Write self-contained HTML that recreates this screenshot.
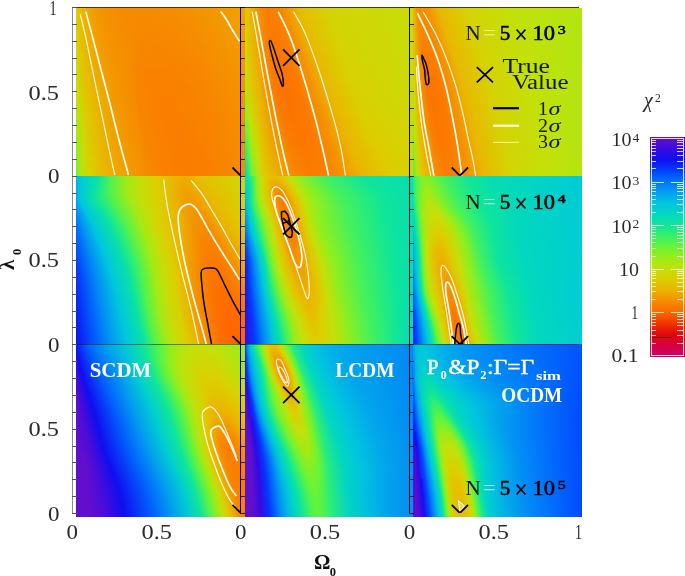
<!DOCTYPE html>
<html><head><meta charset="utf-8"><title>chi2 contours</title>
<style>
html,body{margin:0;padding:0;background:#fff}
#fig{position:relative;width:685px;height:576px;overflow:hidden;background:#fff;font-family:"Liberation Serif",serif}
.p{position:absolute;overflow:hidden}
.p i{display:block;height:2px;width:100%}
#ov{position:absolute;left:0;top:0}
</style></head><body><div id="fig">
<div class="p" style="left:76px;top:7.5px;width:169px;height:168px"><i style="background:linear-gradient(90deg,#decc00 0%,#ecb200 5%,#f29d00 10%,#f59100 16.1%,#f68c00 25.1%,#f68b00 30.1%,#f68b00 35.1%,#f68a00 40.2%,#f68c00 53.5%,#f59100 66.8%,#f39800 80.1%,#f0a300 100%)"></i><i style="background:linear-gradient(90deg,#ddcd00 0%,#ecb300 5%,#f19d00 10.1%,#f59100 16.2%,#f68c00 25.3%,#f68b00 30.4%,#f68a00 35.5%,#f68a00 40.5%,#f68c00 53.8%,#f59100 67%,#f39800 80.3%,#f0a200 100%)"></i><i style="background:linear-gradient(90deg,#dccd01 0%,#ebb300 5%,#f19e00 10.1%,#f59100 16.3%,#f68c00 25.5%,#f68b00 30.6%,#f68a00 35.8%,#f78a00 40.9%,#f68c00 54.1%,#f59000 67.3%,#f39700 80.5%,#f0a200 100%)"></i><i style="background:linear-gradient(90deg,#dcce01 0%,#ebb400 5%,#f19e00 10.2%,#f59100 16.4%,#f68c00 25.7%,#f68b00 30.9%,#f78a00 36.1%,#f78a00 41.3%,#f68b00 54.4%,#f59000 67.5%,#f39700 80.7%,#f0a200 100%)"></i><i style="background:linear-gradient(90deg,#dbce01 0%,#ebb400 5%,#f19f00 10.2%,#f59200 16.6%,#f68c00 25.9%,#f68b00 31.2%,#f78a00 36.4%,#f78900 41.6%,#f68b00 54.7%,#f59000 67.8%,#f39700 80.9%,#f0a100 100%)"></i><i style="background:linear-gradient(90deg,#dbce01 0%,#ebb500 5%,#f19f00 10.3%,#f49200 16.7%,#f68c00 26.2%,#f68a00 31.4%,#f78900 36.7%,#f78900 42%,#f68b00 55%,#f58f00 68%,#f39700 81.1%,#f1a100 100%)"></i><i style="background:linear-gradient(90deg,#dacf01 0%,#eab500 5%,#f1a000 10.3%,#f49200 16.9%,#f68c00 26.4%,#f68a00 31.7%,#f78900 37%,#f78900 42.4%,#f68a00 55.3%,#f58f00 68.3%,#f39600 81.2%,#f1a000 100%)"></i><i style="background:linear-gradient(90deg,#dacf02 0%,#eab500 5%,#f1a000 10.4%,#f49200 17%,#f68c00 26.6%,#f68a00 32%,#f78900 37.4%,#f78900 42.7%,#f68a00 55.6%,#f58f00 68.5%,#f39600 81.4%,#f1a000 100%)"></i><i style="background:linear-gradient(90deg,#d9d002 0%,#eab600 5%,#f1a100 10.5%,#f49300 17.2%,#f68c00 26.9%,#f78a00 32.3%,#f78900 37.7%,#f78800 43.1%,#f78a00 56%,#f58e00 68.8%,#f39600 81.6%,#f1a000 100%)"></i><i style="background:linear-gradient(90deg,#d9d002 0%,#eab600 5%,#f0a100 10.5%,#f49300 17.3%,#f68c00 27.1%,#f78a00 32.6%,#f78900 38%,#f78800 43.5%,#f78a00 56.3%,#f58e00 69%,#f49500 81.8%,#f19f00 100%)"></i><i style="background:linear-gradient(90deg,#d8d102 0%,#e9b700 5%,#f0a100 10.6%,#f49300 17.5%,#f68c00 27.4%,#f78a00 32.9%,#f78800 38.4%,#f78800 43.9%,#f78900 56.6%,#f68e00 69.3%,#f49500 82%,#f19f00 100%)"></i><i style="background:linear-gradient(90deg,#d8d102 0%,#e9b700 5%,#f0a200 10.7%,#f49300 17.6%,#f68c00 27.6%,#f78a00 33.2%,#f78800 38.7%,#f78700 44.2%,#f78900 56.9%,#f68e00 69.6%,#f49500 82.2%,#f19e00 100%)"></i><i style="background:linear-gradient(90deg,#d7d103 0%,#e9b800 5%,#f0a200 10.7%,#f49300 17.8%,#f68c00 27.9%,#f78900 33.5%,#f78800 39%,#f78700 44.6%,#f78900 57.2%,#f68d00 69.8%,#f49400 82.4%,#f19e00 100%)"></i><i style="background:linear-gradient(90deg,#d7d203 0%,#e9b800 5%,#f0a300 10.8%,#f49400 18%,#f68c00 28.1%,#f78900 33.8%,#f78800 39.4%,#f78700 45%,#f78800 57.5%,#f68d00 70.1%,#f49400 82.6%,#f19e00 100%)"></i><i style="background:linear-gradient(90deg,#d6d203 0%,#e9b800 5%,#f0a300 10.8%,#f49400 18.1%,#f68c00 28.4%,#f78900 34.1%,#f78700 39.7%,#f78700 45.4%,#f78800 57.9%,#f68d00 70.3%,#f49400 82.8%,#f19d00 100%)"></i><i style="background:linear-gradient(90deg,#d6d303 0%,#e8b900 5%,#f0a400 10.9%,#f49400 18.3%,#f68c00 28.6%,#f78900 34.3%,#f78700 40.1%,#f78600 45.8%,#f78800 58.2%,#f68c00 70.6%,#f49300 83%,#f29d00 100%)"></i><i style="background:linear-gradient(90deg,#d5d303 0%,#e8b900 5%,#f0a400 11%,#f49400 18.4%,#f68c00 28.9%,#f78900 34.6%,#f78700 40.4%,#f78600 46.1%,#f78800 58.5%,#f68c00 70.8%,#f49300 83.2%,#f29c00 100%)"></i><i style="background:linear-gradient(90deg,#d4d304 0%,#e8ba00 5%,#f0a400 11%,#f49400 18.6%,#f68c00 29.1%,#f78900 34.9%,#f78600 40.7%,#f88600 46.5%,#f78700 58.8%,#f68c00 71.1%,#f49300 83.4%,#f29c00 100%)"></i><i style="background:linear-gradient(90deg,#d4d404 0%,#e8ba00 5%,#efa500 11.1%,#f49500 18.8%,#f68c00 29.4%,#f78800 35.2%,#f78600 41%,#f88500 46.9%,#f78700 59.1%,#f68b00 71.3%,#f49200 83.6%,#f29c00 100%)"></i><i style="background:linear-gradient(90deg,#d3d404 0%,#e7ba00 5%,#efa500 11.2%,#f49500 18.9%,#f68c00 29.6%,#f78800 35.5%,#f78600 41.4%,#f88500 47.2%,#f78700 59.4%,#f68b00 71.6%,#f49200 83.8%,#f29b00 100%)"></i><i style="background:linear-gradient(90deg,#d3d504 0%,#e7bb00 5%,#efa600 11.2%,#f49500 19.1%,#f68c00 29.9%,#f78800 35.8%,#f88600 41.7%,#f88500 47.6%,#f78600 59.7%,#f68b00 71.9%,#f49200 84%,#f29b00 100%)"></i><i style="background:linear-gradient(90deg,#d2d504 0%,#e7bb00 5%,#efa600 11.3%,#f49500 19.2%,#f68c00 30.1%,#f78800 36.1%,#f88600 42%,#f88500 48%,#f78600 60.1%,#f68b00 72.1%,#f59100 84.2%,#f29b00 100%)"></i><i style="background:linear-gradient(90deg,#d2d505 0%,#e7bc00 5%,#efa600 11.3%,#f49500 19.3%,#f68c00 30.3%,#f78800 36.4%,#f88500 42.4%,#f88400 48.4%,#f88600 60.4%,#f68a00 72.4%,#f59100 84.4%,#f29a00 100%)"></i><i style="background:linear-gradient(90deg,#d1d605 0%,#e7bc00 5%,#efa700 11.4%,#f39600 19.5%,#f68c00 30.6%,#f78800 36.6%,#f88500 42.7%,#f88400 48.7%,#f88600 60.7%,#f78a00 72.6%,#f59100 84.5%,#f29a00 100%)"></i><i style="background:linear-gradient(90deg,#d1d605 0%,#e6bd00 5%,#efa700 11.5%,#f39600 19.6%,#f68c00 30.8%,#f78800 36.9%,#f88500 43%,#f88400 49.1%,#f88500 61%,#f78a00 72.9%,#f59100 84.7%,#f29900 100%)"></i><i style="background:linear-gradient(90deg,#d0d705 0%,#e6bd00 5%,#efa800 11.5%,#f39600 19.8%,#f68c00 31%,#f78700 37.2%,#f88500 43.3%,#f88400 49.5%,#f88500 61.3%,#f78900 73.1%,#f59000 84.9%,#f39900 100%)"></i><i style="background:linear-gradient(90deg,#d0d706 0%,#e6be00 5%,#efa800 11.6%,#f39600 19.9%,#f68c00 31.2%,#f78700 37.4%,#f88400 43.6%,#f88300 49.8%,#f88500 61.6%,#f78900 73.4%,#f59000 85.1%,#f39900 100%)"></i><i style="background:linear-gradient(90deg,#cfd806 0%,#e5be00 5%,#eea900 11.6%,#f39700 20%,#f68c00 31.4%,#f78700 37.7%,#f88400 43.9%,#f88300 50.2%,#f88500 61.9%,#f78900 73.6%,#f59000 85.3%,#f39800 100%)"></i><i style="background:linear-gradient(90deg,#ced806 0%,#e5bf00 5%,#eea900 11.7%,#f39700 20.1%,#f68c00 31.6%,#f78700 37.9%,#f88400 44.2%,#f88300 50.5%,#f88400 62.2%,#f78900 73.9%,#f58f00 85.5%,#f39800 100%)"></i><i style="background:linear-gradient(90deg,#ced906 0%,#e5bf00 5%,#eeaa00 11.7%,#f39700 20.2%,#f68c00 31.8%,#f78700 38.2%,#f88400 44.5%,#f88300 50.9%,#f88400 62.5%,#f78800 74.1%,#f58f00 85.7%,#f39800 100%)"></i><i style="background:linear-gradient(90deg,#cdd907 0%,#e5c000 5%,#eeaa00 11.7%,#f39700 20.3%,#f68c00 32%,#f78700 38.4%,#f88400 44.8%,#f88200 51.2%,#f88400 62.8%,#f78800 74.3%,#f58f00 85.9%,#f39700 100%)"></i><i style="background:linear-gradient(90deg,#ccda07 0%,#e4c000 5%,#eeab00 11.8%,#f39800 20.4%,#f68c00 32.1%,#f78700 38.6%,#f88300 45.1%,#f88200 51.6%,#f88400 63.1%,#f78800 74.6%,#f58f00 86.1%,#f39700 100%)"></i><i style="background:linear-gradient(90deg,#ccda07 0%,#e4c100 5%,#eeac00 11.8%,#f39800 20.5%,#f68c00 32.3%,#f78700 38.8%,#f88300 45.4%,#f98200 51.9%,#f88300 63.4%,#f78800 74.8%,#f58e00 86.3%,#f39700 100%)"></i><i style="background:linear-gradient(90deg,#cbdb07 0%,#e4c100 5%,#eeac00 11.8%,#f39800 20.6%,#f68c00 32.4%,#f78700 39%,#f88300 45.7%,#f98200 52.3%,#f88300 63.7%,#f78700 75.1%,#f58e00 86.5%,#f39600 100%)"></i><i style="background:linear-gradient(90deg,#cadb08 0%,#e3c200 5%,#edad00 11.9%,#f39900 20.7%,#f68c00 32.5%,#f78600 39.2%,#f88300 45.9%,#f98200 52.6%,#f88300 64%,#f78700 75.3%,#f68e00 86.6%,#f39600 100%)"></i><i style="background:linear-gradient(90deg,#c9dc08 0%,#e3c200 5%,#edad00 11.9%,#f39900 20.8%,#f68c00 32.6%,#f78600 39.4%,#f88300 46.2%,#f98100 52.9%,#f88300 64.2%,#f78700 75.5%,#f68d00 86.8%,#f39600 100%)"></i><i style="background:linear-gradient(90deg,#c9dc08 0%,#e3c300 5%,#edae00 11.9%,#f39900 20.8%,#f68c00 32.7%,#f78600 39.6%,#f88300 46.4%,#f98100 53.3%,#f88300 64.5%,#f78700 75.8%,#f68d00 87%,#f49500 100%)"></i><i style="background:linear-gradient(90deg,#c8dd09 0%,#e2c400 5%,#edaf00 12%,#f29a00 20.9%,#f68c00 32.8%,#f78600 39.8%,#f88200 46.7%,#f98100 53.6%,#f88300 64.8%,#f78700 76%,#f68d00 87.2%,#f49500 100%)"></i><i style="background:linear-gradient(90deg,#c7de09 0%,#e2c400 5%,#edaf00 12%,#f29a00 20.9%,#f68c00 32.9%,#f78600 39.9%,#f88200 46.9%,#f98100 53.9%,#f88200 65.1%,#f78600 76.2%,#f68d00 87.4%,#f49500 100%)"></i><i style="background:linear-gradient(90deg,#c6de09 0%,#e2c500 5%,#edb000 12%,#f29a00 21%,#f68c00 32.9%,#f78600 40%,#f88200 47.1%,#f98100 54.2%,#f88200 65.3%,#f78600 76.4%,#f68d00 87.5%,#f49400 100%)"></i><i style="background:linear-gradient(90deg,#c5df09 0%,#e1c600 5%,#ecb100 12%,#f29b00 21%,#f68c00 33%,#f88600 40.2%,#f88200 47.4%,#f98100 54.5%,#f88200 65.6%,#f78600 76.7%,#f68c00 87.7%,#f49400 100%)"></i><i style="background:linear-gradient(90deg,#c4e00a 0%,#e1c600 5%,#ecb200 12%,#f29b00 21%,#f68c00 33%,#f88600 40.3%,#f98200 47.6%,#f98100 54.9%,#f98200 65.9%,#f88600 76.9%,#f68c00 87.9%,#f49400 100%)"></i><i style="background:linear-gradient(90deg,#c3e00a 0%,#e1c700 5%,#ecb200 12%,#f29b00 21%,#f68c00 33%,#f88600 40.4%,#f98200 47.8%,#f98000 55.1%,#f98200 66.1%,#f88600 77.1%,#f68c00 88.1%,#f49300 100%)"></i><i style="background:linear-gradient(90deg,#c2e10b 0%,#e0c800 5%,#ecb300 12%,#f29c00 21%,#f68c00 33%,#f88600 40.5%,#f98200 48%,#f98000 55.4%,#f98200 66.4%,#f88600 77.3%,#f68c00 88.3%,#f49300 100%)"></i><i style="background:linear-gradient(90deg,#c0e10b 0%,#e0c900 5%,#ebb300 12%,#f29c00 21%,#f68c00 33%,#f88600 40.6%,#f98200 48.1%,#f98000 55.7%,#f98200 66.6%,#f88600 77.5%,#f68c00 88.4%,#f49300 100%)"></i><i style="background:linear-gradient(90deg,#bfe20c 0%,#dfca00 5%,#ebb400 11.9%,#f29d00 21%,#f68c00 33%,#f88600 40.6%,#f98200 48.3%,#f98000 56%,#f98200 66.9%,#f88500 77.8%,#f68b00 88.6%,#f49300 100%)"></i><i style="background:linear-gradient(90deg,#bde20c 0%,#dfca00 5%,#ebb500 11.9%,#f19d00 21%,#f68c00 32.9%,#f88600 40.7%,#f98200 48.5%,#f98000 56.3%,#f98100 67.1%,#f88500 78%,#f68b00 88.8%,#f49200 100%)"></i><i style="background:linear-gradient(90deg,#bce30d 0%,#decb00 4.9%,#eab500 11.9%,#f19e00 20.9%,#f68d00 32.9%,#f88600 40.8%,#f98200 48.7%,#f98000 56.6%,#f98100 67.4%,#f88500 78.2%,#f68b00 89%,#f49200 100%)"></i><i style="background:linear-gradient(90deg,#bae30e 0%,#decc00 4.9%,#eab600 11.8%,#f19e00 20.9%,#f68d00 32.9%,#f88600 40.8%,#f98200 48.8%,#f98000 56.8%,#f98100 67.6%,#f88500 78.4%,#f68b00 89.1%,#f49200 100%)"></i><i style="background:linear-gradient(90deg,#b8e40e 0%,#ddcd00 4.9%,#eab700 11.8%,#f19f00 20.9%,#f68d00 32.8%,#f78600 40.9%,#f98100 49%,#f98000 57.1%,#f98100 67.8%,#f88500 78.6%,#f68b00 89.3%,#f49200 100%)"></i><i style="background:linear-gradient(90deg,#b6e40f 0%,#dccd01 4.9%,#e9b700 11.7%,#f19f00 20.8%,#f68d00 32.8%,#f78600 41%,#f98100 49.2%,#f98000 57.4%,#f98100 68.1%,#f88500 78.8%,#f68b00 89.5%,#f59200 100%)"></i><i style="background:linear-gradient(90deg,#b5e50f 0%,#dbce01 4.8%,#e9b800 11.7%,#f1a000 20.8%,#f68e00 32.7%,#f78600 41%,#f98100 49.3%,#f98000 57.6%,#f98100 68.3%,#f88500 79%,#f68b00 89.6%,#f59100 100%)"></i><i style="background:linear-gradient(90deg,#b3e510 0%,#dacf01 4.8%,#e8b900 11.6%,#f1a000 20.8%,#f58e00 32.7%,#f78600 41.1%,#f98100 49.5%,#f98000 57.9%,#f98100 68.5%,#f88500 79.2%,#f68a00 89.8%,#f59100 100%)"></i><i style="background:linear-gradient(90deg,#b1e611 0%,#d9d002 4.7%,#e8b900 11.6%,#f1a100 20.7%,#f58e00 32.6%,#f78700 41.1%,#f98100 49.6%,#f98000 58.1%,#f98100 68.7%,#f88500 79.4%,#f68a00 90%,#f59100 100%)"></i><i style="background:linear-gradient(90deg,#afe611 0%,#d8d002 4.7%,#e8ba00 11.5%,#f0a100 20.7%,#f58f00 32.6%,#f78700 41.1%,#f98100 49.7%,#f98000 58.3%,#f98100 69%,#f88500 79.5%,#f68a00 90.2%,#f59100 100%)"></i><i style="background:linear-gradient(90deg,#ade712 0%,#d7d103 4.7%,#e7bb00 11.4%,#f0a200 20.6%,#f58f00 32.5%,#f78700 41.2%,#f98200 49.9%,#f98000 58.6%,#f98100 69.2%,#f88400 79.7%,#f68a00 90.3%,#f59100 100%)"></i><i style="background:linear-gradient(90deg,#abe713 0%,#d6d203 4.6%,#e7bc00 11.3%,#f0a200 20.6%,#f59000 32.4%,#f78700 41.2%,#f98200 50%,#f98000 58.8%,#f98100 69.4%,#f88400 79.9%,#f78a00 90.5%,#f59000 100%)"></i><i style="background:linear-gradient(90deg,#a9e813 0%,#d5d303 4.6%,#e6bc00 11.2%,#f0a300 20.6%,#f59000 32.3%,#f78700 41.2%,#f98200 50.1%,#f98000 59.1%,#f98100 69.6%,#f88400 80.1%,#f78a00 90.7%,#f59000 100%)"></i><i style="background:linear-gradient(90deg,#a7e914 0%,#d4d304 4.5%,#e6bd00 11.1%,#f0a300 20.5%,#f59100 32.3%,#f78800 41.3%,#f98200 50.3%,#f97f00 59.3%,#f98100 69.8%,#f88400 80.3%,#f78a00 90.8%,#f59000 100%)"></i><i style="background:linear-gradient(90deg,#a6e915 0%,#d3d404 4.5%,#e6be00 11%,#f0a400 20.4%,#f59100 32.2%,#f78800 41.3%,#f98200 50.4%,#f97f00 59.5%,#f98100 70%,#f88400 80.5%,#f78a00 91%,#f59000 100%)"></i><i style="background:linear-gradient(90deg,#a4ea15 0%,#d2d505 4.4%,#e5bf00 10.9%,#f0a400 20.4%,#f59200 32.1%,#f78800 41.3%,#f98200 50.5%,#f97f00 59.8%,#f98100 70.2%,#f88400 80.7%,#f78a00 91.1%,#f59000 100%)"></i><i style="background:linear-gradient(90deg,#a2ea16 0%,#d1d605 4.3%,#e5bf00 10.8%,#efa500 20.3%,#f49200 32%,#f78800 41.3%,#f98200 50.6%,#f97f00 60%,#f98100 70.4%,#f88400 80.9%,#f78a00 91.3%,#f59000 100%)"></i><i style="background:linear-gradient(90deg,#a0eb17 0%,#d0d705 4.3%,#e4c000 10.7%,#efa600 20.3%,#f49300 31.9%,#f78800 41.3%,#f98200 50.8%,#f97f00 60.2%,#f98100 70.6%,#f88400 81%,#f78900 91.5%,#f58f00 100%)"></i><i style="background:linear-gradient(90deg,#9dec17 0%,#cfd706 4.2%,#e4c100 10.6%,#efa600 20.2%,#f49300 31.8%,#f78900 41.4%,#f98200 50.9%,#f97f00 60.4%,#f98100 70.8%,#f88400 81.2%,#f78900 91.6%,#f58f00 100%)"></i><i style="background:linear-gradient(90deg,#9bec18 0%,#ced806 4.2%,#e4c200 10.5%,#efa700 20.2%,#f49400 31.7%,#f78900 41.4%,#f98200 51%,#f97f00 60.7%,#f98100 71%,#f88400 81.4%,#f78900 91.8%,#f58f00 100%)"></i><i style="background:linear-gradient(90deg,#99ed1a 0%,#cdd907 4.1%,#e3c300 10.4%,#efa700 20.1%,#f49400 31.6%,#f78900 41.4%,#f98200 51.1%,#f97f00 60.9%,#f98100 71.2%,#f88400 81.6%,#f78900 92%,#f58f00 100%)"></i><i style="background:linear-gradient(90deg,#96ed1c 0%,#ccda07 4%,#e3c300 10.3%,#efa800 20%,#f49500 31.6%,#f78a00 41.4%,#f88200 51.2%,#f97f00 61.1%,#f98100 71.4%,#f88400 81.8%,#f78900 92.1%,#f58f00 100%)"></i><i style="background:linear-gradient(90deg,#93ed1d 0%,#cbdb07 4%,#e2c400 10.2%,#efa800 20%,#f49500 31.5%,#f78a00 41.4%,#f88200 51.4%,#f97f00 61.3%,#f98000 71.6%,#f88400 82%,#f78900 92.3%,#f58f00 100%)"></i><i style="background:linear-gradient(90deg,#91ee1f 0%,#cadc08 3.9%,#e2c500 10.1%,#eea900 19.9%,#f39600 31.4%,#f68a00 41.4%,#f88200 51.5%,#f97f00 61.5%,#f98000 71.8%,#f88400 82.2%,#f78900 92.5%,#f58e00 100%)"></i><i style="background:linear-gradient(90deg,#8eee21 0%,#c9dc08 3.9%,#e1c600 10%,#eeaa00 19.9%,#f39700 31.3%,#f68a00 41.4%,#f88200 51.6%,#f97f00 61.7%,#f98000 72%,#f88400 82.3%,#f78900 92.6%,#f58e00 100%)"></i><i style="background:linear-gradient(90deg,#8bef22 0%,#c8dd09 3.8%,#e1c700 9.9%,#eeaa00 19.8%,#f39700 31.2%,#f68b00 41.4%,#f88200 51.7%,#f97f00 62%,#f98000 72.2%,#f88400 82.5%,#f78900 92.8%,#f58e00 100%)"></i><i style="background:linear-gradient(90deg,#89ef24 0%,#c7de09 3.7%,#e0c700 9.8%,#eeab00 19.7%,#f39800 31.1%,#f68b00 41.4%,#f88200 51.8%,#f97f00 62.2%,#f98000 72.4%,#f88400 82.7%,#f78900 93%,#f58e00 100%)"></i><i style="background:linear-gradient(90deg,#86ef26 0%,#c6df09 3.7%,#e0c800 9.7%,#eeab00 19.7%,#f39800 31%,#f68b00 41.5%,#f88200 51.9%,#f97f00 62.4%,#f98000 72.6%,#f88400 82.9%,#f78900 93.1%,#f68e00 100%)"></i><i style="background:linear-gradient(90deg,#83f027 0%,#c4e00a 3.6%,#e0c900 9.5%,#eeac00 19.6%,#f39900 30.9%,#f68c00 41.5%,#f88300 52%,#f97f00 62.6%,#f98000 72.8%,#f88400 83%,#f78900 93.3%,#f68e00 100%)"></i><i style="background:linear-gradient(90deg,#81f029 0%,#c3e00a 3.5%,#dfca00 9.4%,#edad00 19.5%,#f29900 30.8%,#f68c00 41.5%,#f88300 52.2%,#f97f00 62.8%,#f98000 73%,#f88400 83.2%,#f78900 93.4%,#f68e00 100%)"></i><i style="background:linear-gradient(90deg,#7ef12b 0%,#c1e10b 3.5%,#dfcb00 9.3%,#edad00 19.5%,#f29a00 30.7%,#f68c00 41.5%,#f88300 52.3%,#f97f00 63.1%,#f98000 73.2%,#f88300 83.4%,#f78800 93.6%,#f68d00 100%)"></i><i style="background:linear-gradient(90deg,#7bf12c 0%,#c0e10b 3.4%,#decb00 9.2%,#edae00 19.4%,#f29b00 30.6%,#f68c00 41.5%,#f88300 52.4%,#f97f00 63.3%,#f98000 73.4%,#f88300 83.6%,#f78800 93.8%,#f68d00 100%)"></i><i style="background:linear-gradient(90deg,#79f12e 0%,#bee20c 3.4%,#decc00 9.1%,#edae00 19.4%,#f29b00 30.5%,#f68d00 41.5%,#f88300 52.5%,#f97f00 63.5%,#f98000 73.6%,#f88300 83.8%,#f78800 93.9%,#f68d00 100%)"></i><i style="background:linear-gradient(90deg,#76f22f 0%,#bde20d 3.3%,#ddcd00 9%,#edaf00 19.3%,#f29c00 30.4%,#f68d00 41.5%,#f88300 52.6%,#f97f00 63.7%,#f98000 73.9%,#f88300 84%,#f78800 94.1%,#f68d00 100%)"></i><i style="background:linear-gradient(90deg,#73f231 0%,#bbe30d 3.2%,#dccd01 8.9%,#edb000 19.2%,#f29c00 30.3%,#f68d00 41.5%,#f88300 52.8%,#f97f00 63.9%,#f98000 74.1%,#f88300 84.2%,#f78800 94.3%,#f68d00 100%)"></i><i style="background:linear-gradient(90deg,#71f333 0%,#b9e30e 3.2%,#dbce01 8.8%,#edb000 19.2%,#f29d00 30.3%,#f68e00 41.6%,#f88300 52.9%,#f97f00 64.2%,#f98000 74.3%,#f88300 84.3%,#f78800 94.4%,#f68d00 100%)"></i><i style="background:linear-gradient(90deg,#6ef334 0%,#b8e40e 3.1%,#dbcf01 8.7%,#ecb100 19.1%,#f29d00 30.2%,#f68e00 41.6%,#f88300 53%,#f97f00 64.4%,#f98000 74.5%,#f88300 84.5%,#f78800 94.6%,#f68c00 100%)"></i><i style="background:linear-gradient(90deg,#6cf336 0%,#b6e40f 3.1%,#dacf02 8.6%,#ecb100 19.1%,#f19e00 30.1%,#f58e00 41.6%,#f88300 53.1%,#f97f00 64.6%,#f98000 74.7%,#f88300 84.7%,#f78800 94.8%,#f68c00 100%)"></i><i style="background:linear-gradient(90deg,#69f437 0%,#b5e50f 3%,#d9d002 8.5%,#ecb200 19%,#f19e00 30%,#f58e00 41.6%,#f88300 53.3%,#f97f00 64.9%,#f98000 74.9%,#f88300 84.9%,#f78800 94.9%,#f68c00 100%)"></i></div>
<div class="p" style="left:245px;top:7.5px;width:168px;height:168px"><i style="background:linear-gradient(90deg,#dfc900 0%,#e6bd00 2%,#f0a300 6%,#f68d00 8.7%,#f98000 11.4%,#fa7d00 14.1%,#f88400 20.2%,#f29d00 26.2%,#e6bc00 32.2%,#d4d404 50.2%,#c7de09 100%)"></i><i style="background:linear-gradient(90deg,#dfcb00 0%,#e6bd00 2%,#f0a300 6.1%,#f68d00 8.9%,#f98000 11.6%,#fa7d00 14.3%,#f88300 20.4%,#f29d00 26.6%,#e7bc00 32.6%,#d4d404 50.5%,#c7dd09 100%)"></i><i style="background:linear-gradient(90deg,#decc00 0%,#e6be00 2.1%,#f0a400 6.2%,#f68d00 9%,#f98000 11.8%,#fa7d00 14.6%,#f88300 20.8%,#f29d00 26.9%,#e7bc00 33.1%,#d4d404 50.9%,#c7dd09 100%)"></i><i style="background:linear-gradient(90deg,#ddcd00 0%,#e6be00 2.1%,#f0a400 6.2%,#f68d00 9.1%,#f98000 12%,#fa7d00 14.8%,#f88300 21%,#f29c00 27.3%,#e7bc00 33.5%,#d4d404 51.2%,#c8dd09 100%)"></i><i style="background:linear-gradient(90deg,#dccd01 0%,#e5be00 2.1%,#f0a400 6.3%,#f68d00 9.2%,#f97f00 12.1%,#fa7c00 15%,#f88300 21.3%,#f29c00 27.6%,#e7bc00 33.9%,#d4d404 51.6%,#c8dd09 100%)"></i><i style="background:linear-gradient(90deg,#dbce01 0%,#e5bf00 2.1%,#f0a500 6.4%,#f68d00 9.3%,#f97f00 12.3%,#fa7c00 15.3%,#f88200 21.6%,#f29c00 28%,#e7bc00 34.4%,#d4d304 51.9%,#c8dd09 100%)"></i><i style="background:linear-gradient(90deg,#dacf02 0%,#e5bf00 2.1%,#efa500 6.5%,#f68d00 9.5%,#f97f00 12.5%,#fa7c00 15.5%,#f98200 21.9%,#f29c00 28.3%,#e7bc00 34.8%,#d4d304 52.3%,#c8dd09 100%)"></i><i style="background:linear-gradient(90deg,#d9d002 0%,#e5bf00 2.2%,#efa500 6.5%,#f68d00 9.6%,#f97e00 12.7%,#fa7b00 15.7%,#f98200 22.2%,#f29b00 28.7%,#e7bb00 35.2%,#d4d304 52.6%,#c8dd08 100%)"></i><i style="background:linear-gradient(90deg,#d8d102 0%,#e5c000 2.2%,#efa600 6.6%,#f68d00 9.7%,#f97e00 12.8%,#fa7b00 15.9%,#f98100 22.5%,#f29b00 29.1%,#e7bb00 35.6%,#d5d304 52.9%,#c8dd08 100%)"></i><i style="background:linear-gradient(90deg,#d7d103 0%,#e4c000 2.2%,#efa600 6.7%,#f68d00 9.8%,#fa7e00 13%,#fa7b00 16.1%,#f98100 22.8%,#f29b00 29.4%,#e7bb00 36.1%,#d5d304 53.3%,#c8dd08 100%)"></i><i style="background:linear-gradient(90deg,#d6d203 0%,#e4c000 2.2%,#efa600 6.8%,#f68d00 10%,#fa7e00 13.2%,#fa7a00 16.4%,#f98100 23.1%,#f29b00 29.8%,#e7bb00 36.5%,#d5d304 53.6%,#c8dd08 100%)"></i><i style="background:linear-gradient(90deg,#d5d303 0%,#e4c100 2.3%,#efa700 6.8%,#f68d00 10.1%,#fa7d00 13.3%,#fb7a00 16.6%,#f98000 23.4%,#f29a00 30.1%,#e7bb00 36.9%,#d5d303 54%,#c8dd08 100%)"></i><i style="background:linear-gradient(90deg,#d4d304 0%,#e4c100 2.3%,#efa700 6.9%,#f68d00 10.2%,#fa7d00 13.5%,#fb7900 16.8%,#f98000 23.6%,#f29a00 30.5%,#e7bb00 37.4%,#d5d303 54.3%,#c9dd08 100%)"></i><i style="background:linear-gradient(90deg,#d3d404 0%,#e4c100 2.3%,#efa700 7%,#f68c00 10.3%,#fa7d00 13.7%,#fb7900 17%,#f98000 23.9%,#f29a00 30.9%,#e7bb00 37.8%,#d5d303 54.6%,#c9dc08 100%)"></i><i style="background:linear-gradient(90deg,#d2d504 0%,#e4c200 2.4%,#efa700 7%,#f68c00 10.4%,#fa7c00 13.8%,#fb7900 17.2%,#f97f00 24.2%,#f29a00 31.2%,#e7bb00 38.2%,#d5d303 55%,#c9dc08 100%)"></i><i style="background:linear-gradient(90deg,#d1d605 0%,#e3c200 2.4%,#efa800 7.1%,#f68c00 10.5%,#fa7c00 14%,#fb7800 17.4%,#f97f00 24.5%,#f29900 31.6%,#e7ba00 38.6%,#d5d303 55.3%,#c9dc08 100%)"></i><i style="background:linear-gradient(90deg,#d1d605 0%,#e3c200 2.4%,#efa800 7.2%,#f68c00 10.7%,#fa7c00 14.2%,#fb7800 17.6%,#f97f00 24.8%,#f39900 31.9%,#e8ba00 39.1%,#d5d303 55.7%,#c9dc08 100%)"></i><i style="background:linear-gradient(90deg,#d0d706 0%,#e3c200 2.4%,#efa800 7.2%,#f68c00 10.8%,#fa7c00 14.3%,#fb7800 17.9%,#f97e00 25.1%,#f39900 32.3%,#e8ba00 39.5%,#d6d203 56%,#c9dc08 100%)"></i><i style="background:linear-gradient(90deg,#cfd806 0%,#e3c300 2.4%,#eea900 7.3%,#f68c00 10.9%,#fa7b00 14.5%,#fb7700 18.1%,#fa7e00 25.4%,#f39900 32.6%,#e8ba00 39.9%,#d6d203 56.3%,#c9dc08 100%)"></i><i style="background:linear-gradient(90deg,#ced906 0%,#e3c300 2.5%,#eea900 7.4%,#f68c00 11%,#fa7b00 14.7%,#fb7700 18.3%,#fa7e00 25.7%,#f39800 33%,#e8ba00 40.4%,#d6d203 56.7%,#c9dc08 100%)"></i><i style="background:linear-gradient(90deg,#cdd907 0%,#e3c300 2.5%,#eea900 7.5%,#f68c00 11.2%,#fa7b00 14.8%,#fb7700 18.5%,#fa7d00 25.9%,#f39800 33.4%,#e8ba00 40.8%,#d6d203 57%,#c9dc08 100%)"></i><i style="background:linear-gradient(90deg,#ccda07 0%,#e2c400 2.5%,#eeaa00 7.5%,#f68c00 11.3%,#fa7a00 15%,#fb7600 18.7%,#fa7d00 26.2%,#f39800 33.7%,#e8ba00 41.2%,#d6d203 57.4%,#c9dc08 100%)"></i><i style="background:linear-gradient(90deg,#cbdb07 0%,#e2c400 2.5%,#eeaa00 7.6%,#f68c00 11.4%,#fa7a00 15.2%,#fc7600 19%,#fa7d00 26.5%,#f39800 34.1%,#e8ba00 41.6%,#d6d203 57.7%,#cadc08 100%)"></i><i style="background:linear-gradient(90deg,#cadc08 0%,#e2c400 2.6%,#eeaa00 7.7%,#f68c00 11.5%,#fb7a00 15.3%,#fc7600 19.2%,#fa7c00 26.8%,#f39700 34.4%,#e8b900 42.1%,#d6d203 58.1%,#cadc08 100%)"></i><i style="background:linear-gradient(90deg,#c9dc08 0%,#e2c500 2.6%,#eeab00 7.8%,#f68c00 11.6%,#fb7a00 15.5%,#fc7500 19.4%,#fa7c00 27.1%,#f39700 34.8%,#e8b900 42.5%,#d6d203 58.4%,#cadc08 100%)"></i><i style="background:linear-gradient(90deg,#c7dd09 0%,#e2c500 2.6%,#eeab00 7.8%,#f68c00 11.8%,#fb7900 15.7%,#fc7500 19.6%,#fa7c00 27.4%,#f39700 35.2%,#e8b900 42.9%,#d7d203 58.8%,#cadb08 100%)"></i><i style="background:linear-gradient(90deg,#c6de09 0%,#e1c600 2.6%,#eeab00 7.9%,#f68d00 11.9%,#fb7900 15.9%,#fc7500 19.9%,#fa7c00 27.7%,#f39700 35.5%,#e8b900 43.4%,#d7d203 59.1%,#cadb08 100%)"></i><i style="background:linear-gradient(90deg,#c5df0a 0%,#e1c600 2.6%,#eeac00 8%,#f68d00 12%,#fb7900 16.1%,#fc7400 20.1%,#fa7b00 28%,#f39600 35.9%,#e8b900 43.8%,#d7d203 59.5%,#cadb08 100%)"></i><i style="background:linear-gradient(90deg,#c4e00a 0%,#e1c700 2.7%,#eeac00 8%,#f68d00 12.1%,#fb7900 16.2%,#fc7400 20.3%,#fa7b00 28.3%,#f39600 36.3%,#e8b900 44.2%,#d7d103 59.8%,#cadb08 100%)"></i><i style="background:linear-gradient(90deg,#c2e10b 0%,#e1c700 2.7%,#edac00 8.1%,#f68d00 12.3%,#fb7900 16.4%,#fc7400 20.6%,#fa7b00 28.6%,#f39600 36.6%,#e8b900 44.6%,#d7d103 60.2%,#cadb08 100%)"></i><i style="background:linear-gradient(90deg,#c0e10b 0%,#e0c800 2.7%,#edad00 8.2%,#f68d00 12.4%,#fb7900 16.6%,#fc7400 20.8%,#fa7b00 28.9%,#f39600 37%,#e8b900 45.1%,#d7d103 60.5%,#cbdb07 100%)"></i><i style="background:linear-gradient(90deg,#bee20c 0%,#e0c800 2.8%,#edad00 8.2%,#f68d00 12.5%,#fb7800 16.8%,#fc7300 21.1%,#fa7a00 29.2%,#f39600 37.4%,#e8b800 45.5%,#d7d103 60.9%,#cbdb07 100%)"></i><i style="background:linear-gradient(90deg,#bce20d 0%,#e0c900 2.8%,#edae00 8.3%,#f68d00 12.7%,#fb7800 17%,#fc7300 21.3%,#fa7a00 29.5%,#f49500 37.7%,#e9b800 45.9%,#d7d103 61.3%,#cbdb07 100%)"></i><i style="background:linear-gradient(90deg,#bae30e 0%,#dfca00 2.8%,#edae00 8.4%,#f68d00 12.8%,#fb7800 17.2%,#fc7300 21.6%,#fb7a00 29.8%,#f49500 38.1%,#e9b800 46.4%,#d8d102 61.6%,#cbdb07 100%)"></i><i style="background:linear-gradient(90deg,#b8e40e 0%,#dfca00 2.8%,#edae00 8.5%,#f68d00 12.9%,#fb7800 17.4%,#fc7300 21.9%,#fb7a00 30.2%,#f49500 38.5%,#e9b800 46.8%,#d8d102 62%,#cbdb07 100%)"></i><i style="background:linear-gradient(90deg,#b5e40f 0%,#decb00 2.9%,#edaf00 8.5%,#f68e00 13.1%,#fb7800 17.6%,#fc7300 22.1%,#fb7a00 30.5%,#f49500 38.9%,#e9b800 47.2%,#d8d102 62.4%,#cbda07 100%)"></i><i style="background:linear-gradient(90deg,#b3e510 0%,#decc00 2.9%,#edaf00 8.6%,#f68e00 13.2%,#fb7800 17.8%,#fc7200 22.4%,#fb7900 30.8%,#f49500 39.2%,#e9b800 47.6%,#d8d102 62.8%,#cbda07 100%)"></i><i style="background:linear-gradient(90deg,#b0e611 0%,#ddcd00 2.9%,#edb000 8.7%,#f58e00 13.3%,#fb7800 18%,#fc7200 22.7%,#fb7900 31.1%,#f49400 39.6%,#e9b800 48.1%,#d8d102 63.2%,#ccda07 100%)"></i><i style="background:linear-gradient(90deg,#aee712 0%,#dccd01 2.9%,#ecb000 8.8%,#f58e00 13.5%,#fb7800 18.2%,#fc7200 23%,#fb7900 31.5%,#f49400 40%,#e9b800 48.5%,#d8d002 63.6%,#ccda07 100%)"></i><i style="background:linear-gradient(90deg,#abe713 0%,#dbce01 2.9%,#ecb100 8.8%,#f58e00 13.6%,#fb7800 18.4%,#fc7200 23.2%,#fb7900 31.8%,#f49400 40.4%,#e9b800 48.9%,#d8d002 64%,#ccda07 100%)"></i><i style="background:linear-gradient(90deg,#a8e814 0%,#dacf01 3%,#ecb100 8.9%,#f58f00 13.8%,#fb7800 18.7%,#fc7200 23.5%,#fb7900 32.1%,#f49400 40.8%,#e9b700 49.4%,#d9d002 64.4%,#ccda07 100%)"></i><i style="background:linear-gradient(90deg,#a5e915 0%,#d9d002 3%,#ecb200 9%,#f58f00 13.9%,#fb7800 18.9%,#fc7200 23.8%,#fb7900 32.5%,#f49400 41.1%,#e9b700 49.8%,#d9d002 64.8%,#ccda07 100%)"></i><i style="background:linear-gradient(90deg,#a2ea16 0%,#d8d002 3%,#ecb200 9%,#f58f00 14.1%,#fb7800 19.1%,#fc7200 24.2%,#fb7900 32.8%,#f49400 41.5%,#e9b700 50.2%,#d9d002 65.2%,#ccda07 100%)"></i><i style="background:linear-gradient(90deg,#9feb17 0%,#d7d103 3%,#ecb300 9.1%,#f59000 14.2%,#fb7800 19.4%,#fc7200 24.5%,#fb7900 33.2%,#f49400 41.9%,#e9b700 50.6%,#d9d002 65.6%,#cdd907 100%)"></i><i style="background:linear-gradient(90deg,#9cec18 0%,#d6d203 3.1%,#ebb300 9.2%,#f59000 14.4%,#fb7800 19.6%,#fc7200 24.8%,#fb7900 33.6%,#f49400 42.3%,#e9b700 51.1%,#d9d002 66.1%,#cdd907 100%)"></i><i style="background:linear-gradient(90deg,#98ed1b 0%,#d5d304 3.1%,#ebb300 9.2%,#f59000 14.5%,#fb7800 19.8%,#fc7200 25.1%,#fb7900 33.9%,#f49300 42.7%,#e9b700 51.5%,#d9d002 66.5%,#cdd907 100%)"></i><i style="background:linear-gradient(90deg,#93ed1d 0%,#d3d404 3.1%,#ebb400 9.3%,#f59100 14.7%,#fb7800 20.1%,#fc7200 25.5%,#fb7900 34.3%,#f49300 43.1%,#e9b700 51.9%,#dacf02 66.9%,#cdd906 100%)"></i><i style="background:linear-gradient(90deg,#8fee20 0%,#d2d505 3.1%,#ebb400 9.4%,#f59100 14.9%,#fb7900 20.3%,#fc7200 25.8%,#fb7900 34.6%,#f49300 43.5%,#eab700 52.4%,#dacf02 67.4%,#cdd906 100%)"></i><i style="background:linear-gradient(90deg,#8aef23 0%,#b3e510 1.6%,#d0d705 3.1%,#ebb500 9.5%,#f49200 15%,#fb7900 20.6%,#fc7300 26.1%,#fb7900 35%,#f49300 43.9%,#eab600 52.8%,#dacf02 67.8%,#ced906 100%)"></i><i style="background:linear-gradient(90deg,#85ef26 0%,#b0e611 1.6%,#cfd806 3.2%,#eab500 9.5%,#f49200 15.2%,#fb7900 20.8%,#fc7300 26.5%,#fb7900 35.4%,#f49300 44.3%,#eab600 53.2%,#dacf02 68.3%,#ced806 100%)"></i><i style="background:linear-gradient(90deg,#80f029 0%,#ade712 1.6%,#cdd906 3.2%,#eab600 9.6%,#f49300 15.4%,#fb7900 21.1%,#fc7300 26.9%,#fb7900 35.8%,#f49300 44.7%,#eab600 53.6%,#dacf01 68.7%,#ced806 100%)"></i><i style="background:linear-gradient(90deg,#7bf12c 0%,#a9e813 1.6%,#ccda07 3.2%,#eab600 9.7%,#f49300 15.5%,#fb7900 21.4%,#fc7300 27.2%,#fb7900 36.2%,#f49300 45.1%,#eab600 54.1%,#dacf01 69.2%,#ced806 100%)"></i><i style="background:linear-gradient(90deg,#76f22f 0%,#a6e914 1.6%,#cadb08 3.2%,#eab600 9.8%,#f49400 15.7%,#fb7a00 21.6%,#fc7300 27.6%,#fb7a00 36.5%,#f49300 45.5%,#eab600 54.5%,#dbcf01 69.7%,#cfd806 100%)"></i><i style="background:linear-gradient(90deg,#71f332 0%,#a3ea16 1.6%,#c9dc08 3.3%,#e9b700 9.8%,#f49400 15.9%,#fb7a00 21.9%,#fc7300 28%,#fb7a00 36.9%,#f49300 45.9%,#eab600 54.9%,#dbce01 70.1%,#cfd806 100%)"></i><i style="background:linear-gradient(90deg,#6cf336 0%,#a0eb17 1.7%,#c7de09 3.3%,#e9b700 9.9%,#f49500 16%,#fa7a00 22.2%,#fc7400 28.3%,#fb7a00 37.3%,#f49300 46.4%,#eab600 55.4%,#dbce01 70.6%,#cfd806 100%)"></i><i style="background:linear-gradient(90deg,#67f439 0%,#9cec18 1.7%,#c5df0a 3.3%,#e9b800 10%,#f49500 16.2%,#fa7b00 22.4%,#fc7400 28.7%,#fa7a00 37.7%,#f49300 46.8%,#eab600 55.8%,#dbce01 71.1%,#cfd706 100%)"></i><i style="background:linear-gradient(90deg,#62f33f 0%,#98ed1b 1.7%,#c3e00a 3.4%,#e9b800 10%,#f39600 16.4%,#fa7b00 22.7%,#fc7400 29.1%,#fa7a00 38.1%,#f49300 47.2%,#eab500 56.2%,#dbce01 71.5%,#d0d706 100%)"></i><i style="background:linear-gradient(90deg,#5df344 0%,#93ed1d 1.7%,#c1e10b 3.4%,#d9d002 6.7%,#e8b900 10.1%,#f39600 16.6%,#fa7b00 23%,#fc7400 29.5%,#fa7a00 38.5%,#f49300 47.6%,#eab500 56.6%,#dcce01 72%,#d0d705 100%)"></i><i style="background:linear-gradient(90deg,#58f349 0%,#8fee20 1.7%,#bee20c 3.4%,#d8d002 6.8%,#e8b900 10.2%,#f39700 16.7%,#fa7c00 23.3%,#fc7500 29.8%,#fa7b00 38.9%,#f49300 48%,#eab500 57.1%,#dcce01 72.5%,#d0d705 100%)"></i><i style="background:linear-gradient(90deg,#53f24e 0%,#8aef23 1.7%,#bbe30d 3.4%,#d7d103 6.8%,#e8ba00 10.2%,#f39700 16.9%,#fa7c00 23.6%,#fc7500 30.2%,#fa7b00 39.3%,#f49300 48.4%,#eab500 57.5%,#dcce01 73%,#d0d705 100%)"></i><i style="background:linear-gradient(90deg,#4ef253 0%,#86ef26 1.7%,#b8e40e 3.4%,#d6d203 6.9%,#e7ba00 10.3%,#f39800 17.1%,#fa7c00 23.9%,#fc7500 30.6%,#fa7b00 39.7%,#f49300 48.8%,#eab500 57.9%,#dccd01 73.5%,#d1d605 100%)"></i><i style="background:linear-gradient(90deg,#49f159 0%,#81f029 1.7%,#b5e40f 3.5%,#d5d304 6.9%,#e7bb00 10.4%,#f39900 17.3%,#fa7d00 24.1%,#fc7500 31%,#fa7b00 40.1%,#f49300 49.2%,#eab500 58.4%,#dccd01 74%,#d1d605 100%)"></i><i style="background:linear-gradient(90deg,#44f15e 0%,#7cf12c 1.7%,#b2e510 3.5%,#d4d404 7%,#e7bc00 10.5%,#f39900 17.4%,#fa7d00 24.4%,#fc7600 31.4%,#fa7c00 40.6%,#f49300 49.7%,#ebb500 58.8%,#ddcd01 74.4%,#d1d605 100%)"></i><i style="background:linear-gradient(90deg,#3ff063 0%,#77f22f 1.8%,#afe611 3.5%,#d2d504 7%,#e7bc00 10.5%,#f29a00 17.6%,#fa7d00 24.7%,#fb7600 31.8%,#fa7c00 40.9%,#f49300 50.1%,#ebb500 59.2%,#ddcd00 74.9%,#d1d605 100%)"></i><i style="background:linear-gradient(90deg,#39f069 0%,#73f232 1.8%,#ade712 3.5%,#d1d605 7.1%,#e6bd00 10.6%,#f29a00 17.8%,#fa7e00 25%,#fb7600 32.2%,#fa7c00 41.4%,#f49300 50.5%,#ebb400 59.6%,#ddcd00 75.4%,#d2d605 100%)"></i><i style="background:linear-gradient(90deg,#35ef6e 0%,#6ef335 1.8%,#aae813 3.6%,#d0d705 7.1%,#e6bd00 10.7%,#f29b00 18%,#f97e00 25.3%,#fb7700 32.6%,#fa7c00 41.8%,#f49300 50.9%,#ebb400 60.1%,#ddcd00 75.9%,#d2d505 100%)"></i><i style="background:linear-gradient(90deg,#30ee74 0%,#69f438 1.8%,#a7e914 3.6%,#cfd806 7.2%,#e6be00 10.8%,#f29c00 18.2%,#f97e00 25.6%,#fb7700 33%,#fa7c00 42.2%,#f49300 51.3%,#ebb400 60.5%,#decc00 76.4%,#d2d505 100%)"></i><i style="background:linear-gradient(90deg,#2bec79 0%,#64f43c 1.8%,#a4ea15 3.6%,#cdd906 7.2%,#e5be00 10.8%,#f29c00 18.4%,#f97f00 25.9%,#fb7700 33.4%,#fa7d00 42.6%,#f49300 51.8%,#ebb400 60.9%,#decc00 76.9%,#d2d504 100%)"></i><i style="background:linear-gradient(90deg,#26eb7f 0%,#60f340 1.8%,#a1eb16 3.6%,#ccda07 7.3%,#e5bf00 10.9%,#f29d00 18.5%,#f97f00 26.2%,#fb7800 33.8%,#fa7d00 43%,#f49300 52.2%,#ebb400 61.4%,#decc00 77.4%,#d3d504 100%)"></i><i style="background:linear-gradient(90deg,#21ea84 0%,#5cf345 1.8%,#9eec17 3.6%,#cbdb07 7.3%,#e5bf00 11%,#f19d00 18.7%,#f98000 26.5%,#fb7800 34.2%,#fa7d00 43.4%,#f49300 52.6%,#ebb400 61.8%,#decc00 77.9%,#d3d504 100%)"></i><i style="background:linear-gradient(90deg,#1de98a 0%,#57f349 1.8%,#9aec19 3.7%,#cadc08 7.4%,#e5c000 11%,#f19e00 18.9%,#f98000 26.8%,#fb7800 34.6%,#fa7d00 43.8%,#f49300 53%,#ebb400 62.2%,#decc00 78.4%,#d3d404 100%)"></i><i style="background:linear-gradient(90deg,#18e88f 0%,#53f24e 1.8%,#96ed1b 3.7%,#c8dd08 7.4%,#e4c000 11.1%,#f19f00 19.1%,#f98000 27.1%,#fb7900 35%,#fa7e00 44.2%,#f49300 53.4%,#ebb400 62.6%,#decb00 78.9%,#d3d404 100%)"></i><i style="background:linear-gradient(90deg,#13e795 0%,#4ef253 1.9%,#93ed1e 3.7%,#c7de09 7.4%,#e4c100 11.2%,#f19f00 19.3%,#f98100 27.4%,#fb7900 35.5%,#fa7e00 44.7%,#f49300 53.9%,#ebb300 63.1%,#decb00 79.4%,#d4d404 100%)"></i><i style="background:linear-gradient(90deg,#0fe59a 0%,#4af157 1.9%,#8fee20 3.8%,#c6de09 7.5%,#e4c100 11.2%,#f1a000 19.4%,#f98100 27.7%,#fb7900 35.9%,#f97e00 45.1%,#f49300 54.3%,#ebb300 63.5%,#dfcb00 79.9%,#d4d404 100%)"></i><i style="background:linear-gradient(90deg,#0ee49e 0%,#46f15b 1.9%,#8bef23 3.8%,#c5df0a 7.5%,#e3c200 11.3%,#f1a100 19.6%,#f98200 28%,#fb7900 36.3%,#f97e00 45.5%,#f49400 54.7%,#ebb300 63.9%,#dfcb00 80.4%,#d4d304 100%)"></i><i style="background:linear-gradient(90deg,#0ce2a2 0%,#42f160 1.9%,#87ef25 3.8%,#c3e00a 7.6%,#e3c200 11.4%,#f0a100 19.8%,#f98200 28.2%,#fb7a00 36.7%,#f97f00 45.9%,#f49400 55.1%,#ebb300 64.4%,#dfcb00 80.9%,#d5d304 100%)"></i><i style="background:linear-gradient(90deg,#0be1a7 0%,#3df065 1.9%,#83f027 3.8%,#c1e10b 7.6%,#e3c300 11.5%,#f0a200 20%,#f88200 28.5%,#fa7a00 37.1%,#f97f00 46.3%,#f49400 55.5%,#ebb300 64.8%,#dfca00 81.4%,#d5d304 100%)"></i><i style="background:linear-gradient(90deg,#09dfab 0%,#39f069 1.9%,#80f029 3.9%,#c0e10c 7.7%,#e3c300 11.5%,#f0a200 20.2%,#f88300 28.8%,#fa7a00 37.5%,#f97f00 46.7%,#f49400 56%,#ecb300 65.2%,#dfca00 81.8%,#d5d303 100%)"></i><i style="background:linear-gradient(90deg,#08deaf 0%,#35ef6e 1.9%,#7cf12c 3.9%,#bee20c 7.7%,#e2c400 11.6%,#f0a300 20.4%,#f88300 29.1%,#fa7b00 37.9%,#f97f00 47.1%,#f49400 56.4%,#ecb300 65.6%,#dfca00 82.3%,#d5d303 100%)"></i><i style="background:linear-gradient(90deg,#06dcb3 0%,#32ee72 1.9%,#78f22e 3.9%,#bce20d 7.8%,#e2c500 11.7%,#f0a400 20.5%,#f88300 29.4%,#fa7b00 38.2%,#f98000 47.5%,#f49400 56.8%,#ecb300 66.1%,#dfca00 82.8%,#d6d203 100%)"></i><i style="background:linear-gradient(90deg,#04dab7 0%,#2eed76 2%,#75f230 3.9%,#bae30d 7.8%,#e2c500 11.8%,#f0a400 20.7%,#f88400 29.7%,#fa7b00 38.6%,#f98000 47.9%,#f49400 57.2%,#ecb200 66.5%,#dfca00 83.3%,#d6d203 100%)"></i><i style="background:linear-gradient(90deg,#03d9bb 0%,#2aec7a 2%,#71f333 3.9%,#b8e30e 7.9%,#e1c600 11.8%,#efa500 20.9%,#f88400 30%,#fa7c00 39%,#f98000 48.3%,#f49400 57.6%,#ecb200 66.9%,#dfc900 83.8%,#d6d203 100%)"></i><i style="background:linear-gradient(90deg,#02d7bf 0%,#26eb7f 2%,#6df335 4%,#b7e40f 7.9%,#e1c600 11.9%,#efa500 21.1%,#f88400 30.2%,#fa7c00 39.4%,#f98000 48.7%,#f49400 58.1%,#ecb200 67.4%,#e0c900 84.3%,#d6d203 100%)"></i><i style="background:linear-gradient(90deg,#02d5c3 0%,#22ea83 2%,#6af437 4%,#b5e50f 8%,#e1c700 12%,#efa600 21.2%,#f88500 30.5%,#fa7c00 39.8%,#f98100 49.1%,#f49400 58.5%,#ecb200 67.8%,#e0c900 84.8%,#d7d203 100%)"></i></div>
<div class="p" style="left:413px;top:7.5px;width:169px;height:168px"><i style="background:linear-gradient(90deg,#e9b800 0%,#f0a300 1.5%,#f49500 2.4%,#f68d00 3.2%,#f68c00 4.1%,#f58f00 7.8%,#f1a000 11.5%,#e9b700 15.2%,#d4d404 33.2%,#c1e10b 60.1%,#b4e510 100%)"></i><i style="background:linear-gradient(90deg,#e8b900 0%,#f0a400 1.5%,#f49500 2.4%,#f68d00 3.3%,#f68b00 4.2%,#f58f00 8%,#f19f00 11.8%,#e9b700 15.5%,#d4d404 33.5%,#c1e10b 60.4%,#b4e510 100%)"></i><i style="background:linear-gradient(90deg,#e7bb00 0%,#f0a500 1.5%,#f49500 2.5%,#f68c00 3.4%,#f68a00 4.4%,#f58e00 8.2%,#f19f00 12.1%,#e9b700 15.9%,#d4d404 33.8%,#c1e10b 60.6%,#b4e510 100%)"></i><i style="background:linear-gradient(90deg,#e7bc00 0%,#efa500 1.5%,#f49500 2.5%,#f68c00 3.5%,#f78a00 4.5%,#f68e00 8.4%,#f19f00 12.3%,#e9b700 16.3%,#d4d404 34.2%,#c1e10b 60.8%,#b4e510 100%)"></i><i style="background:linear-gradient(90deg,#e6bd00 0%,#efa600 1.6%,#f49500 2.6%,#f68b00 3.6%,#f78900 4.7%,#f68d00 8.7%,#f19e00 12.6%,#e9b700 16.6%,#d4d404 34.5%,#c1e10b 61.1%,#b4e510 100%)"></i><i style="background:linear-gradient(90deg,#e5bf00 0%,#efa700 1.6%,#f49400 2.6%,#f68a00 3.7%,#f78800 4.8%,#f68c00 8.9%,#f19e00 12.9%,#e9b700 17%,#d4d404 34.9%,#c1e10b 61.3%,#b4e510 100%)"></i><i style="background:linear-gradient(90deg,#e4c000 0%,#efa800 1.6%,#f49400 2.7%,#f78a00 3.8%,#f78800 5%,#f68c00 9.1%,#f19e00 13.2%,#e9b700 17.3%,#d4d404 35.2%,#c1e10b 61.6%,#b4e510 100%)"></i><i style="background:linear-gradient(90deg,#e4c100 0%,#efa800 1.6%,#f49400 2.8%,#f78900 3.9%,#f78700 5.1%,#f68b00 9.3%,#f19d00 13.5%,#e9b700 17.7%,#d4d404 35.5%,#c1e10b 61.8%,#b4e510 100%)"></i><i style="background:linear-gradient(90deg,#e3c300 0%,#eea900 1.6%,#f49400 2.8%,#f78900 4%,#f78600 5.3%,#f68a00 9.5%,#f29d00 13.8%,#e9b700 18.1%,#d4d404 35.9%,#c2e10b 62%,#b4e510 100%)"></i><i style="background:linear-gradient(90deg,#e2c400 0%,#eeaa00 1.6%,#f49400 2.9%,#f78800 4.1%,#f88500 5.4%,#f78a00 9.8%,#f29c00 14.1%,#e9b700 18.4%,#d4d404 36.2%,#c2e10b 62.3%,#b4e510 100%)"></i><i style="background:linear-gradient(90deg,#e2c500 0%,#eeaa00 1.6%,#f49400 2.9%,#f78700 4.2%,#f88500 5.5%,#f78900 10%,#f29c00 14.4%,#e9b700 18.8%,#d4d404 36.6%,#c2e10b 62.5%,#b4e510 100%)"></i><i style="background:linear-gradient(90deg,#e1c700 0%,#eeab00 1.6%,#f49400 3%,#f78700 4.3%,#f88400 5.7%,#f78800 10.2%,#f29c00 14.7%,#e9b700 19.2%,#d4d304 36.9%,#c2e10b 62.7%,#b4e510 100%)"></i><i style="background:linear-gradient(90deg,#e0c800 0%,#eeac00 1.6%,#f49400 3%,#f78600 4.4%,#f88300 5.8%,#f78800 10.4%,#f29b00 15%,#e9b700 19.6%,#d4d304 37.3%,#c2e10b 63%,#b4e510 100%)"></i><i style="background:linear-gradient(90deg,#dfc900 0%,#edad00 1.6%,#f49400 3.1%,#f88600 4.5%,#f88200 6%,#f78700 10.6%,#f29b00 15.3%,#e9b700 19.9%,#d4d304 37.6%,#c2e10b 63.2%,#b4e510 100%)"></i><i style="background:linear-gradient(90deg,#dfcb00 0%,#edad00 1.6%,#f49400 3.1%,#f88500 4.6%,#f98200 6.1%,#f78600 10.8%,#f29b00 15.6%,#e9b700 20.3%,#d4d304 38%,#c2e10b 63.4%,#b4e510 100%)"></i><i style="background:linear-gradient(90deg,#decc00 0%,#edae00 1.6%,#f49400 3.2%,#f88400 4.7%,#f98100 6.3%,#f88600 11.1%,#f29a00 15.9%,#e9b700 20.7%,#d5d304 38.3%,#c2e10b 63.7%,#b4e510 100%)"></i><i style="background:linear-gradient(90deg,#ddcd01 0%,#edaf00 1.6%,#f49400 3.2%,#f88400 4.8%,#f98000 6.4%,#f88500 11.3%,#f29a00 16.2%,#e9b700 21%,#d5d304 38.6%,#c2e00b 63.9%,#b4e510 100%)"></i><i style="background:linear-gradient(90deg,#dbce01 0%,#edb000 1.6%,#f49400 3.3%,#f88300 4.9%,#f97f00 6.6%,#f88400 11.5%,#f29900 16.4%,#e9b700 21.4%,#d5d304 39%,#c2e00b 64.2%,#b4e510 100%)"></i><i style="background:linear-gradient(90deg,#dacf02 0%,#ecb000 1.6%,#f49400 3.3%,#f88300 5%,#f97f00 6.7%,#f88400 11.7%,#f39900 16.8%,#e9b700 21.8%,#d5d304 39.3%,#c3e00b 64.4%,#b4e510 100%)"></i><i style="background:linear-gradient(90deg,#d9d002 0%,#ecb100 1.7%,#f49400 3.4%,#f98200 5.1%,#fa7e00 6.8%,#f88300 11.9%,#f39900 17%,#e9b700 22.1%,#d5d304 39.7%,#c3e00a 64.6%,#b4e510 100%)"></i><i style="background:linear-gradient(90deg,#d7d103 0%,#ecb200 1.7%,#f49400 3.4%,#f98100 5.2%,#fa7d00 7%,#f88200 12.2%,#f39800 17.3%,#e9b700 22.5%,#d5d304 40%,#c3e00a 64.9%,#b4e510 100%)"></i><i style="background:linear-gradient(90deg,#d6d203 0%,#ecb200 1.7%,#f49400 3.5%,#f98100 5.3%,#fa7c00 7.1%,#f98200 12.4%,#f39800 17.6%,#e9b700 22.9%,#d5d303 40.4%,#c3e00a 65.1%,#b4e510 100%)"></i><i style="background:linear-gradient(90deg,#d5d304 0%,#ecb300 1.7%,#f49400 3.5%,#f98000 5.4%,#fa7c00 7.3%,#f98100 12.6%,#f39800 17.9%,#e9b700 23.2%,#d5d303 40.7%,#c3e00a 65.4%,#b4e510 100%)"></i><i style="background:linear-gradient(90deg,#d3d404 0%,#ebb300 1.7%,#f49400 3.6%,#f98000 5.5%,#fa7b00 7.4%,#f98100 12.8%,#f39800 18.2%,#e9b700 23.6%,#d5d303 41%,#c3e00a 65.6%,#b4e510 100%)"></i><i style="background:linear-gradient(90deg,#d2d505 0%,#ebb400 1.7%,#f49400 3.6%,#f97f00 5.6%,#fa7a00 7.6%,#f98000 13%,#f39700 18.5%,#e9b700 24%,#d5d303 41.4%,#c3e00a 65.8%,#b4e510 100%)"></i><i style="background:linear-gradient(90deg,#d0d605 0%,#ebb400 1.7%,#f49400 3.7%,#f97f00 5.7%,#fb7a00 7.7%,#f97f00 13.3%,#f39700 18.8%,#e9b700 24.3%,#d5d303 41.7%,#c3e00a 66.1%,#b4e510 100%)"></i><i style="background:linear-gradient(90deg,#cfd706 0%,#ebb500 1.7%,#f49500 3.8%,#f97e00 5.8%,#fb7900 7.9%,#f97f00 13.5%,#f39700 19.1%,#e9b700 24.7%,#d5d303 42%,#c3e00a 66.3%,#b4e510 100%)"></i><i style="background:linear-gradient(90deg,#ced906 0%,#eab500 1.7%,#f49500 3.8%,#fa7e00 5.9%,#fb7800 8%,#f97e00 13.7%,#f39600 19.4%,#e9b700 25%,#d5d303 42.4%,#c3e00a 66.5%,#b4e510 100%)"></i><i style="background:linear-gradient(90deg,#ccda07 0%,#eab600 1.7%,#f49500 3.9%,#fa7d00 6%,#fb7800 8.2%,#fa7e00 13.9%,#f39600 19.7%,#e9b700 25.4%,#d5d303 42.7%,#c3e00a 66.8%,#b4e510 100%)"></i><i style="background:linear-gradient(90deg,#cbdb07 0%,#eab600 1.7%,#f49500 3.9%,#fa7d00 6.1%,#fb7700 8.3%,#fa7d00 14.1%,#f39600 20%,#e9b700 25.8%,#d5d303 43%,#c4e00a 67%,#b4e510 100%)"></i><i style="background:linear-gradient(90deg,#cadc08 0%,#e9b700 1.8%,#f49500 4%,#fa7d00 6.2%,#fb7700 8.5%,#fa7d00 14.4%,#f39600 20.2%,#e9b700 26.1%,#d5d303 43.4%,#c4e00a 67.3%,#b4e510 100%)"></i><i style="background:linear-gradient(90deg,#c8dd08 0%,#e9b700 1.8%,#f49500 4.1%,#fa7c00 6.4%,#fb7600 8.7%,#fa7c00 14.6%,#f39600 20.5%,#e9b700 26.5%,#d5d303 43.7%,#c4e00a 67.5%,#b4e510 100%)"></i><i style="background:linear-gradient(90deg,#c7de09 0%,#e9b800 1.8%,#f39600 4.1%,#fa7c00 6.5%,#fc7600 8.8%,#fa7c00 14.8%,#f49500 20.8%,#e9b700 26.8%,#d5d303 44%,#c4e00a 67.7%,#b4e510 100%)"></i><i style="background:linear-gradient(90deg,#c6df09 0%,#e9b800 1.8%,#f39600 4.2%,#fa7c00 6.6%,#fc7500 9%,#fa7c00 15%,#f49500 21.1%,#e9b700 27.2%,#d6d303 44.4%,#c4e00a 68%,#b4e510 100%)"></i><i style="background:linear-gradient(90deg,#c4e00a 0%,#e8b900 1.8%,#f39600 4.3%,#fa7c00 6.7%,#fc7500 9.2%,#fa7b00 15.3%,#f49500 21.4%,#e9b700 27.5%,#d6d203 44.7%,#c4e00a 68.2%,#b4e510 100%)"></i><i style="background:linear-gradient(90deg,#c2e10b 0%,#e8b900 1.8%,#f39700 4.3%,#fa7c00 6.8%,#fc7500 9.3%,#fa7b00 15.5%,#f49500 21.7%,#e9b700 27.8%,#d6d203 45%,#c4e00a 68.5%,#b4e510 100%)"></i><i style="background:linear-gradient(90deg,#c0e10b 0%,#d9d002 0.9%,#e8ba00 1.9%,#f39700 4.4%,#fa7b00 7%,#fc7400 9.5%,#fa7b00 15.7%,#f49500 22%,#e9b700 28.2%,#d6d203 45.3%,#c4e00a 68.7%,#b4e510 100%)"></i><i style="background:linear-gradient(90deg,#bee20c 0%,#d8d102 0.9%,#e8ba00 1.9%,#f39700 4.5%,#fa7b00 7.1%,#fc7400 9.7%,#fa7b00 16%,#f49500 22.2%,#e9b700 28.5%,#d6d203 45.6%,#c4e00a 68.9%,#b4e510 100%)"></i><i style="background:linear-gradient(90deg,#bce30d 0%,#d7d103 0.9%,#e7bb00 1.9%,#f39800 4.5%,#fa7b00 7.2%,#fc7400 9.8%,#fa7a00 16.2%,#f49500 22.5%,#e9b700 28.9%,#d6d203 45.9%,#c4e00a 69.2%,#b4e510 100%)"></i><i style="background:linear-gradient(90deg,#b9e30e 0%,#d6d203 1%,#e7bb00 1.9%,#f39800 4.6%,#fa7b00 7.3%,#fc7400 10%,#fa7a00 16.4%,#f49400 22.8%,#e9b700 29.2%,#d6d203 46.2%,#c4e00a 69.4%,#b4e510 100%)"></i><i style="background:linear-gradient(90deg,#b7e40e 0%,#d5d303 1%,#e7bc00 2%,#f39900 4.7%,#fa7b00 7.5%,#fc7400 10.2%,#fa7a00 16.7%,#f49400 23.1%,#e9b700 29.5%,#d6d203 46.6%,#c4e00a 69.6%,#b4e510 100%)"></i><i style="background:linear-gradient(90deg,#b5e40f 0%,#d4d404 1%,#e7bc00 2%,#f39900 4.8%,#fa7b00 7.6%,#fc7400 10.4%,#fa7a00 16.9%,#f49400 23.4%,#e9b700 29.8%,#d6d203 46.9%,#c4e00a 69.9%,#b4e510 100%)"></i><i style="background:linear-gradient(90deg,#b3e510 0%,#d3d404 1%,#e6bd00 2%,#f29900 4.9%,#fa7b00 7.7%,#fc7400 10.6%,#fa7a00 17.1%,#f49400 23.6%,#e9b700 30.2%,#d6d203 47.1%,#c4e00a 70.1%,#b4e510 100%)"></i><i style="background:linear-gradient(90deg,#b1e611 0%,#d2d505 1%,#e6bd00 2.1%,#f29a00 5%,#fa7b00 7.9%,#fc7400 10.8%,#fa7a00 17.3%,#f49400 23.9%,#e9b700 30.5%,#d6d203 47.4%,#c4e00a 70.4%,#b4e510 100%)"></i><i style="background:linear-gradient(90deg,#aee612 0%,#d1d605 1%,#e6be00 2.1%,#f29a00 5.1%,#fa7c00 8%,#fc7400 11%,#fa7a00 17.6%,#f49400 24.2%,#e9b700 30.8%,#d6d203 47.7%,#c4e00a 70.6%,#b4e510 100%)"></i><i style="background:linear-gradient(90deg,#ace712 0%,#d0d705 1.1%,#e5be00 2.1%,#f29b00 5.1%,#fa7c00 8.2%,#fc7400 11.2%,#fa7a00 17.8%,#f49400 24.5%,#e9b700 31.1%,#d6d203 48%,#c4e00a 70.8%,#b4e510 100%)"></i><i style="background:linear-gradient(90deg,#aae813 0%,#cfd706 1.1%,#e5bf00 2.1%,#f29b00 5.2%,#fa7c00 8.3%,#fc7400 11.4%,#fa7a00 18.1%,#f49400 24.7%,#e9b700 31.4%,#d6d203 48.3%,#c4e00a 71.1%,#b4e510 100%)"></i><i style="background:linear-gradient(90deg,#a8e814 0%,#ced806 1.1%,#e5bf00 2.2%,#f29c00 5.3%,#fa7c00 8.5%,#fc7400 11.6%,#fa7a00 18.3%,#f49500 25%,#e9b700 31.7%,#d6d203 48.6%,#c4e00a 71.3%,#b4e510 100%)"></i><i style="background:linear-gradient(90deg,#a6e915 0%,#cdd906 1.1%,#e5c000 2.2%,#f29c00 5.4%,#fa7c00 8.6%,#fc7400 11.8%,#fa7b00 18.5%,#f49500 25.3%,#e9b700 32%,#d6d203 48.9%,#c4e00a 71.5%,#b4e510 100%)"></i><i style="background:linear-gradient(90deg,#a3ea15 0%,#ccda07 1.1%,#e4c000 2.3%,#f29d00 5.5%,#fa7d00 8.8%,#fc7400 12%,#fa7b00 18.8%,#f49500 25.6%,#e9b700 32.3%,#d6d203 49.1%,#c4e00a 71.8%,#b4e510 100%)"></i><i style="background:linear-gradient(90deg,#a1ea16 0%,#cbda07 1.1%,#e4c100 2.3%,#f19d00 5.6%,#fa7d00 8.9%,#fc7400 12.2%,#fa7b00 19%,#f49500 25.8%,#e9b700 32.6%,#d6d303 49.4%,#c4e00a 72%,#b4e510 100%)"></i><i style="background:linear-gradient(90deg,#9feb17 0%,#cadb08 1.2%,#e4c100 2.4%,#f19e00 5.7%,#fa7d00 9.1%,#fc7400 12.4%,#fa7b00 19.3%,#f49500 26.1%,#e9b700 32.9%,#d5d303 49.7%,#c4e00a 72.3%,#b4e510 100%)"></i><i style="background:linear-gradient(90deg,#9dec18 0%,#c9dc08 1.2%,#e4c200 2.4%,#f19e00 5.8%,#fa7d00 9.2%,#fc7500 12.7%,#fa7b00 19.5%,#f49500 26.4%,#e9b700 33.2%,#d5d303 50%,#c4e00a 72.5%,#b4e510 100%)"></i><i style="background:linear-gradient(90deg,#9aec19 0%,#c8dd08 1.2%,#e3c200 2.4%,#f19f00 5.9%,#fa7e00 9.4%,#fc7500 12.9%,#fa7b00 19.8%,#f49500 26.6%,#e9b700 33.5%,#d5d303 50.2%,#c4e00a 72.7%,#b4e510 100%)"></i><i style="background:linear-gradient(90deg,#97ed1b 0%,#c7dd09 1.2%,#e3c300 2.5%,#f1a000 6%,#f97e00 9.6%,#fc7500 13.1%,#fa7b00 20%,#f49500 26.9%,#e9b700 33.8%,#d5d303 50.5%,#c4e00a 73%,#b4e510 100%)"></i><i style="background:linear-gradient(90deg,#94ed1d 0%,#c7de09 1.3%,#e3c300 2.5%,#f1a000 6.1%,#f97e00 9.7%,#fc7500 13.3%,#fa7c00 20.2%,#f49500 27.2%,#e9b700 34.1%,#d5d303 50.8%,#c4e00a 73.2%,#b4e510 100%)"></i><i style="background:linear-gradient(90deg,#91ee1f 0%,#c5df09 1.3%,#e3c400 2.6%,#f1a100 6.2%,#f97f00 9.9%,#fc7600 13.6%,#fa7c00 20.5%,#f49500 27.4%,#e9b700 34.4%,#d5d303 51%,#c4e00a 73.5%,#b4e510 100%)"></i><i style="background:linear-gradient(90deg,#8eee21 0%,#c4e00a 1.3%,#e2c400 2.6%,#f0a100 6.3%,#f97f00 10.1%,#fc7600 13.8%,#fa7c00 20.7%,#f49500 27.7%,#e9b700 34.6%,#d5d303 51.3%,#c4e00a 73.7%,#b4e510 100%)"></i><i style="background:linear-gradient(90deg,#8bef23 0%,#c3e00a 1.3%,#e2c500 2.7%,#f0a200 6.5%,#f97f00 10.2%,#fb7600 14%,#fa7c00 21%,#f49500 28%,#e9b700 34.9%,#d5d303 51.5%,#c4e00a 73.9%,#b4e510 100%)"></i><i style="background:linear-gradient(90deg,#88ef24 0%,#c1e10b 1.4%,#e2c500 2.7%,#f0a200 6.6%,#f98000 10.4%,#fb7600 14.2%,#fa7d00 21.2%,#f39600 28.2%,#e9b700 35.2%,#d5d303 51.8%,#c4e00a 74.2%,#b4e510 100%)"></i><i style="background:linear-gradient(90deg,#85f026 0%,#c0e10b 1.4%,#e1c600 2.8%,#f0a300 6.7%,#f98000 10.6%,#fb7700 14.5%,#fa7d00 21.5%,#f39600 28.5%,#e9b700 35.5%,#d5d303 52%,#c4e00a 74.4%,#b4e510 100%)"></i><i style="background:linear-gradient(90deg,#82f028 0%,#bee20c 1.4%,#e1c600 2.8%,#f0a400 6.8%,#f98000 10.8%,#fb7700 14.7%,#fa7d00 21.7%,#f39600 28.7%,#e9b700 35.8%,#d5d303 52.3%,#c4e00a 74.6%,#b4e510 100%)"></i><i style="background:linear-gradient(90deg,#7ff02a 0%,#bde20c 1.4%,#e1c700 2.9%,#f0a400 6.9%,#f98100 10.9%,#fb7700 14.9%,#fa7d00 22%,#f39600 29%,#e9b700 36%,#d5d303 52.6%,#c4e00a 74.9%,#b4e510 100%)"></i><i style="background:linear-gradient(90deg,#7cf12c 0%,#bce30d 1.5%,#e1c700 2.9%,#efa500 7%,#f98100 11.1%,#fb7700 15.2%,#fa7e00 22.2%,#f39600 29.3%,#e9b700 36.3%,#d5d304 52.8%,#c4e00a 75.1%,#b4e510 100%)"></i><i style="background:linear-gradient(90deg,#79f12e 0%,#bae30e 1.5%,#e0c800 3%,#efa500 7.1%,#f98200 11.3%,#fb7800 15.4%,#fa7e00 22.5%,#f39600 29.5%,#e9b700 36.6%,#d5d304 53.1%,#c4e00a 75.4%,#b4e510 100%)"></i><i style="background:linear-gradient(90deg,#76f22f 0%,#b8e30e 1.5%,#e0c800 3%,#efa600 7.2%,#f98200 11.5%,#fb7800 15.7%,#f97e00 22.7%,#f39600 29.8%,#e9b700 36.9%,#d5d304 53.3%,#c4e00a 75.6%,#b4e510 100%)"></i><i style="background:linear-gradient(90deg,#73f231 0%,#b7e40f 1.6%,#e0c900 3.1%,#efa700 7.4%,#f88200 11.6%,#fb7800 15.9%,#f97e00 23%,#f39600 30.1%,#e9b700 37.1%,#d5d304 53.6%,#c4e00a 75.8%,#b4e510 100%)"></i><i style="background:linear-gradient(90deg,#70f333 0%,#b5e40f 1.6%,#e0c900 3.1%,#efa700 7.5%,#f88300 11.8%,#fb7900 16.1%,#f97f00 23.2%,#f39700 30.3%,#e9b700 37.4%,#d5d304 53.8%,#c4e00a 76.1%,#b4e510 100%)"></i><i style="background:linear-gradient(90deg,#6df335 0%,#b4e510 1.6%,#dfca00 3.2%,#efa800 7.6%,#f88300 12%,#fb7900 16.4%,#f97f00 23.5%,#f39700 30.6%,#e9b700 37.7%,#d5d304 54.1%,#c4e00a 76.3%,#b4e510 100%)"></i><i style="background:linear-gradient(90deg,#6af437 0%,#b2e510 1.6%,#dfca00 3.2%,#efa800 7.7%,#f88400 12.2%,#fb7900 16.6%,#f97f00 23.7%,#f39700 30.9%,#e9b700 38%,#d4d304 54.3%,#c4e00a 76.5%,#b4e510 100%)"></i><i style="background:linear-gradient(90deg,#67f439 0%,#b1e611 1.7%,#dfcb00 3.3%,#eea900 7.8%,#f88400 12.3%,#fb7a00 16.8%,#f97f00 24%,#f39700 31.1%,#e9b700 38.2%,#d4d304 54.6%,#c4e00a 76.8%,#b4e510 100%)"></i><i style="background:linear-gradient(90deg,#64f43c 0%,#afe611 1.7%,#dfcb00 3.4%,#eeaa00 7.9%,#f88400 12.5%,#fb7a00 17.1%,#f98000 24.2%,#f39700 31.4%,#e9b700 38.5%,#d4d304 54.8%,#c4e00a 77%,#b4e510 100%)"></i><i style="background:linear-gradient(90deg,#62f33f 0%,#aee712 1.7%,#decc00 3.4%,#eeaa00 8.1%,#f88500 12.7%,#fa7a00 17.3%,#f98000 24.5%,#f39700 31.6%,#e9b700 38.8%,#d4d304 55.1%,#c4e00a 77.3%,#b4e510 100%)"></i><i style="background:linear-gradient(90deg,#5ff341 0%,#ace712 1.7%,#decc00 3.5%,#eeab00 8.2%,#f88500 12.9%,#fa7b00 17.5%,#f98000 24.7%,#f39700 31.9%,#e9b700 39.1%,#d4d404 55.3%,#c4e00a 77.5%,#b4e510 100%)"></i><i style="background:linear-gradient(90deg,#5cf344 0%,#abe813 1.8%,#decc00 3.5%,#eeab00 8.3%,#f88600 13%,#fa7b00 17.8%,#f98100 25%,#f39800 32.2%,#e9b700 39.4%,#d4d404 55.6%,#c4e00a 77.7%,#b4e510 100%)"></i><i style="background:linear-gradient(90deg,#5af347 0%,#a9e813 1.8%,#ddcd00 3.6%,#eeac00 8.4%,#f88600 13.2%,#fa7b00 18%,#f98100 25.2%,#f39800 32.4%,#e9b700 39.6%,#d4d404 55.8%,#c4e00a 78%,#b4e510 100%)"></i><i style="background:linear-gradient(90deg,#57f34a 0%,#a7e914 1.8%,#dccd01 3.6%,#edad00 8.5%,#f78600 13.4%,#fa7c00 18.3%,#f98100 25.5%,#f39800 32.7%,#e9b700 39.9%,#d4d404 56.1%,#c4e00a 78.2%,#b4e510 100%)"></i><i style="background:linear-gradient(90deg,#54f24c 0%,#a6e914 1.8%,#dcce01 3.7%,#edad00 8.6%,#f78700 13.6%,#fa7c00 18.5%,#f98100 25.7%,#f39800 33%,#e9b700 40.2%,#d4d404 56.3%,#c4e00a 78.5%,#b4e510 100%)"></i><i style="background:linear-gradient(90deg,#52f24f 0%,#a4ea15 1.9%,#dcce01 3.7%,#edae00 8.7%,#f78700 13.7%,#fa7c00 18.7%,#f98200 26%,#f39800 33.2%,#e9b700 40.5%,#d4d404 56.6%,#c4e00a 78.7%,#b4e510 100%)"></i><i style="background:linear-gradient(90deg,#4ff252 0%,#a3ea16 1.9%,#dbce01 3.8%,#edae00 8.8%,#f78700 13.9%,#fa7c00 19%,#f98200 26.2%,#f39800 33.5%,#e9b700 40.7%,#d4d404 56.8%,#c4e00a 78.9%,#b4e510 100%)"></i><i style="background:linear-gradient(90deg,#4cf255 0%,#a1ea16 1.9%,#dbcf01 3.8%,#edaf00 8.9%,#f78800 14.1%,#fa7d00 19.2%,#f88200 26.5%,#f39800 33.7%,#e9b700 41%,#d4d404 57.1%,#c4e00a 79.2%,#b4e510 100%)"></i><i style="background:linear-gradient(90deg,#4af158 0%,#a0eb17 1.9%,#dacf02 3.9%,#edb000 9.1%,#f78800 14.2%,#fa7d00 19.4%,#f88200 26.7%,#f39800 34%,#e9b700 41.3%,#d4d404 57.4%,#c4e00a 79.4%,#b4e510 100%)"></i><i style="background:linear-gradient(90deg,#47f15a 0%,#9eeb17 2%,#dacf02 3.9%,#ecb000 9.2%,#f78800 14.4%,#fa7d00 19.7%,#f88200 27%,#f39900 34.3%,#e9b700 41.6%,#d4d404 57.6%,#c4e00a 79.6%,#b4e510 100%)"></i><i style="background:linear-gradient(90deg,#45f15d 0%,#9dec18 2%,#d9d002 4%,#ecb100 9.3%,#f78900 14.6%,#fa7d00 19.9%,#f88300 27.2%,#f39900 34.5%,#e9b700 41.9%,#d4d404 57.9%,#c4e00a 79.9%,#b4e510 100%)"></i></div>
<div class="p" style="left:76px;top:175.5px;width:169px;height:168.5px"><i style="background:linear-gradient(90deg,#01b6e5 0%,#01cecf 4.3%,#09dfaa 12.6%,#24eb82 16.3%,#4df254 20.1%,#9cec18 29.1%,#c7de09 38.6%,#decc00 48.1%,#e7bc00 55.1%,#ebb400 60.1%,#ecb100 61.3%,#edaf00 62.5%,#edae00 63.7%,#ecb100 66.5%,#eab700 69.4%,#e5be00 72.3%,#cfd806 100%)"></i><i style="background:linear-gradient(90deg,#01b5e5 0%,#01cdd1 4%,#09dfaa 12.3%,#24eb81 16.2%,#4ef253 20.2%,#9dec18 29.3%,#c7dd09 38.7%,#decc00 48.3%,#e7bc00 55.3%,#ecb300 60.3%,#edaf00 61.5%,#edad00 62.7%,#edac00 64%,#edaf00 66.9%,#eab600 69.9%,#e6bd00 72.9%,#cfd706 100%)"></i><i style="background:linear-gradient(90deg,#01b4e6 0%,#01ccd3 3.7%,#0ae0a9 11.9%,#25eb80 16.1%,#4ff252 20.2%,#9eeb17 29.5%,#c8dd09 38.8%,#decc00 48.5%,#e7bb00 55.5%,#ecb100 60.5%,#edae00 61.7%,#eeab00 63%,#eeaa00 64.3%,#edae00 67.3%,#ebb500 70.4%,#e6bd00 73.4%,#d0d706 100%)"></i><i style="background:linear-gradient(90deg,#01b3e6 0%,#01cbd5 3.4%,#0ae0a9 11.6%,#26eb7f 16%,#50f251 20.3%,#9feb17 29.7%,#c8dd08 38.9%,#decc00 48.7%,#e8ba00 55.7%,#edaf00 60.7%,#eeac00 62%,#eea900 63.3%,#eea900 64.6%,#eeac00 67.7%,#ebb400 70.8%,#e7bc00 74%,#d0d705 100%)"></i><i style="background:linear-gradient(90deg,#01b1e7 0%,#00cad7 3.1%,#0ae0a9 11.3%,#26eb7e 15.8%,#51f250 20.4%,#a0eb17 29.9%,#c8dd08 39%,#decc00 48.9%,#e8ba00 55.9%,#edae00 60.9%,#eeaa00 62.2%,#efa800 63.5%,#efa700 64.9%,#eeaa00 68.1%,#ecb300 71.3%,#e7bb00 74.5%,#d1d605 100%)"></i><i style="background:linear-gradient(90deg,#01b0e7 0%,#00c9d9 2.8%,#0ae0a8 10.9%,#27ec7e 15.7%,#52f24f 20.5%,#a1ea16 30.1%,#c8dd08 39.1%,#decc00 49.1%,#e8b900 56%,#eeac00 61%,#efa800 62.4%,#efa600 63.8%,#efa500 65.2%,#efa800 68.5%,#ecb100 71.8%,#e7ba00 75.1%,#d1d605 100%)"></i><i style="background:linear-gradient(90deg,#01afe8 0%,#00c8da 2.6%,#0ae0a8 10.6%,#28ec7d 15.6%,#53f24d 20.6%,#a2ea16 30.3%,#c9dc08 39.2%,#decc00 49.3%,#e9b800 56.2%,#eeab00 61.2%,#efa700 62.6%,#f0a400 64.1%,#f0a300 65.5%,#efa700 68.9%,#edb000 72.2%,#e8ba00 75.6%,#d2d605 100%)"></i><i style="background:linear-gradient(90deg,#01aee8 0%,#00c7dc 2.3%,#0ae0a8 10.4%,#28ec7c 15.5%,#54f24d 20.7%,#a3ea16 30.6%,#c9dc08 39.4%,#decc00 49.5%,#e9b800 56.4%,#eea900 61.4%,#efa500 62.9%,#f0a200 64.3%,#f0a200 65.8%,#efa500 69.3%,#edaf00 72.7%,#e8b900 76.2%,#d2d505 100%)"></i><i style="background:linear-gradient(90deg,#01ace9 0%,#00c7dd 2.2%,#0ae0a7 10.2%,#29ec7c 15.5%,#55f24c 20.9%,#a3ea15 30.8%,#c9dc08 39.6%,#decc00 49.7%,#e9b800 56.6%,#efa800 61.6%,#f0a400 63.1%,#f1a100 64.6%,#f1a000 66.2%,#f0a400 69.7%,#edad00 73.2%,#e9b800 76.8%,#d3d504 100%)"></i><i style="background:linear-gradient(90deg,#01aaea 0%,#00c6de 2%,#0ae0a7 10.1%,#29ec7b 15.6%,#55f24b 21.1%,#a4ea15 31.1%,#c9dc08 39.8%,#decc00 49.8%,#e9b700 56.8%,#efa800 61.8%,#f0a300 63.4%,#f19f00 65%,#f19e00 66.6%,#f0a200 70.2%,#eeac00 73.8%,#e9b800 77.4%,#d3d404 100%)"></i><i style="background:linear-gradient(90deg,#02a8eb 0%,#00c6de 2%,#0ae0a7 10%,#29ec7b 15.7%,#56f24b 21.5%,#a4ea15 31.5%,#c9dc08 40%,#decc00 50%,#e9b700 57%,#efa700 62%,#f0a200 63.7%,#f19e00 65.3%,#f29d00 67%,#f1a100 70.7%,#eeab00 74.3%,#e9b700 78%,#d4d404 100%)"></i><i style="background:linear-gradient(90deg,#02a5ec 0%,#00c6de 2.1%,#0ae0a7 10.1%,#29ec7b 16%,#56f24b 21.9%,#a4ea15 31.9%,#c9dc08 40.3%,#decc00 50.1%,#e9b700 57.2%,#efa700 62.2%,#f0a100 63.9%,#f29d00 65.7%,#f29b00 67.5%,#f19f00 71.2%,#eeaa00 74.9%,#e9b700 78.6%,#d4d404 100%)"></i><i style="background:linear-gradient(90deg,#02a2ed 0%,#00c6de 2.4%,#0ae0a7 10.5%,#29ec7b 16.5%,#56f24b 22.4%,#a4ea15 32.4%,#c9dc08 40.6%,#decc00 50.2%,#e9b700 57.4%,#efa700 62.4%,#f1a000 64.2%,#f29c00 66.1%,#f29a00 68%,#f19e00 71.8%,#eea900 75.5%,#eab600 79.3%,#d4d304 100%)"></i><i style="background:linear-gradient(90deg,#029eef 0%,#00c6de 2.8%,#0ae0a7 11.1%,#29ec7b 17%,#56f24b 23%,#a4ea15 32.9%,#c9dc08 41%,#decc00 50.3%,#e9b700 57.6%,#efa700 62.6%,#f1a000 64.6%,#f29b00 66.6%,#f39900 68.5%,#f19d00 72.4%,#eea900 76.1%,#eab600 80%,#d5d304 100%)"></i><i style="background:linear-gradient(90deg,#029af0 0%,#00c6de 3.4%,#0ae0a7 11.8%,#29ec7b 17.7%,#56f24b 23.6%,#a4ea15 33.4%,#c9dc08 41.3%,#decc00 50.4%,#e9b700 57.8%,#efa700 62.8%,#f19f00 64.9%,#f29a00 67%,#f39800 69.1%,#f29c00 73%,#efa800 76.8%,#eab600 80.7%,#d5d303 100%)"></i><i style="background:linear-gradient(90deg,#0295f1 0%,#00c6de 4.1%,#0ae0a7 12.6%,#29ec7b 18.5%,#56f24b 24.3%,#a4ea15 34%,#c9dc08 41.7%,#decc00 50.5%,#e9b700 58%,#efa700 63%,#f19f00 65.2%,#f39900 67.5%,#f39700 69.7%,#f29b00 73.6%,#efa700 77.5%,#eab600 81.3%,#d6d203 100%)"></i><i style="background:linear-gradient(90deg,#0290f3 0%,#00c6de 4.8%,#0ae0a7 13.6%,#29ec7b 19.3%,#56f24b 25%,#a4ea15 34.5%,#c9dc08 42.2%,#decc00 50.5%,#e9b700 58.2%,#efa700 63.2%,#f19e00 65.6%,#f39800 68%,#f39600 70.4%,#f29a00 74.3%,#efa700 78.2%,#eab600 82%,#d6d203 100%)"></i><i style="background:linear-gradient(90deg,#028cf4 0%,#00c6de 5.6%,#0ae0a7 14.5%,#29ec7b 20.1%,#56f24b 25.7%,#a4ea15 35.1%,#c9dc08 42.6%,#decc00 50.6%,#e9b700 58.4%,#efa700 63.3%,#f19e00 65.9%,#f39700 68.4%,#f49400 71%,#f29900 74.9%,#efa600 78.8%,#eab500 82.7%,#d7d203 100%)"></i><i style="background:linear-gradient(90deg,#0287f6 0%,#00c6de 6.3%,#0ae0a7 15.4%,#29ec7b 20.9%,#56f24b 26.4%,#a4ea15 35.7%,#c9dc08 43%,#decc00 50.7%,#e9b700 58.5%,#efa700 63.5%,#f29d00 66.2%,#f39600 68.9%,#f49300 71.6%,#f39800 75.5%,#efa500 79.5%,#eab500 83.4%,#d7d103 100%)"></i><i style="background:linear-gradient(90deg,#0283f7 0%,#00c6de 7%,#0ae0a7 16.3%,#29ec7b 21.7%,#56f24b 27.1%,#a4ea15 36.2%,#c9dc08 43.4%,#decc00 50.8%,#e9b700 58.7%,#efa700 63.7%,#f29d00 66.5%,#f49500 69.3%,#f49200 72.2%,#f39700 76.1%,#f0a500 80.1%,#eab500 84.1%,#d8d102 100%)"></i><i style="background:linear-gradient(90deg,#027ff9 0%,#00c6de 7.7%,#0ae0a7 17.1%,#29ec7b 22.4%,#56f24b 27.7%,#a4ea15 36.7%,#c9dc08 43.8%,#decc00 50.9%,#e9b700 58.9%,#efa700 63.9%,#f29c00 66.8%,#f49400 69.8%,#f59100 72.7%,#f39600 76.7%,#f0a400 80.7%,#ebb400 84.7%,#d8d002 100%)"></i><i style="background:linear-gradient(90deg,#027bfa 0%,#02a3ed 4.1%,#00c6de 8.2%,#0ae0a7 17.8%,#29ec7b 23%,#56f24b 28.2%,#a4ea15 37.2%,#c9dc08 44.2%,#decc00 51.1%,#e9b700 59.1%,#efa700 64.1%,#f29b00 67.1%,#f49300 70.2%,#f59000 73.2%,#f49500 77.2%,#f0a300 81.2%,#ebb400 85.2%,#d9d002 100%)"></i><i style="background:linear-gradient(90deg,#0278fb 0%,#02a2ed 4.4%,#00c6de 8.8%,#0ae0a7 18.4%,#29ec7b 23.6%,#56f24b 28.8%,#a4ea15 37.7%,#c9dc08 44.5%,#decc00 51.2%,#e9b700 59.2%,#efa700 64.2%,#f29b00 67.4%,#f49200 70.5%,#f58f00 73.7%,#f49400 77.7%,#f0a200 81.8%,#ebb300 85.8%,#dacf02 100%)"></i><i style="background:linear-gradient(90deg,#0274fc 0%,#02a0ee 4.7%,#00c6de 9.3%,#0ae0a7 19%,#29ec7b 24.2%,#56f24b 29.3%,#a4ea15 38.1%,#c9dc08 44.9%,#decc00 51.5%,#e9b700 59.4%,#efa700 64.4%,#f29a00 67.7%,#f59100 70.9%,#f68e00 74.2%,#f49300 78.2%,#f1a100 82.3%,#ecb200 86.3%,#dbce01 100%)"></i><i style="background:linear-gradient(90deg,#0271fc 0%,#029fee 4.9%,#00c6de 9.8%,#0ae0a7 19.6%,#29ec7b 24.7%,#56f24b 29.9%,#a4ea15 38.6%,#c9dc08 45.2%,#decc00 51.7%,#e9b700 59.6%,#efa700 64.6%,#f29a00 67.9%,#f59000 71.3%,#f68c00 74.6%,#f49200 78.7%,#f19f00 82.8%,#ecb100 86.8%,#dccd01 100%)"></i><i style="background:linear-gradient(90deg,#026dfc 0%,#029def 5.2%,#00c6de 10.3%,#0ae0a7 20.2%,#29ec7b 25.3%,#56f24b 30.4%,#a4ea15 39%,#c9dc08 45.6%,#decc00 51.9%,#e9b700 59.7%,#efa700 64.7%,#f39900 68.2%,#f58f00 71.6%,#f68b00 75.1%,#f59100 79.1%,#f19e00 83.2%,#edb000 87.3%,#ddcd00 100%)"></i><i style="background:linear-gradient(90deg,#026afc 0%,#029cef 5.4%,#00c6de 10.8%,#0ae0a7 20.7%,#29ec7b 25.8%,#56f24b 30.9%,#a4ea15 39.4%,#c9dc08 46%,#decc00 52.2%,#e9b700 59.9%,#efa600 64.8%,#f39800 68.4%,#f68e00 71.9%,#f68a00 75.5%,#f58f00 79.6%,#f29d00 83.7%,#edaf00 87.7%,#decc00 100%)"></i><i style="background:linear-gradient(90deg,#0266fc 0%,#029af0 5.7%,#00c6de 11.3%,#0ae0a7 21.3%,#29ec7b 26.3%,#56f24b 31.4%,#a4ea15 39.8%,#c9dc08 46.3%,#decc00 52.5%,#e9b700 60%,#efa600 65%,#f39700 68.6%,#f68d00 72.3%,#f78900 75.9%,#f58e00 80%,#f29b00 84.1%,#edad00 88.2%,#dfca00 100%)"></i><i style="background:linear-gradient(90deg,#0263fc 0%,#0299f0 5.9%,#00c6de 11.8%,#0ae0a7 21.8%,#29ec7b 26.8%,#56f24b 31.9%,#a4ea15 40.2%,#c9dc08 46.7%,#decc00 52.8%,#e9b700 60.1%,#efa600 65.1%,#f39700 68.8%,#f68c00 72.6%,#f78800 76.3%,#f68d00 80.4%,#f29a00 84.5%,#eeac00 88.6%,#e0c900 100%)"></i><i style="background:linear-gradient(90deg,#0260fc 0%,#0298f1 6.2%,#00c6de 12.3%,#0ae0a7 22.3%,#29ec7b 27.3%,#56f24b 32.3%,#a4ea15 40.6%,#c9dc08 47%,#decc00 53.1%,#e9b700 60.3%,#efa500 65.3%,#f39600 69.1%,#f68b00 72.9%,#f78700 76.7%,#f68b00 80.8%,#f39800 84.9%,#eeaa00 89%,#e0c800 100%)"></i><i style="background:linear-gradient(90deg,#025dfc 0%,#0296f1 6.4%,#00c6de 12.8%,#0ae0a7 22.8%,#29ec7b 27.8%,#56f24b 32.8%,#a4ea15 41%,#c9dc08 47.4%,#decc00 53.4%,#e9b700 60.4%,#efa500 65.4%,#f49500 69.3%,#f78a00 73.2%,#f88500 77%,#f68a00 81.2%,#f39700 85.3%,#efa800 89.4%,#e1c600 100%)"></i><i style="background:linear-gradient(90deg,#025afc 0%,#0295f1 6.7%,#00c6de 13.3%,#0ae0a7 23.3%,#29ec7b 28.3%,#56f24b 33.3%,#a4ea15 41.4%,#c9dc08 47.7%,#decc00 53.7%,#e9b700 60.5%,#f0a500 65.5%,#f49400 69.5%,#f78900 73.4%,#f88400 77.4%,#f78900 81.5%,#f49500 85.6%,#efa600 89.7%,#e2c500 100%)"></i><i style="background:linear-gradient(90deg,#0258fc 0%,#0294f2 6.9%,#00c6de 13.8%,#0ae0a7 23.8%,#29ec7b 28.7%,#56f24b 33.7%,#a4ea15 41.8%,#c9dc08 48%,#decc00 54.1%,#e9b700 60.7%,#f0a400 65.6%,#f49400 69.7%,#f78800 73.7%,#f88300 77.8%,#f78800 81.9%,#f49400 86%,#f0a500 90.1%,#e3c300 100%)"></i><i style="background:linear-gradient(90deg,#0255fc 0%,#0293f2 7.1%,#00c6de 14.2%,#0ae0a7 24.2%,#29ec7b 29.2%,#56f24b 34.1%,#a4ea15 42.1%,#c9dc08 48.4%,#decc00 54.4%,#e9b700 60.8%,#f0a400 65.8%,#f49300 69.9%,#f78700 74%,#f88200 78.1%,#f78600 82.2%,#f49200 86.3%,#f0a300 90.4%,#e4c200 100%)"></i><i style="background:linear-gradient(90deg,#0252fc 0%,#0292f3 7.3%,#00c6de 14.7%,#0ae0a7 24.7%,#29ec7b 29.6%,#56f24b 34.6%,#a4ea15 42.5%,#c9dc08 48.7%,#decc00 54.7%,#e9b700 60.9%,#f0a300 65.9%,#f49200 70.1%,#f88600 74.3%,#f98100 78.4%,#f88500 82.5%,#f59100 86.7%,#f1a100 90.8%,#e4c000 100%)"></i><i style="background:linear-gradient(90deg,#0250fc 0%,#0291f3 7.6%,#00c6de 15.2%,#0ae0a7 25.2%,#29ec7b 30.1%,#56f24b 35%,#a4ea15 42.9%,#c9dc08 49%,#decc00 55%,#e9b700 61%,#f0a300 66%,#f59100 70.3%,#f88500 74.5%,#f98000 78.8%,#f88400 82.9%,#f58f00 87%,#f19f00 91.1%,#e5be00 100%)"></i><i style="background:linear-gradient(90deg,#024dfc 0%,#0290f3 7.8%,#00c6de 15.6%,#0ae0a7 25.6%,#29ec7b 30.5%,#56f24b 35.4%,#a4ea15 43.2%,#c9dc08 49.3%,#decc00 55.4%,#e9b700 61.2%,#f0a200 66.2%,#f59100 70.5%,#f88400 74.8%,#f97f00 79.1%,#f88300 83.2%,#f68e00 87.3%,#f19d00 91.4%,#e6bd00 100%)"></i><i style="background:linear-gradient(90deg,#024bfc 0%,#028ff4 8%,#00c6de 16.1%,#0ae0a7 26.1%,#29ec7b 30.9%,#56f24b 35.8%,#a4ea15 43.5%,#c9dc08 49.6%,#decc00 55.7%,#e9b700 61.3%,#f0a200 66.3%,#f59000 70.7%,#f88300 75.1%,#fa7e00 79.5%,#f98200 83.5%,#f68c00 87.6%,#f29b00 91.7%,#e7bb00 100%)"></i><i style="background:linear-gradient(90deg,#0248fc 0%,#028ef4 8.2%,#00c6de 16.5%,#0ae0a7 26.5%,#29ec7b 31.3%,#56f24b 36.2%,#a4ea15 43.9%,#c9dc08 50%,#decc00 56%,#e9b700 61.5%,#f0a100 66.5%,#f58f00 70.9%,#f98200 75.3%,#fa7d00 79.8%,#f98100 83.9%,#f68b00 87.9%,#f29a00 92%,#e8ba00 100%)"></i><i style="background:linear-gradient(90deg,#0246fc 0%,#028df4 8.5%,#00c6de 16.9%,#0ae0a7 26.9%,#29ec7b 31.7%,#56f24b 36.5%,#a4ea15 44.2%,#c9dc08 50.2%,#decc00 56.3%,#e9b700 61.6%,#f1a100 66.6%,#f58e00 71.1%,#f98100 75.6%,#fa7c00 80.1%,#f97f00 84.2%,#f78900 88.2%,#f39800 92.3%,#e9b800 100%)"></i><i style="background:linear-gradient(90deg,#0244fc 0%,#028cf4 8.7%,#00c6de 17.3%,#0ae0a7 27.3%,#29ec7b 32.1%,#56f24b 36.9%,#a4ea15 44.5%,#c9dc08 50.5%,#decc00 56.6%,#e9b700 61.8%,#f1a000 66.8%,#f68e00 71.3%,#f98000 75.9%,#fa7b00 80.5%,#f97e00 84.5%,#f78800 88.5%,#f39600 92.5%,#eab700 100%)"></i><i style="background:linear-gradient(90deg,#0241fc 0%,#028bf5 8.9%,#00c6de 17.8%,#0ae0a7 27.7%,#29ec7b 32.5%,#56f24b 37.3%,#a4ea15 44.8%,#c9dc08 50.8%,#decc00 56.8%,#e9b700 61.9%,#f1a000 66.9%,#f68d00 71.5%,#f97f00 76.2%,#fb7a00 80.8%,#fa7d00 84.8%,#f78700 88.8%,#f49500 92.8%,#eab500 100%)"></i><i style="background:linear-gradient(90deg,#023ffc 0%,#028af5 9.1%,#00c6de 18.1%,#0ae0a7 28.1%,#29ec7b 32.9%,#56f24b 37.6%,#a4ea15 45.1%,#c9dc08 51.1%,#decc00 57.1%,#e9b700 62.1%,#f1a000 67.1%,#f68d00 71.8%,#f97e00 76.4%,#fb7900 81.1%,#fa7c00 85.1%,#f88600 89.1%,#f49300 93.1%,#ebb400 100%)"></i><i style="background:linear-gradient(90deg,#033dfb 0%,#0289f5 9.3%,#00c6de 18.6%,#0ae0a7 28.5%,#29ec7b 33.3%,#56f24b 38%,#a4ea15 45.4%,#c9dc08 51.4%,#decc00 57.3%,#e9b700 62.2%,#f19f00 67.2%,#f68c00 72%,#fa7e00 76.7%,#fb7800 81.5%,#fa7b00 85.4%,#f88500 89.4%,#f59200 93.4%,#ecb200 100%)"></i><i style="background:linear-gradient(90deg,#033bfb 0%,#0288f6 9.5%,#00c6de 18.9%,#0ae0a7 28.9%,#29ec7b 33.6%,#56f24b 38.3%,#a4ea15 45.7%,#c9dc08 51.6%,#decc00 57.6%,#e9b700 62.4%,#f19f00 67.4%,#f68b00 72.2%,#fa7d00 77%,#fb7700 81.8%,#fa7b00 85.7%,#f88300 89.7%,#f59000 93.6%,#edb000 100%)"></i><i style="background:linear-gradient(90deg,#0439fa 0%,#0287f6 9.7%,#00c6de 19.3%,#0ae0a7 29.3%,#29ec7b 33.9%,#56f24b 38.6%,#a4ea15 45.9%,#c9dc08 51.8%,#decc00 57.8%,#e9b700 62.5%,#f19e00 67.5%,#f68b00 72.4%,#fa7c00 77.3%,#fb7600 82.1%,#fb7a00 86%,#f88200 89.9%,#f58e00 93.8%,#edad00 100%)"></i><i style="background:linear-gradient(90deg,#0437fa 0%,#0286f6 9.8%,#00c6de 19.7%,#0ae0a7 29.7%,#29ec7b 34.2%,#56f24b 38.9%,#a4ea15 46.2%,#c9dc08 52.1%,#decc00 58%,#e9b700 62.7%,#f19e00 67.7%,#f68a00 72.6%,#fa7c00 77.5%,#fc7600 82.4%,#fb7900 86.3%,#f98100 90.2%,#f68d00 94.1%,#eeaa00 100%)"></i><i style="background:linear-gradient(90deg,#0535f9 0%,#0285f6 10%,#00c6de 20%,#0ae0a7 30%,#29ec7b 34.6%,#56f24b 39.1%,#a4ea15 46.4%,#c9dc08 52.3%,#decc00 58.2%,#e9b700 62.9%,#f19d00 67.9%,#f78a00 72.8%,#fa7b00 77.8%,#fc7500 82.7%,#fb7800 86.6%,#f98000 90.4%,#f68b00 94.3%,#efa800 100%)"></i><i style="background:linear-gradient(90deg,#0534f9 0%,#0285f7 10.2%,#00c6de 20.4%,#0ae0a7 30.3%,#29ec7b 34.8%,#56f24b 39.4%,#a4ea15 46.6%,#c9dc08 52.5%,#decc00 58.4%,#e9b700 63%,#f29d00 68%,#f78900 73%,#fa7a00 78%,#fc7400 83%,#fb7700 86.9%,#f97f00 90.6%,#f78a00 94.5%,#efa500 100%)"></i><i style="background:linear-gradient(90deg,#0632f9 0%,#0284f7 10.4%,#00c6de 20.7%,#0ae0a7 30.7%,#29ec7b 35.1%,#56f24b 39.6%,#a4ea15 46.8%,#c9dc08 52.7%,#decc00 58.6%,#e9b700 63.2%,#f29c00 68.2%,#f78900 73.2%,#fb7a00 78.3%,#fc7400 83.4%,#fb7600 87.1%,#fa7d00 90.9%,#f78800 94.6%,#f0a200 100%)"></i><i style="background:linear-gradient(90deg,#0631f8 0%,#0283f7 10.5%,#00c6de 21.1%,#0ae0a7 31%,#29ec7b 35.4%,#56f24b 39.8%,#a4ea15 47%,#c9dc08 52.9%,#decc00 58.7%,#e9b700 63.3%,#f29c00 68.3%,#f78800 73.4%,#fb7900 78.5%,#fc7300 83.6%,#fc7500 87.4%,#fa7c00 91.1%,#f78600 94.8%,#f19f00 100%)"></i><i style="background:linear-gradient(90deg,#072ff8 0%,#0283f7 10.7%,#00c6de 21.4%,#0ae0a7 31.3%,#29ec7b 35.6%,#56f24b 40%,#a4ea15 47.2%,#c9dc08 53%,#decc00 58.9%,#e9b700 63.5%,#f29b00 68.5%,#f78700 73.7%,#fb7800 78.8%,#fc7200 83.9%,#fc7500 87.6%,#fa7b00 91.3%,#f88500 94.9%,#f29c00 100%)"></i><i style="background:linear-gradient(90deg,#072ef8 0%,#0282f8 10.9%,#00c6de 21.7%,#0ae0a7 31.6%,#29ec7b 35.9%,#56f24b 40.2%,#a4ea15 47.3%,#c9dc08 53.2%,#decc00 59.1%,#e9b700 63.7%,#f29b00 68.7%,#f78700 73.9%,#fb7800 79%,#fd7200 84.2%,#fc7400 87.8%,#fa7a00 91.5%,#f88300 95.1%,#f29a00 100%)"></i><i style="background:linear-gradient(90deg,#072df7 0%,#0281f8 11%,#00c6de 22%,#0ae0a7 31.8%,#29ec7b 36.1%,#56f24b 40.4%,#a4ea15 47.5%,#c9dc08 53.4%,#decc00 59.2%,#e9b700 63.8%,#f29a00 68.8%,#f78600 74.1%,#fb7700 79.3%,#fd7100 84.5%,#fc7300 88.1%,#fb7900 91.6%,#f98200 95.2%,#f39700 100%)"></i><i style="background:linear-gradient(90deg,#082bf7 0%,#0281f8 11.2%,#00c6de 22.3%,#0ae0a7 32.1%,#29ec7b 36.3%,#56f24b 40.5%,#a4ea15 47.7%,#c9dc08 53.5%,#decc00 59.4%,#e9b700 64%,#f29a00 69%,#f88600 74.3%,#fb7600 79.5%,#fd7000 84.8%,#fc7200 88.3%,#fb7800 91.8%,#f98000 95.3%,#f49400 100%)"></i><i style="background:linear-gradient(90deg,#082af7 0%,#0280f8 11.3%,#00c6de 22.6%,#0ae0a7 32.4%,#29ec7b 36.5%,#56f24b 40.7%,#a4ea15 47.8%,#c9dc08 53.7%,#decc00 59.6%,#e9b700 64.2%,#f29900 69.2%,#f88500 74.5%,#fc7600 79.8%,#fd7000 85.1%,#fd7200 88.5%,#fb7700 92%,#f97e00 95.5%,#f59100 100%)"></i><i style="background:linear-gradient(90deg,#0829f6 0%,#0280f8 11.5%,#00c6de 22.9%,#0ae0a7 32.6%,#29ec7b 36.8%,#56f24b 40.9%,#a4ea15 48%,#c9dc08 53.8%,#decc00 59.7%,#e9b700 64.3%,#f39900 69.3%,#f88500 74.7%,#fc7500 80%,#fd6f00 85.3%,#fd7100 88.7%,#fc7600 92.2%,#fa7d00 95.5%,#f68e00 100%)"></i><i style="background:linear-gradient(90deg,#0928f6 0%,#027ff8 11.6%,#00c6de 23.2%,#0ae0a7 32.9%,#29ec7b 37%,#56f24b 41%,#a4ea15 48.1%,#c9dc08 54%,#decc00 59.9%,#e9b700 64.5%,#f39800 69.5%,#f88400 74.9%,#fc7500 80.2%,#fd6f00 85.6%,#fd7000 89%,#fc7500 92.3%,#fa7b00 95.7%,#f68b00 100%)"></i><i style="background:linear-gradient(90deg,#0927f6 0%,#027ff9 11.8%,#00c6de 23.5%,#0ae0a7 33.1%,#29ec7b 37.2%,#56f24b 41.2%,#a4ea15 48.2%,#c9dc08 54.1%,#decc00 60%,#e9b700 64.7%,#f39800 69.7%,#f88400 75.1%,#fc7400 80.5%,#fd6e00 85.9%,#fd7000 89.2%,#fc7400 92.5%,#fb7a00 95.8%,#f78800 100%)"></i><i style="background:linear-gradient(90deg,#0926f6 0%,#027ef9 11.9%,#00c6de 23.8%,#0ae0a7 33.4%,#29ec7b 37.4%,#56f24b 41.3%,#a4ea15 48.4%,#c9dc08 54.3%,#decc00 60.2%,#e9b700 64.9%,#f39700 69.9%,#f88300 75.3%,#fc7400 80.7%,#fe6e00 86.2%,#fd6f00 89.4%,#fc7300 92.6%,#fb7800 95.8%,#f88600 100%)"></i><i style="background:linear-gradient(90deg,#0a25f5 0%,#027ef9 12%,#00c6de 24.1%,#0ae0a7 33.7%,#29ec7b 37.6%,#56f24b 41.5%,#a4ea15 48.5%,#c9dc08 54.4%,#decc00 60.4%,#e9b700 65.1%,#f39700 70.1%,#f88300 75.5%,#fc7300 81%,#fe6d00 86.4%,#fd6e00 89.6%,#fd7200 92.8%,#fb7700 95.9%,#f88300 100%)"></i><i style="background:linear-gradient(90deg,#0a24f5 0%,#027df9 12.2%,#00c6de 24.3%,#0ae0a7 33.9%,#29ec7b 37.8%,#56f24b 41.6%,#a4ea15 48.7%,#c9dc08 54.6%,#decc00 60.5%,#e9b700 65.3%,#f39700 70.3%,#f88200 75.7%,#fc7300 81.2%,#fe6d00 86.7%,#fe6e00 89.8%,#fd7100 92.9%,#fc7600 96%,#f98000 100%)"></i><i style="background:linear-gradient(90deg,#0a23f5 0%,#027df9 12.3%,#00c6de 24.6%,#0ae0a7 34.1%,#29ec7b 38%,#56f24b 41.8%,#a4ea15 48.8%,#c9dc08 54.8%,#decc00 60.7%,#e9b700 65.5%,#f39600 70.5%,#f88200 76%,#fc7300 81.5%,#fe6c00 87%,#fe6d00 90%,#fd7000 93%,#fc7400 96.1%,#fa7e00 100%)"></i><i style="background:linear-gradient(90deg,#0a22f5 0%,#025ffc 8.3%,#0297f1 16.6%,#00c6de 24.9%,#0ae0a7 34.4%,#29ec7b 38.2%,#56f24b 41.9%,#a4ea15 49%,#c9dc08 54.9%,#decc00 60.9%,#e9b700 65.7%,#f39600 70.7%,#f98200 76.2%,#fc7200 81.7%,#fe6c00 87.2%,#fe6d00 90.2%,#fd6f00 93.2%,#fc7300 96.2%,#fa7c00 100%)"></i><i style="background:linear-gradient(90deg,#0b21f5 0%,#025efc 8.4%,#0297f1 16.8%,#00c6de 25.1%,#0ae0a7 34.6%,#29ec7b 38.4%,#56f24b 42.1%,#a4ea15 49.1%,#c9dc08 55.1%,#decc00 61%,#e9b700 65.9%,#f49500 70.9%,#f98100 76.4%,#fd7200 81.9%,#fe6b00 87.5%,#fe6c00 90.4%,#fd6e00 93.3%,#fd7200 96.2%,#fb7900 100%)"></i><i style="background:linear-gradient(90deg,#0b20f4 0%,#025efc 8.5%,#0297f1 16.9%,#00c6de 25.4%,#0ae0a7 34.9%,#29ec7b 38.6%,#56f24b 42.3%,#a4ea15 49.3%,#c9dc08 55.2%,#decc00 61.2%,#e9b700 66.1%,#f49500 71.1%,#f98100 76.6%,#fd7100 82.2%,#fe6b00 87.8%,#fe6c00 90.6%,#fe6e00 93.5%,#fd7100 96.3%,#fb7700 100%)"></i><i style="background:linear-gradient(90deg,#0b1ff4 0%,#025dfc 8.6%,#0296f1 17.1%,#00c6de 25.7%,#0ae0a7 35.1%,#29ec7b 38.8%,#56f24b 42.4%,#a4ea15 49.5%,#c9dc08 55.4%,#decc00 61.4%,#e9b700 66.3%,#f49500 71.3%,#f98100 76.9%,#fd7100 82.4%,#fe6b00 88%,#fe6b00 90.8%,#fe6d00 93.6%,#fd6f00 96.4%,#fc7500 100%)"></i><i style="background:linear-gradient(90deg,#0c1ef4 0%,#025cfc 8.6%,#0296f1 17.3%,#00c6de 25.9%,#0ae0a7 35.4%,#29ec7b 39%,#56f24b 42.6%,#a4ea15 49.6%,#c9dc08 55.6%,#decc00 61.6%,#e9b700 66.5%,#f49400 71.5%,#f98000 77.1%,#fd7100 82.7%,#fe6a00 88.3%,#fe6b00 91%,#fe6c00 93.7%,#fd6e00 96.5%,#fc7300 100%)"></i><i style="background:linear-gradient(90deg,#0c1df4 0%,#025cfc 8.7%,#0296f1 17.4%,#00c6de 26.2%,#0ae0a7 35.6%,#29ec7b 39.2%,#56f24b 42.8%,#a4ea15 49.8%,#c9dc08 55.8%,#decc00 61.8%,#e9b700 66.7%,#f49400 71.7%,#f98000 77.3%,#fd7000 83%,#ff6a00 88.5%,#fe6a00 91.2%,#fe6b00 93.9%,#fe6d00 96.5%,#fd7100 100%)"></i><i style="background:linear-gradient(90deg,#0c1cf3 0%,#025bfc 8.8%,#0295f1 17.6%,#00c6de 26.4%,#0ae0a7 35.9%,#29ec7b 39.4%,#56f24b 43%,#a4ea15 50%,#c9dc08 56%,#decc00 62%,#e9b700 67%,#f49400 72%,#f98000 77.6%,#fd7000 83.2%,#ff6900 88.8%,#ff6a00 91.4%,#fe6b00 94%,#fe6c00 96.6%,#fd7000 100%)"></i><i style="background:linear-gradient(90deg,#0c1bf3 0%,#025bfc 8.9%,#0295f1 17.8%,#00c6de 26.7%,#0ae0a7 36.1%,#29ec7b 39.7%,#56f24b 43.2%,#a4ea15 50.2%,#c9dc08 56.2%,#decc00 62.2%,#e9b700 67.2%,#f49400 72.2%,#f97f00 77.8%,#fd7000 83.5%,#ff6900 89.1%,#ff6900 91.6%,#fe6a00 94.2%,#fe6c00 96.7%,#fd6e00 100%)"></i><i style="background:linear-gradient(90deg,#0d1af3 0%,#025afc 9%,#0295f2 18%,#00c6de 26.9%,#0ae0a7 36.4%,#29ec7b 39.9%,#56f24b 43.5%,#a4ea15 50.5%,#c9dc08 56.5%,#decc00 62.5%,#e9b700 67.4%,#f49400 72.4%,#f97f00 78.1%,#fd6f00 83.7%,#ff6900 89.4%,#ff6900 91.8%,#ff6a00 94.3%,#fe6b00 96.8%,#fe6d00 100%)"></i><i style="background:linear-gradient(90deg,#0d19f3 0%,#0259fc 9.1%,#0295f2 18.1%,#00c6de 27.2%,#0ae0a7 36.7%,#29ec7b 40.2%,#56f24b 43.7%,#a4ea15 50.7%,#c9dc08 56.7%,#decc00 62.7%,#e9b700 67.7%,#f49400 72.7%,#f97f00 78.3%,#fd6f00 84%,#ff6800 89.7%,#ff6900 92.1%,#ff6900 94.5%,#fe6a00 96.9%,#fe6c00 100%)"></i><i style="background:linear-gradient(90deg,#0d18f2 0%,#0258fc 9.2%,#0294f2 18.3%,#00c6de 27.4%,#0ae0a7 36.9%,#29ec7b 40.4%,#56f24b 43.9%,#a4ea15 50.9%,#c9dc08 56.9%,#decc00 62.9%,#e9b700 67.9%,#f49400 72.9%,#f97f00 78.6%,#fd6f00 84.3%,#ff6800 89.9%,#ff6800 92.3%,#ff6900 94.6%,#ff6a00 97%,#fe6b00 100%)"></i><i style="background:linear-gradient(90deg,#0d17f2 0%,#0258fc 9.2%,#0294f2 18.5%,#00c6de 27.7%,#0ae0a7 37.2%,#29ec7b 40.7%,#56f24b 44.2%,#a4ea15 51.2%,#c9dc08 57.2%,#decc00 63.2%,#e9b700 68.2%,#f49400 73.2%,#f97f00 78.9%,#fd6e00 84.5%,#ff6800 90.2%,#ff6800 92.5%,#ff6800 94.8%,#ff6900 97.1%,#fe6a00 100%)"></i><i style="background:linear-gradient(90deg,#0e16f2 0%,#0257fc 9.3%,#0294f2 18.6%,#00c6de 27.9%,#0ae0a7 37.5%,#29ec7b 41%,#56f24b 44.5%,#a4ea15 51.5%,#c9dc08 57.5%,#decc00 63.5%,#e9b700 68.5%,#f49400 73.5%,#f97f00 79.1%,#fd6e00 84.8%,#ff6700 90.5%,#ff6700 92.7%,#ff6800 95%,#ff6900 97.2%,#ff6a00 100%)"></i><i style="background:linear-gradient(90deg,#0e15f2 0%,#0256fc 9.4%,#0293f2 18.8%,#00c6de 28.2%,#0ae0a7 37.8%,#29ec7b 41.3%,#56f24b 44.8%,#a4ea15 51.8%,#c9dc08 57.8%,#decc00 63.8%,#e9b700 68.8%,#f49400 73.8%,#f97f00 79.4%,#fe6e00 85.1%,#ff6700 90.8%,#ff6700 93%,#ff6700 95.1%,#ff6800 97.3%,#ff6900 100%)"></i><i style="background:linear-gradient(90deg,#0e14f2 0%,#0256fc 9.5%,#0293f2 18.9%,#00c6de 28.4%,#0ae0a7 38.1%,#29ec7b 41.6%,#56f24b 45.1%,#a4ea15 52%,#c9dc08 58%,#decc00 64%,#e9b700 69%,#f49400 74%,#f97e00 79.7%,#fe6e00 85.4%,#ff6600 91.1%,#ff6700 93.2%,#ff6700 95.3%,#ff6800 97.4%,#ff6900 100%)"></i><i style="background:linear-gradient(90deg,#0f13f1 0%,#0255fc 9.6%,#0293f2 19.1%,#00c6de 28.7%,#0ae0a7 38.4%,#29ec7b 41.9%,#56f24b 45.3%,#a4ea15 52.3%,#c9dc08 58.3%,#decc00 64.3%,#e9b700 69.3%,#f49400 74.3%,#f97e00 80%,#fe6d00 85.7%,#fe6600 91.4%,#ff6600 93.4%,#ff6700 95.4%,#ff6800 97.5%,#ff6900 100%)"></i><i style="background:linear-gradient(90deg,#0f12f1 0%,#0254fc 9.6%,#0293f2 19.3%,#00c6de 28.9%,#0ae0a7 38.6%,#29ec7b 42.1%,#56f24b 45.6%,#a4ea15 52.6%,#c9dc08 58.6%,#decc00 64.6%,#e9b700 69.6%,#f49400 74.6%,#f97e00 80.3%,#fe6d00 86%,#fe6600 91.6%,#fe6600 93.6%,#ff6600 95.6%,#ff6700 97.6%,#ff6900 100%)"></i><i style="background:linear-gradient(90deg,#0f11f1 0%,#0254fc 9.7%,#0292f2 19.4%,#00c6de 29.1%,#0ae0a7 38.9%,#29ec7b 42.4%,#56f24b 45.9%,#a4ea15 52.9%,#c9dc08 58.9%,#decc00 64.9%,#e9b700 69.9%,#f49400 74.9%,#f97e00 80.6%,#fe6d00 86.3%,#fe6500 91.9%,#fe6500 93.8%,#ff6600 95.7%,#ff6700 97.7%,#ff6900 100%)"></i><i style="background:linear-gradient(90deg,#0f11f1 0%,#0253fc 9.8%,#0292f2 19.6%,#00c6de 29.4%,#0ae0a7 39.2%,#29ec7b 42.7%,#56f24b 46.2%,#a4ea15 53.2%,#c9dc08 59.2%,#decc00 65.2%,#e9b700 70.2%,#f49400 75.2%,#f97e00 80.9%,#fe6d00 86.6%,#fe6500 92.2%,#fe6500 94.1%,#fe6600 95.9%,#ff6700 97.7%,#ff6800 100%)"></i><i style="background:linear-gradient(90deg,#1010f0 0%,#0252fc 9.9%,#0292f3 19.7%,#00c6de 29.6%,#0ae0a7 39.5%,#29ec7b 43%,#56f24b 46.5%,#a4ea15 53.5%,#c9dc08 59.5%,#decc00 65.5%,#e9b700 70.5%,#f49400 75.5%,#f97e00 81.2%,#fe6d00 86.8%,#fe6500 92.5%,#fe6500 94.3%,#fe6500 96.1%,#ff6700 97.8%,#ff6800 100%)"></i><i style="background:linear-gradient(90deg,#100ff0 0%,#0252fc 9.9%,#0292f3 19.9%,#00c6de 29.8%,#0ae0a7 39.8%,#29ec7b 43.3%,#56f24b 46.8%,#a4ea15 53.8%,#c9dc08 59.8%,#decc00 65.8%,#e9b700 70.8%,#f49400 75.8%,#fa7e00 81.5%,#fe6c00 87.1%,#fe6400 92.8%,#fe6400 94.5%,#fe6500 96.2%,#ff6600 97.9%,#ff6800 100%)"></i><i style="background:linear-gradient(90deg,#100ef0 0%,#0251fc 10%,#0291f3 20%,#00c6de 30%,#0ae0a7 40%,#29ec7b 43.5%,#56f24b 47%,#a4ea15 54%,#c9dc08 60%,#decc00 66%,#e9b700 71%,#f49400 76%,#fa7e00 81.6%,#fe6c00 87.3%,#fe6400 93%,#fe6400 94.6%,#fe6500 96.3%,#fe6600 98%,#ff6800 100%)"></i></div>
<div class="p" style="left:245px;top:175.5px;width:168px;height:168.5px"><i style="background:linear-gradient(90deg,#01d3c6 0%,#1ce98b 2%,#2fed74 4%,#55f24c 5.5%,#92ee1e 7%,#c4e00a 9.3%,#decc00 11.9%,#e2c400 13.7%,#e5be00 15.4%,#e7bc00 17.2%,#e5be00 19%,#e2c400 20.8%,#decc00 22.6%,#c4e00a 26.6%,#92ee1e 32.2%,#43f15e 46.5%,#10e698 68.6%,#08deaf 100%)"></i><i style="background:linear-gradient(90deg,#01d1ca 0%,#11e697 1.9%,#2aec7b 3.8%,#53f24e 5.5%,#92ee1e 7.1%,#c4e00a 9.4%,#decb00 12%,#e4c100 13.9%,#e8ba00 15.8%,#e9b700 17.6%,#e8ba00 19.5%,#e4c100 21.4%,#decb00 23.3%,#c4e00a 27.3%,#92ee1e 33.1%,#43f15e 47.6%,#10e698 69.8%,#08deaf 100%)"></i><i style="background:linear-gradient(90deg,#01cfce 0%,#0ce2a2 1.8%,#23eb82 3.7%,#51f250 5.4%,#92ee1e 7.1%,#c4e00a 9.5%,#dfcb00 12.2%,#e5be00 14.1%,#eab500 16.1%,#ecb100 18%,#eab500 20.1%,#e5be00 22.1%,#dfcb00 24.1%,#c4e00a 28.1%,#92ee1e 34%,#43f15e 48.7%,#10e698 71%,#08deaf 100%)"></i><i style="background:linear-gradient(90deg,#01cdd1 0%,#08deae 1.7%,#1de989 3.6%,#4ef253 5.4%,#92ee1e 7.1%,#c4e00a 9.6%,#dfca00 12.3%,#e7bc00 14.3%,#edb000 16.4%,#eea900 18.4%,#edaf00 20.6%,#e7bc00 22.8%,#dfca00 24.9%,#c4e00a 28.9%,#92ee1e 34.9%,#43f15e 49.9%,#10e698 72.3%,#08deaf 100%)"></i><i style="background:linear-gradient(90deg,#01cbd5 0%,#04dab9 1.6%,#17e890 3.5%,#4cf255 5.3%,#92ee1e 7.2%,#c4e00a 9.7%,#dfc900 12.4%,#e8b900 14.6%,#eea900 16.7%,#f1a100 18.8%,#eea900 21.1%,#e8b900 23.4%,#dfc900 25.7%,#c4e00a 29.7%,#92ee1e 35.8%,#43f15e 51%,#10e698 73.5%,#08deaf 100%)"></i><i style="background:linear-gradient(90deg,#00c9d9 0%,#02d5c3 1.5%,#11e697 3.4%,#49f158 5.3%,#92ee1e 7.2%,#c4e00a 9.7%,#e0c900 12.6%,#e9b700 14.8%,#f0a200 17%,#f39900 19.2%,#f0a200 21.6%,#e9b700 24.1%,#e0c900 26.5%,#c4e00a 30.5%,#92ee1e 36.7%,#43f15e 52.1%,#10e698 74.8%,#08deaf 100%)"></i><i style="background:linear-gradient(90deg,#00c7dc 0%,#01d0cc 1.4%,#0ee49c 3.2%,#48f15a 5.3%,#92ee1e 7.3%,#c4e00a 9.8%,#e0c800 12.7%,#ebb500 15%,#f29c00 17.3%,#f59100 19.6%,#f29c00 22.2%,#ebb500 24.7%,#e0c800 27.3%,#c4e00a 31.3%,#92ee1e 37.5%,#43f15e 53.2%,#10e698 76%,#08deaf 100%)"></i><i style="background:linear-gradient(90deg,#00c4df 0%,#01ccd3 1.3%,#0de3a1 3.1%,#46f15c 5.2%,#92ee1e 7.3%,#c4e00a 10%,#e0c800 12.9%,#ecb300 15.3%,#f39700 17.6%,#f68a00 20%,#f39700 22.7%,#ecb300 25.4%,#e0c800 28%,#c4e00a 32%,#92ee1e 38.4%,#43f15e 54.2%,#10e698 77.1%,#08deaf 100%)"></i><i style="background:linear-gradient(90deg,#00bfe1 0%,#00c9d9 1.2%,#0ce2a4 3.1%,#44f15d 5.2%,#92ee1e 7.4%,#c4e00a 10.1%,#e1c700 13.1%,#ecb100 15.5%,#f49300 18%,#f88500 20.4%,#f49300 23.2%,#ecb100 25.9%,#e1c700 28.7%,#c4e00a 32.7%,#92ee1e 39.1%,#43f15e 55.2%,#10e698 78.2%,#08deaf 100%)"></i><i style="background:linear-gradient(90deg,#01bbe3 0%,#00c7dd 1.2%,#0be1a6 3%,#44f15e 5.2%,#92ee1e 7.5%,#c4e00a 10.3%,#e1c700 13.3%,#edb000 15.8%,#f58f00 18.3%,#f98100 20.8%,#f59000 23.7%,#edb000 26.5%,#e1c700 29.4%,#c4e00a 33.4%,#92ee1e 39.8%,#43f15e 56.1%,#10e698 79.1%,#08deaf 100%)"></i><i style="background:linear-gradient(90deg,#01b7e4 0%,#00c6de 1.2%,#0ae0a7 3%,#43f15e 5.2%,#91ee1e 7.7%,#c4e00a 10.5%,#e1c700 13.5%,#edaf00 16.1%,#f68d00 18.6%,#fa7e00 21.2%,#f68d00 24.1%,#edaf00 27.1%,#e1c700 30%,#c4e00a 34%,#92ee1e 40.5%,#43f15e 57%,#10e698 80%,#08deaf 100%)"></i><i style="background:linear-gradient(90deg,#01b3e6 0%,#00c6de 1.2%,#0ae0a7 3%,#43f15f 5.2%,#92ee1e 7.9%,#c4e00a 10.7%,#e1c700 13.7%,#edae00 16.3%,#f68c00 18.9%,#fa7c00 21.6%,#f68c00 24.6%,#edae00 27.5%,#e1c700 30.5%,#c4e00a 34.5%,#92ee1e 41%,#43f15e 57.7%,#10e698 80.7%,#08deaf 100%)"></i><i style="background:linear-gradient(90deg,#01aee8 0%,#00c6de 1.3%,#0ae0a7 3.1%,#43f15f 5.3%,#92ee1e 8.1%,#c4e00a 11%,#e1c700 14%,#edae00 16.7%,#f68b00 19.3%,#fa7a00 21.9%,#f68b00 25%,#edae00 28%,#e1c700 31%,#c4e00a 35%,#92ee1e 41.5%,#43f15e 58.4%,#10e698 81.3%,#08deaf 100%)"></i><i style="background:linear-gradient(90deg,#01aaea 0%,#00c6de 1.3%,#0ae0a7 3.2%,#43f15e 5.5%,#92ee1e 8.4%,#c4e00a 11.3%,#e1c700 14.3%,#edad00 17%,#f78a00 19.6%,#fb7900 22.3%,#f78a00 25.4%,#edad00 28.4%,#e1c700 31.5%,#c4e00a 35.4%,#92ee1e 41.9%,#43f15e 58.9%,#10e698 81.8%,#08deaf 100%)"></i><i style="background:linear-gradient(90deg,#02a6eb 0%,#00c6de 1.4%,#0ae0a7 3.3%,#43f15e 5.7%,#92ee1e 8.7%,#c4e00a 11.7%,#e1c700 14.6%,#edad00 17.3%,#f78900 20%,#fb7700 22.7%,#f78900 25.7%,#edad00 28.8%,#e1c700 31.9%,#c4e00a 35.7%,#92ee1e 42.2%,#43f15e 59.4%,#10e698 82.2%,#08deaf 100%)"></i><i style="background:linear-gradient(90deg,#02a2ed 0%,#00c6de 1.6%,#0ae0a7 3.5%,#43f15f 5.9%,#91ee1e 9%,#c4e00a 12%,#e1c700 14.9%,#edad00 17.6%,#f78800 20.3%,#fb7600 23%,#f78800 26.1%,#edad00 29.1%,#e1c700 32.2%,#c4e00a 36%,#92ee1e 42.5%,#43f15e 59.9%,#10e698 82.5%,#08deaf 100%)"></i><i style="background:linear-gradient(90deg,#029eef 0%,#00c6de 1.7%,#0ae0a7 3.7%,#43f15f 6.2%,#92ee1e 9.4%,#c4e00a 12.4%,#e1c700 15.3%,#edad00 18%,#f78800 20.7%,#fc7600 23.4%,#f78800 26.4%,#edad00 29.5%,#e1c700 32.6%,#c4e00a 36.3%,#92ee1e 42.7%,#43f15e 60.3%,#10e698 82.8%,#08deaf 100%)"></i><i style="background:linear-gradient(90deg,#0299f0 0%,#00c6de 1.9%,#0ae0a7 3.9%,#43f15f 6.6%,#92ee1e 9.7%,#c4e00a 12.8%,#e1c700 15.6%,#edad00 18.3%,#f78700 21%,#fc7500 23.7%,#f78700 26.8%,#edad00 29.8%,#e1c700 32.9%,#c4e00a 36.5%,#92ee1e 42.9%,#43f15e 60.7%,#10e698 83%,#08deaf 100%)"></i><i style="background:linear-gradient(90deg,#0294f2 0%,#00c6de 2.1%,#0ae0a7 4.2%,#43f15f 6.9%,#92ee1e 10.1%,#c4e00a 13.2%,#e1c700 16%,#edac00 18.7%,#f78700 21.3%,#fc7400 24%,#f78700 27.1%,#edac00 30.1%,#e1c700 33.1%,#c4e00a 36.8%,#92ee1e 43%,#43f15e 61%,#10e698 83.1%,#08deaf 100%)"></i><i style="background:linear-gradient(90deg,#028ff3 0%,#00c6de 2.2%,#0ae0a7 4.4%,#43f15e 7.3%,#92ee1e 10.5%,#c4e00a 13.6%,#e1c700 16.3%,#edac00 19%,#f78700 21.7%,#fc7400 24.4%,#f78700 27.4%,#edac00 30.4%,#e1c700 33.4%,#c4e00a 37%,#92ee1e 43.2%,#43f15e 61.3%,#10e698 83.2%,#08deaf 100%)"></i><i style="background:linear-gradient(90deg,#028bf5 0%,#00c6de 2.5%,#0ae0a7 4.7%,#43f15e 7.6%,#92ee1e 10.9%,#c4e00a 14.1%,#e1c700 16.7%,#edac00 19.4%,#f78700 22%,#fc7400 24.7%,#f78700 27.7%,#eeac00 30.7%,#e1c700 33.7%,#c4e00a 37.2%,#92ee1e 43.4%,#43f15e 61.6%,#10e698 83.3%,#08deaf 100%)"></i><i style="background:linear-gradient(90deg,#0286f6 0%,#00c6de 2.7%,#0ae0a7 5%,#43f15e 8%,#92ee1e 11.2%,#c4e00a 14.4%,#e1c700 17.1%,#eeac00 19.7%,#f78600 22.4%,#fc7400 25%,#f78600 28%,#eeac00 31%,#e1c700 33.9%,#c4e00a 37.5%,#92ee1e 43.5%,#43f15e 61.8%,#10e698 83.4%,#08deaf 100%)"></i><i style="background:linear-gradient(90deg,#0281f8 0%,#00c6de 2.9%,#0ae0a7 5.2%,#43f15e 8.3%,#92ee1e 11.6%,#c4e00a 14.8%,#e1c700 17.4%,#eeac00 20.1%,#f78600 22.7%,#fc7400 25.4%,#f78600 28.3%,#eeac00 31.2%,#e1c700 34.2%,#c4e00a 37.7%,#92ee1e 43.7%,#43f15e 62.1%,#10e698 83.5%,#08deaf 100%)"></i><i style="background:linear-gradient(90deg,#027cf9 0%,#02a4ec 1.6%,#00c6de 3.1%,#0ae0a7 5.5%,#43f15e 8.7%,#92ee1e 11.9%,#c4e00a 15.2%,#e1c700 17.7%,#eeac00 20.4%,#f78600 23%,#fc7400 25.7%,#f78600 28.6%,#eeac00 31.5%,#e1c700 34.5%,#c4e00a 38%,#92ee1e 44%,#43f15e 62.4%,#10e698 83.7%,#08deaf 100%)"></i><i style="background:linear-gradient(90deg,#0278fb 0%,#02a2ed 1.7%,#00c6de 3.3%,#0ae0a7 5.8%,#43f15e 9%,#91ee1e 12.3%,#c4e00a 15.6%,#e1c700 18.1%,#eeac00 20.7%,#f78600 23.3%,#fc7400 26%,#f78600 28.9%,#eeac00 31.8%,#e1c700 34.8%,#c4e00a 38.2%,#92ee1e 44.2%,#43f15e 62.7%,#10e698 83.8%,#08deaf 100%)"></i><i style="background:linear-gradient(90deg,#0273fc 0%,#02a0ee 1.8%,#00c6de 3.5%,#0ae0a7 6.1%,#43f15e 9.3%,#92ee1e 12.6%,#c4e00a 15.9%,#e1c700 18.4%,#eeac00 21%,#f78600 23.6%,#fc7400 26.3%,#f78600 29.2%,#eeac00 32.1%,#e1c700 35.1%,#c4e00a 38.6%,#92ee1e 44.6%,#43f15e 63.1%,#10e698 84%,#08deaf 100%)"></i><i style="background:linear-gradient(90deg,#026dfc 0%,#029def 1.9%,#00c6de 3.8%,#0ae0a7 6.3%,#43f15f 9.5%,#92ee1e 12.8%,#c4e00a 16.2%,#e1c700 18.7%,#edac00 21.3%,#f78700 23.9%,#fc7400 26.6%,#f78700 29.5%,#eeac00 32.4%,#e1c700 35.4%,#c4e00a 38.9%,#92ee1e 45%,#43f15e 63.4%,#10e698 84.3%,#08deaf 100%)"></i><i style="background:linear-gradient(90deg,#0267fc 0%,#029af0 2%,#00c6de 4%,#0ae0a7 6.6%,#43f15e 9.8%,#92ee1e 13.1%,#c4e00a 16.4%,#e1c700 18.9%,#edad00 21.6%,#f78700 24.2%,#fc7500 26.8%,#f78700 29.8%,#edac00 32.8%,#e1c700 35.7%,#c4e00a 39.3%,#92ee1e 45.4%,#43f15e 63.8%,#10e698 84.5%,#08deaf 100%)"></i><i style="background:linear-gradient(90deg,#0261fc 0%,#0298f1 2.2%,#00c6de 4.3%,#0ae0a7 7%,#43f15f 10.1%,#92ee1e 13.4%,#c4e00a 16.7%,#e1c700 19.2%,#edad00 21.8%,#f78800 24.5%,#fc7600 27.1%,#f78800 30.1%,#edad00 33%,#e1c700 36%,#c4e00a 39.7%,#92ee1e 45.8%,#43f15e 64.1%,#10e698 84.7%,#08deaf 100%)"></i><i style="background:linear-gradient(90deg,#025bfc 0%,#0295f1 2.3%,#00c6de 4.6%,#0ae0a7 7.3%,#43f15e 10.4%,#92ee1e 13.7%,#c4e00a 17%,#e1c700 19.5%,#edad00 22.1%,#f78900 24.7%,#fb7700 27.4%,#f78900 30.3%,#edad00 33.3%,#e1c700 36.3%,#c4e00a 40.1%,#92ee1e 46.2%,#43f15e 64.4%,#10e698 84.9%,#08deaf 100%)"></i><i style="background:linear-gradient(90deg,#0254fc 0%,#0293f2 2.5%,#00c6de 4.9%,#0ae0a7 7.6%,#43f15e 10.6%,#91ee1e 13.9%,#c4e00a 17.2%,#e1c700 19.8%,#edae00 22.4%,#f78a00 25%,#fb7900 27.6%,#f78a00 30.6%,#edae00 33.6%,#e1c700 36.6%,#c4e00a 40.5%,#92ee1e 46.7%,#43f15e 64.8%,#10e698 85.1%,#08deaf 100%)"></i><i style="background:linear-gradient(90deg,#024efc 0%,#0290f3 2.6%,#00c6de 5.2%,#0ae0a7 8%,#43f15f 10.9%,#92ee1e 14.1%,#c4e00a 17.4%,#e1c700 20%,#edae00 22.6%,#f68b00 25.2%,#fa7b00 27.8%,#f68b00 30.9%,#edae00 33.9%,#e1c700 36.9%,#c4e00a 40.9%,#92ee1e 47.2%,#43f15e 65.1%,#10e698 85.3%,#08deaf 100%)"></i><i style="background:linear-gradient(90deg,#0248fc 0%,#028df4 2.8%,#00c6de 5.6%,#0ae0a7 8.3%,#43f15e 11.2%,#92ee1e 14.4%,#c4e00a 17.7%,#e1c700 20.3%,#edaf00 22.9%,#f68d00 25.5%,#fa7d00 28.1%,#f68d00 31.1%,#edaf00 34.2%,#e1c700 37.2%,#c4e00a 41.3%,#92ee1e 47.6%,#43f15e 65.4%,#10e698 85.5%,#08deaf 100%)"></i><i style="background:linear-gradient(90deg,#0242fc 0%,#028bf5 2.9%,#00c6de 5.9%,#0ae0a7 8.7%,#43f15e 11.5%,#92ee1e 14.6%,#c4e00a 17.9%,#e1c700 20.5%,#edaf00 23.1%,#f58e00 25.7%,#f97f00 28.3%,#f58e00 31.4%,#edaf00 34.5%,#e1c700 37.5%,#c4e00a 41.7%,#92ee1e 48.1%,#43f15e 65.7%,#10e698 85.6%,#08deaf 100%)"></i><i style="background:linear-gradient(90deg,#033cfb 0%,#0288f6 3.1%,#00c6de 6.2%,#0ae0a7 9%,#43f15f 11.7%,#92ee1e 14.9%,#c4e00a 18.1%,#e1c700 20.8%,#edb000 23.4%,#f59000 25.9%,#f98200 28.5%,#f59000 31.6%,#edb000 34.7%,#e1c700 37.8%,#c4e00a 42.1%,#92ee1e 48.6%,#43f15e 66%,#10e698 85.8%,#08deaf 100%)"></i><i style="background:linear-gradient(90deg,#0536fa 0%,#0286f6 3.3%,#00c6de 6.6%,#0ae0a7 9.4%,#43f15e 12%,#92ee1e 15.1%,#c4e00a 18.4%,#e1c700 21%,#ecb100 23.6%,#f49200 26.2%,#f88400 28.8%,#f49200 31.9%,#ecb100 35%,#e1c700 38.1%,#c4e00a 42.5%,#92ee1e 49.1%,#43f15e 66.3%,#10e698 86%,#08deaf 100%)"></i><i style="background:linear-gradient(90deg,#0631f8 0%,#0283f7 3.4%,#00c6de 6.9%,#0ae0a7 9.8%,#43f15e 12.3%,#92ee1e 15.4%,#c4e00a 18.6%,#e1c700 21.3%,#ecb100 23.9%,#f49400 26.4%,#f78700 29%,#f49400 32.1%,#ecb100 35.3%,#e1c700 38.4%,#c4e00a 43%,#92ee1e 49.6%,#43f15e 66.5%,#10e698 86.1%,#08deaf 100%)"></i><i style="background:linear-gradient(90deg,#082cf7 0%,#0281f8 3.6%,#00c6de 7.2%,#0ae0a7 10.1%,#43f15e 12.6%,#92ee1e 15.6%,#c4e00a 18.8%,#e1c700 21.6%,#ecb200 24.1%,#f39600 26.7%,#f78900 29.2%,#f39600 32.4%,#ecb200 35.5%,#e1c700 38.7%,#c4e00a 43.4%,#92ee1e 50.1%,#43f15e 66.8%,#10e698 86.3%,#08deaf 100%)"></i><i style="background:linear-gradient(90deg,#0927f6 0%,#027ff9 3.8%,#00c6de 7.5%,#0ae0a7 10.4%,#43f15e 12.8%,#91ee1e 15.8%,#c4e00a 19.1%,#e1c700 21.9%,#ecb300 24.4%,#f39800 27%,#f68c00 29.5%,#f39800 32.7%,#ecb300 35.8%,#e1c700 39%,#c4e00a 43.7%,#92ee1e 50.5%,#43f15e 67.1%,#10e698 86.5%,#08deaf 100%)"></i><i style="background:linear-gradient(90deg,#0a22f5 0%,#027df9 3.9%,#00c6de 7.8%,#0ae0a7 10.8%,#43f15e 13.1%,#92ee1e 16.1%,#c4e00a 19.3%,#e1c700 22.1%,#ebb300 24.7%,#f29a00 27.2%,#f58e00 29.8%,#f29a00 32.9%,#ebb300 36.1%,#e1c700 39.3%,#c4e00a 44.1%,#92ee1e 51%,#43f15e 67.3%,#10e698 86.6%,#08deaf 100%)"></i><i style="background:linear-gradient(90deg,#0c1ef4 0%,#025cfc 2.7%,#0296f1 5.4%,#00c6de 8.1%,#0ae0a7 11.1%,#43f15e 13.4%,#91ee1e 16.4%,#c4e00a 19.6%,#e1c700 22.5%,#ebb400 25%,#f29b00 27.5%,#f59000 30%,#f29b00 33.2%,#ebb400 36.4%,#e1c700 39.6%,#c4e00a 44.5%,#92ee1e 51.4%,#43f15e 67.6%,#10e698 86.8%,#08deaf 100%)"></i><i style="background:linear-gradient(90deg,#0d1af3 0%,#025afc 2.8%,#0295f2 5.6%,#00c6de 8.3%,#0ae0a7 11.3%,#43f15e 13.6%,#92ee1e 16.6%,#c4e00a 19.8%,#e1c700 22.8%,#ebb400 25.3%,#f29d00 27.8%,#f49200 30.3%,#f29d00 33.5%,#ebb400 36.7%,#e1c700 39.8%,#c4e00a 44.8%,#92ee1e 51.8%,#43f15e 67.8%,#10e698 86.9%,#08deaf 100%)"></i><i style="background:linear-gradient(90deg,#0e17f2 0%,#0257fc 2.9%,#0294f2 5.7%,#00c6de 8.6%,#0ae0a7 11.6%,#43f15e 13.9%,#92ee1e 16.9%,#c4e00a 20.1%,#e1c700 23.1%,#ebb500 25.6%,#f19e00 28.1%,#f49400 30.6%,#f19e00 33.8%,#ebb500 36.9%,#e1c700 40.1%,#c4e00a 45.1%,#92ee1e 52.1%,#43f15e 68.1%,#10e698 87.1%,#08deaf 100%)"></i><i style="background:linear-gradient(90deg,#0e14f1 0%,#0256fc 2.9%,#0293f2 5.9%,#00c6de 8.8%,#0ae0a7 11.8%,#43f15e 14.1%,#92ee1e 17.2%,#c4e00a 20.4%,#e1c700 23.5%,#eab500 26%,#f1a000 28.4%,#f39600 30.9%,#f1a000 34.1%,#eab500 37.2%,#e1c700 40.4%,#c4e00a 45.4%,#92ee1e 52.5%,#43f15e 68.3%,#10e698 87.2%,#08deaf 100%)"></i><i style="background:linear-gradient(90deg,#0f12f1 0%,#0254fc 3%,#0292f2 6%,#00c6de 9%,#0ae0a7 12%,#43f15e 14.4%,#92ee1e 17.4%,#c4e00a 20.7%,#e1c700 23.8%,#eab500 26.3%,#f0a100 28.8%,#f39800 31.2%,#f0a100 34.4%,#eab500 37.5%,#e1c700 40.7%,#c4e00a 45.7%,#91ee1f 52.8%,#43f15e 68.5%,#10e698 87.4%,#08deaf 100%)"></i><i style="background:linear-gradient(90deg,#1010f0 0%,#0252fc 3.1%,#0292f2 6.2%,#00c6de 9.2%,#0ae0a7 12.2%,#43f15f 14.6%,#92ee1e 17.7%,#c4e00a 20.9%,#e1c700 24.2%,#eab600 26.7%,#f0a200 29.1%,#f29a00 31.6%,#f0a200 34.7%,#eab600 37.8%,#e1c700 40.9%,#c4e00a 46%,#91ee1f 53.1%,#43f15e 68.7%,#10e698 87.5%,#07ddaf 100%)"></i><i style="background:linear-gradient(90deg,#100ef0 0%,#0251fc 3.1%,#0291f3 6.3%,#00c6de 9.4%,#0ae0a7 12.4%,#43f15e 14.9%,#92ee1e 18%,#c4e00a 21.2%,#e1c700 24.6%,#eab600 27%,#f0a400 29.5%,#f29b00 31.9%,#f0a400 35%,#eab600 38.1%,#e1c700 41.2%,#c4e00a 46.3%,#91ee1f 53.4%,#43f15e 68.9%,#10e698 87.6%,#07ddaf 100%)"></i><i style="background:linear-gradient(90deg,#110ef0 0%,#0250fc 3.2%,#0291f3 6.4%,#00c6de 9.6%,#0ae0a7 12.6%,#43f15e 15.1%,#92ee1e 18.3%,#c4e00a 21.5%,#e1c700 25%,#e9b700 27.4%,#efa500 29.8%,#f29d00 32.3%,#efa500 35.4%,#e9b700 38.4%,#e1c700 41.5%,#c4e00a 46.5%,#90ee1f 53.7%,#43f15e 69.1%,#10e698 87.8%,#07ddb0 100%)"></i><i style="background:linear-gradient(90deg,#120eef 0%,#0250fc 3.3%,#0291f3 6.5%,#00c6de 9.8%,#0ae0a7 12.8%,#43f15f 15.3%,#92ee1e 18.6%,#c4e00a 21.8%,#e1c700 25.4%,#e9b700 27.8%,#efa700 30.2%,#f19f00 32.6%,#efa700 35.7%,#e9b700 38.7%,#e1c700 41.8%,#c4e00a 46.8%,#90ee1f 54%,#43f15e 69.3%,#10e698 87.9%,#07ddb0 100%)"></i><i style="background:linear-gradient(90deg,#130eef 0%,#024ffc 3.3%,#0290f3 6.6%,#00c6de 10%,#0ae0a7 12.9%,#43f15e 15.6%,#92ee1e 18.8%,#c4e00a 22.1%,#e1c700 25.8%,#e9b800 28.2%,#efa800 30.6%,#f1a000 33%,#efa800 36%,#e9b800 39%,#e1c700 42.1%,#c4e00a 47%,#90ee20 54.2%,#43f15e 69.5%,#10e698 88%,#07ddb0 100%)"></i><i style="background:linear-gradient(90deg,#140eef 0%,#024efc 3.4%,#0290f3 6.8%,#00c6de 10.1%,#0ae0a7 13.1%,#43f15e 15.8%,#92ee1e 19.1%,#c4e00a 22.4%,#e1c700 26.2%,#e9b800 28.6%,#eea900 31%,#f0a200 33.4%,#eea900 36.4%,#e9b800 39.3%,#e1c700 42.3%,#c4e00a 47.3%,#8fee20 54.5%,#43f15e 69.7%,#10e698 88.2%,#07ddb1 100%)"></i><i style="background:linear-gradient(90deg,#140eee 0%,#024efc 3.4%,#0290f3 6.9%,#00c6de 10.3%,#0ae0a7 13.2%,#43f15f 16.1%,#92ee1e 19.4%,#c4e00a 22.7%,#e1c700 26.6%,#e9b800 29%,#eeab00 31.4%,#f0a400 33.7%,#eeaa00 36.7%,#e9b800 39.6%,#e1c700 42.6%,#c4e00a 47.5%,#8fee20 54.8%,#43f15e 69.8%,#10e698 88.3%,#07ddb1 100%)"></i><i style="background:linear-gradient(90deg,#150eee 0%,#024efc 3.5%,#0290f3 7%,#00c6de 10.5%,#0ae0a7 13.4%,#43f15e 16.3%,#92ee1e 19.7%,#c4e00a 23%,#e1c700 27%,#e8b900 29.4%,#eeac00 31.7%,#efa500 34.1%,#eeac00 37%,#e8b900 39.9%,#e1c700 42.8%,#c4e00a 47.8%,#8fee20 55%,#43f15e 70%,#10e698 88.4%,#07ddb1 100%)"></i><i style="background:linear-gradient(90deg,#150eee 0%,#024dfc 3.5%,#0290f3 7.1%,#00c6de 10.6%,#0ae0a7 13.6%,#43f15f 16.6%,#92ee1e 20%,#c4e00a 23.4%,#e1c700 27.5%,#e8b900 29.8%,#edad00 32.1%,#efa700 34.4%,#edad00 37.3%,#e8b900 40.2%,#e1c700 43.1%,#c4e00a 48%,#8eee20 55.3%,#43f15e 70.2%,#10e698 88.5%,#07ddb2 100%)"></i><i style="background:linear-gradient(90deg,#160dee 0%,#024dfc 3.6%,#028ff3 7.2%,#00c6de 10.8%,#0ae0a7 13.8%,#43f15e 16.8%,#92ee1e 20.3%,#c4e00a 23.7%,#e1c700 27.9%,#e8ba00 30.2%,#edaf00 32.5%,#eea900 34.8%,#edaf00 37.6%,#e8ba00 40.5%,#e1c700 43.3%,#c4e00a 48.2%,#8eee21 55.5%,#43f15e 70.3%,#10e698 88.6%,#06dcb2 100%)"></i><i style="background:linear-gradient(90deg,#160dee 0%,#024cfc 3.7%,#028ff3 7.3%,#00c6de 11%,#0ae0a7 13.9%,#43f15e 17.1%,#92ee1e 20.6%,#c4e00a 24%,#e1c700 28.3%,#e8ba00 30.6%,#edb000 32.9%,#eeaa00 35.1%,#edb000 37.9%,#e8ba00 40.7%,#e1c700 43.5%,#c4e00a 48.4%,#8eee21 55.8%,#43f15e 70.5%,#10e698 88.7%,#06dcb2 100%)"></i><i style="background:linear-gradient(90deg,#170ded 0%,#024cfc 3.7%,#028ff3 7.4%,#00c6de 11.2%,#0ae0a7 14.1%,#43f15e 17.3%,#92ee1e 21%,#c4e00a 24.4%,#e1c700 28.8%,#e7bb00 31%,#ecb100 33.2%,#eeac00 35.5%,#ecb100 38.2%,#e7bb00 41%,#e1c700 43.7%,#c4e00a 48.6%,#8eee21 56%,#43f15e 70.7%,#10e698 88.8%,#06dcb3 100%)"></i><i style="background:linear-gradient(90deg,#180ded 0%,#024bfc 3.8%,#028ff4 7.6%,#00c6de 11.4%,#0ae0a7 14.3%,#43f15e 17.6%,#92ee1e 21.3%,#c4e00a 24.8%,#e1c700 29.2%,#e7bb00 31.4%,#ecb200 33.6%,#edae00 35.8%,#ecb300 38.5%,#e7bb00 41.2%,#e1c700 43.9%,#c4e00a 48.9%,#8dee21 56.3%,#43f15e 70.9%,#10e698 88.9%,#06dcb3 100%)"></i><i style="background:linear-gradient(90deg,#190ded 0%,#024afc 3.9%,#028ef4 7.7%,#00c6de 11.6%,#0ae0a7 14.6%,#43f15e 17.9%,#92ee1e 21.6%,#c4e00a 25.1%,#e1c700 29.7%,#e7bc00 31.8%,#ebb300 34%,#edb000 36.1%,#ebb300 38.8%,#e7bc00 41.4%,#e1c700 44.1%,#c4e00a 49.1%,#8dee21 56.6%,#43f15e 71.1%,#10e698 89%,#06dcb3 100%)"></i><i style="background:linear-gradient(90deg,#1a0dec 0%,#0249fc 3.9%,#028ef4 7.9%,#00c6de 11.8%,#0ae0a7 14.8%,#43f15e 18.2%,#91ee1e 22%,#c4e00a 25.6%,#e1c700 30.1%,#e6bc00 32.2%,#ebb500 34.3%,#ecb100 36.4%,#ebb500 39%,#e6bc00 41.6%,#e1c700 44.2%,#c4e00a 49.3%,#8dee21 56.9%,#43f15e 71.3%,#10e698 89.1%,#06dcb4 100%)"></i><i style="background:linear-gradient(90deg,#1b0dec 0%,#0248fc 4%,#028df4 8%,#00c6de 12%,#0ae0a7 15.1%,#43f15e 18.5%,#92ee1e 22.4%,#c4e00a 26%,#e1c700 30.6%,#e6bd00 32.7%,#eab600 34.7%,#ecb300 36.8%,#eab600 39.3%,#e6bd00 41.8%,#e1c700 44.3%,#c4e00a 49.5%,#8dee21 57.2%,#43f15e 71.5%,#10e698 89.2%,#06dcb4 100%)"></i><i style="background:linear-gradient(90deg,#1c0deb 0%,#0247fc 4.1%,#028df4 8.2%,#00c6de 12.2%,#0ae0a7 15.4%,#43f15e 18.9%,#92ee1e 22.8%,#c4e00a 26.4%,#e0c800 31.1%,#e6be00 33.1%,#e9b700 35.1%,#ebb400 37.1%,#e9b700 39.5%,#e6be00 41.9%,#e0c700 44.4%,#c4e00a 49.7%,#8dee21 57.5%,#43f15e 71.6%,#10e698 89.3%,#05dbb5 100%)"></i><i style="background:linear-gradient(90deg,#1d0deb 0%,#0246fc 4.2%,#028df4 8.3%,#00c6de 12.5%,#0ae0a7 15.7%,#43f15e 19.2%,#92ee1e 23.2%,#c4e00a 26.9%,#e0c800 31.6%,#e5bf00 33.6%,#e9b800 35.5%,#eab500 37.4%,#e9b800 39.7%,#e5bf00 42.1%,#e0c800 44.4%,#c4e00a 49.9%,#8dee21 57.8%,#43f15e 71.8%,#10e698 89.3%,#05dbb5 100%)"></i><i style="background:linear-gradient(90deg,#1e0deb 0%,#0245fc 4.2%,#028cf4 8.5%,#00c6de 12.7%,#0ae0a7 16%,#43f15e 19.6%,#92ee1e 23.6%,#c4e00a 27.4%,#e0c900 32.2%,#e5bf00 34%,#e8b900 35.9%,#eab700 37.7%,#e8b900 39.9%,#e5bf00 42.2%,#e0c800 44.5%,#c4e00a 50.1%,#8dee21 58.1%,#43f15e 72%,#10e698 89.4%,#05dbb5 100%)"></i><i style="background:linear-gradient(90deg,#1f0dea 0%,#0245fc 4.3%,#028cf4 8.6%,#00c6de 12.9%,#0ae0a7 16.3%,#43f15e 19.9%,#92ee1e 24%,#c4e00a 27.9%,#e0c900 32.7%,#e4c000 34.5%,#e8ba00 36.2%,#e9b800 38%,#e8ba00 40.2%,#e4c000 42.3%,#e0c900 44.5%,#c4e00a 50.3%,#8dee21 58.4%,#43f15e 72.2%,#10e698 89.5%,#05dbb6 100%)"></i><i style="background:linear-gradient(90deg,#210cea 0%,#0244fc 4.4%,#028cf5 8.8%,#00c6de 13.2%,#0ae0a7 16.6%,#43f15e 20.3%,#92ee1e 24.4%,#c4e00a 28.4%,#dfca00 33.2%,#e4c100 34.9%,#e7bb00 36.6%,#e8b900 38.3%,#e7bb00 40.4%,#e4c100 42.4%,#dfca00 44.5%,#c4e00a 50.5%,#8dee21 58.7%,#43f15e 72.4%,#10e698 89.5%,#05dbb6 100%)"></i><i style="background:linear-gradient(90deg,#220ce9 0%,#0243fc 4.5%,#028bf5 8.9%,#00c6de 13.4%,#0ae0a7 16.9%,#43f15e 20.6%,#92ee1e 24.8%,#c4e00a 28.9%,#dfca00 33.8%,#e3c200 35.4%,#e6bc00 37%,#e8ba00 38.6%,#e6bc00 40.6%,#e3c200 42.6%,#dfca00 44.5%,#c4e00a 50.7%,#8dee21 59%,#43f15e 72.6%,#10e698 89.5%,#05dbb6 100%)"></i><i style="background:linear-gradient(90deg,#230ce9 0%,#0242fc 4.5%,#028bf5 9.1%,#00c6de 13.6%,#0ae0a7 17.2%,#43f15e 21%,#92ee1e 25.2%,#c4e00a 29.4%,#decb00 34.3%,#e3c300 35.8%,#e6be00 37.3%,#e7bc00 38.9%,#e6be00 40.8%,#e3c300 42.7%,#dfcb00 44.6%,#c4e00a 50.8%,#8dee21 59.3%,#43f15e 72.8%,#10e698 89.6%,#05dbb7 100%)"></i><i style="background:linear-gradient(90deg,#240ce8 0%,#0241fc 4.6%,#028af5 9.2%,#00c6de 13.9%,#0ae0a7 17.5%,#43f15e 21.3%,#92ee1e 25.6%,#c4e00a 29.9%,#decc00 34.8%,#e2c400 36.2%,#e5bf00 37.7%,#e6bd00 39.2%,#e5bf00 41%,#e2c400 42.8%,#decc00 44.6%,#c4e00a 51%,#8dee21 59.6%,#43f15e 73%,#10e698 89.7%,#04dab7 100%)"></i><i style="background:linear-gradient(90deg,#250ce8 0%,#0240fc 4.7%,#028af5 9.4%,#00c6de 14.1%,#0ae0a7 17.8%,#43f15e 21.7%,#92ee1e 26%,#c4e00a 30.3%,#ddcc00 35.3%,#e2c500 36.7%,#e5c000 38%,#e6be00 39.4%,#e5c000 41.2%,#e2c500 42.9%,#decc00 44.6%,#c4e00a 51.2%,#8dee21 59.9%,#43f15e 73.2%,#10e698 89.7%,#04dab8 100%)"></i><i style="background:linear-gradient(90deg,#260ce8 0%,#023ffc 4.8%,#028af5 9.5%,#00c6de 14.3%,#0ae0a7 18.1%,#43f15e 22%,#92ee1e 26.4%,#c4e00a 30.8%,#ddcd00 35.7%,#e1c600 37%,#e4c100 38.4%,#e5bf00 39.7%,#e4c100 41.4%,#e1c600 43%,#ddcd00 44.7%,#c4e00a 51.4%,#8dee21 60.2%,#43f15e 73.4%,#10e698 89.8%,#04dab8 100%)"></i><i style="background:linear-gradient(90deg,#270ce7 0%,#023efc 4.8%,#0289f5 9.7%,#00c6de 14.5%,#0ae0a7 18.4%,#43f15e 22.3%,#92ee1e 26.8%,#c4e00a 31.2%,#dccd01 36.2%,#e1c700 37.4%,#e3c200 38.7%,#e4c000 40%,#e3c200 41.6%,#e1c700 43.2%,#dccd01 44.8%,#c4e00a 51.6%,#8dee21 60.5%,#43f15e 73.6%,#10e698 89.8%,#04dab9 100%)"></i><i style="background:linear-gradient(90deg,#280ce7 0%,#033efb 4.9%,#0289f5 9.8%,#00c6de 14.8%,#0ae0a7 18.7%,#43f15e 22.7%,#92ee1e 27.1%,#c4e00a 31.6%,#dbce01 36.6%,#e0c800 37.8%,#e3c300 39%,#e4c100 40.2%,#e3c300 41.8%,#e0c800 43.3%,#dcce01 44.9%,#c4e00a 51.8%,#8dee21 60.7%,#43f15e 73.8%,#10e698 89.9%,#04dab9 100%)"></i><i style="background:linear-gradient(90deg,#290ce6 0%,#033dfb 5%,#0289f5 10%,#00c6de 15%,#0ae0a7 18.9%,#43f15e 22.9%,#92ee1e 27.4%,#c4e00a 31.9%,#dbce01 36.9%,#e0c800 38.1%,#e2c400 39.3%,#e3c200 40.5%,#e2c400 42%,#e0c800 43.5%,#dbce01 45%,#c4e00a 52%,#8dee21 61%,#43f15e 74%,#10e698 90%,#04dab9 100%)"></i><i style="background:linear-gradient(90deg,#2a0ce6 0%,#033cfb 5.1%,#0288f6 10.1%,#00c6de 15.2%,#0ae0a7 19.2%,#43f15e 23.2%,#92ee1e 27.7%,#c4e00a 32.2%,#dbcf01 37.2%,#e0c900 38.4%,#e2c500 39.5%,#e3c300 40.7%,#e2c500 42.1%,#e0c900 43.6%,#dacf01 45.1%,#c4e00a 52.1%,#8dee21 61.2%,#43f15e 74.2%,#10e698 90.1%,#04daba 100%)"></i><i style="background:linear-gradient(90deg,#2b0be6 0%,#033bfb 5.1%,#0288f6 10.2%,#00c6de 15.4%,#0ae0a7 19.4%,#43f15e 23.5%,#92ee1e 28%,#c4e00a 32.5%,#dacf02 37.5%,#dfca00 38.7%,#e1c600 39.8%,#e2c400 40.9%,#e1c600 42.4%,#dfca00 43.8%,#dacf02 45.3%,#c4e00a 52.3%,#8dee21 61.4%,#43f15e 74.3%,#10e698 90.1%,#03d9ba 100%)"></i><i style="background:linear-gradient(90deg,#2c0be5 0%,#033bfb 5.2%,#0288f6 10.4%,#00c6de 15.6%,#0ae0a7 19.7%,#43f15e 23.7%,#92ee1e 28.2%,#c4e00a 32.8%,#dacf02 37.8%,#dfcb00 38.9%,#e1c700 40%,#e2c500 41.1%,#e1c700 42.5%,#dfcb00 44%,#d9d002 45.5%,#c4e00a 52.5%,#8dee21 61.6%,#43f15e 74.5%,#10e698 90.2%,#03d9bb 100%)"></i><i style="background:linear-gradient(90deg,#2c0be5 0%,#043afb 5.2%,#0287f6 10.5%,#00c6de 15.7%,#0ae0a7 19.9%,#43f15e 24%,#92ee1e 28.5%,#c4e00a 33%,#d9d002 38%,#decb00 39.1%,#e0c700 40.2%,#e1c600 41.3%,#e0c800 42.7%,#decb00 44.2%,#d9d002 45.6%,#c4e00a 52.7%,#8dee21 61.8%,#43f15e 74.7%,#10e698 90.3%,#03d9bb 100%)"></i><i style="background:linear-gradient(90deg,#2d0be5 0%,#043afa 5.3%,#0287f6 10.6%,#00c6de 15.9%,#0ae0a7 20.2%,#43f15e 24.2%,#92ee1e 28.7%,#c4e00a 33.3%,#d9d002 38.3%,#decc00 39.3%,#e0c800 40.4%,#e1c700 41.5%,#e0c800 42.9%,#decc00 44.4%,#d8d102 45.8%,#c4e00a 52.9%,#8dee21 62%,#43f15e 74.9%,#10e698 90.4%,#03d9bb 100%)"></i><i style="background:linear-gradient(90deg,#2e0be5 0%,#0439fa 5.4%,#0287f6 10.7%,#00c6de 16.1%,#0ae0a7 20.4%,#43f15e 24.4%,#92ee1e 28.9%,#c4e00a 33.5%,#d9d002 38.5%,#decc00 39.5%,#e0c900 40.6%,#e0c800 41.6%,#dfc900 43.1%,#ddcd00 44.6%,#d7d103 46%,#c4e00a 53.1%,#8dee21 62.1%,#43f15e 75.1%,#10e698 90.5%,#03d9bc 100%)"></i><i style="background:linear-gradient(90deg,#2f0be4 0%,#0438fa 5.4%,#0287f6 10.9%,#00c6de 16.3%,#0ae0a7 20.6%,#43f15e 24.6%,#92ee1e 29.2%,#c4e00a 33.7%,#d8d102 38.7%,#ddcd00 39.7%,#dfca00 40.8%,#e0c900 41.8%,#dfca00 43.3%,#dccd01 44.8%,#d7d103 46.2%,#c4e00a 53.3%,#8dee21 62.3%,#43f15e 75.3%,#10e698 90.6%,#03d9bc 100%)"></i><i style="background:linear-gradient(90deg,#2f0be4 0%,#0438fa 5.5%,#0286f6 11%,#00c6de 16.5%,#0ae0a7 20.9%,#43f15e 24.9%,#92ee1e 29.4%,#c4e00a 33.9%,#d8d102 38.9%,#dccd01 39.9%,#dfcb00 41%,#dfca00 42%,#dfcb00 43.5%,#dcce01 45%,#d6d203 46.5%,#c4e00a 53.5%,#8dee21 62.5%,#43f15e 75.5%,#10e698 90.7%,#02d8bd 100%)"></i><i style="background:linear-gradient(90deg,#300be4 0%,#0437fa 5.6%,#0286f6 11.1%,#00c6de 16.7%,#0ae0a7 21.1%,#43f15e 25.1%,#92ee1e 29.6%,#c4e00a 34.1%,#d7d103 39.1%,#dcce01 40.1%,#decb00 41.1%,#dfca00 42.2%,#decc00 43.7%,#dbce01 45.2%,#d6d203 46.7%,#c4e00a 53.7%,#8dee21 62.7%,#43f15e 75.7%,#10e698 90.8%,#02d8bd 100%)"></i><i style="background:linear-gradient(90deg,#310be3 0%,#0536fa 5.6%,#0286f6 11.2%,#00c6de 16.9%,#0ae0a7 21.3%,#43f15e 25.3%,#92ee1e 29.8%,#c4e00a 34.3%,#d7d103 39.3%,#dbce01 40.3%,#decc00 41.3%,#decb00 42.4%,#ddcc00 43.9%,#dacf01 45.4%,#d5d303 46.9%,#c4e00a 53.9%,#8dee21 62.9%,#43f15e 75.9%,#10e698 90.9%,#02d8be 100%)"></i><i style="background:linear-gradient(90deg,#320be3 0%,#0536fa 5.7%,#0286f6 11.3%,#00c6de 17%,#0ae0a7 21.5%,#43f15e 25.5%,#92ee1e 30%,#c4e00a 34.5%,#d7d203 39.5%,#dbcf01 40.5%,#ddcd00 41.5%,#decc00 42.5%,#ddcd00 44%,#dacf02 45.5%,#d5d304 47%,#c4e00a 54%,#8dee21 63%,#43f15e 76%,#10e698 91%,#02d8be 100%)"></i></div>
<div class="p" style="left:413px;top:175.5px;width:169px;height:168.5px"><i style="background:linear-gradient(90deg,#20ea86 0%,#39f069 1%,#51f250 2%,#64f43c 3.5%,#73f231 5%,#7ff12a 6%,#81f029 6.5%,#83f028 6.9%,#83f027 7.3%,#82f028 7.9%,#7ff02a 8.5%,#7bf12c 9.1%,#6ef334 11.1%,#5bf345 14.1%,#43f15e 18.3%,#10e698 32.3%,#04dab9 52.3%,#00cad8 100%)"></i><i style="background:linear-gradient(90deg,#1fe987 0%,#37ef6c 0.9%,#4ef253 1.9%,#63f43d 3.4%,#75f230 5%,#82f028 6.1%,#85f026 6.6%,#87ef25 7%,#88ef24 7.4%,#87ef25 8.1%,#84f027 8.7%,#7ff02a 9.3%,#72f232 11.3%,#5ff341 14.2%,#43f15e 18.8%,#10e698 32.8%,#04dab9 52.9%,#00cad7 100%)"></i><i style="background:linear-gradient(90deg,#1ee989 0%,#34ef6f 0.9%,#4cf255 1.9%,#63f43d 3.4%,#77f22f 5%,#86ef26 6.2%,#89ef24 6.7%,#8cef22 7.1%,#8cee22 7.6%,#8bef22 8.2%,#88ef24 8.9%,#84f027 9.6%,#76f22f 11.5%,#64f43d 14.2%,#43f15e 19.4%,#10e698 33.3%,#04dab9 53.6%,#00cad7 100%)"></i><i style="background:linear-gradient(90deg,#1ce98a 0%,#32ee71 0.8%,#49f158 1.8%,#62f33e 3.3%,#79f12e 5%,#89ef24 6.3%,#8dee21 6.8%,#90ee1f 7.3%,#91ee1f 7.8%,#90ee1f 8.4%,#8dee21 9.1%,#88ef24 9.8%,#7bf12d 11.7%,#68f438 14.3%,#43f15e 20%,#10e698 33.8%,#04dab9 54.3%,#00cad7 100%)"></i><i style="background:linear-gradient(90deg,#1be98b 0%,#30ee74 0.8%,#47f15b 1.7%,#61f33f 3.2%,#7bf12d 5%,#8dee21 6.4%,#91ee1f 6.9%,#94ed1d 7.4%,#95ed1c 7.9%,#94ed1d 8.6%,#91ee1f 9.3%,#8cee22 10%,#7ff12a 11.9%,#6df335 14.3%,#43f15e 20.5%,#10e698 34.3%,#04dab9 54.9%,#00cad7 100%)"></i><i style="background:linear-gradient(90deg,#1ae88c 0%,#2ded76 0.7%,#44f15d 1.7%,#61f340 3.2%,#7df12b 5%,#90ee1f 6.5%,#95ed1c 7%,#99ec1a 7.5%,#9aec19 8.1%,#99ec1a 8.8%,#96ed1c 9.5%,#91ee1f 10.2%,#83f027 12.1%,#73f232 14.4%,#43f15e 21.1%,#10e698 34.8%,#04dab9 55.6%,#00cad7 100%)"></i><i style="background:linear-gradient(90deg,#19e88e 0%,#2bec79 0.7%,#42f160 1.6%,#60f340 3.1%,#7ef12a 5%,#94ed1d 6.5%,#9aec1a 7.1%,#9dec18 7.6%,#9eeb17 8.2%,#9dec18 8.9%,#9aec19 9.7%,#95ed1c 10.4%,#87ef25 12.3%,#77f22f 14.5%,#43f15e 21.6%,#10e698 35.4%,#04dab9 56.3%,#00cad7 100%)"></i><i style="background:linear-gradient(90deg,#17e890 0%,#29ec7c 0.7%,#40f162 1.6%,#60f341 3.1%,#80f029 5%,#97ed1b 6.6%,#9dec18 7.2%,#a0eb16 7.8%,#a1ea16 8.4%,#a1eb16 9.1%,#9eeb17 9.9%,#9aec19 10.6%,#8bef23 12.5%,#7bf12c 14.6%,#43f15e 22.2%,#10e698 35.9%,#04dab9 56.9%,#00cad7 100%)"></i><i style="background:linear-gradient(90deg,#15e792 0%,#26eb7f 0.6%,#3ef064 1.5%,#5ff341 3%,#82f028 5%,#9bec19 6.7%,#a0eb16 7.3%,#a4ea15 8%,#a5e915 8.6%,#a4ea15 9.3%,#a2ea16 10.1%,#9dec17 10.9%,#8fee20 12.8%,#7ef12a 14.8%,#43f15e 22.8%,#10e698 36.4%,#04dab9 57.5%,#00cad7 100%)"></i><i style="background:linear-gradient(90deg,#13e795 0%,#24eb82 0.6%,#3cf066 1.5%,#5ff341 3%,#85f026 5%,#9eeb17 6.9%,#a4ea15 7.5%,#a7e914 8.1%,#a8e814 8.8%,#a8e914 9.6%,#a5e915 10.4%,#a1eb16 11.2%,#92ed1e 13.1%,#80f029 15.1%,#43f15e 23.4%,#10e698 36.9%,#04dab9 58%,#00cad6 100%)"></i><i style="background:linear-gradient(90deg,#10e698 0%,#21ea85 0.6%,#3af068 1.5%,#5ff342 3%,#87ef25 5%,#a1eb16 7%,#a7e914 7.7%,#abe813 8.3%,#ace712 9%,#abe813 9.8%,#a8e814 10.7%,#a4ea15 11.5%,#96ed1c 13.5%,#81f029 15.5%,#43f15e 24%,#10e698 37.5%,#04dab9 58.5%,#00cad6 100%)"></i><i style="background:linear-gradient(90deg,#0fe59b 0%,#1ee988 0.6%,#39f06a 1.5%,#5ff341 3%,#8aef23 5%,#a4ea15 7.2%,#aae813 7.8%,#aee712 8.6%,#afe611 9.2%,#aee612 10.1%,#ace713 11%,#a7e914 11.8%,#99ed1a 13.9%,#81f029 16%,#43f15e 24.6%,#10e698 38%,#04dab9 58.9%,#00cad6 100%)"></i><i style="background:linear-gradient(90deg,#0ee49f 0%,#1be98b 0.6%,#38ef6b 1.6%,#60f340 3.1%,#8dee21 5.1%,#a7e914 7.3%,#ade712 8.1%,#b1e611 8.8%,#b3e510 9.5%,#b2e510 10.4%,#afe611 11.3%,#aae813 12.3%,#9cec18 14.4%,#81f029 16.6%,#43f15f 25.3%,#10e698 38.6%,#04daba 59.3%,#00cad6 100%)"></i><i style="background:linear-gradient(90deg,#0ce2a3 0%,#18e88f 0.6%,#37ef6b 1.6%,#61f33f 3.1%,#90ee1f 5.2%,#aae813 7.6%,#b0e611 8.3%,#b5e50f 9.1%,#b6e40f 9.8%,#b5e40f 10.8%,#b2e510 11.8%,#ade712 12.7%,#9eeb17 15%,#81f029 17.3%,#43f15f 26%,#10e698 39.2%,#04daba 59.6%,#00cad6 100%)"></i><i style="background:linear-gradient(90deg,#0ae0a8 0%,#15e792 0.7%,#36ef6c 1.7%,#63f43d 3.2%,#93ed1d 5.3%,#ade712 7.8%,#b4e510 8.6%,#b8e40e 9.4%,#bae30e 10.2%,#b8e30e 11.2%,#b5e40f 12.2%,#b0e611 13.2%,#a0eb17 15.7%,#80f029 18.1%,#43f15f 26.8%,#10e698 39.8%,#04daba 59.9%,#00cad6 100%)"></i><i style="background:linear-gradient(90deg,#08dead 0%,#12e696 0.7%,#36ef6d 1.8%,#65f43b 3.4%,#97ed1b 5.5%,#b0e611 8%,#b7e40f 8.9%,#bbe30d 9.7%,#bde20c 10.5%,#bce20d 11.6%,#b8e30e 12.7%,#b3e510 13.7%,#a2ea16 16.4%,#80f029 19%,#42f15f 27.5%,#10e698 40.5%,#03d9ba 60.1%,#01cbd6 100%)"></i><i style="background:linear-gradient(90deg,#06dcb2 0%,#10e699 0.8%,#35ef6d 1.9%,#68f438 3.5%,#9bec19 5.7%,#b3e510 8.3%,#bae30d 9.2%,#bfe20c 10%,#c0e10b 10.9%,#bfe10c 12%,#bce20d 13.1%,#b6e40f 14.2%,#a3ea15 17.1%,#80f029 20%,#42f160 28.3%,#10e699 41.1%,#03d9ba 60.4%,#01cbd6 100%)"></i><i style="background:linear-gradient(90deg,#04dab7 0%,#0ee49c 0.8%,#35ef6e 2%,#6bf436 3.7%,#9eeb17 5.9%,#b7e40f 8.6%,#bee20c 9.5%,#c2e10b 10.4%,#c4e00a 11.3%,#c2e00b 12.5%,#bfe20c 13.6%,#b9e30e 14.8%,#a5e915 17.8%,#7ff02a 21%,#42f160 29%,#10e699 41.7%,#03d9ba 60.5%,#01cbd6 100%)"></i><i style="background:linear-gradient(90deg,#02d8bd 0%,#0de39f 0.9%,#35ef6e 2.1%,#6ef334 3.8%,#a1eb16 6.1%,#bae30e 8.8%,#c1e10b 9.8%,#c5df0a 10.7%,#c6de09 11.7%,#c5df0a 12.9%,#c2e10b 14.1%,#bce20d 15.3%,#a6e914 18.6%,#7ff02a 22%,#41f160 29.8%,#10e699 42.4%,#03d9bb 60.7%,#01cbd6 100%)"></i><i style="background:linear-gradient(90deg,#02d6c2 0%,#0ce2a3 0.9%,#35ef6e 2.2%,#71f333 4%,#a4ea15 6.3%,#bde20c 9.1%,#c4e00a 10.1%,#c7de09 11.1%,#c8dd08 12.1%,#c7dd09 13.3%,#c5df0a 14.6%,#bfe20c 15.9%,#a8e814 19.3%,#7ef12a 23%,#41f161 30.6%,#10e699 43%,#03d9bb 60.9%,#01cbd6 100%)"></i><i style="background:linear-gradient(90deg,#01d3c7 0%,#0be1a5 1%,#35ef6e 2.4%,#73f231 4.2%,#a6e914 6.5%,#c0e10b 9.3%,#c6de09 10.4%,#c9dc08 11.4%,#cadb08 12.4%,#c9dc08 13.8%,#c7de09 15.1%,#c2e10b 16.4%,#a9e813 20.1%,#7ef12a 24.1%,#41f161 31.3%,#0fe59a 43.6%,#03d9bb 61%,#01cbd6 100%)"></i><i style="background:linear-gradient(90deg,#01d1cb 0%,#0ae0a8 1%,#34ef6e 2.5%,#76f22f 4.3%,#a9e813 6.7%,#c3e00a 9.6%,#c8dd08 10.7%,#cbda07 11.7%,#cdd907 12.8%,#ccda07 14.2%,#c9dc08 15.6%,#c4e00a 17%,#abe813 20.8%,#7ef12b 25%,#40f161 32.1%,#0fe59a 44.2%,#03d9bc 61.2%,#01cbd6 100%)"></i><i style="background:linear-gradient(90deg,#01ced0 0%,#09dfab 1.1%,#34ef6f 2.6%,#79f12e 4.5%,#ace712 6.9%,#c6df09 9.8%,#cadb08 10.9%,#ced906 12.1%,#cfd806 13.2%,#ced906 14.6%,#cbdb07 16%,#c6de09 17.5%,#ace712 21.5%,#7df12b 26%,#40f162 32.8%,#0fe59a 44.7%,#03d9bc 61.3%,#01cbd5 100%)"></i><i style="background:linear-gradient(90deg,#01ccd4 0%,#08deaf 1.1%,#33ee6f 2.7%,#7af12d 4.7%,#aee612 7.1%,#c8dd09 10%,#cdd907 11.2%,#d0d705 12.4%,#d1d605 13.5%,#d0d705 15%,#cdd907 16.5%,#c8dd09 17.9%,#ade712 22.1%,#7df12b 26.8%,#40f162 33.5%,#0fe59a 45.3%,#03d9bc 61.5%,#01cbd5 100%)"></i><i style="background:linear-gradient(90deg,#00c9d8 0%,#06dcb2 1.1%,#33ee70 2.9%,#7cf12c 4.8%,#b1e611 7.3%,#c9dc08 10.2%,#cfd806 11.4%,#d2d505 12.6%,#d3d404 13.8%,#d2d505 15.3%,#cfd806 16.9%,#cadc08 18.4%,#afe612 22.7%,#7df12b 27.6%,#40f062 34.1%,#0fe59b 45.8%,#03d9bc 61.7%,#01cbd5 100%)"></i><i style="background:linear-gradient(90deg,#00c7dc 0%,#05dbb5 1.2%,#32ee71 2.9%,#7df12b 4.9%,#b3e510 7.4%,#cbda07 10.4%,#d1d605 11.7%,#d4d404 12.9%,#d5d303 14.1%,#d4d404 15.7%,#d1d605 17.2%,#cbda07 18.8%,#b0e611 23.2%,#7df12b 28.3%,#40f062 34.7%,#0fe59b 46.2%,#03d9bc 61.9%,#01cbd5 100%)"></i><i style="background:linear-gradient(90deg,#00c5df 0%,#04dab8 1.2%,#31ee72 3%,#7df12b 5%,#b5e50f 7.5%,#cdd907 10.5%,#d3d504 11.8%,#d6d203 13.1%,#d8d102 14.4%,#d6d203 16%,#d3d504 17.5%,#cdd907 19.1%,#b1e611 23.7%,#7df12b 28.9%,#40f062 35.2%,#0fe59b 46.7%,#03d9bd 62.1%,#01cbd5 100%)"></i><i style="background:linear-gradient(90deg,#00c1e0 0%,#03d9bb 1.2%,#30ee74 3.1%,#7df12b 5.1%,#b6e40f 7.6%,#cfd806 10.7%,#d5d304 12%,#d8d002 13.3%,#dacf02 14.6%,#d8d002 16.2%,#d5d304 17.8%,#cfd806 19.4%,#b3e510 24.1%,#7df12b 29.4%,#40f062 35.7%,#0fe59b 47%,#02d8bd 62.3%,#01cbd5 100%)"></i><i style="background:linear-gradient(90deg,#00bde2 0%,#02d8be 1.2%,#2eed76 3.2%,#7df12b 5.2%,#b8e40e 7.7%,#d1d605 10.8%,#d7d203 12.1%,#dbcf01 13.5%,#dccd01 14.8%,#dbcf01 16.5%,#d7d203 18.1%,#d1d605 19.7%,#b4e50f 24.4%,#7ef12b 29.9%,#40f062 36.1%,#0fe59c 47.4%,#02d8bd 62.6%,#01cbd5 100%)"></i><i style="background:linear-gradient(90deg,#01bae3 0%,#02d6c1 1.3%,#2ded77 3.2%,#7df12b 5.3%,#bae30e 7.7%,#d3d504 10.8%,#d9d002 12.2%,#ddcd00 13.6%,#decc00 15%,#ddcd00 16.7%,#d9d002 18.3%,#d2d504 19.9%,#b6e40f 24.7%,#7ff12a 30.2%,#40f062 36.6%,#0ee49c 47.7%,#02d8bd 62.8%,#01cbd4 100%)"></i><i style="background:linear-gradient(90deg,#01b7e4 0%,#02d4c4 1.3%,#0ce2a3 2.3%,#2bec7a 3.3%,#7df12b 5.4%,#bbe30d 7.8%,#d5d304 10.9%,#dbce01 12.3%,#dfcb00 13.8%,#dfc900 15.2%,#dfcb00 16.8%,#dbce01 18.5%,#d4d304 20.1%,#b8e40e 25%,#80f029 30.6%,#40f062 36.9%,#0ee49c 47.9%,#02d8bd 63.1%,#01ccd4 100%)"></i><i style="background:linear-gradient(90deg,#01b4e5 0%,#01d3c7 1.3%,#0be1a6 2.3%,#29ec7c 3.4%,#51f250 4.4%,#7df12b 5.5%,#bce20d 7.8%,#d6d203 10.9%,#ddcd00 12.4%,#e0c900 13.9%,#e1c700 15.4%,#e0c900 17%,#ddcd00 18.6%,#d6d203 20.2%,#b9e30e 25.2%,#81f028 30.9%,#40f062 37.3%,#0ee49d 48.2%,#02d8bd 63.3%,#01ccd4 100%)"></i><i style="background:linear-gradient(90deg,#01b1e7 0%,#01d1cb 1.3%,#0ae0a8 2.4%,#26eb7f 3.4%,#4ff252 4.5%,#7df12b 5.5%,#bee20c 7.8%,#d8d002 10.9%,#dfcb00 12.5%,#e1c600 14%,#e2c500 15.6%,#e1c600 17.2%,#dfcb00 18.8%,#d8d102 20.4%,#bbe30d 25.4%,#83f028 31.1%,#40f062 37.6%,#0ee49d 48.4%,#02d8bd 63.6%,#01ccd3 100%)"></i><i style="background:linear-gradient(90deg,#01afe8 0%,#01cfce 1.3%,#09dfab 2.4%,#24eb81 3.5%,#4ef253 4.5%,#7df12b 5.6%,#bfe20c 7.8%,#dacf01 10.9%,#e0c900 12.5%,#e2c400 14.1%,#e3c200 15.7%,#e2c400 17.3%,#e0c900 18.9%,#dacf02 20.5%,#bce20d 25.6%,#84f027 31.4%,#40f062 38%,#0ee49e 48.6%,#02d8bd 63.8%,#01ccd3 100%)"></i><i style="background:linear-gradient(90deg,#01ace9 0%,#01cdd1 1.3%,#08deae 2.4%,#22ea83 3.5%,#4df254 4.6%,#7df12b 5.7%,#c0e10b 7.9%,#dcce01 10.9%,#e1c700 12.6%,#e3c200 14.2%,#e4c000 15.8%,#e3c200 17.4%,#e1c700 19.1%,#dcce01 20.6%,#bee20c 25.8%,#86ef26 31.6%,#40f062 38.3%,#0ee49e 48.8%,#02d8be 64.1%,#01ccd3 100%)"></i><i style="background:linear-gradient(90deg,#01aaea 0%,#01ccd4 1.3%,#07ddb1 2.4%,#20ea86 3.6%,#4cf255 4.7%,#7df12b 5.7%,#c1e10b 7.9%,#ddcc00 10.9%,#e2c500 12.6%,#e5c000 14.3%,#e6be00 16%,#e5c000 17.6%,#e2c500 19.2%,#ddcd00 20.8%,#bfe10c 26%,#87ef25 31.8%,#40f062 38.6%,#0ee49e 49%,#02d8be 64.3%,#01cdd2 100%)"></i><i style="background:linear-gradient(90deg,#02a7eb 0%,#00cad6 1.3%,#06dcb3 2.5%,#1ee988 3.6%,#4bf156 4.7%,#7df12b 5.8%,#c2e10b 7.9%,#decb00 10.9%,#e3c300 12.7%,#e6be00 14.4%,#e7bc00 16.1%,#e6be00 17.7%,#e3c300 19.3%,#decb00 20.9%,#c0e10b 26.1%,#89ef24 31.9%,#40f062 38.8%,#0ee49f 49.2%,#02d8be 64.6%,#01cdd2 100%)"></i><i style="background:linear-gradient(90deg,#02a5ec 0%,#00c9d8 1.3%,#05dbb5 2.5%,#1ce98a 3.7%,#4af157 4.8%,#7df12b 5.9%,#c2e00b 7.9%,#dfca00 11%,#e4c100 12.8%,#e7bb00 14.5%,#e8b900 16.3%,#e7bb00 17.9%,#e4c100 19.5%,#dfca00 21%,#c1e10b 26.3%,#8aef23 32.1%,#40f062 39.1%,#0de39f 49.4%,#02d8be 64.8%,#01cdd2 100%)"></i><i style="background:linear-gradient(90deg,#02a2ed 0%,#00c8da 1.4%,#05dbb7 2.5%,#1be98b 3.8%,#49f158 4.8%,#7df12b 5.9%,#c3e00a 8%,#e0c900 11%,#e5c000 12.8%,#e8b900 14.6%,#e9b700 16.5%,#e8b900 18%,#e5c000 19.6%,#e0c900 21.2%,#c2e00b 26.5%,#8bef22 32.3%,#40f062 39.4%,#0de39f 49.6%,#02d8be 65.1%,#01cdd2 100%)"></i><i style="background:linear-gradient(90deg,#029fee 0%,#00c7dc 1.4%,#04dab8 2.6%,#1ae88d 3.8%,#48f159 4.9%,#7df12b 6%,#c3e00a 8%,#e0c800 11.1%,#e5be00 12.9%,#e9b800 14.8%,#eab500 16.6%,#e9b800 18.2%,#e5be00 19.8%,#e0c800 21.4%,#c3e00a 26.7%,#8cee22 32.5%,#40f062 39.7%,#0de39f 49.8%,#02d8be 65.3%,#01cdd1 100%)"></i><i style="background:linear-gradient(90deg,#029cef 0%,#00c6dd 1.4%,#04daba 2.6%,#19e88e 3.9%,#48f159 5%,#7df12b 6.1%,#c4e00a 8.1%,#e1c700 11.1%,#e6bd00 13%,#eab600 14.9%,#ebb300 16.8%,#eab600 18.4%,#e6bd00 20%,#e1c700 21.6%,#c4e00a 26.8%,#8dee21 32.7%,#40f062 40%,#0de3a0 50.1%,#02d8be 65.6%,#01cdd1 100%)"></i><i style="background:linear-gradient(90deg,#0299f0 0%,#00c6de 1.5%,#03d9ba 2.7%,#18e88e 4%,#48f15a 5.1%,#7df12b 6.2%,#c4e00a 8.1%,#e1c700 11.2%,#e7bc00 13.2%,#ebb400 15.1%,#ecb100 17.1%,#ebb400 18.6%,#e7bc00 20.2%,#e1c700 21.8%,#c4e00a 27.1%,#8dee21 32.9%,#40f062 40.3%,#0de3a0 50.3%,#02d8be 65.8%,#01cdd1 100%)"></i><i style="background:linear-gradient(90deg,#0296f1 0%,#00c6de 1.5%,#03d9ba 2.8%,#18e88e 4%,#48f15a 5.1%,#7df12b 6.2%,#c4e00a 8.2%,#e1c700 11.3%,#e7bb00 13.3%,#ecb300 15.3%,#edae00 17.3%,#ecb300 18.9%,#e7bb00 20.5%,#e1c700 22.1%,#c4e00a 27.3%,#8dee21 33.2%,#40f062 40.6%,#0de3a0 50.6%,#02d8be 66.1%,#01cdd1 100%)"></i><i style="background:linear-gradient(90deg,#0293f2 0%,#00c6de 1.6%,#03d9ba 2.8%,#18e88e 4.1%,#48f15a 5.2%,#7df12b 6.3%,#c4e00a 8.3%,#e1c700 11.5%,#e7ba00 13.5%,#ecb100 15.5%,#eeab00 17.5%,#ecb100 19.2%,#e7ba00 20.8%,#e1c700 22.4%,#c4e00a 27.5%,#8dee21 33.5%,#40f062 40.9%,#0de39f 50.9%,#02d8be 66.3%,#01cdd1 100%)"></i><i style="background:linear-gradient(90deg,#028ff3 0%,#00c6de 1.7%,#03d9ba 2.9%,#19e88e 4.2%,#48f159 5.3%,#7df12b 6.4%,#c4e00a 8.5%,#e1c700 11.6%,#e8ba00 13.7%,#edaf00 15.8%,#eea900 17.8%,#edaf00 19.5%,#e8ba00 21.1%,#e1c700 22.8%,#c4e00a 27.8%,#8dee21 33.7%,#40f162 41.3%,#0de39f 51.2%,#02d8be 66.6%,#01cdd1 100%)"></i><i style="background:linear-gradient(90deg,#028cf4 0%,#00c6de 1.8%,#03d9ba 3%,#18e88e 4.2%,#48f159 5.3%,#7df12b 6.4%,#c4e00a 8.6%,#e1c700 11.8%,#e8b900 13.9%,#edad00 16%,#efa600 18.1%,#edad00 19.8%,#e8b900 21.5%,#e1c700 23.1%,#c4e00a 28%,#8dee21 34%,#40f162 41.6%,#0ee49f 51.6%,#02d8be 66.9%,#01cdd2 100%)"></i><i style="background:linear-gradient(90deg,#0289f5 0%,#00c6de 1.8%,#03d9ba 3.1%,#18e88e 4.3%,#48f15a 5.4%,#7df12b 6.5%,#c4e00a 8.7%,#e1c700 12%,#e9b800 14.1%,#eeab00 16.3%,#f0a400 18.4%,#eeab00 20.1%,#e9b800 21.8%,#e1c700 23.5%,#c4e00a 28.3%,#8dee21 34.2%,#40f162 41.9%,#0ee49e 51.9%,#02d8be 67.1%,#01cdd2 100%)"></i><i style="background:linear-gradient(90deg,#0286f6 0%,#00c6de 1.9%,#03d9ba 3.1%,#18e88e 4.3%,#48f15a 5.4%,#7df12b 6.5%,#c4e00a 8.8%,#e1c700 12.2%,#e9b800 14.3%,#eea900 16.5%,#f0a200 18.7%,#eea900 20.4%,#e9b800 22.2%,#e1c700 23.9%,#c4e00a 28.5%,#8dee21 34.4%,#40f161 42.3%,#0ee49e 52.3%,#02d8be 67.4%,#01cdd2 100%)"></i><i style="background:linear-gradient(90deg,#0282f7 0%,#00c6de 2.1%,#03d9ba 3.2%,#18e88e 4.4%,#48f159 5.5%,#7df12b 6.6%,#c4e00a 8.9%,#e1c700 12.3%,#e9b700 14.6%,#efa700 16.8%,#f1a000 19%,#efa700 20.8%,#e9b700 22.6%,#e1c700 24.3%,#c4e00a 28.7%,#8dee21 34.7%,#41f161 42.6%,#0ee49d 52.7%,#02d8be 67.6%,#01ccd3 100%)"></i><i style="background:linear-gradient(90deg,#027ff9 0%,#00c6de 2.2%,#03d9ba 3.3%,#19e88e 4.5%,#48f15a 5.6%,#7df12b 6.6%,#c4e00a 9.1%,#e1c700 12.6%,#e9b700 14.8%,#efa500 17.1%,#f19d00 19.4%,#efa500 21.1%,#e9b700 22.9%,#e1c700 24.8%,#c4e00a 29%,#8dee21 34.9%,#41f161 42.9%,#0ee49c 53%,#02d8be 67.9%,#01ccd3 100%)"></i><i style="background:linear-gradient(90deg,#027cfa 0%,#02a3ed 1.2%,#00c6de 2.3%,#03d9ba 3.4%,#18e88e 4.5%,#48f159 5.6%,#7df12b 6.7%,#c4e00a 9.2%,#e1c700 12.8%,#eab600 15.1%,#f0a400 17.4%,#f29b00 19.7%,#f0a400 21.5%,#eab600 23.3%,#e1c700 25.2%,#c4e00a 29.2%,#8dee21 35.2%,#41f160 43.2%,#0fe59c 53.4%,#02d8be 68.2%,#01ccd3 100%)"></i><i style="background:linear-gradient(90deg,#0278fb 0%,#02a2ed 1.2%,#00c6de 2.5%,#03d9ba 3.5%,#18e88e 4.6%,#48f15a 5.7%,#7df12b 6.8%,#c4e00a 9.4%,#e1c700 13%,#eab600 15.3%,#f0a200 17.7%,#f39900 20%,#f0a200 21.9%,#eab600 23.7%,#e1c700 25.6%,#c4e00a 29.5%,#8dee21 35.4%,#42f160 43.5%,#0fe59b 53.8%,#02d8be 68.4%,#01ccd4 100%)"></i><i style="background:linear-gradient(90deg,#0275fc 0%,#02a0ee 1.3%,#00c6de 2.6%,#03d9ba 3.6%,#18e88e 4.7%,#48f15a 5.8%,#7df12b 6.9%,#c4e00a 9.5%,#e1c700 13.2%,#eab500 15.6%,#f1a100 17.9%,#f39700 20.3%,#f1a100 22.2%,#eab500 24.1%,#e1c700 26%,#c4e00a 29.8%,#8dee21 35.7%,#42f160 43.9%,#0fe59a 54.1%,#02d8be 68.7%,#01ccd4 100%)"></i><i style="background:linear-gradient(90deg,#0271fc 0%,#029fee 1.4%,#00c6de 2.7%,#03d9ba 3.8%,#18e88e 4.8%,#48f15a 5.9%,#7df12b 7%,#c4e00a 9.7%,#e1c700 13.4%,#ebb500 15.8%,#f19f00 18.2%,#f49500 20.6%,#f19f00 22.6%,#eab500 24.5%,#e1c700 26.4%,#c4e00a 30%,#8dee21 35.9%,#42f15f 44.2%,#0fe59a 54.5%,#02d8be 68.9%,#01cbd4 100%)"></i><i style="background:linear-gradient(90deg,#026dfc 0%,#029def 1.5%,#00c6de 2.9%,#03d9ba 3.9%,#19e88e 4.9%,#48f15a 6%,#7df12b 7.1%,#c4e00a 9.9%,#e1c700 13.7%,#ebb400 16.1%,#f19e00 18.5%,#f49300 21%,#f19e00 22.9%,#ebb400 24.9%,#e1c700 26.9%,#c4e00a 30.3%,#8dee21 36.2%,#43f15f 44.5%,#10e699 54.9%,#02d8be 69.2%,#01cbd5 100%)"></i><i style="background:linear-gradient(90deg,#026afc 0%,#029cef 1.5%,#00c6de 3%,#03d9ba 4.1%,#19e88e 5.1%,#48f15a 6.1%,#7df12b 7.2%,#c4e00a 10.1%,#e1c700 13.9%,#ebb400 16.3%,#f29c00 18.8%,#f59100 21.3%,#f29c00 23.3%,#ebb400 25.2%,#e1c700 27.3%,#c4e00a 30.5%,#8dee21 36.4%,#43f15f 44.8%,#10e699 55.2%,#02d8be 69.4%,#01cbd5 100%)"></i><i style="background:linear-gradient(90deg,#0266fc 0%,#029af0 1.6%,#00c6de 3.2%,#03d9ba 4.2%,#18e88f 5.2%,#48f15a 6.3%,#7df12b 7.4%,#c4e00a 10.3%,#e1c700 14.1%,#ebb300 16.6%,#f29b00 19.1%,#f58f00 21.6%,#f29b00 23.6%,#ebb300 25.6%,#e1c700 27.6%,#c4e00a 30.8%,#8dee21 36.7%,#43f15f 45.1%,#10e698 55.5%,#02d8be 69.6%,#01cbd5 100%)"></i><i style="background:linear-gradient(90deg,#0262fc 0%,#0298f1 1.7%,#00c6de 3.4%,#03d9ba 4.4%,#18e88f 5.4%,#48f159 6.5%,#7df12b 7.6%,#c4e00a 10.5%,#e1c700 14.3%,#ebb300 16.8%,#f39900 19.3%,#f68d00 21.8%,#f39900 23.9%,#ebb300 25.9%,#e1c700 28%,#c4e00a 31%,#8dee21 36.9%,#43f15e 45.3%,#10e698 55.8%,#02d8be 69.9%,#01cbd5 100%)"></i><i style="background:linear-gradient(90deg,#025efc 0%,#0296f1 1.8%,#00c6de 3.6%,#03d9ba 4.6%,#18e88f 5.6%,#48f159 6.7%,#7df12b 7.8%,#c4e00a 10.8%,#e1c700 14.6%,#ecb300 17.1%,#f39800 19.6%,#f68b00 22.1%,#f39800 24.2%,#ecb300 26.2%,#e1c700 28.3%,#c4e00a 31.3%,#8dee21 37.2%,#43f15e 45.6%,#10e698 56.1%,#02d8be 70.1%,#01cbd5 100%)"></i><i style="background:linear-gradient(90deg,#025afc 0%,#0295f2 1.9%,#00c6de 3.8%,#03d9ba 4.8%,#18e88e 5.8%,#48f15a 6.9%,#7df12b 8%,#c4e00a 11.1%,#e1c700 14.8%,#ecb200 17.3%,#f39600 19.8%,#f78900 22.4%,#f39600 24.4%,#ecb200 26.5%,#e1c700 28.6%,#c4e00a 31.6%,#8dee21 37.5%,#43f15e 45.9%,#10e698 56.4%,#02d8be 70.3%,#01cbd5 100%)"></i><i style="background:linear-gradient(90deg,#0255fc 0%,#0293f2 2%,#00c6de 4%,#03d9ba 5%,#18e88e 6%,#48f15a 7.2%,#7df12b 8.3%,#c4e00a 11.4%,#e1c700 15.1%,#ecb200 17.6%,#f49400 20.1%,#f78700 22.6%,#f49400 24.7%,#ecb200 26.8%,#e1c700 28.9%,#c4e00a 31.8%,#8dee21 37.7%,#43f15e 46.1%,#10e698 56.6%,#02d8be 70.5%,#01cbd5 100%)"></i><i style="background:linear-gradient(90deg,#0251fc 0%,#0291f3 2.1%,#00c6de 4.2%,#03d9ba 5.2%,#18e88e 6.3%,#48f159 7.5%,#7df12b 8.6%,#c4e00a 11.7%,#e1c700 15.3%,#ecb100 17.8%,#f49300 20.3%,#f88500 22.8%,#f49300 24.9%,#ecb100 27.1%,#e1c700 29.2%,#c4e00a 32.1%,#8dee21 38%,#43f15e 46.3%,#10e698 56.9%,#02d8be 70.7%,#01cbd5 100%)"></i><i style="background:linear-gradient(90deg,#024dfc 0%,#028ff3 2.2%,#00c6de 4.4%,#03d9ba 5.5%,#18e88e 6.6%,#48f15a 7.8%,#7df12b 8.9%,#c4e00a 12%,#e1c700 15.6%,#ecb000 18.1%,#f59100 20.6%,#f88300 23%,#f59100 25.2%,#ecb000 27.4%,#e1c700 29.5%,#c4e00a 32.4%,#8dee21 38.3%,#43f15e 46.6%,#10e698 57.1%,#02d8be 70.9%,#01cbd5 100%)"></i><i style="background:linear-gradient(90deg,#0248fc 0%,#028ef4 2.3%,#00c6de 4.6%,#03d9ba 5.7%,#18e88f 6.9%,#48f159 8.1%,#7df12b 9.3%,#c4e00a 12.4%,#e1c700 15.9%,#edb000 18.3%,#f58f00 20.8%,#f98100 23.2%,#f58f00 25.4%,#edb000 27.6%,#e1c700 29.8%,#c4e00a 32.6%,#8dee21 38.6%,#43f15e 46.8%,#10e698 57.3%,#02d8be 71.1%,#01cbd4 100%)"></i><i style="background:linear-gradient(90deg,#0244fc 0%,#028cf4 2.4%,#00c6de 4.9%,#03d9ba 6%,#18e88e 7.2%,#48f15a 8.4%,#7df12b 9.7%,#c4e00a 12.7%,#e1c700 16.1%,#edaf00 18.6%,#f68e00 21%,#f97e00 23.5%,#f68e00 25.7%,#edaf00 27.9%,#e1c700 30.1%,#c4e00a 32.9%,#8dee21 38.9%,#43f15e 47%,#10e698 57.6%,#02d8be 71.3%,#01ccd4 100%)"></i><i style="background:linear-gradient(90deg,#0240fc 0%,#028af5 2.5%,#00c6de 5.1%,#03d9ba 6.3%,#19e88e 7.5%,#48f159 8.8%,#7df12b 10.1%,#c4e00a 13.1%,#e1c700 16.4%,#edae00 18.8%,#f68c00 21.2%,#fa7c00 23.7%,#f68c00 25.9%,#edae00 28.1%,#e1c700 30.3%,#c4e00a 33.2%,#8dee21 39.1%,#43f15e 47.2%,#10e698 57.8%,#02d8be 71.5%,#01ccd4 100%)"></i><i style="background:linear-gradient(90deg,#033bfb 0%,#0288f6 2.7%,#00c6de 5.3%,#03d9ba 6.6%,#19e88e 7.8%,#48f15a 9.1%,#7df12b 10.4%,#c4e00a 13.5%,#e1c700 16.7%,#edae00 19.1%,#f68b00 21.5%,#fa7a00 23.9%,#f68b00 26.1%,#edae00 28.3%,#e1c700 30.6%,#c4e00a 33.5%,#8dee21 39.4%,#43f15e 47.4%,#10e698 58%,#02d8be 71.7%,#01ccd3 100%)"></i><i style="background:linear-gradient(90deg,#0437fa 0%,#0286f6 2.8%,#00c6de 5.6%,#03d9ba 6.9%,#18e88e 8.1%,#48f15a 9.5%,#7df12b 10.8%,#c4e00a 13.9%,#e1c700 17%,#edad00 19.3%,#f78a00 21.7%,#fb7800 24.1%,#f78a00 26.3%,#edad00 28.6%,#e1c700 30.9%,#c4e00a 33.8%,#8dee21 39.7%,#43f15e 47.6%,#10e698 58.2%,#02d8be 71.9%,#01ccd3 100%)"></i><i style="background:linear-gradient(90deg,#0633f9 0%,#0284f7 2.9%,#00c6de 5.8%,#03d9ba 7.1%,#18e88e 8.5%,#48f159 9.8%,#7df12b 11.2%,#c4e00a 14.2%,#e1c700 17.3%,#edad00 19.6%,#f78800 21.9%,#fb7700 24.3%,#f78800 26.6%,#edad00 28.8%,#e1c700 31.1%,#c4e00a 34%,#8dee21 40%,#43f15e 47.9%,#10e698 58.4%,#02d8be 72%,#01ccd3 100%)"></i><i style="background:linear-gradient(90deg,#0730f8 0%,#0283f7 3%,#00c6de 6.1%,#03d9ba 7.4%,#18e88e 8.8%,#48f15a 10.2%,#7df12b 11.6%,#c4e00a 14.6%,#e1c700 17.5%,#edad00 19.9%,#f78700 22.2%,#fc7500 24.5%,#f78700 26.8%,#edad00 29.1%,#e1c700 31.4%,#c4e00a 34.3%,#8dee21 40.3%,#43f15e 48.1%,#10e698 58.6%,#02d8be 72.2%,#01cdd2 100%)"></i><i style="background:linear-gradient(90deg,#082cf7 0%,#0281f8 3.1%,#00c6de 6.3%,#03d9ba 7.7%,#18e88e 9.1%,#48f15a 10.5%,#7df12b 11.9%,#c4e00a 15%,#e1c700 17.8%,#eeac00 20.1%,#f78600 22.4%,#fc7300 24.7%,#f78600 27%,#eeac00 29.3%,#e1c700 31.6%,#c4e00a 34.6%,#8dee21 40.6%,#43f15e 48.3%,#10e698 58.8%,#02d8be 72.4%,#01cdd2 100%)"></i><i style="background:linear-gradient(90deg,#0929f6 0%,#0280f8 3.3%,#00c6de 6.5%,#03d9ba 8%,#18e88f 9.4%,#48f15a 10.8%,#7df12b 12.3%,#c4e00a 15.3%,#e1c700 18.1%,#eeac00 20.4%,#f88600 22.7%,#fc7200 24.9%,#f88600 27.3%,#eeac00 29.6%,#e1c700 31.9%,#c4e00a 34.9%,#8dee21 40.9%,#43f15e 48.5%,#10e698 59%,#02d8be 72.6%,#01cdd2 100%)"></i><i style="background:linear-gradient(90deg,#0925f6 0%,#027ef9 3.4%,#00c6de 6.7%,#03d9ba 8.2%,#18e88e 9.7%,#48f15a 11.2%,#7df12b 12.6%,#c4e00a 15.6%,#e1c700 18.4%,#eeac00 20.6%,#f88500 22.9%,#fd7100 25.2%,#f88500 27.5%,#eeac00 29.8%,#e1c700 32.2%,#c4e00a 35.2%,#8dee21 41.1%,#43f15e 48.7%,#10e698 59.2%,#02d8be 72.8%,#01cdd2 100%)"></i><i style="background:linear-gradient(90deg,#0a23f5 0%,#027df9 3.5%,#00c6de 7%,#03d9ba 8.5%,#18e88f 9.9%,#48f15a 11.4%,#7df12b 12.9%,#c4e00a 15.9%,#e1c700 18.6%,#eeab00 20.9%,#f88500 23.2%,#fd7100 25.4%,#f88500 27.8%,#eeac00 30.1%,#e1c700 32.4%,#c4e00a 35.4%,#8dee21 41.4%,#43f15e 48.9%,#10e698 59.5%,#02d8be 73%,#01cdd1 100%)"></i><i style="background:linear-gradient(90deg,#0b20f4 0%,#025efc 2.4%,#0297f1 4.8%,#00c6de 7.2%,#03d9ba 8.7%,#18e88e 10.2%,#48f15a 11.7%,#7df12b 13.2%,#c4e00a 16.2%,#e1c700 18.9%,#eeac00 21.2%,#f88400 23.4%,#fd7000 25.7%,#f88400 28%,#eeab00 30.4%,#e1c700 32.7%,#c4e00a 35.7%,#8dee21 41.7%,#43f15e 49.2%,#10e698 59.7%,#02d8be 73.2%,#01cdd1 100%)"></i><i style="background:linear-gradient(90deg,#0c1ef4 0%,#025cfc 2.5%,#0296f1 4.9%,#00c6de 7.4%,#03d9ba 8.9%,#18e88e 10.4%,#48f15a 12%,#7df12b 13.5%,#c4e00a 16.5%,#e1c700 19.2%,#eeab00 21.4%,#f88400 23.7%,#fd7000 26%,#f88400 28.3%,#eeab00 30.7%,#e1c700 33%,#c4e00a 36%,#8dee21 42%,#43f15e 49.4%,#10e698 59.9%,#02d8be 73.3%,#01cdd1 100%)"></i><i style="background:linear-gradient(90deg,#0c1cf3 0%,#025bfc 2.5%,#0295f1 5%,#00c6de 7.5%,#03d9ba 9.1%,#18e88e 10.7%,#48f15a 12.2%,#7df12b 13.8%,#c4e00a 16.8%,#e1c700 19.4%,#eeab00 21.7%,#f88400 24%,#fd7000 26.3%,#f88400 28.6%,#eeab00 30.9%,#e1c700 33.3%,#c4e00a 36.3%,#8dee21 42.3%,#43f15e 49.6%,#10e698 60.2%,#02d8be 73.5%,#01ced1 100%)"></i><i style="background:linear-gradient(90deg,#0d1af3 0%,#0259fc 2.6%,#0295f2 5.2%,#00c6de 7.7%,#03d9ba 9.3%,#18e88e 10.9%,#48f159 12.5%,#7df12b 14%,#c4e00a 17%,#e1c700 19.7%,#eeab00 22%,#f88400 24.3%,#fd7000 26.5%,#f88400 28.9%,#eeab00 31.2%,#e1c700 33.6%,#c4e00a 36.6%,#8dee21 42.6%,#43f15e 49.9%,#10e698 60.4%,#02d8be 73.7%,#01ced0 100%)"></i><i style="background:linear-gradient(90deg,#0d18f2 0%,#0258fc 2.6%,#0294f2 5.3%,#00c6de 7.9%,#03d9ba 9.6%,#18e88f 11.2%,#48f15a 12.7%,#7df12b 14.3%,#c4e00a 17.3%,#e1c700 20%,#eeab00 22.3%,#f88400 24.5%,#fd7000 26.8%,#f88400 29.2%,#eeab00 31.5%,#e1c700 33.9%,#c4e00a 36.9%,#8dee21 42.9%,#43f15e 50.1%,#10e698 60.6%,#02d8be 73.9%,#01ced0 100%)"></i><i style="background:linear-gradient(90deg,#0e16f2 0%,#0257fc 2.7%,#0294f2 5.4%,#00c6de 8.1%,#03d9ba 9.8%,#18e88e 11.4%,#48f15a 13%,#7df12b 14.5%,#c4e00a 17.5%,#e1c700 20.2%,#eeab00 22.5%,#f88400 24.8%,#fd7000 27.1%,#f88400 29.5%,#eeab00 31.8%,#e1c700 34.1%,#c4e00a 37.1%,#8dee21 43.1%,#43f15e 50.4%,#10e698 60.9%,#02d8be 74.1%,#01ced0 100%)"></i><i style="background:linear-gradient(90deg,#0e14f2 0%,#0256fc 2.8%,#0293f2 5.5%,#00c6de 8.3%,#03d9ba 10%,#18e88e 11.6%,#48f15a 13.2%,#7df12b 14.8%,#c4e00a 17.8%,#e1c700 20.5%,#eeab00 22.8%,#f88400 25.1%,#fd6f00 27.4%,#f88400 29.8%,#eeab00 32.1%,#e1c700 34.4%,#c4e00a 37.4%,#8dee21 43.4%,#43f15e 50.6%,#10e698 61.1%,#02d8be 74.3%,#01ced0 100%)"></i><i style="background:linear-gradient(90deg,#0f13f1 0%,#0255fc 2.8%,#0293f2 5.7%,#00c6de 8.5%,#03d9ba 10.2%,#18e88e 11.9%,#48f159 13.4%,#7df12b 15%,#c4e00a 18%,#e1c700 20.8%,#eeab00 23.1%,#f88400 25.4%,#fd6f00 27.7%,#f88400 30%,#eeab00 32.4%,#e1c700 34.7%,#c4e00a 37.7%,#8dee21 43.7%,#43f15e 50.8%,#10e698 61.3%,#02d8be 74.5%,#01cecf 100%)"></i><i style="background:linear-gradient(90deg,#0f11f1 0%,#0253fc 2.9%,#0292f2 5.8%,#00c6de 8.7%,#03d9ba 10.4%,#18e88e 12.1%,#48f15a 13.7%,#7df12b 15.3%,#c4e00a 18.3%,#e1c700 21%,#eeab00 23.4%,#f88400 25.7%,#fd6f00 28%,#f88400 30.3%,#eeab00 32.7%,#e1c700 35%,#c4e00a 38%,#8dee21 44%,#43f15e 51.1%,#10e698 61.6%,#02d8be 74.7%,#01cecf 100%)"></i><i style="background:linear-gradient(90deg,#100ff0 0%,#0252fc 2.9%,#0292f3 5.9%,#00c6de 8.9%,#03d9ba 10.6%,#18e88e 12.3%,#48f159 13.9%,#7df12b 15.5%,#c4e00a 18.5%,#e1c700 21.3%,#eeab00 23.6%,#f88400 26%,#fd6f00 28.3%,#f88400 30.6%,#eeab00 33%,#e1c700 35.3%,#c4e00a 38.3%,#8dee21 44.3%,#43f15e 51.3%,#10e698 61.8%,#02d8be 74.9%,#01cfcf 100%)"></i><i style="background:linear-gradient(90deg,#100ef0 0%,#0251fc 3%,#0291f3 6%,#00c6de 9%,#03d9ba 10.7%,#18e88e 12.5%,#48f15a 14.1%,#7df12b 15.7%,#c4e00a 18.7%,#e1c700 21.5%,#eeab00 23.8%,#f88400 26.1%,#fd6f00 28.5%,#f88400 30.8%,#eeab00 33.1%,#e1c700 35.5%,#c4e00a 38.5%,#8dee21 44.5%,#43f15e 51.5%,#10e698 62%,#02d8be 75%,#01cfcf 100%)"></i></div>
<div class="p" style="left:76px;top:344px;width:169px;height:173px"><i style="background:linear-gradient(90deg,#0e16f2 0%,#025ffc 6.3%,#029bf0 16.8%,#01cdd1 30.2%,#10e698 40.1%,#59f347 49.5%,#96ed1c 56%,#b4e510 62.5%,#c0e10b 68%,#c3e00a 70.1%,#c5e00a 72.1%,#c5e00a 74.1%,#c4e00a 78.1%,#c0e10b 82%,#b5e40f 86%,#8fee20 100%)"></i><i style="background:linear-gradient(90deg,#0f11f1 0%,#025ffc 6.8%,#029bf0 17.4%,#01cdd1 30.6%,#10e698 40.4%,#59f347 49.6%,#96ed1c 56%,#b5e50f 62.4%,#c2e10b 68.1%,#c5df0a 70.2%,#c6df09 72.3%,#c6df09 74.4%,#c6df09 78.3%,#c2e10b 82.1%,#b8e40e 86%,#92ee1e 100%)"></i><i style="background:linear-gradient(90deg,#120eef 0%,#0e17f2 0.5%,#025ffc 7.3%,#029bf0 18.1%,#01cdd1 30.9%,#10e698 40.7%,#59f347 49.7%,#96ed1c 56.1%,#b5e40f 62.4%,#c3e00a 68.2%,#c6de09 70.4%,#c7de09 72.5%,#c7de09 74.7%,#c7de09 78.5%,#c4e00a 82.2%,#bae30d 86%,#94ed1d 100%)"></i><i style="background:linear-gradient(90deg,#160dee 0%,#0e15f2 0.7%,#025ffc 7.9%,#029bf0 18.7%,#01cdd1 31.3%,#10e698 41%,#59f347 49.7%,#96ed1c 56.1%,#b6e40f 62.3%,#c5e00a 68.3%,#c7dd09 70.5%,#c8dd08 72.8%,#c8dd08 75%,#c8dd08 78.7%,#c6df09 82.3%,#bde20d 86%,#97ed1b 100%)"></i><i style="background:linear-gradient(90deg,#1a0dec 0%,#0e14f1 0.9%,#025ffc 8.4%,#029bf0 19.4%,#01cdd1 31.7%,#10e698 41.2%,#59f347 49.8%,#96ed1c 56.1%,#b6e40f 62.2%,#c6df09 68.4%,#c9dd08 70.7%,#cadc08 73%,#cadc08 75.3%,#c9dc08 78.8%,#c7de09 82.4%,#bfe10c 86%,#9aec19 100%)"></i><i style="background:linear-gradient(90deg,#1f0dea 0%,#0f12f1 1%,#025ffc 8.9%,#029bf0 20%,#01cdd1 32.1%,#10e698 41.5%,#59f347 49.9%,#96ed1c 56.1%,#b7e40f 62.2%,#c7de09 68.5%,#cadc08 70.8%,#cbdb07 73.2%,#cbdb07 75.5%,#cbdb07 79%,#c8dd08 82.5%,#c2e10b 86%,#9cec18 100%)"></i><i style="background:linear-gradient(90deg,#230ce9 0%,#0f11f1 1.2%,#025ffc 9.4%,#029bf0 20.6%,#01cdd1 32.5%,#10e698 41.8%,#59f347 49.9%,#96ed1c 56.2%,#b7e40f 62.1%,#c8dd09 68.5%,#cbdb07 71%,#ccda07 73.4%,#ccda07 75.8%,#ccda07 79.2%,#cadc08 82.6%,#c4e00a 86%,#9feb17 100%)"></i><i style="background:linear-gradient(90deg,#270ce7 0%,#1010f0 1.4%,#025ffc 10%,#029bf0 21.3%,#01cdd1 32.8%,#10e698 42.1%,#59f347 50%,#96ed1c 56.2%,#b8e40e 62.1%,#c9dc08 68.7%,#ccda07 71.1%,#cdd906 73.6%,#ced906 76.1%,#cdd906 79.4%,#cbda07 82.7%,#c6df09 86%,#a1eb16 100%)"></i><i style="background:linear-gradient(90deg,#2b0be6 0%,#100ff0 1.6%,#025ffc 10.5%,#029bf0 21.9%,#01cdd1 33.2%,#10e698 42.4%,#59f347 50.1%,#96ed1c 56.3%,#b8e40e 62%,#cadc08 68.8%,#cdd906 71.3%,#cfd806 73.9%,#cfd806 76.4%,#cfd806 79.6%,#cdd907 82.8%,#c7dd09 86%,#a3ea16 100%)"></i><i style="background:linear-gradient(90deg,#2e0be4 0%,#270ce7 0.4%,#100ef0 1.8%,#025ffc 11%,#029bf0 22.5%,#01cdd1 33.6%,#10e698 42.7%,#59f347 50.3%,#96ed1c 56.4%,#b8e30e 62%,#cbdb07 68.9%,#cfd806 71.5%,#d0d705 74.1%,#d0d705 76.7%,#d0d705 79.8%,#ced806 82.9%,#c9dc08 86%,#a5e915 100%)"></i><i style="background:linear-gradient(90deg,#320be3 0%,#290ce6 0.5%,#100ef0 2%,#025ffc 11.6%,#029bf0 23.1%,#01cdd1 34.1%,#10e698 43%,#59f347 50.5%,#96ed1c 56.5%,#b9e30e 62%,#cbda07 69%,#d0d705 71.7%,#d1d605 74.4%,#d2d505 77%,#d1d605 80%,#cfd706 83%,#cadb08 86%,#a7e914 100%)"></i><i style="background:linear-gradient(90deg,#350ae2 0%,#2c0be5 0.6%,#100ef0 2.3%,#025ffc 12.1%,#029bf0 23.6%,#01cdd1 34.5%,#10e698 43.4%,#59f347 50.8%,#96ed1c 56.7%,#b9e30e 62.1%,#ccda07 69.2%,#d1d605 71.9%,#d3d504 74.6%,#d3d404 77.4%,#d3d504 80.2%,#d1d605 83.2%,#ccda07 86%,#aae813 100%)"></i><i style="background:linear-gradient(90deg,#390ae1 0%,#2f0be4 0.6%,#100ef0 2.6%,#025ffc 12.6%,#029bf0 24.2%,#01cdd1 34.9%,#10e698 43.8%,#59f347 51.1%,#96ed1c 56.9%,#bae30e 62.2%,#cdd907 69.4%,#d2d505 72.1%,#d4d404 74.9%,#d4d304 77.7%,#d4d404 80.5%,#d2d505 83.3%,#cdd906 86.1%,#ace712 100%)"></i><i style="background:linear-gradient(90deg,#3b0adf 0%,#310be3 0.7%,#100ef0 2.9%,#025ffc 13.1%,#029bf0 24.7%,#01cdd1 35.4%,#10e698 44.3%,#59f347 51.5%,#96ed1c 57.2%,#bae30e 62.3%,#cdd906 69.6%,#d3d404 72.4%,#d6d303 75.2%,#d6d203 78%,#d6d203 80.8%,#d4d404 83.5%,#cfd806 86.3%,#afe612 100%)"></i><i style="background:linear-gradient(90deg,#3e0ade 0%,#340be2 0.8%,#100ef0 3.2%,#025ffc 13.7%,#029bf0 25.3%,#01cdd1 35.8%,#10e698 44.7%,#59f347 51.9%,#96ed1c 57.6%,#bae30d 62.6%,#ced806 69.8%,#d4d304 72.7%,#d7d103 75.5%,#d7d103 78.4%,#d7d103 81.1%,#d5d303 83.8%,#d0d705 86.5%,#b1e611 100%)"></i><i style="background:linear-gradient(90deg,#410bdd 0%,#360ae2 0.9%,#100ef0 3.5%,#025ffc 14.2%,#029bf0 25.8%,#01cdd1 36.3%,#10e698 45.2%,#59f347 52.4%,#96ed1c 57.9%,#bae30d 62.8%,#cfd806 70%,#d5d303 72.9%,#d8d002 75.9%,#d9d002 78.8%,#d8d002 81.4%,#d7d203 84.1%,#d2d605 86.7%,#b3e510 100%)"></i><i style="background:linear-gradient(90deg,#430bdc 0%,#380ae1 0.9%,#100ef0 3.9%,#025ffc 14.7%,#029bf0 26.3%,#01cdd1 36.8%,#10e698 45.7%,#59f347 52.8%,#96ed1c 58.4%,#bbe30d 63.2%,#cfd806 70.3%,#d7d203 73.2%,#dacf02 76.2%,#dacf01 79.1%,#dacf02 81.8%,#d8d102 84.4%,#d3d504 87%,#b6e40f 100%)"></i><i style="background:linear-gradient(90deg,#450bdb 0%,#3a0ae0 1%,#100ef0 4.3%,#025ffc 15.2%,#029bf0 26.8%,#01cdd1 37.3%,#10e698 46.2%,#59f347 53.4%,#96ed1c 58.8%,#bbe30d 63.5%,#cfd706 70.5%,#d8d102 73.5%,#dbce01 76.5%,#dcce01 79.5%,#dbce01 82.1%,#d9d002 84.7%,#d4d304 87.3%,#b8e40e 100%)"></i><i style="background:linear-gradient(90deg,#480bda 0%,#3c0adf 1.1%,#100ef0 4.7%,#025ffc 15.8%,#029bf0 27.3%,#01cdd1 37.8%,#10e698 46.8%,#59f347 53.9%,#96ed1c 59.3%,#bbe30d 64%,#d0d705 70.8%,#d9d002 73.9%,#ddcd01 76.9%,#ddcd00 79.9%,#ddcd00 82.5%,#dbce01 85.1%,#d6d203 87.7%,#bbe30d 100%)"></i><i style="background:linear-gradient(90deg,#4a0cd9 0%,#3e0ade 1.2%,#100ef0 5%,#025ffc 16.3%,#029bf0 27.8%,#01cdd1 38.3%,#10e698 47.3%,#59f347 54.5%,#96ed1c 59.8%,#bbe30d 64.4%,#d0d705 71.1%,#dacf02 74.2%,#decc00 77.2%,#decb00 80.3%,#decc00 82.9%,#dccd01 85.5%,#d7d103 88.1%,#bde20c 100%)"></i><i style="background:linear-gradient(90deg,#4c0cd8 0%,#400bdd 1.3%,#100ef0 5.4%,#025ffc 16.8%,#029bf0 28.2%,#01cdd1 38.8%,#10e698 47.9%,#59f347 55.1%,#96ed1c 60.3%,#bbe30d 64.8%,#d1d605 71.4%,#dbce01 74.5%,#dfcb00 77.6%,#dfca00 80.7%,#dfca00 83.3%,#decc00 85.9%,#d8d002 88.5%,#c0e10b 100%)"></i><i style="background:linear-gradient(90deg,#4e0cd7 0%,#410bdd 1.4%,#100ef0 5.9%,#025ffc 17.3%,#029bf0 28.7%,#01cdd1 39.3%,#10e698 48.4%,#59f347 55.7%,#96ed1c 60.8%,#bbe30d 65.3%,#d1d605 71.7%,#dcce01 74.8%,#e0c900 78%,#e0c800 81.1%,#e0c900 83.7%,#dfcb00 86.3%,#dacf02 88.9%,#c3e00a 100%)"></i><i style="background:linear-gradient(90deg,#4f0cd6 0%,#430bdc 1.5%,#100ef0 6.3%,#025ffc 17.8%,#029bf0 29.2%,#01cdd1 39.8%,#10e698 49%,#59f347 56.3%,#96ed1c 61.3%,#bce30d 65.8%,#d1d605 72%,#ddcd00 75.1%,#e0c800 78.3%,#e1c700 81.5%,#e1c700 84.1%,#dfc900 86.7%,#dbce01 89.3%,#c5df0a 100%)"></i><i style="background:linear-gradient(90deg,#510cd5 0%,#440bdb 1.7%,#100ef0 6.7%,#025ffc 18.4%,#029bf0 29.6%,#01cdd1 40.3%,#10e698 49.6%,#59f347 56.9%,#96ed1c 61.9%,#bce30d 66.3%,#d1d605 72.3%,#decc00 75.5%,#e1c600 78.7%,#e2c500 81.9%,#e1c600 84.5%,#e0c800 87.1%,#dccd01 89.7%,#c7de09 100%)"></i><i style="background:linear-gradient(90deg,#530dd5 0%,#450bdb 1.8%,#100ef0 7.1%,#025ffc 18.9%,#029bf0 30.1%,#01cdd1 40.8%,#10e698 50.1%,#59f347 57.5%,#96ed1c 62.4%,#bce20d 66.8%,#d2d505 72.6%,#dfcb00 75.8%,#e2c500 79%,#e3c400 82.3%,#e2c400 84.9%,#e1c600 87.5%,#ddcc00 90.2%,#c8dd08 100%)"></i><i style="background:linear-gradient(90deg,#550dd4 0%,#470bda 1.9%,#100ef0 7.5%,#025ffc 19.4%,#029bf0 30.6%,#01cdd1 41.4%,#10e698 50.7%,#59f347 58.1%,#96ed1c 63%,#bce20d 67.3%,#d2d505 72.9%,#dfca00 76.1%,#e3c300 79.4%,#e3c200 82.7%,#e3c200 85.3%,#e2c500 87.9%,#decb00 90.6%,#cadb08 100%)"></i><i style="background:linear-gradient(90deg,#570dd3 0%,#480bda 2.1%,#100ef0 7.9%,#025ffc 19.9%,#029bf0 31%,#01cdd1 41.9%,#10e698 51.2%,#59f347 58.7%,#96ed1c 63.5%,#bce20d 67.8%,#d2d505 73.1%,#e0c900 76.4%,#e4c200 79.7%,#e4c000 83%,#e4c100 85.7%,#e3c300 88.4%,#dfca00 91%,#ccda07 100%)"></i><i style="background:linear-gradient(90deg,#590dd2 0%,#480bda 2.2%,#100ef0 8.3%,#025ffc 20.3%,#029bf0 31.4%,#01cdd1 42.4%,#10e698 51.8%,#59f347 59.3%,#96ed1c 64%,#bce20d 68.2%,#d2d504 73.4%,#e0c800 76.7%,#e4c000 80.1%,#e5bf00 83.4%,#e5bf00 86.1%,#e3c200 88.8%,#e0c800 91.4%,#ced806 100%)"></i><i style="background:linear-gradient(90deg,#5b0dd1 0%,#490bd9 2.4%,#100ef0 8.7%,#025ffc 20.8%,#029bf0 31.9%,#01cdd1 42.9%,#10e698 52.3%,#59f347 59.8%,#96ed1c 64.5%,#bce20d 68.7%,#d3d504 73.7%,#e1c700 77%,#e5be00 80.4%,#e6bd00 83.8%,#e6be00 86.5%,#e4c000 89.1%,#e1c700 91.8%,#d0d705 100%)"></i><i style="background:linear-gradient(90deg,#5d0dd0 0%,#490cd9 2.5%,#100ef0 9.1%,#025ffc 21.3%,#029bf0 32.4%,#01cdd1 43.3%,#10e698 52.8%,#59f347 60.3%,#96ed1c 65%,#bce20d 69.1%,#d3d504 73.9%,#e1c600 77.3%,#e6bd00 80.7%,#e7bb00 84.2%,#e7bc00 86.8%,#e5bf00 89.5%,#e2c500 92.2%,#d2d505 100%)"></i><i style="background:linear-gradient(90deg,#5f0ecf 0%,#4a0cd9 2.7%,#100ef0 9.5%,#025ffc 21.8%,#029bf0 32.8%,#01cdd1 43.8%,#10e698 53.3%,#59f347 60.8%,#96ed1c 65.4%,#bce20d 69.5%,#d3d404 74.2%,#e2c400 77.6%,#e7bb00 81%,#e8ba00 84.5%,#e8ba00 87.2%,#e6bd00 89.9%,#e2c400 92.5%,#d4d404 100%)"></i><i style="background:linear-gradient(90deg,#610ece 0%,#4a0cd9 2.9%,#100ef0 9.8%,#025ffc 22.3%,#029bf0 33.3%,#01cdd1 44.3%,#10e698 53.8%,#59f347 61.3%,#96ed1c 65.8%,#bce20d 69.8%,#d3d404 74.4%,#e3c300 77.9%,#e8ba00 81.3%,#e9b800 84.8%,#e8b900 87.5%,#e7bb00 90.2%,#e3c200 92.9%,#d6d203 100%)"></i><i style="background:linear-gradient(90deg,#620ece 0%,#4a0cd9 3.1%,#100ef0 10.2%,#025ffc 22.7%,#029bf0 33.7%,#01cdd1 44.7%,#10e698 54.2%,#59f347 61.7%,#96ed1c 66.2%,#bce20d 70.2%,#d4d404 74.6%,#e3c200 78.1%,#e9b800 81.6%,#eab600 85.2%,#e9b700 87.8%,#e8ba00 90.5%,#e4c100 93.1%,#d8d102 100%)"></i><i style="background:linear-gradient(90deg,#620ece 0%,#4a0cd9 3.3%,#100ef0 10.5%,#025ffc 23.2%,#029bf0 34.2%,#01cdd1 45.2%,#10e698 54.6%,#59f347 62.1%,#96ed1c 66.5%,#bce20d 70.4%,#d4d404 74.8%,#e4c100 78.3%,#eab600 81.9%,#ebb400 85.5%,#eab500 88.1%,#e9b800 90.8%,#e5bf00 93.4%,#dacf02 100%)"></i><i style="background:linear-gradient(90deg,#620ece 0%,#4a0cd9 3.5%,#100ef0 10.8%,#025ffc 23.6%,#029bf0 34.6%,#01cdd1 45.6%,#10e698 55.1%,#59f347 62.5%,#96ed1c 66.9%,#bce20d 70.7%,#d4d304 75%,#e5c000 78.6%,#ebb400 82.2%,#ecb200 85.8%,#ecb300 88.4%,#eab600 91%,#e6bd00 93.7%,#dccd01 100%)"></i><i style="background:linear-gradient(90deg,#620ece 0%,#4a0cd9 3.8%,#100ef0 11.2%,#025ffc 24.1%,#029bf0 35.1%,#01cdd1 46%,#10e698 55.5%,#59f347 62.8%,#96ed1c 67.2%,#bce20d 71%,#d5d304 75.1%,#e5bf00 78.8%,#ecb200 82.4%,#edaf00 86.1%,#edb000 88.7%,#ebb400 91.3%,#e7bb00 93.9%,#decb00 100%)"></i><i style="background:linear-gradient(90deg,#620ece 0%,#4a0cd9 4.1%,#100ef0 11.5%,#025ffc 24.5%,#029bf0 35.5%,#01cdd1 46.4%,#10e698 55.9%,#59f347 63.2%,#96ed1c 67.5%,#bce20d 71.2%,#d5d303 75.3%,#e6bd00 79%,#edaf00 82.7%,#eeac00 86.4%,#edac00 89%,#ecb100 91.6%,#e8ba00 94.2%,#e0c900 100%)"></i><i style="background:linear-gradient(90deg,#620ece 0%,#4a0cd9 4.3%,#100ef0 11.8%,#025ffc 24.9%,#029bf0 36%,#01cdd1 46.9%,#10e698 56.3%,#59f347 63.5%,#96ed1c 67.8%,#bce20d 71.4%,#d5d303 75.4%,#e7bc00 79.2%,#eeac00 82.9%,#efa800 86.6%,#eea900 89.2%,#edae00 91.8%,#e9b800 94.5%,#e1c600 100%)"></i><i style="background:linear-gradient(90deg,#620ece 0%,#4a0cd9 4.6%,#100ef0 12.1%,#025ffc 25.3%,#029bf0 36.4%,#01cdd1 47.3%,#10e698 56.6%,#59f347 63.8%,#96ed1c 68.1%,#bce20d 71.7%,#d6d203 75.5%,#e7ba00 79.3%,#efa800 83.1%,#f0a400 86.9%,#efa500 89.5%,#eeab00 92.1%,#eab600 94.7%,#e2c400 100%)"></i><i style="background:linear-gradient(90deg,#620ece 0%,#4a0cd9 4.9%,#100ef0 12.4%,#025ffc 25.7%,#029bf0 36.8%,#01cdd1 47.7%,#10e698 57%,#59f347 64.2%,#96ed1c 68.4%,#bce20d 71.9%,#d6d203 75.7%,#e8b900 79.5%,#efa500 83.4%,#f1a100 87.2%,#f0a100 89.8%,#efa700 92.4%,#ebb300 95%,#e4c100 100%)"></i><i style="background:linear-gradient(90deg,#620ece 0%,#4a0cd9 5.2%,#100ef0 12.7%,#025ffc 26.1%,#029bf0 37.2%,#01cdd1 48.1%,#10e698 57.4%,#59f347 64.5%,#96ed1c 68.7%,#bce20d 72.1%,#d6d203 75.8%,#e9b800 79.7%,#f0a100 83.6%,#f29d00 87.5%,#f19e00 90%,#f0a400 92.6%,#ecb100 95.2%,#e5be00 100%)"></i><i style="background:linear-gradient(90deg,#620ece 0%,#4a0cd9 5.5%,#100ef0 13%,#025ffc 26.5%,#029bf0 37.7%,#01cdd1 48.5%,#10e698 57.8%,#59f347 64.8%,#96ed1c 69%,#bce20d 72.3%,#d7d203 75.9%,#eab600 79.8%,#f19e00 83.8%,#f39900 87.7%,#f29a00 90.3%,#f1a000 92.9%,#edae00 95.5%,#e7bc00 100%)"></i><i style="background:linear-gradient(90deg,#620ece 0%,#4a0cd9 5.8%,#100ef0 13.3%,#025ffc 26.9%,#029bf0 38.1%,#01cdd1 48.9%,#10e698 58.1%,#59f347 65.1%,#96ed1c 69.2%,#bce20d 72.5%,#d7d103 76%,#eab500 80%,#f29b00 84%,#f39600 88%,#f39600 90.5%,#f29d00 93.1%,#eeab00 95.7%,#e8b900 100%)"></i><i style="background:linear-gradient(90deg,#620ece 0%,#4a0cd9 6.1%,#100ef0 13.6%,#025ffc 27.3%,#029bf0 38.5%,#01cdd1 49.3%,#10e698 58.5%,#59f347 65.4%,#96ed1c 69.5%,#bce20d 72.7%,#d7d103 76.2%,#ebb400 80.2%,#f39700 84.2%,#f49200 88.2%,#f49300 90.8%,#f29900 93.3%,#efa800 95.9%,#eab700 100%)"></i><i style="background:linear-gradient(90deg,#620ece 0%,#4a0cd9 6.4%,#100ef0 14%,#025ffc 27.7%,#029bf0 39%,#01cdd1 49.7%,#10e698 58.8%,#59f347 65.7%,#96ed1c 69.8%,#bce20d 72.9%,#d7d103 76.3%,#ecb300 80.4%,#f49400 84.4%,#f58f00 88.5%,#f59000 91%,#f39600 93.6%,#efa500 96.1%,#ebb400 100%)"></i><i style="background:linear-gradient(90deg,#620ece 0%,#4a0cd9 6.8%,#100ef0 14.3%,#025ffc 28.1%,#029bf0 39.4%,#01cdd1 50.1%,#10e698 59.2%,#59f347 66%,#96ed1c 70%,#bce20d 73.1%,#d8d102 76.4%,#ecb200 80.5%,#f59200 84.6%,#f68b00 88.8%,#f68c00 91.3%,#f49300 93.8%,#f0a200 96.4%,#ecb100 100%)"></i><i style="background:linear-gradient(90deg,#620ece 0%,#4a0cd9 7.1%,#100ef0 14.6%,#025ffc 28.5%,#029bf0 39.8%,#01cdd1 50.5%,#10e698 59.5%,#59f347 66.2%,#96ed1c 70.3%,#bce20d 73.4%,#d8d102 76.6%,#ecb000 80.7%,#f58f00 84.9%,#f78800 89%,#f78900 91.5%,#f59000 94%,#f1a000 96.6%,#edad00 100%)"></i><i style="background:linear-gradient(90deg,#620ece 0%,#4a0cd9 7.4%,#100ef0 14.9%,#025ffc 28.9%,#029bf0 40.3%,#01cdd1 50.9%,#10e698 59.9%,#59f347 66.5%,#96ed1c 70.6%,#bce20d 73.6%,#d8d002 76.7%,#edaf00 80.9%,#f68c00 85.1%,#f88600 89.3%,#f78700 91.8%,#f68d00 94.3%,#f29d00 96.8%,#eeaa00 100%)"></i><i style="background:linear-gradient(90deg,#620ece 0%,#4a0cd9 7.7%,#100ef0 15.2%,#025ffc 29.3%,#029bf0 40.7%,#01cdd1 51.3%,#10e698 60.3%,#59f347 66.8%,#96ed1c 70.9%,#bce20d 73.8%,#d8d002 76.9%,#edae00 81.1%,#f68a00 85.3%,#f88400 89.5%,#f88500 92%,#f68b00 94.5%,#f29a00 97%,#efa600 100%)"></i><i style="background:linear-gradient(90deg,#620ece 0%,#4a0cd9 8%,#100ef0 15.6%,#025ffc 29.7%,#029bf0 41.1%,#01cdd1 51.7%,#10e698 60.6%,#59f347 67.1%,#96ed1c 71.2%,#bce20d 74.1%,#d8d002 77.1%,#edad00 81.3%,#f78900 85.6%,#f98200 89.8%,#f88300 92.3%,#f78900 94.7%,#f39800 97.2%,#f0a300 100%)"></i><i style="background:linear-gradient(90deg,#620ece 0%,#4a0cd9 8.3%,#100ef0 15.9%,#025ffc 30.1%,#029bf0 41.6%,#01cdd1 52.1%,#10e698 61%,#59f347 67.5%,#96ed1c 71.5%,#bce20d 74.3%,#d9d002 77.3%,#edac00 81.5%,#f78700 85.8%,#f98000 90.1%,#f98100 92.5%,#f78700 95%,#f49500 97.4%,#f1a000 100%)"></i><i style="background:linear-gradient(90deg,#620ece 0%,#4a0cd9 8.6%,#100ef0 16.2%,#025ffc 30.6%,#029bf0 42%,#01cdd1 52.6%,#10e698 61.4%,#59f347 67.8%,#96ed1c 71.8%,#bce20d 74.6%,#d9d002 77.5%,#eeac00 81.8%,#f78600 86.1%,#f97f00 90.4%,#f98000 92.8%,#f88500 95.2%,#f49300 97.6%,#f19d00 100%)"></i><i style="background:linear-gradient(90deg,#620ece 0%,#4a0cd9 8.9%,#100ef0 16.6%,#025ffc 31%,#029bf0 42.5%,#01cdd1 53%,#10e698 61.8%,#59f347 68.1%,#96ed1c 72.1%,#bce20d 74.9%,#d9d002 77.7%,#eeac00 82%,#f88500 86.3%,#fa7e00 90.7%,#f97f00 93%,#f88400 95.4%,#f59100 97.8%,#f29b00 100%)"></i><i style="background:linear-gradient(90deg,#620ece 0%,#4a0cd9 9.2%,#100ef0 17%,#025ffc 31.4%,#029bf0 42.9%,#01cdd1 53.4%,#10e698 62.2%,#59f347 68.5%,#96ed1c 72.5%,#bce20d 75.2%,#d9d002 78%,#eeab00 82.3%,#f88500 86.6%,#fa7e00 91%,#f97e00 93.3%,#f88300 95.6%,#f58f00 98%,#f39800 100%)"></i><i style="background:linear-gradient(90deg,#620ece 0%,#620ece 4.7%,#4a0cd9 9.4%,#100ef0 17.3%,#025ffc 31.9%,#029bf0 43.4%,#01cdd1 53.9%,#10e698 62.5%,#59f347 68.8%,#96ed1c 72.8%,#bce20d 75.5%,#d9d002 78.2%,#eeab00 82.6%,#f88500 86.9%,#fa7e00 91.3%,#f97e00 93.6%,#f88300 95.9%,#f68e00 98.2%,#f39600 100%)"></i><i style="background:linear-gradient(90deg,#620ece 0%,#620ece 4.9%,#4a0cd9 9.7%,#100ef0 17.7%,#025ffc 32.4%,#029bf0 43.9%,#01cdd1 54.4%,#10e698 63%,#59f347 69.2%,#96ed1c 73.2%,#bce20d 75.8%,#d9d002 78.5%,#eeab00 82.9%,#f88500 87.2%,#fa7e00 91.6%,#f97e00 93.8%,#f88200 96.1%,#f68c00 98.3%,#f49400 100%)"></i><i style="background:linear-gradient(90deg,#620ece 0%,#620ece 5%,#4a0cd9 10%,#100ef0 18.1%,#025ffc 32.9%,#029bf0 44.4%,#01cdd1 54.9%,#10e698 63.4%,#59f347 69.6%,#96ed1c 73.5%,#bce20d 76.2%,#d9d002 78.9%,#eeab00 83.2%,#f88500 87.5%,#fa7e00 91.9%,#f97e00 94.1%,#f98200 96.3%,#f68b00 98.5%,#f49200 100%)"></i><i style="background:linear-gradient(90deg,#620ece 0%,#620ece 5.1%,#4a0cd9 10.2%,#100ef0 18.6%,#025ffc 33.4%,#029bf0 44.9%,#01cdd1 55.4%,#10e698 63.8%,#59f347 70%,#96ed1c 73.9%,#bce20d 76.5%,#d9d002 79.2%,#eeab00 83.5%,#f88500 87.9%,#fa7e00 92.2%,#f97e00 94.3%,#f98100 96.5%,#f78900 98.6%,#f59000 100%)"></i><i style="background:linear-gradient(90deg,#620ece 0%,#620ece 5.2%,#4a0cd9 10.5%,#100ef0 19%,#025ffc 33.9%,#029bf0 45.4%,#01cdd1 55.9%,#10e698 64.2%,#59f347 70.3%,#96ed1c 74.3%,#bce20d 76.9%,#d9d002 79.6%,#eeab00 83.9%,#f88500 88.2%,#fa7e00 92.5%,#f97e00 94.6%,#f98100 96.7%,#f78800 98.7%,#f68e00 100%)"></i><i style="background:linear-gradient(90deg,#620ece 0%,#620ece 5.4%,#4a0cd9 10.8%,#100ef0 19.5%,#025ffc 34.4%,#029bf0 45.9%,#01cdd1 56.4%,#10e698 64.7%,#59f347 70.7%,#96ed1c 74.7%,#bce20d 77.3%,#d9d002 79.9%,#eeab00 84.2%,#f88500 88.5%,#fa7e00 92.9%,#fa7e00 94.8%,#f98100 96.8%,#f78700 98.8%,#f68c00 100%)"></i><i style="background:linear-gradient(90deg,#620ece 0%,#620ece 5.5%,#4a0cd9 11%,#100ef0 20%,#025ffc 34.9%,#029bf0 46.5%,#01cdd1 56.9%,#10e698 65.1%,#59f347 71.2%,#96ed1c 75.1%,#bce20d 77.7%,#d9d002 80.3%,#eeab00 84.6%,#f88500 88.9%,#fa7e00 93.2%,#fa7e00 95.1%,#f98000 97%,#f88600 98.9%,#f78a00 100%)"></i><i style="background:linear-gradient(90deg,#620ece 0%,#620ece 5.7%,#4a0cd9 11.3%,#100ef0 20.4%,#025ffc 35.5%,#029bf0 47%,#01cdd1 57.5%,#10e698 65.5%,#59f347 71.6%,#96ed1c 75.5%,#bce20d 78.1%,#d9d002 80.7%,#eeab00 85%,#f88500 89.3%,#fa7e00 93.5%,#fa7e00 95.4%,#f98000 97.2%,#f88500 99%,#f78800 100%)"></i><i style="background:linear-gradient(90deg,#620ece 0%,#620ece 5.8%,#4a0cd9 11.6%,#100ef0 20.9%,#025ffc 36%,#029bf0 47.5%,#01cdd1 58%,#10e698 66%,#59f347 72%,#96ed1c 75.9%,#bce20d 78.6%,#d9d002 81.1%,#eeab00 85.4%,#f88500 89.6%,#fa7e00 93.9%,#fa7e00 95.6%,#f98000 97.4%,#f88400 99.1%,#f78700 100%)"></i><i style="background:linear-gradient(90deg,#620ece 0%,#620ece 5.9%,#4a0cd9 11.8%,#100ef0 21.4%,#025ffc 36.5%,#029bf0 48.1%,#01cdd1 58.5%,#10e698 66.4%,#59f347 72.4%,#96ed1c 76.3%,#bce20d 79%,#d9d002 81.5%,#eeab00 85.8%,#f88500 90%,#fa7e00 94.2%,#fa7e00 95.9%,#f97f00 97.5%,#f88300 99.2%,#f88600 100%)"></i><i style="background:linear-gradient(90deg,#620ece 0%,#620ece 6%,#4a0cd9 12.1%,#100ef0 21.9%,#025ffc 37.1%,#029bf0 48.6%,#01cdd1 59.1%,#10e698 66.9%,#59f347 72.8%,#96ed1c 76.8%,#bce20d 79.4%,#d9d002 82%,#eeab00 86.2%,#f88500 90.3%,#fa7e00 94.5%,#fa7e00 96.1%,#f97f00 97.7%,#f88300 99.3%,#f88400 100%)"></i><i style="background:linear-gradient(90deg,#620ece 0%,#620ece 6.2%,#4a0cd9 12.3%,#100ef0 22.4%,#025ffc 37.6%,#029bf0 49.1%,#01cdd1 59.6%,#10e698 67.3%,#59f347 73.2%,#96ed1c 77.2%,#bce20d 79.8%,#d9d002 82.4%,#eeab00 86.5%,#f88500 90.7%,#fa7e00 94.9%,#fa7e00 96.4%,#f97f00 97.9%,#f98200 99.4%,#f88300 100%)"></i><i style="background:linear-gradient(90deg,#620ece 0%,#620ece 6.3%,#4a0cd9 12.6%,#100ef0 22.8%,#025ffc 38.1%,#029bf0 49.7%,#01cdd1 60.1%,#10e698 67.8%,#59f347 73.6%,#96ed1c 77.6%,#bce20d 80.3%,#d9d002 82.8%,#eeab00 86.9%,#f88500 91.1%,#fa7e00 95.2%,#fa7e00 96.6%,#f97f00 98.1%,#f98100 99.5%,#f88200 100%)"></i><i style="background:linear-gradient(90deg,#620ece 0%,#620ece 6.4%,#4a0cd9 12.8%,#100ef0 23.3%,#025ffc 38.7%,#029bf0 50.2%,#01cdd1 60.7%,#10e698 68.2%,#59f347 74%,#96ed1c 78%,#bce20d 80.7%,#d9d002 83.2%,#eeab00 87.3%,#f88500 91.4%,#fa7e00 95.6%,#fa7e00 96.9%,#f97f00 98.2%,#f98100 99.6%,#f98200 100%)"></i><i style="background:linear-gradient(90deg,#620ece 0%,#620ece 6.6%,#4a0cd9 13.1%,#100ef0 23.7%,#025ffc 39.2%,#029bf0 50.7%,#01cdd1 61.2%,#10e698 68.6%,#59f347 74.4%,#96ed1c 78.4%,#bce20d 81.1%,#d9d002 83.6%,#eeab00 87.7%,#f88500 91.8%,#fa7e00 95.9%,#fa7e00 97.2%,#f97e00 98.4%,#f98000 99.7%,#f98100 100%)"></i><i style="background:linear-gradient(90deg,#620ece 0%,#620ece 6.7%,#4a0cd9 13.4%,#100ef0 24.1%,#025ffc 39.7%,#029bf0 51.2%,#01cdd1 61.7%,#10e698 69%,#59f347 74.8%,#96ed1c 78.8%,#bce20d 81.5%,#d9d002 84%,#eeab00 88.1%,#f88500 92.2%,#fa7e00 96.2%,#fa7e00 97.4%,#f97e00 98.6%,#f98000 99.8%,#f98000 100%)"></i><i style="background:linear-gradient(90deg,#620ece 0%,#620ece 6.8%,#4a0cd9 13.6%,#100ef0 24.6%,#025ffc 40.1%,#029bf0 51.7%,#01cdd1 62.1%,#10e698 69.4%,#59f347 75.2%,#96ed1c 79.2%,#bce20d 81.9%,#d9d002 84.5%,#eeab00 88.5%,#f88500 92.5%,#fa7e00 96.6%,#fa7e00 97.7%,#f97e00 98.8%,#f98000 100%,#f98000 100%)"></i><i style="background:linear-gradient(90deg,#620ece 0%,#620ece 6.9%,#4a0cd9 13.9%,#100ef0 25%,#025ffc 40.6%,#029bf0 52.1%,#01cdd1 62.6%,#10e698 69.8%,#59f347 75.6%,#96ed1c 79.6%,#bce20d 82.3%,#d9d002 84.9%,#eeab00 88.9%,#f88500 92.9%,#fa7e00 96.9%,#fa7e00 98%,#f97e00 99.1%,#f97f00 100%)"></i><i style="background:linear-gradient(90deg,#620ece 0%,#620ece 7%,#4a0cd9 14.1%,#100ef0 25.4%,#025ffc 41.1%,#029bf0 52.6%,#01cdd1 63.1%,#10e698 70.2%,#59f347 75.9%,#96ed1c 80%,#bce20d 82.7%,#d9d002 85.2%,#eeab00 89.2%,#f88500 93.3%,#fa7e00 97.3%,#fa7e00 98.3%,#f97e00 99.3%,#f97f00 100%)"></i><i style="background:linear-gradient(90deg,#620ece 0%,#620ece 7.2%,#4a0cd9 14.3%,#100ef0 25.7%,#025ffc 41.5%,#029bf0 53%,#01cdd1 63.5%,#10e698 70.6%,#59f347 76.3%,#96ed1c 80.3%,#bce20d 83.1%,#d9d002 85.6%,#eeab00 89.6%,#f88500 93.6%,#fa7e00 97.6%,#fa7e00 98.6%,#f97e00 99.5%,#f97f00 100%)"></i><i style="background:linear-gradient(90deg,#620ece 0%,#620ece 7.3%,#4a0cd9 14.6%,#100ef0 26%,#025ffc 41.9%,#029bf0 53.4%,#01cdd1 63.9%,#10e698 71%,#59f347 76.7%,#96ed1c 80.7%,#bce20d 83.5%,#d9d002 86%,#eeab00 90%,#f88500 94%,#fa7e00 98%,#fa7e00 98.9%,#f97e00 99.7%,#f97e00 100%)"></i><i style="background:linear-gradient(90deg,#620ece 0%,#620ece 7.4%,#4a0cd9 14.8%,#100ef0 26.3%,#025ffc 42.3%,#029bf0 53.8%,#01cdd1 64.3%,#10e698 71.3%,#59f347 77%,#96ed1c 81%,#bce20d 83.8%,#d9d002 86.3%,#eeab00 90.3%,#f88500 94.3%,#fa7e00 98.3%,#fa7e00 99.2%,#f97e00 100%)"></i><i style="background:linear-gradient(90deg,#620ece 0%,#620ece 7.5%,#4a0cd9 15.1%,#100ef0 26.6%,#025ffc 42.6%,#029bf0 54.1%,#01cdd1 64.6%,#10e698 71.6%,#59f347 77.3%,#96ed1c 81.3%,#bce20d 84.1%,#d9d002 86.6%,#eeab00 90.6%,#f88500 94.6%,#fa7e00 98.6%,#fa7e00 99.5%,#fa7e00 100%)"></i><i style="background:linear-gradient(90deg,#620ece 0%,#620ece 7.7%,#4a0cd9 15.3%,#100ef0 26.8%,#025ffc 43%,#029bf0 54.5%,#01cdd1 65%,#10e698 71.9%,#59f347 77.6%,#96ed1c 81.6%,#bce20d 84.4%,#d9d002 86.9%,#eeab00 90.9%,#f88500 95%,#fa7e00 99%,#fa7e00 99.8%,#fa7e00 100%)"></i><i style="background:linear-gradient(90deg,#620ece 0%,#620ece 7.8%,#4a0cd9 15.6%,#100ef0 27.1%,#025ffc 43.3%,#029bf0 54.8%,#01cdd1 65.3%,#10e698 72.2%,#59f347 77.9%,#96ed1c 81.9%,#bce20d 84.7%,#d9d002 87.2%,#eeab00 91.2%,#f88500 95.3%,#fa7e00 99.3%,#fa7e00 100%)"></i><i style="background:linear-gradient(90deg,#620ece 0%,#620ece 7.9%,#4a0cd9 15.8%,#100ef0 27.3%,#025ffc 43.6%,#029bf0 55.1%,#01cdd1 65.6%,#10e698 72.5%,#59f347 78.2%,#96ed1c 82.2%,#bce20d 85%,#d9d002 87.5%,#eeab00 91.6%,#f88500 95.6%,#fa7e00 99.6%,#fa7e00 100%)"></i><i style="background:linear-gradient(90deg,#620ece 0%,#620ece 8%,#4a0cd9 16.1%,#100ef0 27.5%,#025ffc 43.9%,#029bf0 55.4%,#01cdd1 65.9%,#10e698 72.8%,#59f347 78.5%,#96ed1c 82.5%,#bce20d 85.3%,#d9d002 87.8%,#eeab00 91.9%,#f88500 95.9%,#fa7e00 100%,#fa7e00 100%)"></i><i style="background:linear-gradient(90deg,#620ece 0%,#620ece 8.2%,#4a0cd9 16.3%,#100ef0 27.6%,#025ffc 44.1%,#029bf0 55.6%,#01cdd1 66.1%,#10e698 73.1%,#59f347 78.8%,#96ed1c 82.8%,#bce20d 85.6%,#d9d002 88.1%,#eeac00 92.2%,#f88500 96.2%,#fa7e00 100%)"></i><i style="background:linear-gradient(90deg,#620ece 0%,#620ece 8.3%,#4a0cd9 16.5%,#100ef0 27.8%,#025ffc 44.4%,#029bf0 55.9%,#01cdd1 66.4%,#10e698 73.4%,#59f347 79.1%,#96ed1c 83.1%,#bce20d 85.9%,#d9d002 88.4%,#eeab00 92.5%,#f88500 96.6%,#fa7e00 100%)"></i><i style="background:linear-gradient(90deg,#620ece 0%,#620ece 8.4%,#4a0cd9 16.8%,#100ef0 28%,#025ffc 44.7%,#029bf0 56.2%,#01cdd1 66.7%,#10e698 73.7%,#59f347 79.3%,#96ed1c 83.4%,#bce20d 86.2%,#d9d002 88.6%,#eeab00 92.8%,#f88500 96.9%,#fa7e00 100%)"></i><i style="background:linear-gradient(90deg,#620ece 0%,#620ece 8.5%,#4a0cd9 17%,#100ef0 28.1%,#025ffc 44.9%,#029bf0 56.4%,#01cdd1 66.9%,#10e698 73.9%,#59f347 79.6%,#96ed1c 83.6%,#bce20d 86.4%,#d9d002 88.9%,#eeab00 93.1%,#f88500 97.2%,#fa7e00 100%)"></i><i style="background:linear-gradient(90deg,#620ece 0%,#620ece 8.6%,#4a0cd9 17.3%,#100ef0 28.3%,#025ffc 45.2%,#029bf0 56.7%,#01cdd1 67.2%,#10e698 74.2%,#59f347 79.9%,#96ed1c 83.9%,#bce20d 86.7%,#d9d002 89.2%,#eeab00 93.4%,#f88500 97.5%,#f97e00 100%)"></i><i style="background:linear-gradient(90deg,#620ece 0%,#620ece 8.7%,#4a0cd9 17.4%,#100ef0 28.4%,#025ffc 45.4%,#029bf0 56.9%,#01cdd1 67.4%,#10e698 74.4%,#59f347 80.1%,#96ed1c 84.1%,#bce20d 86.9%,#d9d002 89.4%,#eeab00 93.6%,#f88500 97.8%,#f97e00 100%)"></i></div>
<div class="p" style="left:245px;top:344px;width:168px;height:173px"><i style="background:linear-gradient(90deg,#0534f9 0%,#028ef4 1.3%,#01b7e4 2.5%,#01d1cb 3.6%,#0ae0a7 5%,#29ec7b 6.4%,#51f250 7.8%,#7df12b 9.2%,#bce20d 11.6%,#d4d404 13.3%,#e0c800 14.4%,#e4c100 15.4%,#e5c000 16.4%,#e4c100 17.6%,#e0c800 18.8%,#d4d404 20%,#bce20d 21.8%,#7df12b 24.2%,#51f250 26%,#29ec7b 27.7%,#02d8be 33.2%,#00c6de 41.2%,#02a8eb 55.2%,#0289f5 100%)"></i><i style="background:linear-gradient(90deg,#072ff8 0%,#028ef4 1.4%,#01b7e4 2.7%,#01d1cb 3.9%,#0ae0a7 5.3%,#29ec7b 6.7%,#51f250 8.1%,#7df12b 9.5%,#bce20d 11.9%,#d4d304 13.5%,#e2c500 14.7%,#e6bd00 15.8%,#e7bc00 16.9%,#e6bd00 18.1%,#e2c500 19.4%,#d4d404 20.6%,#bce20d 22.4%,#7df12b 24.8%,#51f250 26.5%,#29ec7b 28.2%,#02d8be 33.7%,#00c6de 41.6%,#02a8eb 55.6%,#0289f5 100%)"></i><i style="background:linear-gradient(90deg,#082bf7 0%,#028ef4 1.5%,#01b7e4 2.9%,#01d1cb 4.2%,#0ae0a7 5.6%,#29ec7b 7.1%,#51f250 8.5%,#7df12b 9.8%,#bce20d 12.1%,#d5d304 13.8%,#e3c200 15%,#e8b900 16.2%,#e9b700 17.4%,#e8b900 18.6%,#e3c200 19.9%,#d5d304 21.2%,#bce20d 23%,#7df12b 25.3%,#51f250 27%,#29ec7b 28.7%,#02d8be 34.2%,#00c6de 41.9%,#02a8eb 55.9%,#0289f5 100%)"></i><i style="background:linear-gradient(90deg,#0926f6 0%,#028ef4 1.7%,#01b7e4 3.1%,#01d1cb 4.5%,#0ae0a7 6%,#29ec7b 7.5%,#51f250 8.8%,#7df12b 10.2%,#bce20d 12.3%,#d5d303 14%,#e5c000 15.2%,#ebb400 16.6%,#ecb200 17.8%,#ebb400 19.2%,#e5c000 20.5%,#d5d303 21.8%,#bce20d 23.6%,#7df12b 25.8%,#51f250 27.5%,#29ec7b 29.1%,#02d8be 34.6%,#00c6de 42.3%,#02a8eb 56.3%,#0289f5 100%)"></i><i style="background:linear-gradient(90deg,#0b21f5 0%,#0241fc 0.4%,#028ef4 1.8%,#01b7e4 3.3%,#01d1cb 4.7%,#0ae0a7 6.3%,#29ec7b 7.8%,#51f250 9.2%,#7df12b 10.5%,#bce20d 12.6%,#d6d203 14.1%,#e6bd00 15.5%,#edaf00 16.9%,#eeac00 18.3%,#edaf00 19.7%,#e6bd00 21.1%,#d6d203 22.4%,#bce20d 24.2%,#7df12b 26.3%,#51f250 28%,#29ec7b 29.6%,#02d8be 35.1%,#00c6de 42.6%,#02a8eb 56.6%,#0289f5 100%)"></i><i style="background:linear-gradient(90deg,#0c1df4 0%,#0240fc 0.5%,#028ef4 1.9%,#01b7e4 3.5%,#01d1cb 5%,#0ae0a7 6.6%,#29ec7b 8.2%,#51f250 9.5%,#7df12b 10.8%,#bce20d 12.8%,#d6d203 14.3%,#e8ba00 15.8%,#efa800 17.3%,#efa500 18.8%,#efa800 20.2%,#e8ba00 21.6%,#d6d203 23.1%,#bce20d 24.8%,#7df12b 26.8%,#51f250 28.4%,#29ec7b 30.1%,#02d8be 35.5%,#00c6de 43%,#02a8eb 57%,#0289f5 100%)"></i><i style="background:linear-gradient(90deg,#0d18f2 0%,#033dfb 0.5%,#028ef4 2.1%,#01b7e4 3.7%,#01d1cb 5.3%,#0ae0a7 6.9%,#29ec7b 8.6%,#51f250 9.9%,#7df12b 11.2%,#bce20d 13%,#d7d103 14.6%,#e9b800 16.1%,#f0a200 17.7%,#f19e00 19.3%,#f0a200 20.7%,#e9b800 22.2%,#d7d203 23.7%,#bce20d 25.4%,#7df12b 27.4%,#51f250 28.9%,#29ec7b 30.5%,#02d8be 36%,#00c6de 43.4%,#02a8eb 57.3%,#0289f5 100%)"></i><i style="background:linear-gradient(90deg,#0e14f1 0%,#033bfb 0.6%,#028ef4 2.2%,#01b7e4 3.9%,#01d1cb 5.6%,#0ae0a7 7.3%,#29ec7b 9%,#51f250 10.2%,#7df12b 11.5%,#bce20d 13.2%,#d7d103 14.8%,#eab600 16.4%,#f29d00 18.1%,#f39800 19.7%,#f29c00 21.2%,#eab600 22.8%,#d7d103 24.3%,#bce20d 25.9%,#7df12b 27.9%,#51f250 29.4%,#29ec7b 31%,#02d8be 36.5%,#00c6de 43.8%,#02a8eb 57.7%,#0289f5 100%)"></i><i style="background:linear-gradient(90deg,#100ff0 0%,#043afb 0.6%,#028ff4 2.3%,#01b7e4 4.1%,#01d1cb 5.8%,#0ae0a7 7.6%,#29ec7b 9.3%,#51f250 10.6%,#7df12b 11.8%,#bce20d 13.5%,#d8d102 15%,#ebb400 16.7%,#f39700 18.5%,#f49200 20.2%,#f39700 21.8%,#ebb400 23.3%,#d8d102 24.9%,#bce20d 26.5%,#7df12b 28.4%,#51f250 29.9%,#29ec7b 31.5%,#02d8be 36.9%,#00c6de 44.1%,#02a8eb 58.1%,#0289f5 100%)"></i><i style="background:linear-gradient(90deg,#130eef 0%,#0439fa 0.7%,#028ef4 2.5%,#01b7e4 4.3%,#01d1cb 6.1%,#0ae0a7 7.9%,#29ec7b 9.7%,#51f250 10.9%,#7df12b 12.2%,#bce20d 13.7%,#d8d002 15.2%,#ecb200 17.1%,#f49300 18.9%,#f68d00 20.7%,#f49300 22.3%,#ecb200 23.8%,#d8d102 25.4%,#bce20d 27.1%,#7df12b 28.9%,#51f250 30.4%,#29ec7b 31.9%,#02d8be 37.4%,#00c6de 44.5%,#02a8eb 58.5%,#0289f5 100%)"></i><i style="background:linear-gradient(90deg,#170ded 0%,#0437fa 0.8%,#028ef4 2.6%,#01b7e4 4.5%,#01d1cb 6.4%,#0ae0a7 8.2%,#29ec7b 10%,#51f250 11.2%,#7df12b 12.5%,#bce20d 14%,#d8d002 15.5%,#ecb000 17.4%,#f58f00 19.2%,#f78900 21.1%,#f58f00 22.7%,#ecb000 24.4%,#d8d002 26%,#bce20d 27.6%,#7df12b 29.4%,#51f250 30.9%,#29ec7b 32.4%,#02d8be 37.9%,#00c6de 44.9%,#02a8eb 58.9%,#0289f5 100%)"></i><i style="background:linear-gradient(90deg,#1b0dec 0%,#0537fa 0.9%,#028ef4 2.8%,#01b7e4 4.7%,#01d1cb 6.6%,#0ae0a7 8.5%,#29ec7b 10.3%,#51f250 11.6%,#7df12b 12.8%,#bce20d 14.3%,#d9d002 15.8%,#edaf00 17.7%,#f68d00 19.6%,#f78600 21.6%,#f68d00 23.2%,#edaf00 24.9%,#d9d002 26.5%,#bce20d 28.1%,#7df12b 29.8%,#51f250 31.3%,#29ec7b 32.8%,#02d8be 38.3%,#00c6de 45.3%,#02a8eb 59.3%,#0289f5 100%)"></i><i style="background:linear-gradient(90deg,#1f0dea 0%,#0536fa 0.9%,#028ef4 2.9%,#01b7e4 4.9%,#01d1cb 6.9%,#0ae0a7 8.8%,#29ec7b 10.7%,#51f250 11.9%,#7df12b 13.2%,#bce20d 14.6%,#d9d002 16.1%,#edae00 18.1%,#f68c00 20%,#f88500 22%,#f68b00 23.7%,#edae00 25.3%,#d9d002 27%,#bce20d 28.6%,#7df12b 30.3%,#51f250 31.8%,#29ec7b 33.3%,#02d8be 38.8%,#00c6de 45.8%,#02a8eb 59.8%,#0289f5 100%)"></i><i style="background:linear-gradient(90deg,#230ce9 0%,#0536fa 1.1%,#028ef4 3.1%,#01b7e4 5.1%,#01d1cb 7.1%,#0ae0a7 9%,#29ec7b 10.9%,#51f250 12.2%,#7df12b 13.5%,#bce20d 15%,#d9d002 16.5%,#edae00 18.5%,#f68b00 20.4%,#f88500 22.4%,#f68b00 24.1%,#edae00 25.8%,#d9d002 27.4%,#bce20d 29%,#7df12b 30.7%,#51f250 32.2%,#29ec7b 33.7%,#02d8be 39.2%,#00c6de 46.2%,#02a8eb 60.3%,#0289f5 100%)"></i><i style="background:linear-gradient(90deg,#270ce7 0%,#0536fa 1.2%,#028ef4 3.3%,#01b7e4 5.3%,#01d1cb 7.4%,#0ae0a7 9.3%,#29ec7b 11.2%,#51f250 12.5%,#7df12b 13.8%,#bce20d 15.4%,#d9d002 16.9%,#edaf00 18.9%,#f68c00 20.9%,#f88600 22.8%,#f68c00 24.5%,#edaf00 26.2%,#d9d002 27.8%,#bce20d 29.4%,#7df12b 31.1%,#51f250 32.7%,#29ec7b 34.2%,#02d8be 39.7%,#00c6de 46.7%,#02a8eb 60.8%,#0289f5 100%)"></i><i style="background:linear-gradient(90deg,#2c0be5 0%,#0536fa 1.3%,#028ef4 3.5%,#01b7e4 5.5%,#01d1cb 7.6%,#0ae0a7 9.5%,#29ec7b 11.5%,#51f250 12.8%,#7df12b 14.1%,#bce20d 15.8%,#d9d002 17.3%,#edaf00 19.3%,#f68e00 21.3%,#f78700 23.2%,#f68e00 24.9%,#edaf00 26.5%,#d9d002 28.2%,#bce20d 29.8%,#7df12b 31.5%,#51f250 33.1%,#29ec7b 34.6%,#02d8be 40.2%,#00c6de 47.3%,#02a8eb 61.4%,#0289f5 100%)"></i><i style="background:linear-gradient(90deg,#300be4 0%,#0536fa 1.5%,#028ef4 3.6%,#01b7e4 5.7%,#01d1cb 7.8%,#0ae0a7 9.8%,#29ec7b 11.7%,#51f250 13%,#7df12b 14.4%,#bce20d 16.2%,#d9d002 17.8%,#edb000 19.8%,#f59000 21.7%,#f78a00 23.6%,#f59000 25.3%,#edb000 26.9%,#d9d002 28.5%,#bce20d 30.1%,#7df12b 31.9%,#51f250 33.5%,#29ec7b 35.1%,#02d8be 40.6%,#00c6de 47.8%,#02a8eb 61.9%,#0289f5 100%)"></i><i style="background:linear-gradient(90deg,#350ae2 0%,#0536fa 1.7%,#0264fc 2.7%,#028ef4 3.8%,#01b7e4 5.9%,#01d1cb 8%,#0ae0a7 10%,#29ec7b 11.9%,#51f250 13.3%,#7df12b 14.7%,#bce20d 16.7%,#d9d002 18.3%,#ecb100 20.2%,#f49200 22.1%,#f68d00 24%,#f49200 25.6%,#ecb100 27.2%,#d9d002 28.8%,#bce20d 30.4%,#7df12b 32.3%,#51f250 33.9%,#29ec7b 35.5%,#02d8be 41.1%,#00c6de 48.4%,#02a8eb 62.6%,#0289f5 100%)"></i><i style="background:linear-gradient(90deg,#3a0ae0 0%,#0536fa 1.8%,#028ef4 4%,#01b7e4 6.1%,#01d1cb 8.2%,#0ae0a7 10.2%,#29ec7b 12.1%,#51f250 13.5%,#7df12b 14.9%,#bce20d 17.2%,#d9d002 18.9%,#ecb300 20.7%,#f39600 22.6%,#f59000 24.4%,#f39600 26%,#ecb300 27.5%,#d9d002 29.1%,#bce20d 30.7%,#7df12b 32.7%,#51f250 34.3%,#29ec7b 36%,#02d8be 41.5%,#00c6de 49%,#02a8eb 63.2%,#0289f5 100%)"></i><i style="background:linear-gradient(90deg,#3e0ade 0%,#160dee 1%,#0536fa 2%,#028ef4 4.2%,#01b7e4 6.3%,#01d1cb 8.4%,#0ae0a7 10.4%,#29ec7b 12.3%,#7df12b 15.2%,#bce20d 17.7%,#d9d002 19.4%,#ebb400 21.2%,#f29900 23%,#f49400 24.8%,#f29900 26.3%,#ebb400 27.8%,#d8d002 29.3%,#bce20d 30.9%,#7df12b 33%,#29ec7b 36.4%,#02d8be 42%,#00c6de 49.6%,#02a8eb 63.9%,#0289f5 100%)"></i><i style="background:linear-gradient(90deg,#430bdc 0%,#190ded 1.1%,#0536fa 2.2%,#028ef4 4.4%,#01b7e4 6.5%,#01d1cb 8.6%,#0ae0a7 10.6%,#29ec7b 12.5%,#51f250 14%,#7df12b 15.5%,#bce20d 18.2%,#d9d002 20%,#eab500 21.7%,#f19d00 23.4%,#f39900 25.2%,#f19d00 26.6%,#eab500 28.1%,#d8d002 29.5%,#bce20d 31.1%,#7df12b 33.4%,#51f250 35.1%,#29ec7b 36.9%,#02d8be 42.5%,#00c6de 50.2%,#02a8eb 64.5%,#0289f5 100%)"></i><i style="background:linear-gradient(90deg,#470bda 0%,#1b0dec 1.2%,#0536fa 2.4%,#028ef4 4.7%,#01b7e4 6.7%,#01d1cb 8.8%,#0ae0a7 10.7%,#29ec7b 12.7%,#51f250 14.2%,#7df12b 15.8%,#bce20d 18.7%,#d9d002 20.6%,#e9b700 22.2%,#f0a200 23.9%,#f19e00 25.5%,#f0a200 26.9%,#e9b700 28.3%,#d8d002 29.7%,#bce30d 31.3%,#7df12b 33.7%,#51f250 35.5%,#29ec7b 37.3%,#02d8be 42.9%,#00c6de 50.8%,#02a8eb 65.2%,#0289f5 100%)"></i><i style="background:linear-gradient(90deg,#4c0cd8 0%,#1e0deb 1.3%,#0536fa 2.6%,#028ef4 4.9%,#01b7e4 6.9%,#01d1cb 9%,#0ae0a7 10.9%,#29ec7b 12.8%,#51f250 14.5%,#7df12b 16.1%,#bce20d 19.2%,#d8d002 21.2%,#e8b900 22.7%,#efa700 24.3%,#f0a300 25.9%,#efa700 27.2%,#e8b900 28.6%,#d8d102 29.9%,#bbe30d 31.5%,#7df12b 34%,#51f250 35.9%,#29ec7b 37.8%,#02d8be 43.4%,#00c6de 51.4%,#02a8eb 65.9%,#0289f5 100%)"></i><i style="background:linear-gradient(90deg,#500cd6 0%,#200cea 1.4%,#0536fa 2.8%,#028ef4 5.1%,#01b7e4 7.1%,#01d1cb 9.2%,#0ae0a7 11.1%,#29ec7b 13%,#51f250 14.7%,#7df12b 16.4%,#bce20d 19.8%,#d8d002 21.8%,#e7ba00 23.3%,#eeac00 24.8%,#efa800 26.2%,#eeac00 27.5%,#e7bb00 28.8%,#d8d102 30.1%,#bbe30d 31.7%,#7df12b 34.3%,#51f250 36.3%,#29ec7b 38.2%,#02d8be 43.9%,#00c6de 52%,#02a8eb 66.6%,#0289f5 100%)"></i><i style="background:linear-gradient(90deg,#550dd4 0%,#220ce9 1.5%,#0536fa 3%,#028ef4 5.3%,#01b7e4 7.4%,#01d1cb 9.4%,#0ae0a7 11.3%,#29ec7b 13.2%,#51f250 14.9%,#7df12b 16.7%,#bce20d 20.3%,#d8d002 22.4%,#e6bd00 23.8%,#ecb100 25.2%,#edae00 26.6%,#ecb100 27.8%,#e6bd00 29%,#d7d103 30.3%,#bbe30d 31.9%,#7df12b 34.6%,#51f250 36.6%,#29ec7b 38.6%,#02d8be 44.3%,#00c6de 52.7%,#02a8eb 67.3%,#0289f5 100%)"></i><i style="background:linear-gradient(90deg,#590dd2 0%,#240ce8 1.6%,#0536fa 3.3%,#028ef4 5.5%,#01b7e4 7.6%,#01d1cb 9.6%,#0ae0a7 11.5%,#29ec7b 13.4%,#51f250 15.2%,#7df12b 17%,#bce20d 20.8%,#d8d102 23%,#e5bf00 24.3%,#ebb500 25.6%,#ebb300 26.9%,#ebb500 28.1%,#e5bf00 29.3%,#d7d203 30.5%,#bbe30d 32.1%,#7df12b 34.9%,#51f250 37%,#29ec7b 39.1%,#02d8be 44.8%,#00c6de 53.3%,#02a8eb 68%,#0289f5 100%)"></i><i style="background:linear-gradient(90deg,#5d0ed0 0%,#270ce7 1.8%,#0536fa 3.5%,#028ef4 5.8%,#01b7e4 7.8%,#01d1cb 9.8%,#0ae0a7 11.7%,#29ec7b 13.6%,#51f250 15.4%,#7df12b 17.3%,#bce20d 21.4%,#d8d102 23.6%,#e4c100 24.8%,#e9b800 26.1%,#e9b700 27.3%,#e9b800 28.4%,#e4c100 29.5%,#d6d203 30.6%,#bae30d 32.3%,#7df12b 35.2%,#51f250 37.4%,#29ec7b 39.5%,#02d8be 45.2%,#00c6de 53.9%,#02a8eb 68.7%,#0289f5 100%)"></i><i style="background:linear-gradient(90deg,#610ece 0%,#290ce7 1.9%,#0536fa 3.7%,#028ef4 6%,#01b7e4 8%,#01d1cb 10.1%,#0ae0a7 11.9%,#29ec7b 13.8%,#51f250 15.7%,#7df12b 17.6%,#bce20d 21.9%,#d7d103 24.1%,#e3c300 25.3%,#e7bc00 26.5%,#e7ba00 27.6%,#e7bc00 28.7%,#e2c400 29.8%,#d6d203 30.8%,#bae30e 32.5%,#7df12b 35.5%,#51f250 37.7%,#29ec7b 39.9%,#02d8be 45.7%,#00c6de 54.5%,#02a8eb 69.3%,#0289f5 100%)"></i><i style="background:linear-gradient(90deg,#620ece 0%,#2b0be6 2%,#0536fa 3.9%,#028ef4 6.3%,#01b7e4 8.3%,#01d1cb 10.3%,#0ae0a7 12.2%,#29ec7b 14%,#51f250 16%,#7df12b 17.9%,#bce20d 22.4%,#d7d103 24.7%,#e2c500 25.8%,#e5bf00 26.9%,#e6be00 28%,#e5bf00 29%,#e1c600 30%,#d5d303 31%,#b9e30e 32.7%,#7df12b 35.8%,#51f250 38.1%,#29ec7b 40.3%,#02d8be 46.1%,#00c6de 55.1%,#02a8eb 70%,#0289f5 100%)"></i><i style="background:linear-gradient(90deg,#620ece 0%,#2d0be5 2.1%,#0536fa 4.2%,#028ef4 6.5%,#01b7e4 8.5%,#01d1cb 10.5%,#0ae0a7 12.4%,#29ec7b 14.3%,#51f250 16.2%,#7df12b 18.2%,#bce20d 22.9%,#d7d203 25.2%,#e0c700 26.3%,#e3c200 27.3%,#e4c100 28.3%,#e3c200 29.3%,#e0c800 30.2%,#d5d304 31.2%,#b9e30e 32.9%,#7df12b 36.1%,#51f250 38.4%,#29ec7b 40.7%,#02d8be 46.5%,#00c6de 55.7%,#02a8eb 70.6%,#0289f5 100%)"></i><i style="background:linear-gradient(90deg,#620ece 0%,#2f0be4 2.2%,#0536fa 4.4%,#028ef4 6.8%,#01b7e4 8.8%,#01d1cb 10.8%,#0ae0a7 12.7%,#29ec7b 14.5%,#51f250 16.6%,#7df12b 18.6%,#bce20d 23.4%,#d6d203 25.8%,#dfca00 26.7%,#e2c500 27.7%,#e2c500 28.7%,#e2c500 29.6%,#dfcb00 30.5%,#d4d404 31.4%,#b8e40e 33.1%,#7df12b 36.4%,#51f250 38.7%,#29ec7b 41%,#02d8be 47%,#00c6de 56.2%,#02a8eb 71.2%,#0289f5 100%)"></i><i style="background:linear-gradient(90deg,#620ece 0%,#310be4 2.3%,#0536fa 4.6%,#028ef4 7.1%,#01b7e4 9.1%,#01d1cb 11.1%,#0ae0a7 13%,#29ec7b 14.8%,#51f250 16.9%,#7df12b 18.9%,#bce20d 23.9%,#d6d203 26.3%,#decc00 27.2%,#e0c800 28.1%,#e0c800 29%,#e0c800 29.9%,#ddcd00 30.8%,#d3d404 31.7%,#b8e40e 33.4%,#7df12b 36.7%,#51f250 39.1%,#29ec7b 41.4%,#02d8be 47.4%,#00c6de 56.7%,#02a8eb 71.7%,#0289f5 100%)"></i><i style="background:linear-gradient(90deg,#620ece 0%,#330be3 2.4%,#0536fa 4.8%,#028ef4 7.3%,#01b7e4 9.3%,#01d1cb 11.3%,#0ae0a7 13.2%,#29ec7b 15.2%,#7df12b 19.3%,#bce20d 24.3%,#d5d303 26.7%,#dccd01 27.6%,#dfcb00 28.5%,#dfca00 29.4%,#dfcb00 30.2%,#dbce01 31.1%,#d2d505 31.9%,#b7e40f 33.6%,#7df12b 37%,#29ec7b 41.8%,#02d8be 47.8%,#00c6de 57.2%,#02a8eb 72.2%,#0289f5 100%)"></i><i style="background:linear-gradient(90deg,#620ece 0%,#340be2 2.5%,#0536fa 5%,#028ef4 7.6%,#01b7e4 9.6%,#01d1cb 11.7%,#0ae0a7 13.6%,#29ec7b 15.5%,#7df12b 19.7%,#bce30d 24.8%,#d5d304 27.2%,#dbcf01 28%,#ddcd00 28.9%,#ddcd00 29.7%,#ddcd00 30.6%,#d9d002 31.4%,#d1d605 32.2%,#b6e40f 33.9%,#7df12b 37.4%,#29ec7b 42.1%,#02d8be 48.2%,#00c6de 57.7%,#02a8eb 72.8%,#0289f5 100%)"></i><i style="background:linear-gradient(90deg,#620ece 0%,#350ae2 2.6%,#0536fa 5.2%,#028ef4 7.9%,#01b7e4 10%,#01d1cb 12%,#0ae0a7 13.9%,#29ec7b 15.9%,#7cf12b 20.1%,#bbe30d 25.2%,#d4d404 27.6%,#d8d002 28.4%,#dacf01 29.2%,#dbcf01 30.1%,#dacf01 30.9%,#d7d103 31.7%,#d0d705 32.5%,#b5e50f 34.2%,#7df12b 37.7%,#29ec7b 42.5%,#02d8be 48.6%,#00c6de 58.2%,#02a8eb 73.2%,#0289f5 100%)"></i><i style="background:linear-gradient(90deg,#620ece 0%,#370ae1 2.7%,#0536fa 5.5%,#028ef4 8.2%,#01b7e4 10.3%,#01d1cb 12.3%,#0ae0a7 14.3%,#29ec7b 16.3%,#7cf12c 20.5%,#bae30d 25.6%,#d3d504 28%,#d6d203 28.8%,#d8d102 29.6%,#d8d102 30.4%,#d8d102 31.2%,#d5d303 32%,#ced806 32.8%,#b4e510 34.5%,#7cf12b 38%,#29ec7b 42.8%,#02d8be 49.1%,#00c6de 58.7%,#02a8eb 73.7%,#0289f5 100%)"></i><i style="background:linear-gradient(90deg,#620ece 0%,#380ae1 2.9%,#0536fa 5.7%,#028ef4 8.6%,#01b7e4 10.6%,#01d1cb 12.7%,#0ae0a7 14.7%,#29ec7b 16.7%,#7bf12c 20.9%,#b9e30e 26%,#d1d605 28.5%,#d4d404 29.2%,#d5d303 30%,#d6d303 30.8%,#d5d303 31.5%,#d3d504 32.3%,#cdd907 33.1%,#b2e510 34.8%,#7cf12c 38.2%,#29ec7b 43.1%,#02d8be 49.5%,#00c6de 59.2%,#02a8eb 74.2%,#0289f5 100%)"></i><i style="background:linear-gradient(90deg,#620ece 0%,#390ae0 3%,#0536fa 6%,#028ef4 8.9%,#01b7e4 11%,#01d1cb 13%,#0ae0a7 15.1%,#29ec7b 17.1%,#7bf12c 21.4%,#b8e40e 26.4%,#d0d705 28.9%,#d2d505 29.6%,#d3d504 30.4%,#d3d404 31.1%,#d3d504 31.9%,#d1d605 32.6%,#cbda07 33.4%,#b1e611 35.1%,#7cf12c 38.5%,#29ec7b 43.5%,#02d8be 49.9%,#00c6de 59.6%,#02a8eb 74.6%,#028af5 100%)"></i><i style="background:linear-gradient(90deg,#620ece 0%,#530cd5 2.1%,#210ce9 4.2%,#0536fa 6.2%,#028ef4 9.3%,#01b7e4 11.3%,#01d1cb 13.4%,#0ae0a7 15.5%,#29ec7b 17.5%,#7af12d 21.9%,#b6e40f 26.8%,#ced806 29.3%,#d0d705 30%,#d0d605 30.7%,#d0d605 31.4%,#d0d705 32.2%,#ced806 32.9%,#cadc08 33.7%,#afe611 35.4%,#7cf12c 38.8%,#29ec7b 43.8%,#02d8be 50.3%,#00c6de 60.1%,#02a8eb 75%,#028af5 100%)"></i><i style="background:linear-gradient(90deg,#620ece 0%,#540dd4 2.2%,#220ce9 4.3%,#0536fa 6.5%,#028ef4 9.6%,#01b7e4 11.7%,#01d1cb 13.8%,#0ae0a7 15.9%,#29ec7b 18%,#79f12d 22.4%,#b4e50f 27.2%,#ccda07 29.6%,#cdd906 30.4%,#ced806 31.1%,#ced806 31.8%,#ced906 32.5%,#ccda07 33.3%,#c8dd09 34%,#ade712 35.8%,#7bf12c 39.1%,#29ec7b 44.1%,#02d8be 50.7%,#00c6de 60.5%,#02a8eb 75.4%,#028af5 100%)"></i><i style="background:linear-gradient(90deg,#620ece 0%,#560dd4 2.2%,#230ce9 4.5%,#0536fa 6.7%,#028ef4 10%,#01b7e4 12.1%,#01d1cb 14.2%,#0ae0a7 16.4%,#29ec7b 18.5%,#78f12e 22.8%,#b2e510 27.6%,#cadb08 30%,#cbdb07 30.7%,#cbda07 31.4%,#cbda07 32.1%,#cbda07 32.9%,#cadc08 33.6%,#c6df09 34.3%,#ace713 36.1%,#7bf12c 39.4%,#29ec7b 44.4%,#02d8be 51.1%,#00c6de 60.9%,#02a8eb 75.8%,#028af5 100%)"></i><i style="background:linear-gradient(90deg,#620ece 0%,#570dd3 2.3%,#230ce9 4.7%,#0536fa 7%,#028ef4 10.3%,#01b7e4 12.5%,#01d1cb 14.6%,#0ae0a7 16.8%,#29ec7b 19%,#77f22f 23.3%,#b0e611 28%,#c8dd08 30.4%,#c9dc08 31.1%,#c9dc08 31.8%,#c9dc08 32.5%,#c9dc08 33.2%,#c7dd09 33.9%,#c4e00a 34.6%,#aae813 36.4%,#7af12d 39.7%,#29ec7b 44.7%,#02d8be 51.5%,#00c6de 61.3%,#02a8eb 76.2%,#028af5 100%)"></i><i style="background:linear-gradient(90deg,#620ece 0%,#580dd2 2.4%,#240ce8 4.8%,#0536fa 7.3%,#028ef4 10.7%,#01b7e4 12.9%,#01d1cb 15%,#0ae0a7 17.2%,#29ec7b 19.5%,#76f22f 23.8%,#aee712 28.4%,#c6de09 30.8%,#c6de09 31.4%,#c7de09 32.1%,#c7de09 32.8%,#c6de09 33.5%,#c5df0a 34.2%,#c1e10b 35%,#a8e914 36.8%,#7af12d 40%,#29ec7b 45%,#02d8be 51.9%,#00c6de 61.7%,#02a8eb 76.5%,#028bf5 100%)"></i><i style="background:linear-gradient(90deg,#620ece 0%,#590dd2 2.5%,#250ce8 5%,#0536fa 7.5%,#028ef4 11.1%,#01b7e4 13.3%,#01d1cb 15.4%,#0ae0a7 17.7%,#29ec7b 20%,#75f230 24.4%,#ace713 28.8%,#c4e00a 31.1%,#c4e00a 31.8%,#c4e00a 32.5%,#c4e00a 33.1%,#c4e00a 33.9%,#c2e10b 34.6%,#bee20c 35.3%,#a6e915 37.1%,#79f12d 40.2%,#29ec7b 45.2%,#02d8be 52.3%,#00c6de 62.1%,#02a8eb 76.9%,#028bf5 100%)"></i><i style="background:linear-gradient(90deg,#620ece 0%,#5a0dd2 2.6%,#250ce8 5.2%,#0536fa 7.8%,#028ef4 11.5%,#01b7e4 13.7%,#01d1cb 15.9%,#0ae0a7 18.2%,#29ec7b 20.5%,#74f231 24.9%,#a9e813 29.1%,#c0e10b 31.5%,#c0e10b 32.1%,#c0e10b 32.8%,#c0e10b 33.5%,#c0e10b 34.2%,#bfe20c 34.9%,#bbe30d 35.6%,#a3ea15 37.5%,#78f12e 40.5%,#29ec7b 45.5%,#02d8be 52.7%,#00c6de 62.5%,#02a8eb 77.2%,#028bf5 100%)"></i><i style="background:linear-gradient(90deg,#620ece 0%,#5b0dd1 2.7%,#260ce8 5.4%,#0536fa 8.1%,#028ef4 11.9%,#01b7e4 14.1%,#01d1cb 16.3%,#0ae0a7 18.7%,#29ec7b 21%,#73f231 25.4%,#a6e914 29.5%,#bde20d 31.8%,#bde20d 32.5%,#bde20c 33.1%,#bde20c 33.8%,#bde20d 34.5%,#bbe30d 35.2%,#b7e40e 35.9%,#a1ea16 37.8%,#78f22e 40.8%,#29ec7b 45.8%,#02d8be 53.1%,#00c6de 62.9%,#02a8eb 77.6%,#028cf5 100%)"></i><i style="background:linear-gradient(90deg,#620ece 0%,#5c0dd1 2.8%,#260ce8 5.5%,#0536fa 8.3%,#028ef4 12.3%,#01b7e4 14.5%,#01d1cb 16.7%,#0ae0a7 19.1%,#29ec7b 21.5%,#71f332 25.9%,#a4ea15 29.9%,#b9e30e 32.1%,#b9e30e 32.8%,#b9e30e 33.5%,#b9e30e 34.1%,#b9e30e 34.8%,#b8e40e 35.5%,#b4e510 36.3%,#9feb17 38.1%,#77f22f 41%,#29ec7b 46%,#02d8be 53.5%,#00c6de 63.3%,#02a8eb 77.9%,#028cf4 100%)"></i><i style="background:linear-gradient(90deg,#620ece 0%,#5d0ed0 2.9%,#270ce7 5.7%,#0536fa 8.6%,#028ef4 12.7%,#01b7e4 14.9%,#01d1cb 17.2%,#0ae0a7 19.6%,#29ec7b 22.1%,#70f333 26.4%,#a1ea16 30.2%,#b5e40f 32.5%,#b6e40f 33.1%,#b6e40f 33.8%,#b6e40f 34.5%,#b6e40f 35.2%,#b4e510 35.9%,#b1e611 36.6%,#9dec18 38.5%,#76f22f 41.3%,#29ec7b 46.3%,#02d8be 53.8%,#00c6de 63.7%,#02a8eb 78.2%,#028cf4 100%)"></i><i style="background:linear-gradient(90deg,#620ece 0%,#5e0ed0 2.9%,#270ce7 5.9%,#0536fa 8.8%,#028ef4 13%,#01b7e4 15.3%,#01d1cb 17.6%,#0ae0a7 20.1%,#29ec7b 22.6%,#6ff334 26.9%,#9eeb17 30.6%,#b1e611 32.8%,#b2e510 33.5%,#b2e510 34.1%,#b2e510 34.8%,#b2e510 35.5%,#b1e611 36.2%,#ade712 36.9%,#9aec19 38.8%,#75f230 41.6%,#29ec7b 46.5%,#02d8be 54.2%,#00c6de 64%,#02a8eb 78.5%,#028cf4 100%)"></i><i style="background:linear-gradient(90deg,#620ece 0%,#5f0ecf 3%,#280ce7 6.1%,#0536fa 9.1%,#028ef4 13.4%,#01b7e4 15.7%,#01d1cb 18.1%,#0ae0a7 20.6%,#29ec7b 23.1%,#6df335 27.5%,#9bec18 30.9%,#ade712 33.1%,#afe612 33.8%,#afe611 34.4%,#afe611 35.1%,#afe611 35.8%,#ade712 36.5%,#aae813 37.2%,#97ed1b 39.1%,#74f231 41.8%,#29ec7b 46.8%,#02d8be 54.6%,#00c6de 64.4%,#02a8eb 78.8%,#028df4 100%)"></i><i style="background:linear-gradient(90deg,#620ece 0%,#5f0ecf 3.1%,#280ce7 6.2%,#0536fa 9.3%,#028ef4 13.8%,#01b7e4 16.1%,#01d1cb 18.5%,#0ae0a7 21.1%,#29ec7b 23.6%,#6cf336 28%,#98ed1b 31.3%,#aae813 33.4%,#abe713 34.1%,#ace713 34.8%,#ace713 35.4%,#abe713 36.1%,#aae813 36.8%,#a7e914 37.5%,#94ed1d 39.5%,#73f231 42.1%,#29ec7b 47%,#02d8be 54.9%,#00c6de 64.7%,#02a8eb 79.1%,#028df4 100%)"></i><i style="background:linear-gradient(90deg,#620ece 0%,#600ecf 3.2%,#280ce7 6.4%,#0536fa 9.6%,#028ef4 14.2%,#01b7e4 16.5%,#01d1cb 18.9%,#0ae0a7 21.5%,#29ec7b 24.2%,#6af437 28.5%,#94ed1d 31.6%,#a6e915 33.8%,#a8e814 34.4%,#a8e814 35.1%,#a8e814 35.7%,#a8e814 36.4%,#a7e914 37.1%,#a3ea15 37.8%,#91ee1f 39.8%,#72f332 42.3%,#29ec7b 47.2%,#02d8be 55.3%,#00c6de 65.1%,#02a8eb 79.4%,#028df4 100%)"></i><i style="background:linear-gradient(90deg,#620ece 0%,#610ece 3.3%,#290ce7 6.6%,#0536fa 9.8%,#028ef4 14.5%,#01b7e4 16.9%,#01d1cb 19.3%,#0ae0a7 22%,#29ec7b 24.7%,#69f437 29%,#90ee1f 32%,#a2ea16 34.1%,#a4e915 34.7%,#a5e915 35.4%,#a5e915 36%,#a5e915 36.7%,#a4ea15 37.4%,#a0eb17 38.1%,#8eee21 40.1%,#70f333 42.6%,#29ec7b 47.4%,#02d8be 55.6%,#00c6de 65.4%,#02a8eb 79.7%,#028df4 100%)"></i><i style="background:linear-gradient(90deg,#620ece 0%,#620ece 3.4%,#290ce6 6.7%,#0536fa 10.1%,#028ef4 14.9%,#01b7e4 17.3%,#01d1cb 19.8%,#0ae0a7 22.5%,#29ec7b 25.2%,#67f439 29.4%,#8dee21 32.3%,#9feb17 34.4%,#a1ea16 35%,#a2ea16 35.7%,#a2ea16 36.3%,#a2ea16 37%,#a1eb16 37.7%,#9dec18 38.5%,#8bef22 40.4%,#6ff334 42.8%,#29ec7b 47.6%,#02d8be 55.9%,#00c6de 65.8%,#02a8eb 80%,#028ef4 100%)"></i><i style="background:linear-gradient(90deg,#620ece 0%,#620ece 3.4%,#290ce6 6.9%,#0536fa 10.3%,#028ef4 15.2%,#01b7e4 17.7%,#01d1cb 20.2%,#0ae0a7 22.9%,#29ec7b 25.7%,#66f43a 29.9%,#8aef23 32.7%,#9bec19 34.7%,#9eeb17 35.3%,#9feb17 36%,#9feb17 36.6%,#9feb17 37.3%,#9eec17 38%,#99ec1a 38.7%,#88ef24 40.7%,#6ef334 43.1%,#29ec7b 47.9%,#02d8be 56.3%,#00c6de 66.1%,#02a8eb 80.3%,#028ef4 100%)"></i><i style="background:linear-gradient(90deg,#620ece 0%,#620ece 3.5%,#2a0ce6 7%,#0536fa 10.5%,#028ef4 15.6%,#01b7e4 18.1%,#01d1cb 20.6%,#0ae0a7 23.4%,#29ec7b 26.2%,#65f43b 30.4%,#86ef25 33%,#97ed1b 35%,#9bec19 35.6%,#9cec18 36.3%,#9cec18 36.9%,#9cec18 37.6%,#9aec19 38.3%,#95ed1c 39%,#85ef26 41%,#6cf335 43.3%,#29ec7b 48%,#02d8be 56.6%,#00c6de 66.4%,#02a8eb 80.6%,#028ef4 100%)"></i><i style="background:linear-gradient(90deg,#620ece 0%,#620ece 3.6%,#2a0be6 7.2%,#0536fa 10.7%,#028ef4 15.9%,#01b7e4 18.4%,#01d1cb 21%,#0ae0a7 23.8%,#29ec7b 26.7%,#64f43d 30.8%,#83f027 33.4%,#93ed1e 35.3%,#97ed1b 35.9%,#99ed1a 36.6%,#99ec1a 37.2%,#99ed1a 37.9%,#97ed1b 38.6%,#92ee1e 39.3%,#83f028 41.3%,#6bf436 43.5%,#29ec7b 48.2%,#02d8be 56.9%,#00c6de 66.7%,#02a8eb 80.8%,#028ef4 100%)"></i><i style="background:linear-gradient(90deg,#620ece 0%,#620ece 3.6%,#2b0be6 7.3%,#0536fa 10.9%,#028ef4 16.2%,#01b7e4 18.8%,#01d1cb 21.4%,#0ae0a7 24.3%,#29ec7b 27.2%,#62f43e 31.3%,#80f029 33.7%,#8fee20 35.6%,#93ed1d 36.2%,#95ed1c 36.9%,#95ed1c 37.5%,#95ed1c 38.2%,#93ed1d 38.9%,#8eee20 39.6%,#80f029 41.5%,#69f437 43.8%,#29ec7b 48.4%,#02d8be 57.2%,#00c6de 67.1%,#02a8eb 81.1%,#028ef4 100%)"></i><i style="background:linear-gradient(90deg,#620ece 0%,#620ece 3.7%,#2b0be6 7.4%,#0536fa 11.1%,#028ef4 16.5%,#01b7e4 19.1%,#01d1cb 21.8%,#0ae0a7 24.7%,#29ec7b 27.6%,#61f33f 31.7%,#7ef12b 34%,#8bef22 35.9%,#90ee1f 36.5%,#92ee1e 37.1%,#92ee1e 37.8%,#92ee1e 38.4%,#90ee1f 39.1%,#8bef22 39.8%,#7ef12b 41.8%,#68f438 44%,#29ec7b 48.6%,#02d8be 57.5%,#00c6de 67.4%,#02a8eb 81.4%,#028ef4 100%)"></i><i style="background:linear-gradient(90deg,#620ece 0%,#620ece 3.8%,#2b0be6 7.5%,#0536fa 11.3%,#028ef4 16.7%,#01b7e4 19.4%,#01d1cb 22.1%,#0ae0a7 25.1%,#29ec7b 28.1%,#60f340 32.1%,#7bf12c 34.4%,#88ef24 36.2%,#8dee21 36.8%,#8eee20 37.4%,#8fee20 38%,#8eee20 38.7%,#8dee21 39.4%,#88ef24 40.1%,#7bf12c 42%,#66f43a 44.3%,#29ec7b 48.8%,#02d8be 57.7%,#00c6de 67.7%,#02a8eb 81.7%,#028ef4 100%)"></i><i style="background:linear-gradient(90deg,#620ece 0%,#620ece 3.8%,#2c0be5 7.7%,#0536fa 11.5%,#028ef4 17%,#01b7e4 19.7%,#01d1cb 22.5%,#0ae0a7 25.5%,#29ec7b 28.5%,#5ff342 32.5%,#79f12e 34.7%,#85f026 36.5%,#8aef23 37.1%,#8bef22 37.7%,#8cef22 38.3%,#8bef22 39%,#8aef23 39.6%,#85f026 40.3%,#79f12e 42.3%,#64f43c 44.5%,#29ec7b 49%,#02d8be 58%,#00c6de 68%,#02a8eb 82%,#028ef4 100%)"></i><i style="background:linear-gradient(90deg,#620ece 0%,#620ece 3.9%,#2c0be5 7.8%,#0536fa 11.7%,#028ef4 17.2%,#01b7e4 20%,#01d1cb 22.8%,#0ae0a7 25.9%,#29ec7b 28.9%,#5ef343 32.9%,#77f22f 35%,#83f028 36.8%,#87ef25 37.4%,#88ef24 38%,#89ef24 38.5%,#88ef24 39.2%,#87ef25 39.9%,#83f028 40.5%,#76f22f 42.5%,#63f43e 44.7%,#29ec7b 49.2%,#02d8be 58.2%,#00c6de 68.3%,#02a8eb 82.3%,#028ef4 100%)"></i><i style="background:linear-gradient(90deg,#620ece 0%,#620ece 3.9%,#2d0be5 7.9%,#0536fa 11.8%,#028ef4 17.5%,#01b7e4 20.3%,#01d1cb 23.2%,#0ae0a7 26.2%,#29ec7b 29.3%,#5df344 33.2%,#74f230 35.4%,#80f029 37.1%,#84f027 37.7%,#85ef26 38.2%,#86ef26 38.8%,#85ef26 39.4%,#84f027 40.1%,#80f029 40.7%,#74f231 42.7%,#61f340 45%,#29ec7b 49.3%,#02d8be 58.5%,#00c6de 68.6%,#02a7eb 82.6%,#028ef4 100%)"></i><i style="background:linear-gradient(90deg,#620ece 0%,#620ece 4%,#2d0be5 8%,#0536fa 11.9%,#0264fc 14.8%,#028ef4 17.7%,#01b7e4 20.6%,#01d1cb 23.5%,#0ae0a7 26.6%,#29ec7b 29.8%,#5bf345 33.6%,#72f232 35.7%,#7df12b 37.4%,#81f028 37.9%,#83f028 38.5%,#83f027 39%,#83f028 39.7%,#81f028 40.3%,#7ef12b 40.9%,#72f232 42.9%,#5ff342 45.2%,#29ec7b 49.5%,#02d8bf 58.7%,#00c5de 68.9%,#02a7eb 82.9%,#028ef4 100%)"></i><i style="background:linear-gradient(90deg,#620ece 0%,#620ece 4%,#2e0be5 8.1%,#0536fa 12.1%,#028ef4 17.9%,#01b7e4 20.9%,#01d1cb 23.9%,#0ae0a7 27%,#29ec7b 30.2%,#5af347 33.9%,#70f333 36%,#7bf12c 37.7%,#7ff12a 38.2%,#80f029 38.8%,#80f029 39.3%,#80f029 39.9%,#7ff12a 40.5%,#7bf12c 41.1%,#6ff333 43.1%,#5cf344 45.4%,#29ec7b 49.6%,#02d7bf 58.9%,#00c5df 69.2%,#02a6eb 83.2%,#028ef4 100%)"></i><i style="background:linear-gradient(90deg,#620ece 0%,#620ece 4.1%,#2e0be5 8.1%,#0536fa 12.2%,#028ef4 18.1%,#01b7e4 21.2%,#01d1cb 24.2%,#0ae0a7 27.4%,#29ec7b 30.6%,#59f348 34.3%,#6ef334 36.4%,#78f12e 38%,#7cf12c 38.5%,#7df12b 39%,#7ef12b 39.5%,#7df12b 40.1%,#7cf12c 40.7%,#79f12e 41.3%,#6df335 43.3%,#5af346 45.6%,#29ec7b 49.7%,#02d7c0 59.1%,#00c4df 69.5%,#02a6ec 83.5%,#028ef4 100%)"></i><i style="background:linear-gradient(90deg,#620ece 0%,#620ece 4.1%,#2e0be4 8.2%,#0536fa 12.3%,#028ef4 18.3%,#01b7e4 21.4%,#01d1cb 24.6%,#0ae0a7 27.8%,#29ec7b 31%,#57f349 34.6%,#6cf336 36.7%,#76f22f 38.3%,#7af12d 38.8%,#7bf12c 39.3%,#7bf12c 39.8%,#7bf12c 40.3%,#7af12d 40.9%,#76f22f 41.5%,#6bf436 43.5%,#58f349 45.9%,#29ec7b 49.9%,#02d7c0 59.3%,#00c4df 69.7%,#02a5ec 83.7%,#028ef4 100%)"></i><i style="background:linear-gradient(90deg,#620ece 0%,#620ece 4.2%,#2f0be4 8.3%,#0536fa 12.5%,#0264fc 15.5%,#028ef4 18.5%,#01b7e4 21.7%,#01d1cb 24.9%,#0ae0a7 28.2%,#29ec7b 31.4%,#56f24b 35%,#6af437 37%,#74f231 38.6%,#77f22f 39%,#79f12e 39.5%,#79f12e 40%,#79f12e 40.6%,#77f22f 41.1%,#74f231 41.7%,#68f438 43.7%,#55f24c 46.1%,#29ec7b 50%,#02d6c1 59.5%,#00c3df 70%,#02a4ec 84%,#028ef4 100%)"></i><i style="background:linear-gradient(90deg,#620ece 0%,#620ece 4.2%,#2f0be4 8.4%,#0536fa 12.6%,#028ef4 18.7%,#01b7e4 22%,#01d1cb 25.3%,#0ae0a7 28.5%,#29ec7b 31.9%,#55f24c 35.3%,#68f438 37.3%,#72f332 38.8%,#75f230 39.3%,#76f22f 39.8%,#77f22f 40.2%,#76f22f 40.8%,#75f230 41.3%,#72f232 41.9%,#66f43a 43.9%,#53f24e 46.3%,#29ec7b 50.1%,#02d6c1 59.7%,#00c2e0 70.3%,#02a4ec 84.3%,#028ef4 100%)"></i><i style="background:linear-gradient(90deg,#620ece 0%,#620ece 4.2%,#2f0be4 8.5%,#0536fa 12.7%,#028ef4 18.9%,#01b7e4 22.2%,#01d1cb 25.6%,#0ae0a7 28.9%,#29ec7b 32.2%,#54f24d 35.6%,#66f43a 37.6%,#6ff333 39.1%,#73f231 39.6%,#74f230 40%,#74f230 40.4%,#74f230 41%,#73f231 41.5%,#70f333 42%,#64f43c 44%,#50f251 46.5%,#29ec7b 50.2%,#02d6c2 59.9%,#00c1e0 70.5%,#02a3ed 84.6%,#028ef4 100%)"></i><i style="background:linear-gradient(90deg,#620ece 0%,#620ece 4.3%,#300be4 8.5%,#0536fa 12.8%,#0264fc 15.9%,#028ef4 19.1%,#01b7e4 22.5%,#01d1cb 25.9%,#0ae0a7 29.3%,#29ec7b 32.6%,#52f24f 35.9%,#65f43b 38%,#6ef335 39.4%,#71f333 39.8%,#72f232 40.2%,#72f232 40.6%,#72f232 41.2%,#71f332 41.7%,#6ef334 42.2%,#62f43e 44.2%,#4ef253 46.7%,#29ec7b 50.3%,#02d5c2 60.1%,#00c1e0 70.8%,#02a2ed 84.8%,#028ef4 100%)"></i><i style="background:linear-gradient(90deg,#620ece 0%,#620ece 4.3%,#300be4 8.6%,#0536fa 12.9%,#028ef4 19.2%,#01b7e4 22.7%,#01d1cb 26.2%,#0ae0a7 29.6%,#29ec7b 33%,#51f250 36.2%,#63f43d 38.3%,#6cf336 39.7%,#6ff334 40.1%,#70f333 40.5%,#70f333 41.4%,#6ff334 41.9%,#6cf336 42.4%,#61f340 44.4%,#4cf255 46.9%,#29ec7b 50.4%,#02d5c3 60.2%,#00c0e1 71%,#02a2ed 85.1%,#028ef4 100%)"></i><i style="background:linear-gradient(90deg,#620ece 0%,#620ece 4.3%,#310be4 8.7%,#0536fa 13%,#028ef4 19.4%,#01b7e4 23%,#01d1cb 26.5%,#0ae0a7 29.9%,#29ec7b 33.4%,#50f251 36.5%,#62f33f 38.6%,#6af437 39.9%,#6ef334 40.7%,#6ef334 41.6%,#6df335 42.1%,#6af437 42.6%,#5ff342 44.6%,#4af158 47.1%,#29ec7b 50.5%,#02d5c4 60.4%,#00bfe1 71.2%,#02a1ee 85.3%,#028ef4 100%)"></i><i style="background:linear-gradient(90deg,#620ece 0%,#620ece 4.4%,#310be3 8.8%,#0536fa 13.2%,#028ef4 19.6%,#01b7e4 23.2%,#01d1cb 26.8%,#0ae0a7 30.3%,#29ec7b 33.7%,#4ff252 36.8%,#60f340 38.8%,#68f438 40.2%,#6cf335 40.9%,#6cf335 41.8%,#6bf436 42.2%,#68f438 42.7%,#5df343 44.7%,#48f15a 47.3%,#29ec7b 50.7%,#02d5c4 60.6%,#00bfe1 71.5%,#02a1ee 85.5%,#028ef4 100%)"></i><i style="background:linear-gradient(90deg,#620ece 0%,#620ece 4.4%,#310be3 8.9%,#0536fa 13.3%,#028ef4 19.7%,#01b7e4 23.4%,#01d1cb 27.1%,#0ae0a7 30.6%,#29ec7b 34%,#4ef253 37.1%,#5ff342 39.1%,#67f43a 40.4%,#6bf436 41.1%,#6bf436 41.9%,#69f437 42.4%,#67f439 42.9%,#5cf345 44.9%,#46f15c 47.5%,#29ec7b 50.8%,#02d5c4 60.7%,#00bfe1 71.7%,#02a0ee 85.7%,#028ef4 100%)"></i><i style="background:linear-gradient(90deg,#620ece 0%,#620ece 4.5%,#310be3 8.9%,#0536fa 13.4%,#028ef4 19.9%,#01b7e4 23.6%,#01d1cb 27.4%,#0ae0a7 30.8%,#29ec7b 34.3%,#4df254 37.4%,#5ef343 39.4%,#65f43b 40.7%,#69f437 41.3%,#69f437 42.1%,#68f438 42.6%,#65f43b 43.1%,#5af346 45.1%,#44f15d 47.7%,#29ec7b 50.9%,#02d4c4 60.9%,#00bee1 71.9%,#02a0ee 85.9%,#028ef4 100%)"></i><i style="background:linear-gradient(90deg,#620ece 0%,#620ece 4.5%,#320be3 9%,#0536fa 13.6%,#0264fc 16.8%,#028ef4 20.1%,#01b7e4 23.8%,#01d1cb 27.6%,#0ae0a7 31.1%,#29ec7b 34.6%,#4cf255 37.6%,#5df344 39.6%,#64f43c 40.9%,#67f439 41.5%,#67f439 42.3%,#66f43a 42.8%,#64f43c 43.3%,#59f348 45.3%,#43f15f 47.9%,#29ec7b 51%,#02d4c4 61.1%,#00bee1 72.1%,#02a0ee 86.1%,#028ef4 100%)"></i><i style="background:linear-gradient(90deg,#620ece 0%,#620ece 4.6%,#320be3 9.1%,#0536fa 13.7%,#028ef4 20.2%,#01b7e4 24%,#01d1cb 27.8%,#0ae0a7 31.3%,#29ec7b 34.8%,#4bf256 37.8%,#5cf345 39.8%,#63f43e 41.1%,#66f43a 41.8%,#66f43a 42.5%,#65f43b 43%,#63f43e 43.4%,#58f349 45.4%,#41f160 48%,#29ec7b 51.2%,#02d4c4 61.2%,#00bee1 72.2%,#02a0ee 86.2%,#028ef4 100%)"></i><i style="background:linear-gradient(90deg,#620ece 0%,#620ece 4.6%,#320be3 9.2%,#0536fa 13.8%,#0264fc 17.1%,#028ef4 20.4%,#01b7e4 24.2%,#01d1cb 28%,#0ae0a7 31.6%,#29ec7b 35.1%,#4bf157 38%,#5bf346 40%,#62f33f 41.3%,#65f43b 41.9%,#65f43b 42.7%,#64f43c 43.2%,#61f33f 43.6%,#57f24a 45.6%,#40f161 48.2%,#29ec7c 51.3%,#02d4c4 61.4%,#00bee1 72.4%,#02a0ee 86.3%,#028ef4 100%)"></i><i style="background:linear-gradient(90deg,#620ece 0%,#620ece 4.7%,#330be3 9.3%,#0536fa 14%,#028ef4 20.5%,#01b7e4 24.4%,#01d1cb 28.2%,#0ae0a7 31.8%,#29ec7b 35.3%,#4af157 38.2%,#5af347 40.2%,#61f340 41.5%,#64f43c 42.1%,#64f43c 42.9%,#63f43d 43.3%,#60f340 43.8%,#56f24b 45.8%,#3ff062 48.4%,#28ec7c 51.5%,#02d4c4 61.5%,#00bee1 72.6%,#02a0ee 86.4%,#028ef4 100%)"></i><i style="background:linear-gradient(90deg,#620ece 0%,#620ece 4.7%,#330be3 9.4%,#0536fa 14.1%,#028ef4 20.7%,#01b7e4 24.5%,#01d1cb 28.4%,#0ae0a7 31.9%,#29ec7b 35.5%,#4af158 38.4%,#59f347 40.4%,#60f341 41.7%,#63f43e 42.3%,#63f43e 43.1%,#62f33f 43.5%,#5ff341 44%,#55f24c 46%,#3ff063 48.5%,#28ec7d 51.6%,#02d4c4 61.7%,#00bee1 72.7%,#02a0ee 86.5%,#028ef4 100%)"></i><i style="background:linear-gradient(90deg,#620ece 0%,#620ece 4.8%,#330be3 9.5%,#0536fa 14.3%,#028ef4 20.8%,#01b7e4 24.7%,#01d1cb 28.6%,#0ae0a7 32.1%,#29ec7b 35.6%,#49f158 38.6%,#59f348 40.6%,#5ff341 41.9%,#62f33f 42.5%,#62f33f 43.2%,#61f340 43.7%,#5ef342 44.1%,#54f24d 46.1%,#3ef064 48.7%,#27ec7d 51.8%,#02d4c4 61.8%,#00bee1 72.8%,#02a0ee 86.6%,#028ef4 100%)"></i><i style="background:linear-gradient(90deg,#620ece 0%,#620ece 4.8%,#330be3 9.6%,#0536fa 14.4%,#028ef4 20.9%,#01b7e4 24.9%,#01d1cb 28.8%,#0ae0a7 32.3%,#29ec7b 35.8%,#49f159 38.8%,#58f349 40.8%,#5ef342 42.1%,#61f340 42.7%,#61f340 43.4%,#60f341 43.9%,#5df343 44.3%,#53f24e 46.3%,#3df065 48.9%,#27eb7e 51.9%,#02d4c4 61.9%,#00bee1 73%,#02a0ee 86.7%,#028ef4 100%)"></i><i style="background:linear-gradient(90deg,#620ece 0%,#620ece 4.9%,#340be2 9.7%,#0536fa 14.6%,#028ef4 21.1%,#01b7e4 25%,#01d1cb 28.9%,#0ae0a7 32.5%,#29ec7b 36%,#48f159 39%,#57f349 40.9%,#5ef343 42.2%,#60f341 42.9%,#60f341 43.6%,#5ff342 44%,#5cf344 44.5%,#53f24e 46.5%,#3cf066 49%,#26eb7f 52.1%,#02d4c4 62.1%,#00bee1 73.1%,#02a0ee 86.8%,#028ef4 100%)"></i><i style="background:linear-gradient(90deg,#620ece 0%,#620ece 4.9%,#340be2 9.8%,#0536fa 14.7%,#028ef4 21.2%,#01b7e4 25.2%,#01d1cb 29.1%,#0ae0a7 32.6%,#29ec7b 36.1%,#48f15a 39.1%,#57f34a 41.1%,#5df344 42.4%,#5ff342 43%,#5ff342 43.8%,#5ef343 44.2%,#5bf345 44.6%,#52f24f 46.7%,#3cf066 49.2%,#25eb80 52.2%,#02d4c4 62.2%,#00bee1 73.2%,#02a0ee 86.8%,#028ef4 100%)"></i><i style="background:linear-gradient(90deg,#620ece 0%,#620ece 5%,#340be2 9.9%,#0536fa 14.8%,#028ef4 21.4%,#01b7e4 25.3%,#01d1cb 29.3%,#0ae0a7 32.8%,#29ec7b 36.3%,#47f15a 39.3%,#56f24b 41.3%,#5cf345 42.6%,#5ef343 43.2%,#5ef343 44%,#5df344 44.4%,#5af346 44.8%,#51f250 46.8%,#3bf067 49.3%,#25eb80 52.3%,#02d4c4 62.4%,#00bee1 73.4%,#02a0ee 86.9%,#028ef4 100%)"></i><i style="background:linear-gradient(90deg,#620ece 0%,#620ece 5%,#340be2 10%,#0536fa 15%,#028ef4 21.5%,#01b7e4 25.5%,#01d1cb 29.4%,#0ae0a7 33%,#29ec7b 36.4%,#47f15a 39.5%,#56f24b 41.4%,#5bf345 42.8%,#5df343 43.4%,#5df343 44.1%,#5cf344 44.5%,#5af347 45%,#50f251 47%,#3af068 49.5%,#24eb81 52.5%,#02d4c4 62.5%,#00bee1 73.5%,#02a0ee 87%,#028ef4 100%)"></i></div>
<div class="p" style="left:413px;top:344px;width:169px;height:173px"><i style="background:linear-gradient(90deg,#02a6ec 0%,#01aaea 0.4%,#01b3e6 1%,#00bde2 2%,#00c3df 3%,#00c6dd 3.7%,#00c6dd 5.4%,#00c6de 6.7%,#00c4df 8%,#00bde2 12%,#01b4e6 16%,#02a8eb 21.9%,#0297f1 30%,#0281f8 50%,#026afc 75%,#0255fc 100%)"></i><i style="background:linear-gradient(90deg,#02a2ed 0%,#02a8eb 0.4%,#01b2e7 1%,#00bde2 2.1%,#00c4df 3.1%,#00c7dc 3.8%,#00c7dc 5.5%,#00c7dd 6.8%,#00c5df 8.1%,#00bee1 12%,#01b4e5 16%,#02a8eb 21.8%,#0298f1 30%,#0281f8 50%,#026afc 75%,#0254fc 100%)"></i><i style="background:linear-gradient(90deg,#029eef 0%,#02a5ec 0.4%,#01b0e7 1%,#00bde2 2.1%,#00c5de 3.2%,#00c7db 3.9%,#00c7db 5.6%,#00c7dc 6.8%,#00c6de 8.1%,#00bfe1 12%,#01b5e5 16%,#02a8eb 21.7%,#0298f1 30%,#0281f8 50%,#026bfc 75%,#0254fc 100%)"></i><i style="background:linear-gradient(90deg,#0299f0 0%,#02a3ed 0.4%,#01afe8 1%,#00bde2 2.1%,#00c6de 3.2%,#00c8db 4%,#00c8db 5.6%,#00c8db 6.9%,#00c6dd 8.1%,#00bfe1 12%,#01b5e5 16%,#02a8ea 21.6%,#0298f0 30%,#0282f8 50%,#026bfc 75%,#0253fc 100%)"></i><i style="background:linear-gradient(90deg,#0295f2 0%,#02a1ee 0.4%,#01ade8 1%,#00bde2 2.1%,#00c6dd 3.3%,#00c8da 3.7%,#00c8da 4.1%,#00c8da 4.5%,#00c8da 5.7%,#00c8da 6.9%,#00c7dd 8.1%,#00bfe1 12%,#01b5e5 16%,#02a9ea 21.5%,#0299f0 30%,#0282f7 50%,#026bfc 75%,#0253fc 100%)"></i><i style="background:linear-gradient(90deg,#0290f3 0%,#029eef 0.4%,#01ace9 1.1%,#00bde2 2.1%,#00c7dd 3.3%,#00c9da 3.8%,#00c9d9 4.2%,#00c9d9 4.6%,#00c9d9 5.8%,#00c9d9 7%,#00c7dc 8.1%,#00c0e1 12%,#01b5e5 16%,#02a9ea 21.3%,#0299f0 30%,#0283f7 50%,#026cfc 75%,#0252fc 100%)"></i><i style="background:linear-gradient(90deg,#028cf4 0%,#029cef 0.5%,#01aaea 1.1%,#00bde2 2.2%,#00c7dc 3.4%,#00c9d9 3.9%,#00cad8 4.3%,#00cad8 4.8%,#00cad8 5.9%,#00c9d8 7%,#00c8db 8.2%,#00c1e0 12%,#01b6e5 16%,#02a9ea 21.2%,#0299f0 30%,#0283f7 50%,#026cfc 75%,#0252fc 100%)"></i><i style="background:linear-gradient(90deg,#0288f6 0%,#029af0 0.5%,#02a9ea 1.1%,#00bee2 2.2%,#00c8db 3.5%,#00cad7 4%,#00cad6 4.4%,#00cad6 4.9%,#00cad6 6%,#00cad7 7.1%,#00c8da 8.2%,#00c2e0 12%,#01b6e5 16%,#01aaea 21.1%,#029af0 30%,#0284f7 50%,#026cfc 75%,#0252fc 100%)"></i><i style="background:linear-gradient(90deg,#0284f7 0%,#0299f0 0.5%,#02a8ea 1.1%,#00bee1 2.3%,#00c8da 3.6%,#01cbd6 4.1%,#01cbd5 4.6%,#01cbd5 5.1%,#01cbd5 6.2%,#01cbd6 7.2%,#00c9d8 8.3%,#00c3df 12%,#01b7e4 16%,#01aaea 21.1%,#029af0 30%,#0284f7 50%,#026dfc 75%,#0251fc 100%)"></i><i style="background:linear-gradient(90deg,#0280f8 0%,#0297f1 0.5%,#02a8eb 1.1%,#00bee1 2.4%,#00c9d8 3.8%,#01ccd4 4.3%,#01ccd3 4.8%,#01ccd3 5.3%,#01ccd3 6.3%,#01ccd4 7.3%,#00cad7 8.4%,#00c4df 12%,#01b8e4 16%,#01abe9 21%,#029bef 30%,#0285f7 50%,#026dfc 75%,#0251fc 100%)"></i><i style="background:linear-gradient(90deg,#027cf9 0%,#0297f1 0.6%,#02a8eb 1.2%,#00bee1 2.5%,#00cad6 4%,#01cdd2 4.5%,#01cdd1 5%,#01cdd1 5.5%,#01cdd1 6.5%,#01cdd2 7.5%,#01cbd5 8.5%,#00c6de 12%,#01bae3 16%,#01ace9 21%,#029def 30%,#0286f6 50%,#026efc 75%,#0251fc 100%)"></i><i style="background:linear-gradient(90deg,#0279fa 0%,#0298f1 0.7%,#02a9ea 1.3%,#00c0e1 2.7%,#01ccd4 4.3%,#01cecf 4.8%,#01cfce 5.3%,#01cfce 5.8%,#01cfce 6.8%,#01cecf 7.8%,#01ccd2 8.7%,#00c7dc 12.1%,#01bce2 16.1%,#01aee8 21.1%,#029eef 30%,#0287f6 49.9%,#026efc 75%,#0250fc 100%)"></i><i style="background:linear-gradient(90deg,#0276fb 0%,#0299f0 0.7%,#01abe9 1.5%,#00c2e0 2.9%,#01cdd1 4.6%,#01d0cd 5.1%,#01d0cc 5.6%,#01d0cc 6.1%,#01d0cc 7.1%,#01d0cc 8%,#01ced0 9%,#00c8da 12.3%,#00bee1 16.2%,#01b0e7 21.2%,#02a0ee 30.2%,#0288f6 49.8%,#026ffc 74.8%,#0250fc 100%)"></i><i style="background:linear-gradient(90deg,#0273fc 0%,#029cef 0.8%,#01afe8 1.7%,#00c6de 3.2%,#01cfce 5%,#01d1ca 5.5%,#01d2c9 6%,#01d2c9 6.5%,#01d2c9 7.4%,#01d2c9 8.4%,#01d0cd 9.3%,#00cad7 12.5%,#00c1e0 16.4%,#01b3e6 21.3%,#02a2ed 30.3%,#0289f5 49.5%,#0270fc 74.7%,#0250fc 100%)"></i><i style="background:linear-gradient(90deg,#0270fc 0%,#029eef 0.9%,#01b3e6 1.9%,#00c8db 3.6%,#01d1cb 5.4%,#01d3c6 5.9%,#02d4c5 6.4%,#02d4c5 6.9%,#02d4c5 7.8%,#01d3c6 8.8%,#01d1ca 9.7%,#01cbd5 12.9%,#00c4df 16.7%,#01b6e5 21.6%,#02a4ec 30.6%,#028af5 49.2%,#0270fc 74.4%,#0250fc 100%)"></i><i style="background:linear-gradient(90deg,#026dfc 0%,#02a1ee 1%,#01b8e4 2.2%,#00cad7 3.9%,#01d3c8 5.8%,#02d5c3 6.3%,#02d6c2 6.8%,#02d6c2 7.3%,#02d6c2 8.2%,#02d5c3 9.2%,#01d3c7 10.1%,#01cdd2 13.3%,#00c6dd 17.1%,#01b9e4 21.8%,#02a6eb 30.8%,#028bf5 48.9%,#0271fc 74.2%,#024ffc 100%)"></i><i style="background:linear-gradient(90deg,#026afc 0%,#02a3ed 1.1%,#00bee2 2.5%,#01cdd2 4.3%,#02d5c4 6.2%,#02d7bf 6.7%,#02d8be 7.2%,#02d8be 7.7%,#02d8be 8.6%,#02d7bf 9.6%,#02d5c4 10.6%,#01cfcf 13.7%,#00c8db 17.4%,#01bce2 22.1%,#02a8eb 31.1%,#028df4 48.6%,#0272fc 73.9%,#024ffc 100%)"></i><i style="background:linear-gradient(90deg,#0267fc 0%,#02a5ec 1.2%,#00c3df 2.8%,#01cfce 4.7%,#02d7c0 6.6%,#03d9bb 7.1%,#04daba 7.6%,#04daba 8.1%,#04daba 9%,#03d9bb 10%,#02d7c0 11%,#01d0cc 14.1%,#00c9d8 17.8%,#00bfe1 22.4%,#01aaea 31.4%,#028ef4 48.3%,#0272fc 73.6%,#024ffc 100%)"></i><i style="background:linear-gradient(90deg,#0264fc 0%,#02a7eb 1.3%,#00c7dd 3.1%,#01d1ca 5%,#03d9bd 7%,#05dbb7 7.5%,#05dbb5 8%,#05dbb5 8.5%,#05dbb5 9.5%,#05dbb7 10.4%,#03d9bc 11.5%,#01d2c9 14.5%,#01cbd5 18.1%,#00c2e0 22.7%,#01ace9 31.6%,#0290f3 48.1%,#0273fc 73.4%,#024ffc 100%)"></i><i style="background:linear-gradient(90deg,#0261fc 0%,#02a7eb 1.5%,#00c9d9 3.4%,#02d4c6 5.4%,#04dab8 7.4%,#06dcb2 7.9%,#07ddb1 8.3%,#07ddb1 8.8%,#07ddb1 9.8%,#06dcb2 10.8%,#04dab8 11.8%,#02d4c6 14.9%,#01cdd2 18.4%,#00c5de 22.9%,#01aee8 31.9%,#0291f3 48%,#0274fc 73.1%,#024ffc 100%)"></i><i style="background:linear-gradient(90deg,#025dfc 0%,#02a8eb 1.6%,#01cbd6 3.7%,#02d6c2 5.7%,#06dcb4 7.7%,#08deae 8.2%,#09dfac 8.7%,#09dfac 9.2%,#09dfac 10.2%,#08deae 11.2%,#06dcb4 12.2%,#02d6c2 15.2%,#01cecf 18.6%,#00c7dd 23.1%,#01b0e7 32.1%,#0293f2 48%,#0274fc 72.9%,#024efc 100%)"></i><i style="background:linear-gradient(90deg,#025afc 0%,#02a7eb 1.7%,#01cdd2 4%,#02d8bf 6%,#07ddaf 8.1%,#0ae0a9 8.6%,#0ae0a7 9.1%,#0ae0a7 9.6%,#0ae0a7 10.6%,#0ae0a9 11.6%,#07ddaf 12.6%,#02d7bf 15.5%,#01d0cc 18.9%,#00c8da 23.4%,#01b3e6 32.4%,#0295f2 48%,#0275fc 72.6%,#024efc 100%)"></i><i style="background:linear-gradient(90deg,#0257fc 0%,#02a8eb 1.9%,#01cecf 4.3%,#03d9ba 6.4%,#09dfaa 8.4%,#0ce2a4 8.9%,#0ce2a2 9.4%,#0ce2a2 10%,#0ce2a2 11%,#0ce2a4 11.9%,#09dfaa 12.9%,#03d9bb 15.8%,#01d2c9 19.1%,#00cad7 23.5%,#01b5e5 32.6%,#0297f1 48%,#0276fb 72.3%,#024efc 100%)"></i><i style="background:linear-gradient(90deg,#0254fc 0%,#02a7eb 2%,#01d0cb 4.6%,#05dbb5 6.7%,#0be1a5 8.8%,#0ee49e 9.3%,#0ee49d 9.8%,#0ee49d 10.3%,#0ee49d 11.3%,#0ee49f 12.3%,#0be1a5 13.3%,#05dbb7 16.1%,#02d4c5 19.3%,#01cbd5 23.8%,#01b7e4 32.8%,#029af0 48%,#0277fb 72%,#024dfc 100%)"></i><i style="background:linear-gradient(90deg,#0250fc 0%,#02a7eb 2.2%,#01d2c8 4.9%,#07ddb1 7%,#0de3a0 9.1%,#10e699 9.6%,#11e697 10.2%,#11e697 10.7%,#11e697 11.7%,#10e699 12.7%,#0de3a0 13.7%,#06dcb2 16.4%,#02d6c2 19.5%,#01cdd2 24%,#01bae3 33%,#029cef 48%,#0278fb 71.6%,#024dfc 100%)"></i><i style="background:linear-gradient(90deg,#024dfc 0%,#02a8eb 2.3%,#02d4c4 5.2%,#09dfac 7.4%,#0fe59b 9.4%,#15e793 10%,#17e890 10.5%,#17e890 11.1%,#17e890 12.1%,#15e793 13%,#0fe59b 14%,#08dead 16.7%,#02d8be 19.7%,#01cecf 24.2%,#01bce2 33.2%,#029fee 48%,#0279fa 71.3%,#024cfc 100%)"></i><i style="background:linear-gradient(90deg,#024afc 0%,#0281f8 1.4%,#02a8eb 2.5%,#02d6c1 5.5%,#0ae0a7 7.7%,#13e795 9.8%,#1be98c 10.3%,#1de989 10.9%,#1de989 11.5%,#1de989 12.4%,#1be98c 13.4%,#12e795 14.4%,#0ae0a9 17.1%,#04daba 19.9%,#01d0cc 24.4%,#00bfe1 33.4%,#02a1ee 48%,#027afa 71%,#024cfc 100%)"></i><i style="background:linear-gradient(90deg,#0247fc 0%,#0280f8 1.5%,#02a8eb 2.7%,#02d8be 5.9%,#0ce2a3 8.1%,#18e88e 10.1%,#21ea85 10.7%,#23eb82 11.2%,#23eb82 11.8%,#23eb82 12.8%,#21ea85 13.8%,#18e88f 14.7%,#0ce2a4 17.4%,#05dbb6 20.2%,#01d1ca 24.6%,#00c1e0 33.7%,#02a3ed 48%,#027bfa 70.7%,#024bfc 100%)"></i><i style="background:linear-gradient(90deg,#0243fc 0%,#024ffc 0.4%,#027ef9 1.6%,#02a8eb 2.9%,#00c8da 4.5%,#03d9bb 6.2%,#0ee49e 8.4%,#1ee988 10.4%,#27ec7d 11%,#29ec7b 11.6%,#2aec7b 12.2%,#29ec7b 13.2%,#27ec7d 14.1%,#1ee988 15.1%,#0de39f 17.7%,#06dcb2 20.4%,#01d2c8 24.9%,#00c3df 33.9%,#02a5ec 48%,#027bfa 70.5%,#024bfc 100%)"></i><i style="background:linear-gradient(90deg,#0240fc 0%,#024dfc 0.5%,#027ef9 1.8%,#02a8eb 3%,#00c9d9 4.8%,#04dab9 6.5%,#0fe59a 8.7%,#24eb81 10.7%,#2ded76 11.3%,#30ee74 12%,#30ee74 12.6%,#30ee74 13.5%,#2ded76 14.5%,#24eb81 15.5%,#0fe59b 18.1%,#08deae 20.7%,#01d3c6 25.2%,#00c4df 34.2%,#02a6eb 48%,#027cf9 70.2%,#024bfc 100%)"></i><i style="background:linear-gradient(90deg,#033cfb 0%,#024bfc 0.5%,#027df9 1.9%,#02a8eb 3.2%,#00c9d8 5%,#04dab7 6.8%,#12e796 9%,#2aec7b 11.1%,#33ee70 11.7%,#36ef6d 12.3%,#36ef6d 12.9%,#36ef6d 13.9%,#33ee70 14.9%,#2aec7b 15.9%,#12e696 18.4%,#09dfab 21%,#02d4c5 25.5%,#00c5de 34.5%,#02a7eb 48%,#027df9 70.1%,#024bfc 100%)"></i><i style="background:linear-gradient(90deg,#0438fa 0%,#024afc 0.6%,#027df9 2%,#02a8eb 3.4%,#00cad8 5.2%,#05dbb6 7.1%,#16e891 9.3%,#2fed75 11.3%,#39f069 12%,#3cf066 12.7%,#3cf066 13.3%,#3cf066 14.3%,#39f069 15.3%,#2fed75 16.3%,#16e791 18.8%,#0ae0a8 21.3%,#02d4c4 25.8%,#00c6de 34.8%,#02a8eb 48%,#027df9 70%,#024afc 100%)"></i><i style="background:linear-gradient(90deg,#0534f9 0%,#024afc 0.6%,#027df9 2.1%,#02a8eb 3.6%,#00cad8 5.5%,#05dbb6 7.3%,#1ae88c 9.6%,#34ef6f 11.6%,#3ff062 12.3%,#43f15f 13%,#43f15f 13.7%,#43f15f 14.7%,#40f062 15.7%,#34ef6f 16.7%,#1ae88c 19.2%,#0be1a6 21.7%,#02d4c4 26.2%,#00c6de 35.2%,#02a8eb 48%,#027df9 70%,#024afc 100%)"></i><i style="background:linear-gradient(90deg,#072ff8 0%,#024afc 0.7%,#027df9 2.3%,#02a8eb 3.8%,#00cad8 5.7%,#05dbb6 7.6%,#1ee988 9.9%,#3af068 11.9%,#46f15c 12.6%,#49f158 13.4%,#49f158 14.1%,#49f158 15.1%,#46f15c 16.1%,#3af068 17.2%,#1fea87 19.7%,#0be1a4 22.1%,#02d4c4 26.7%,#00c6de 35.6%,#02a7eb 48.1%,#027df9 70.1%,#024afc 100%)"></i><i style="background:linear-gradient(90deg,#082bf7 0%,#024afc 0.9%,#027df9 2.4%,#02a8eb 4%,#00cad8 5.9%,#05dbb6 7.8%,#22ea84 10.2%,#40f162 12.2%,#4df255 13%,#50f251 13.7%,#50f251 14.4%,#50f251 15.5%,#4cf255 16.6%,#40f162 17.6%,#23eb82 20.1%,#0ce2a3 22.6%,#02d4c4 27.2%,#00c6de 36%,#02a7eb 48.4%,#027cf9 70.2%,#024afc 100%)"></i><i style="background:linear-gradient(90deg,#0925f6 0%,#024afc 1%,#027df9 2.6%,#02a8eb 4.2%,#00cad8 6.1%,#05dbb6 8%,#25eb80 10.4%,#47f15b 12.5%,#53f24e 13.3%,#56f24a 14.1%,#57f24a 14.8%,#56f24a 15.9%,#53f24e 17%,#46f15b 18.1%,#28ec7d 20.6%,#0de3a1 23.1%,#02d4c5 27.7%,#00c5de 36.5%,#02a6eb 48.7%,#027cf9 70.3%,#024afc 100%)"></i><i style="background:linear-gradient(90deg,#0b20f4 0%,#024afc 1.2%,#027df9 2.8%,#02a8eb 4.4%,#00cad8 6.3%,#05dbb6 8.2%,#28ec7c 10.7%,#4df254 12.8%,#5af347 13.6%,#5df343 14.4%,#5df343 15.2%,#5df343 16.4%,#5af347 17.5%,#4cf255 18.6%,#2ced78 21.1%,#0de3a0 23.7%,#02d4c5 28.3%,#00c5df 37.1%,#02a6ec 49.1%,#027cfa 70.5%,#024afc 100%)"></i><i style="background:linear-gradient(90deg,#0d1af3 0%,#024afc 1.4%,#027df9 3%,#02a8eb 4.6%,#00cad8 6.5%,#05dbb6 8.4%,#2ced79 10.9%,#54f24d 13%,#61f340 13.9%,#64f43c 14.7%,#64f43c 15.6%,#64f43c 16.8%,#60f340 18%,#53f24e 19.1%,#30ee73 21.7%,#0ee49e 24.3%,#02d4c5 29%,#00c4df 37.7%,#02a5ec 49.6%,#027bfa 70.8%,#024afc 100%)"></i><i style="background:linear-gradient(90deg,#0e15f2 0%,#024afc 1.5%,#027df9 3.2%,#02a8eb 4.8%,#00cad8 6.7%,#05dbb6 8.6%,#2eed75 11.1%,#5bf346 13.2%,#68f438 14.2%,#6bf336 15.1%,#6cf336 16%,#6bf336 17.2%,#67f439 18.4%,#59f347 19.7%,#34ef6e 22.3%,#0ee49d 24.9%,#02d4c5 29.6%,#00c3df 38.3%,#02a4ec 50.1%,#027bfa 71%,#024afc 100%)"></i><i style="background:linear-gradient(90deg,#100ff0 0%,#024afc 1.8%,#027df9 3.4%,#02a8eb 5%,#00cad8 6.9%,#05dbb6 8.7%,#31ee72 11.3%,#62f33f 13.5%,#6ff333 14.5%,#73f231 15.4%,#73f231 16.4%,#73f231 17.7%,#6ff334 18.9%,#60f341 20.2%,#39f06a 22.9%,#0ee49c 25.6%,#02d4c5 30.3%,#00c3df 38.9%,#02a3ed 50.7%,#027afa 71.3%,#024afc 100%)"></i><i style="background:linear-gradient(90deg,#150eee 0%,#024afc 2%,#027df9 3.6%,#02a8eb 5.2%,#00cad8 7%,#05dbb6 8.9%,#34ef6f 11.5%,#69f438 13.7%,#77f22f 14.8%,#7bf12c 15.8%,#7bf12c 16.8%,#7bf12c 18.1%,#76f22f 19.4%,#66f43a 20.7%,#3df065 23.4%,#0fe59b 26.2%,#02d4c5 31.1%,#00c2e0 39.5%,#02a1ed 51.4%,#027afa 71.6%,#024afc 100%)"></i><i style="background:linear-gradient(90deg,#1a0dec 0%,#024afc 2.2%,#027df9 3.8%,#02a8eb 5.4%,#00cad8 7.2%,#05dbb6 9.1%,#36ef6c 11.7%,#70f333 14%,#7ff12a 15%,#82f028 16.1%,#83f028 17.2%,#82f028 18.6%,#7ef12b 19.9%,#6df335 21.3%,#41f161 24.1%,#0fe59b 26.9%,#02d4c5 31.8%,#00c1e0 40.2%,#02a0ee 52.1%,#0279fa 72%,#024afc 100%)"></i><i style="background:linear-gradient(90deg,#1f0dea 0%,#024afc 2.4%,#027df9 4%,#02a8eb 5.6%,#00cad8 7.4%,#05dbb6 9.2%,#39f069 11.9%,#77f22f 14.2%,#86ef25 15.3%,#8aef23 16.4%,#8aef23 17.6%,#8aef23 19%,#85ef26 20.4%,#74f231 21.9%,#45f15c 24.7%,#0fe59a 27.6%,#02d4c6 32.6%,#00c0e0 40.8%,#029fee 52.8%,#0279fb 72.3%,#024afc 100%)"></i><i style="background:linear-gradient(90deg,#240ce8 0%,#024afc 2.7%,#027df9 4.3%,#02a8eb 5.8%,#00cad8 7.6%,#05dbb6 9.4%,#15e793 10.8%,#3bf067 12.1%,#7ef12a 14.4%,#8eee21 15.6%,#92ee1e 16.8%,#92ee1e 18%,#91ee1e 19.4%,#8dee21 20.9%,#7af12d 22.4%,#49f158 25.3%,#0fe59a 28.3%,#02d4c6 33.3%,#00bfe1 41.5%,#029def 53.6%,#0278fb 72.7%,#024afc 100%)"></i><i style="background:linear-gradient(90deg,#2a0ce6 0%,#0c1df4 1.5%,#024bfc 2.9%,#027df9 4.5%,#02a8eb 6%,#00cad8 7.8%,#05dbb6 9.5%,#16e791 10.9%,#3df065 12.3%,#85f026 14.6%,#95ed1c 15.9%,#99ec1a 17.1%,#99ec1a 18.4%,#99ec1a 19.9%,#94ed1d 21.4%,#81f029 23%,#4df254 25.9%,#10e699 29%,#02d4c6 34.1%,#00bfe1 42.1%,#029cef 54.3%,#0277fb 73.1%,#024afc 100%)"></i><i style="background:linear-gradient(90deg,#2f0be4 0%,#0d1af3 1.6%,#024afc 3.2%,#027df9 4.7%,#02a8eb 6.3%,#00cad8 8%,#05dbb6 9.7%,#17e891 11.1%,#3ff063 12.5%,#8bef22 14.9%,#9cec18 16.2%,#9feb17 17.4%,#9feb17 18.7%,#9feb17 20.3%,#9bec19 21.9%,#87ef25 23.5%,#50f251 26.5%,#10e699 29.7%,#01d3c6 34.8%,#00bee1 42.8%,#029af0 55.1%,#0277fb 73.4%,#024afc 100%)"></i><i style="background:linear-gradient(90deg,#340be2 0%,#0e17f2 1.7%,#024afc 3.4%,#027df9 5%,#02a8eb 6.5%,#00cad8 8.2%,#05dbb6 9.8%,#17e88f 11.2%,#41f161 12.7%,#91ee1f 15.1%,#a1ea16 16.4%,#a5e915 17.8%,#a5e915 19.1%,#a5e915 20.8%,#a0eb17 22.4%,#8cee22 24%,#53f24d 27.1%,#10e698 30.3%,#01d3c6 35.5%,#00bde2 43.4%,#0299f0 55.8%,#0276fb 73.8%,#024afc 100%)"></i><i style="background:linear-gradient(90deg,#390ae0 0%,#0e14f1 1.8%,#024bfc 3.7%,#027df9 5.2%,#02a8eb 6.7%,#00cad8 8.3%,#05dbb7 10%,#18e88f 11.4%,#42f15f 12.9%,#96ed1c 15.3%,#a6e914 16.7%,#aae813 18.1%,#aae813 19.5%,#aae813 21.2%,#a5e915 22.9%,#92ee1e 24.6%,#56f24b 27.7%,#10e698 31%,#01d3c6 36.2%,#01bce2 44%,#0298f1 56.6%,#0276fb 74.2%,#024afc 100%)"></i><i style="background:linear-gradient(90deg,#3e0ade 0%,#0f11f1 1.9%,#024bfc 3.9%,#027df9 5.4%,#02a8eb 6.9%,#00cad8 8.5%,#05dbb6 10.1%,#19e88e 11.6%,#44f15e 13.1%,#9bec19 15.5%,#abe813 16.9%,#afe611 18.4%,#afe611 19.8%,#afe611 21.6%,#aae813 23.3%,#96ed1b 25.1%,#59f348 28.2%,#10e698 31.6%,#01d3c7 36.9%,#01bce2 44.6%,#0297f1 57.2%,#0275fc 74.5%,#024afc 100%)"></i><i style="background:linear-gradient(90deg,#420bdc 0%,#100ef0 2.1%,#024afc 4.1%,#027df9 5.6%,#02a8eb 7.1%,#00cad8 8.7%,#05dbb6 10.3%,#19e88d 11.8%,#45f15d 13.2%,#70f333 14.5%,#9eeb17 15.7%,#afe611 17.2%,#b4e510 18.7%,#b5e50f 20.2%,#b4e510 22%,#afe611 23.8%,#9bec19 25.6%,#5bf346 28.7%,#10e698 32.3%,#01d3c7 37.5%,#01bbe3 45.1%,#0296f1 57.9%,#0275fc 74.9%,#024afc 100%)"></i><i style="background:linear-gradient(90deg,#460bda 0%,#120eef 2.2%,#024bfc 4.4%,#027df9 5.9%,#02a8eb 7.3%,#00cad8 8.9%,#05dbb6 10.4%,#19e88d 11.9%,#46f15c 13.4%,#72f332 14.6%,#a1eb16 15.9%,#b4e510 17.4%,#b9e30e 19%,#b9e30e 20.5%,#b9e30e 22.4%,#b3e510 24.2%,#9eeb17 26.1%,#5cf344 29.3%,#10e698 32.9%,#01d3c7 38.1%,#01bbe3 45.7%,#0295f2 58.5%,#0274fc 75.2%,#024afc 100%)"></i><i style="background:linear-gradient(90deg,#4a0cd9 0%,#140eee 2.3%,#024afc 4.6%,#027df9 6.1%,#02a8eb 7.6%,#00cad8 9.1%,#05dbb6 10.6%,#1ae88d 12.1%,#46f15b 13.6%,#73f231 14.8%,#a2ea16 16.1%,#b8e40e 17.7%,#bee20c 19.2%,#bee20c 20.8%,#bee20c 22.8%,#b7e40f 24.7%,#a0eb16 26.6%,#5ef343 29.8%,#10e698 33.4%,#01d3c7 38.6%,#01bae3 46.1%,#0294f2 59.1%,#0274fc 75.5%,#024afc 100%)"></i><i style="background:linear-gradient(90deg,#4e0cd7 0%,#160dee 2.4%,#024bfc 4.8%,#027df9 6.3%,#02a8eb 7.8%,#00cad7 9.3%,#05dbb6 10.8%,#1ae88d 12.3%,#47f15b 13.8%,#74f231 15%,#a4ea15 16.3%,#bbe30d 17.9%,#c2e10b 19.5%,#c2e00b 21.2%,#c2e10b 23.1%,#bbe30d 25.1%,#a2ea16 27%,#5ff342 30.2%,#10e698 33.9%,#01d3c7 39.1%,#01bae3 46.6%,#0294f2 59.6%,#0274fc 75.7%,#024afc 100%)"></i><i style="background:linear-gradient(90deg,#520cd5 0%,#180ded 2.5%,#024bfc 5%,#027df9 6.5%,#02a8eb 8%,#00cad8 9.5%,#05dbb7 11%,#1ae88d 12.5%,#47f15b 14%,#74f230 15.2%,#a4ea15 16.5%,#bee20c 18.1%,#c5df09 19.8%,#c6df09 21.5%,#c5df09 23.5%,#bee20c 25.4%,#a4ea15 27.5%,#5ff342 30.6%,#10e698 34.3%,#01d3c7 39.6%,#01bae3 46.9%,#0294f2 60%,#0274fc 76%,#024afc 100%)"></i><i style="background:linear-gradient(90deg,#550dd4 0%,#1a0dec 2.6%,#024bfc 5.2%,#027df9 6.7%,#02a8eb 8.2%,#00cad8 9.7%,#05dbb6 11.2%,#1ae88d 12.7%,#47f15a 14.2%,#75f230 15.4%,#a4ea15 16.7%,#c1e10b 18.4%,#c8dd08 20.1%,#c8dd08 21.8%,#c8dd08 23.8%,#c1e10b 25.8%,#a5e915 27.9%,#5ff342 31%,#10e698 34.8%,#01d3c7 39.9%,#01bae3 47.3%,#0294f2 60.3%,#0274fc 76.2%,#024afc 100%)"></i><i style="background:linear-gradient(90deg,#580dd3 0%,#1b0dec 2.7%,#024afc 5.3%,#027df9 6.9%,#02a8eb 8.4%,#00cad8 9.9%,#05dbb6 11.4%,#1ae88d 12.9%,#47f15b 14.4%,#75f230 15.6%,#a4ea15 16.9%,#c4e00a 18.6%,#cadb08 20.3%,#cbdb07 22%,#cadb08 24.1%,#c4e00a 26.2%,#a6e915 28.2%,#5ff342 31.4%,#10e698 35.1%,#01d3c7 40.2%,#01bae3 47.6%,#0294f2 60.6%,#0274fc 76.4%,#024afc 100%)"></i><i style="background:linear-gradient(90deg,#5b0dd1 0%,#1d0deb 2.8%,#024afc 5.5%,#027df9 7%,#02a8eb 8.6%,#00cad8 10.1%,#05dbb6 11.6%,#1ae88c 13.1%,#47f15b 14.5%,#74f230 15.8%,#a4ea15 17%,#c6df09 18.8%,#cdd907 20.5%,#cdd906 22.3%,#cdd907 24.4%,#c6de09 26.5%,#a7e914 28.6%,#5ff342 31.8%,#10e698 35.5%,#01d3c7 40.5%,#01bae3 47.8%,#0294f2 60.8%,#0274fc 76.5%,#024afc 100%)"></i><i style="background:linear-gradient(90deg,#5e0ed0 0%,#1e0deb 2.8%,#024afc 5.7%,#027df9 7.2%,#02a8eb 8.8%,#00cad8 10.3%,#05dbb6 11.8%,#1ae88d 13.3%,#47f15b 14.7%,#75f230 16%,#a4ea15 17.2%,#c7de09 19%,#cfd706 20.8%,#d0d706 22.6%,#cfd706 24.7%,#c8dd09 26.9%,#a7e914 29%,#5ff342 32.1%,#10e698 35.8%,#01d3c7 40.8%,#01bae3 48.1%,#0294f2 61.1%,#0274fc 76.7%,#024afc 100%)"></i><i style="background:linear-gradient(90deg,#600ecf 0%,#200cea 2.9%,#024afc 5.8%,#027df9 7.4%,#02a8eb 9%,#00cad8 10.5%,#05dbb6 12.1%,#1ae88d 13.5%,#47f15b 14.9%,#75f230 16.2%,#a4ea15 17.4%,#c9dc08 19.2%,#d1d605 21%,#d2d505 22.8%,#d1d605 25%,#cadc08 27.2%,#a8e814 29.4%,#5ff341 32.4%,#10e698 36.1%,#01d3c7 41%,#01bae3 48.3%,#0294f2 61.3%,#0274fc 76.9%,#024afc 100%)"></i><i style="background:linear-gradient(90deg,#620ece 0%,#210ce9 3%,#024afc 6%,#027df9 7.6%,#02a8eb 9.2%,#00cad8 10.8%,#05dbb6 12.3%,#1ae88d 13.7%,#47f15b 15.1%,#74f230 16.3%,#a4ea15 17.5%,#cadb08 19.4%,#d3d404 21.2%,#d4d404 23.1%,#d4d404 25.3%,#cbdb07 27.5%,#a9e814 29.7%,#5ff342 32.7%,#36ef6d 34.6%,#10e698 36.4%,#01d3c7 41.2%,#01bae3 48.4%,#0294f2 61.4%,#0274fc 77%,#024afc 100%)"></i><i style="background:linear-gradient(90deg,#620ece 0%,#220ce9 3.1%,#024afc 6.2%,#027df9 7.8%,#02a8eb 9.4%,#00cad8 11%,#05dbb6 12.5%,#1ae88c 13.9%,#47f15a 15.3%,#75f230 16.5%,#a4ea15 17.7%,#cbda07 19.6%,#d6d303 21.4%,#d6d203 23.3%,#d6d203 25.6%,#cdd907 27.8%,#a9e813 30.1%,#5ff342 33%,#10e698 36.7%,#01d3c7 41.3%,#01bae3 48.6%,#0294f2 61.6%,#0274fc 77.2%,#024afc 100%)"></i><i style="background:linear-gradient(90deg,#620ece 0%,#240ce9 3.2%,#024afc 6.3%,#027df9 8%,#02a8eb 9.7%,#00cad8 11.2%,#05dbb6 12.8%,#1ae88c 14.1%,#47f15b 15.5%,#75f230 16.7%,#a4ea15 17.9%,#cdd907 19.8%,#d7d103 21.6%,#d8d002 23.5%,#d8d102 25.8%,#ced806 28.1%,#aae813 30.4%,#5ff342 33.3%,#10e698 37%,#01d3c7 41.4%,#01bae3 48.7%,#0294f2 61.7%,#0274fc 77.3%,#024afc 100%)"></i><i style="background:linear-gradient(90deg,#620ece 0%,#250ce8 3.2%,#024bfc 6.5%,#027df9 8.2%,#02a8eb 9.9%,#00cad8 11.4%,#05dbb6 13%,#1ae88d 14.3%,#47f15a 15.7%,#75f230 16.9%,#a4ea15 18%,#ced806 19.9%,#d9d002 21.9%,#dacf01 23.8%,#d9cf02 26.1%,#cfd706 28.4%,#aae813 30.8%,#5ff342 33.6%,#10e698 37.2%,#01d3c7 41.6%,#01bae3 48.8%,#0294f2 61.8%,#0274fc 77.5%,#024afc 100%)"></i><i style="background:linear-gradient(90deg,#620ece 0%,#260ce8 3.3%,#024afc 6.6%,#027df9 8.4%,#02a8eb 10.1%,#00cad8 11.7%,#05dbb6 13.2%,#1ae88d 14.5%,#47f15b 15.9%,#75f230 17%,#a4ea15 18.2%,#cfd806 20.1%,#dbce01 22%,#dccd01 24%,#dbce01 26.4%,#d1d605 28.7%,#abe813 31.1%,#5ff342 33.8%,#10e698 37.4%,#01d3c7 41.6%,#01bae3 48.9%,#0294f2 61.9%,#0274fc 77.6%,#024afc 100%)"></i><i style="background:linear-gradient(90deg,#620ece 0%,#270ce7 3.4%,#024afc 6.8%,#027df9 8.5%,#02a8eb 10.3%,#00cad8 11.9%,#05dbb6 13.5%,#1ae88c 14.8%,#47f15b 16%,#74f230 17.2%,#a4ea15 18.3%,#d0d705 20.3%,#ddcd00 22.2%,#decc00 24.2%,#ddcd00 26.6%,#d2d505 29%,#abe813 31.4%,#5ff342 34%,#10e698 37.6%,#01d3c7 41.7%,#01bae3 49%,#0294f2 62%,#0274fc 77.7%,#024afc 100%)"></i><i style="background:linear-gradient(90deg,#620ece 0%,#280ce7 3.5%,#024afc 6.9%,#027df9 8.7%,#02a8eb 10.5%,#00cad8 12.1%,#05dbb6 13.7%,#1ae88c 15%,#47f15b 16.2%,#75f230 17.3%,#a4ea15 18.5%,#d1d605 20.4%,#decc00 22.4%,#dfca00 24.4%,#decb00 26.8%,#d3d504 29.3%,#abe713 31.7%,#5ff342 34.3%,#10e698 37.8%,#01d3c7 41.8%,#01bae3 49%,#0294f2 62%,#0274fc 77.8%,#024afc 100%)"></i><i style="background:linear-gradient(90deg,#620ece 0%,#290ce6 3.5%,#024afc 7.1%,#027df9 8.9%,#02a8eb 10.7%,#00cad8 12.3%,#05dbb6 14%,#1ae88c 15.2%,#47f15a 16.4%,#75f230 17.5%,#a4ea15 18.6%,#d2d505 20.6%,#dfca00 22.6%,#e0c900 24.6%,#dfca00 27.1%,#d4d404 29.5%,#abe713 32%,#5ff342 34.5%,#10e698 38%,#01d3c7 41.9%,#01bae3 49.1%,#0294f2 62.1%,#0274fc 78%,#024afc 100%)"></i><i style="background:linear-gradient(90deg,#620ece 0%,#430bdc 2.4%,#110ef0 4.8%,#024afc 7.2%,#027df9 9.1%,#02a8eb 10.9%,#00cad8 12.6%,#05dbb6 14.2%,#1ae88d 15.4%,#47f15b 16.6%,#75f230 17.7%,#a4ea15 18.8%,#d3d504 20.8%,#e0c900 22.8%,#e0c700 24.8%,#e0c800 27.3%,#d5d303 29.8%,#abe713 32.3%,#5ff342 34.7%,#10e698 38.2%,#01d3c7 41.9%,#01bae3 49.2%,#0294f2 62.2%,#0274fc 78.1%,#024afc 100%)"></i><i style="background:linear-gradient(90deg,#620ece 0%,#440bdb 2.5%,#110ef0 4.9%,#024afc 7.4%,#027df9 9.2%,#02a8eb 11.1%,#00cad8 12.8%,#05dbb6 14.4%,#1ae88d 15.6%,#47f15a 16.8%,#75f230 17.8%,#a4ea15 18.9%,#d4d404 20.9%,#e1c700 23%,#e1c600 25%,#e1c700 27.5%,#d6d203 30%,#ace713 32.6%,#5ff342 34.9%,#10e698 38.4%,#01d3c7 41.9%,#01bae3 49.2%,#0294f2 62.2%,#0274fc 78.2%,#024afc 100%)"></i><i style="background:linear-gradient(90deg,#620ece 0%,#450bdb 2.5%,#120eef 5%,#024afc 7.5%,#027df9 9.4%,#02a8eb 11.3%,#00cad8 13%,#05dbb6 14.7%,#1ae88c 15.8%,#47f15b 16.9%,#74f230 18%,#a4ea15 19.1%,#d4d304 21.1%,#e1c600 23.2%,#e2c500 25.2%,#e1c600 27.8%,#d6d203 30.3%,#ace713 32.9%,#5ff342 35.1%,#10e698 38.6%,#01d3c7 42%,#01bae3 49.3%,#0294f2 62.3%,#0274fc 78.3%,#024afc 100%)"></i><i style="background:linear-gradient(90deg,#620ece 0%,#460bda 2.6%,#120eef 5.1%,#024bfc 7.7%,#027df9 9.6%,#02a8eb 11.5%,#00cad8 13.2%,#05dbb6 14.9%,#1ae88d 16%,#47f15b 17.1%,#75f230 18.1%,#a4ea15 19.2%,#d5d303 21.3%,#e2c500 23.3%,#e3c300 25.4%,#e2c500 28%,#d7d103 30.5%,#ace712 33.1%,#5ff341 35.3%,#10e698 38.7%,#01d3c7 42.1%,#01bae3 49.4%,#0294f2 62.4%,#0274fc 78.4%,#024afc 100%)"></i><i style="background:linear-gradient(90deg,#620ece 0%,#470bda 2.6%,#130eef 5.2%,#024afc 7.8%,#027df9 9.8%,#02a8eb 11.7%,#00cad8 13.4%,#05dbb6 15.1%,#1ae88d 16.2%,#47f15a 17.3%,#74f230 18.3%,#a4ea15 19.3%,#d6d203 21.4%,#e2c400 23.5%,#e3c200 25.6%,#e3c300 28.2%,#d8d102 30.8%,#ace712 33.4%,#5ff342 35.5%,#10e698 38.9%,#01d3c7 42.1%,#01bae3 49.4%,#0294f2 62.4%,#0274fc 78.5%,#024afc 100%)"></i><i style="background:linear-gradient(90deg,#620ece 0%,#490bd9 2.7%,#130eef 5.3%,#024afc 8%,#027df9 9.9%,#02a8eb 11.9%,#00cad8 13.6%,#05dbb6 15.3%,#1ae88d 16.4%,#47f15b 17.4%,#75f230 18.4%,#a4ea15 19.5%,#d6d203 21.6%,#e3c300 23.7%,#e4c100 25.8%,#e3c300 28.4%,#d9d002 31%,#ace712 33.6%,#5ff342 35.8%,#10e698 39.1%,#01d3c7 42.2%,#01bae3 49.5%,#0294f2 62.5%,#0274fc 78.6%,#024afc 100%)"></i><i style="background:linear-gradient(90deg,#620ece 0%,#4a0cd9 2.7%,#140eee 5.4%,#024afc 8.1%,#027df9 10.1%,#02a8eb 12%,#00cad8 13.8%,#05dbb6 15.5%,#1ae88d 16.6%,#47f15b 17.6%,#74f230 18.6%,#a4ea15 19.6%,#d7d203 21.7%,#e3c200 23.9%,#e4c000 26%,#e4c200 28.6%,#d9d002 31.2%,#ace712 33.9%,#5ff341 35.9%,#10e698 39.3%,#01d3c7 42.3%,#01bae3 49.6%,#0294f2 62.6%,#0274fc 78.7%,#024afc 100%)"></i><i style="background:linear-gradient(90deg,#620ece 0%,#4b0cd8 2.8%,#150eee 5.5%,#024afc 8.3%,#027df9 10.2%,#02a8eb 12.2%,#00cad8 14%,#05dbb6 15.7%,#1ae88c 16.7%,#47f15a 17.8%,#74f230 18.8%,#a4ea15 19.8%,#d7d103 21.9%,#e4c100 24%,#e5c000 26.2%,#e4c100 28.8%,#d9cf02 31.5%,#ace712 34.1%,#5ff342 36.2%,#10e698 39.5%,#01d3c7 42.4%,#01bae3 49.8%,#0294f2 62.7%,#0274fc 78.8%,#024afc 100%)"></i><i style="background:linear-gradient(90deg,#620ece 0%,#4c0cd8 2.8%,#150eee 5.6%,#024afc 8.4%,#027df9 10.4%,#02a8eb 12.4%,#00cad8 14.1%,#05dbb6 15.9%,#1ae88c 16.9%,#47f15b 17.9%,#75f230 18.9%,#a4ea15 19.9%,#d7d103 22.1%,#e4c000 24.2%,#e5bf00 26.4%,#e4c000 29%,#dacf02 31.7%,#ace712 34.4%,#5ff342 36.4%,#10e698 39.7%,#01d3c7 42.6%,#01bae3 49.9%,#0294f2 62.9%,#0274fc 78.9%,#024afc 100%)"></i><i style="background:linear-gradient(90deg,#620ece 0%,#4d0cd7 2.9%,#160dee 5.7%,#024afc 8.6%,#027df9 10.6%,#02a8eb 12.6%,#00cad8 14.3%,#05dbb6 16.1%,#1ae88d 17.1%,#47f15a 18.1%,#75f230 19.1%,#a4ea15 20.1%,#d8d102 22.2%,#e5c000 24.4%,#e5be00 26.6%,#e5c000 29.2%,#dacf01 31.9%,#ace712 34.6%,#5ff342 36.6%,#10e698 39.9%,#01d3c7 42.8%,#01bae3 50.1%,#0294f2 63.1%,#0274fc 79%,#024afc 100%)"></i><i style="background:linear-gradient(90deg,#620ece 0%,#4e0cd7 2.9%,#160dee 5.8%,#024afc 8.7%,#027df9 10.7%,#02a8eb 12.7%,#00cad8 14.5%,#05dbb7 16.2%,#1ae88c 17.2%,#47f15b 18.2%,#75f230 19.2%,#a4ea15 20.2%,#d8d102 22.4%,#e5bf00 24.6%,#e6be00 26.8%,#e5bf00 29.4%,#dacf01 32.1%,#ace712 34.8%,#5ff342 36.8%,#10e698 40.1%,#01d3c7 43%,#01bae3 50.2%,#0294f2 63.2%,#0274fc 79.1%,#024afc 100%)"></i><i style="background:linear-gradient(90deg,#620ece 0%,#4f0cd6 2.9%,#170ded 5.9%,#024afc 8.8%,#027df9 10.9%,#02a8eb 12.9%,#00cad8 14.6%,#05dbb6 16.4%,#1ae88c 17.4%,#47f15b 18.4%,#74f230 19.4%,#a4ea15 20.3%,#d8d002 22.6%,#e5bf00 24.8%,#e6bd00 27%,#e5bf00 29.6%,#dbcf01 32.3%,#ace712 35%,#5ff342 37%,#10e698 40.3%,#01d3c7 43.1%,#01bae3 50.4%,#0294f2 63.4%,#0274fc 79.2%,#024afc 100%)"></i><i style="background:linear-gradient(90deg,#620ece 0%,#500cd6 3%,#170ded 6%,#024afc 9%,#027df9 11%,#02a8eb 13%,#00cad8 14.8%,#05dbb6 16.5%,#1ae88c 17.5%,#47f15b 18.5%,#75f230 19.5%,#a4ea15 20.5%,#d8d002 22.7%,#e5bf00 24.9%,#e6bd00 27.2%,#e5bf00 29.8%,#dbcf01 32.5%,#ace712 35.2%,#5ff341 37.2%,#10e698 40.5%,#01d3c7 43.3%,#01bae3 50.6%,#0294f2 63.6%,#0274fc 79.3%,#024afc 100%)"></i><i style="background:linear-gradient(90deg,#620ece 0%,#510cd6 3%,#180ded 6.1%,#024afc 9.1%,#027df9 11.2%,#02a8eb 13.2%,#00cad8 14.9%,#05dbb6 16.7%,#1ae88c 17.7%,#47f15a 18.6%,#74f230 19.6%,#a4ea15 20.6%,#d8d002 22.9%,#e5bf00 25.1%,#e6bd00 27.4%,#e5be00 30%,#dbce01 32.7%,#ace712 35.4%,#5ff341 37.4%,#10e698 40.7%,#01d3c7 43.5%,#01bae3 50.8%,#0294f2 63.8%,#0274fc 79.4%,#024afc 100%)"></i><i style="background:linear-gradient(90deg,#620ece 0%,#520cd5 3.1%,#190ded 6.2%,#024afc 9.3%,#027df9 11.3%,#02a8eb 13.3%,#00cad8 15%,#05dbb6 16.8%,#1ae88c 17.8%,#47f15b 18.8%,#75f230 19.8%,#a4ea15 20.8%,#d8d002 23%,#e5bf00 25.3%,#e6bd00 27.6%,#e5be00 30.2%,#dbce01 32.9%,#ace712 35.6%,#5ff342 37.6%,#10e698 40.9%,#01d3c7 43.7%,#01bae3 51%,#0294f2 64%,#0274fc 79.5%,#024afc 100%)"></i><i style="background:linear-gradient(90deg,#620ece 0%,#530dd5 3.1%,#190ded 6.3%,#024bfc 9.4%,#027df9 11.4%,#02a8eb 13.4%,#00cad8 15.2%,#05dbb6 17%,#1ae88c 17.9%,#47f15b 18.9%,#75f230 19.9%,#a4ea15 20.9%,#d9d002 23.2%,#e5be00 25.5%,#e6bd00 27.7%,#e5be00 30.4%,#dbce01 33.1%,#ace712 35.8%,#5ff342 37.8%,#36ef6d 39.4%,#10e698 41%,#01d3c7 43.9%,#01bae3 51.2%,#0294f2 64.2%,#0274fc 79.6%,#024afc 100%)"></i><i style="background:linear-gradient(90deg,#620ece 0%,#540dd4 3.2%,#1a0dec 6.4%,#024afc 9.6%,#027df9 11.6%,#02a8eb 13.6%,#00cad8 15.3%,#05dbb6 17.1%,#1ae88c 18.1%,#47f15b 19.1%,#74f230 20.1%,#a4ea15 21.1%,#d9d002 23.4%,#e5be00 25.6%,#e6bd00 27.9%,#e5be00 30.6%,#dbce01 33.3%,#ace712 35.9%,#5ff341 37.9%,#10e698 41.2%,#01d3c7 44.1%,#01bae3 51.4%,#0294f2 64.4%,#0274fc 79.7%,#024afc 100%)"></i><i style="background:linear-gradient(90deg,#620ece 0%,#550dd4 3.2%,#1a0dec 6.5%,#024afc 9.7%,#027df9 11.7%,#02a8eb 13.7%,#00cad8 15.5%,#05dbb6 17.2%,#1ae88c 18.2%,#47f15b 19.2%,#74f230 20.2%,#a4ea15 21.2%,#d8d002 23.5%,#e5be00 25.8%,#e6bd00 28.1%,#e6be00 30.8%,#dbce01 33.5%,#ace712 36.1%,#5ff342 38.1%,#10e698 41.4%,#01d3c7 44.3%,#01bae3 51.6%,#0294f2 64.6%,#0274fc 79.8%,#024afc 100%)"></i><i style="background:linear-gradient(90deg,#620ece 0%,#560dd3 3.3%,#1b0dec 6.6%,#024bfc 9.9%,#027df9 11.9%,#02a8eb 13.9%,#00cad8 15.6%,#05dbb6 17.4%,#1ae88c 18.4%,#47f15a 19.4%,#75f230 20.4%,#a4ea15 21.4%,#d9d002 23.7%,#e5be00 26%,#e6bd00 28.3%,#e6be00 31%,#dbce01 33.6%,#ace712 36.3%,#5ff342 38.3%,#10e698 41.6%,#01d3c7 44.5%,#01bae3 51.8%,#0294f2 64.8%,#0274fc 79.9%,#024afc 100%)"></i><i style="background:linear-gradient(90deg,#620ece 0%,#570dd3 3.3%,#1b0dec 6.6%,#024afc 10%,#027df9 12%,#02a8eb 14%,#00cad8 15.7%,#05dbb6 17.5%,#1ae88d 18.5%,#47f15b 19.5%,#74f230 20.5%,#a4ea15 21.5%,#d9d002 23.8%,#e5be00 26.1%,#e6bc00 28.4%,#e6be00 31.1%,#dbce01 33.8%,#ace712 36.4%,#5ff342 38.5%,#10e698 41.8%,#01d3c7 44.6%,#01bae3 51.9%,#0294f2 65%,#0274fc 80%,#024afc 100%)"></i></div>
<div style="position:absolute;left:650px;top:137px;width:35px;height:220px;background:linear-gradient(180deg,#620ece 0%,#510cd5 2.5%,#3d0adf 5%,#280ce7 7.5%,#130eef 10%,#0a24f5 12.5%,#033dfb 15%,#0257fc 17.5%,#0271fc 20%,#0288f6 22.5%,#029eef 25%,#01b1e7 27.5%,#00c5df 30%,#01cecf 32.5%,#02d8bf 35%,#09dfac 37.5%,#10e699 40%,#24eb81 42.5%,#3af068 45%,#51f250 47.5%,#68f438 50%,#82f028 52.5%,#9cec18 55%,#b1e611 57.5%,#c4e00a 60%,#d2d605 62.5%,#decb00 65%,#e5be00 67.5%,#ecb100 70%,#f19d00 72.5%,#f68a00 75%,#fb7800 77.5%,#fe6500 80%,#f84b00 82.5%,#f13101 85%,#e81b07 87.5%,#df0710 90%,#da0328 92.5%,#d60040 95%,#d20059 97.5%,#d0006e 100%)"></div>
<svg id="ov" width="685" height="576" viewBox="0 0 685 576" font-family="'Liberation Serif',serif">
<defs>
<clipPath id="c00"><rect x="72.00" y="7.00" width="168.67" height="168.67"/></clipPath>
<clipPath id="c01"><rect x="240.67" y="7.00" width="168.66" height="168.67"/></clipPath>
<clipPath id="c02"><rect x="409.33" y="7.00" width="168.67" height="168.67"/></clipPath>
<clipPath id="c10"><rect x="72.00" y="175.67" width="168.67" height="168.66"/></clipPath>
<clipPath id="c11"><rect x="240.67" y="175.67" width="168.66" height="168.66"/></clipPath>
<clipPath id="c12"><rect x="409.33" y="175.67" width="168.67" height="168.66"/></clipPath>
<clipPath id="c20"><rect x="72.00" y="344.33" width="168.67" height="168.67"/></clipPath>
<clipPath id="c21"><rect x="240.67" y="344.33" width="168.66" height="168.67"/></clipPath>
<clipPath id="c22"><rect x="409.33" y="344.33" width="168.67" height="168.67"/></clipPath>
</defs>
<path fill="#ff7600" fill-opacity="0.2" d="M131.6 65.2L140 65L153.7 70L166 88L179 110L197 135L210 155L220 175.5L145.4 175.5Z"/>
<path clip-path="url(#c00)" stroke="#fffbe0" stroke-width="1.15" fill="none" d="M80.2 14.1 C81.2 18.0 83.6 27.6 85.8 37.6 C87.9 47.6 90.8 62.1 93.4 74.3 C95.9 86.5 98.6 99.2 101.0 110.9 C103.5 122.7 105.8 133.9 108.1 144.6 C110.3 155.2 113.7 170.0 114.8 175.1"/>
<path clip-path="url(#c00)" stroke="#fffdf0" stroke-width="1.7" fill="none" d="M85.8 11.6 C86.8 15.5 89.3 24.9 91.9 34.6 C94.4 44.2 98.0 58.0 101.0 69.7 C104.1 81.4 107.1 92.9 110.2 104.8 C113.2 116.8 116.3 129.8 119.4 141.5 C122.4 153.2 127.0 169.5 128.5 175.1"/>
<path clip-path="url(#c00)" stroke="#fffdf0" stroke-width="1.7" fill="none" d="M220.8 11.6 C221.7 12.9 224.4 16.2 226.3 19.3 C228.2 22.3 230.2 26.3 232.4 30.0 C234.6 33.6 238.3 39.4 239.4 41.3"/>
<path clip-path="url(#c00)" stroke="#000" stroke-width="1.8" fill="none" d="M232.5 167.5L248.9 183.9M248.9 167.5L232.5 183.9"/>
<path clip-path="url(#c01)" stroke="#fffbe0" stroke-width="1.15" fill="none" d="M252.2 11.6 C253.0 16.0 255.0 27.2 256.8 37.6 C258.6 48.1 260.6 61.0 262.9 74.3 C265.2 87.5 268.2 104.3 270.6 117.1 C272.9 129.8 275.2 140.9 277.3 150.7 C279.3 160.4 281.9 171.5 282.8 175.7"/>
<path clip-path="url(#c01)" stroke="#fffdf0" stroke-width="1.7" fill="none" d="M255.9 11.6 C256.7 16.0 258.8 27.2 260.8 37.6 C262.7 48.1 265.1 61.5 267.5 74.3 C269.9 87.0 272.6 101.3 275.1 114.0 C277.7 126.7 280.5 140.4 282.8 150.7 C285.1 161.0 287.9 171.5 288.9 175.7"/>
<path clip-path="url(#c01)" stroke="#fffdf0" stroke-width="1.7" fill="none" d="M278.2 11.6 C280.2 16.0 286.3 27.2 290.4 37.6 C294.5 48.1 298.6 61.0 302.6 74.3 C306.7 87.5 311.4 104.3 314.9 117.1 C318.3 129.8 320.8 140.9 323.1 150.7 C325.4 160.4 327.7 171.5 328.6 175.7"/>
<path clip-path="url(#c01)" stroke="#fffbe0" stroke-width="1.15" fill="none" d="M293.5 11.6 C295.5 15.5 301.3 24.1 305.7 34.6 C310.1 45.0 315.5 60.5 320.1 74.3 C324.6 88.0 329.7 104.8 333.2 117.1 C336.7 129.3 338.8 137.8 340.8 147.6 C342.9 157.4 344.7 171.0 345.4 175.7"/>
<path clip-path="url(#c01)" stroke="#000" stroke-width="1.5" fill="none" stroke-linejoin="round" d="M269.6 40.7 C270.0 40.5 270.7 40.7 271.5 42.2 C272.2 43.7 273.1 46.5 274.2 49.8 C275.3 53.1 276.9 58.0 278.2 62.1 C279.5 66.1 281.3 70.6 282.2 74.3 C283.0 77.9 283.4 82.1 283.4 84.1 C283.4 86.0 282.8 86.8 282.2 85.9 C281.6 85.0 280.7 81.6 279.7 78.9 C278.7 76.2 277.2 73.0 276.1 69.7 C274.9 66.4 273.9 62.3 273.0 59.0 C272.1 55.7 271.2 52.5 270.6 49.8 C269.9 47.2 269.5 44.6 269.3 43.1 C269.2 41.6 269.3 40.8 269.6 40.7Z"/>
<path clip-path="url(#c01)" stroke="#000" stroke-width="1.8" fill="none" d="M283.1 49.4L299.5 65.8M299.5 49.4L283.1 65.8"/>
<path clip-path="url(#c02)" stroke="#fffbe0" stroke-width="1.15" fill="none" d="M423.0 11.7 C425.1 15.3 431.5 25.8 435.4 33.6 C439.3 41.4 443.0 50.0 446.4 58.6 C449.8 67.2 452.8 76.1 455.5 85.0 C458.2 93.9 460.3 102.8 462.5 112.0 C464.7 121.2 466.8 132.0 468.5 140.0 C470.2 148.0 471.8 153.8 473.0 160.0 C474.2 166.2 475.3 174.2 475.8 177.0"/>
<path clip-path="url(#c02)" stroke="#fffdf0" stroke-width="1.7" fill="none" d="M417.5 13.2 C419.4 17.4 425.7 30.1 429.2 38.2 C432.7 46.3 435.8 53.6 438.6 61.7 C441.4 69.8 443.8 78.1 446.0 87.0 C448.2 95.9 450.1 105.3 452.0 115.0 C453.9 124.7 455.8 134.7 457.5 145.0 C459.2 155.3 461.2 171.7 462.0 177.0"/>
<path clip-path="url(#c02)" stroke="#fffdf0" stroke-width="1.7" fill="none" d="M417.2 55.3 C417.6 60.0 418.5 72.6 419.7 83.4 C420.8 94.2 422.3 108.9 423.9 120.1 C425.6 131.3 427.8 141.2 429.4 150.7 C431.1 160.1 433.3 172.3 434.0 176.6"/>
<path clip-path="url(#c02)" stroke="#fffbe0" stroke-width="1.15" fill="none" d="M416.3 66.6 C416.6 71.0 417.2 82.7 418.1 92.6 C419.1 102.5 420.4 116.0 421.8 126.2 C423.2 136.4 424.9 145.3 426.4 153.7 C427.9 162.1 430.2 172.8 431.0 176.6"/>
<path clip-path="url(#c02)" stroke="#000" stroke-width="1.5" fill="none" stroke-linejoin="round" d="M421.8 55.3 C422.0 54.8 423.2 57.4 423.9 59.0 C424.7 60.6 425.6 62.3 426.4 65.1 C427.2 67.9 428.1 72.9 428.5 75.8 C428.9 78.8 429.2 81.4 428.8 82.8 C428.5 84.3 427.0 85.3 426.4 84.4 C425.8 83.4 425.5 79.8 425.2 77.3 C424.9 74.9 425.0 72.2 424.6 69.7 C424.1 67.1 423.2 64.4 422.7 62.1 C422.3 59.7 421.6 55.8 421.8 55.3Z"/>
<path clip-path="url(#c02)" stroke="#000" stroke-width="1.8" fill="none" d="M451.7 167.5L468.1 183.9M468.1 167.5L451.7 183.9"/>
<path clip-path="url(#c10)" stroke="#fffbe0" stroke-width="1.15" fill="none" d="M163.7 179.6 C164.2 183.5 165.2 193.6 166.7 202.6 C168.2 211.5 170.3 221.4 172.8 233.1 C175.4 244.8 178.9 260.1 182.0 272.8 C185.1 285.6 188.4 297.5 191.2 309.5 C194.0 321.5 197.5 338.8 198.8 344.6"/>
<path clip-path="url(#c10)" stroke="#fffbe0" stroke-width="1.15" fill="none" d="M191.2 180.5 C193.1 182.9 199.4 190.2 202.9 195.3 C206.4 200.4 209.1 205.7 212.2 210.9 C215.4 216.1 218.5 221.1 221.6 226.6 C224.8 232.0 227.7 238.0 231.0 243.8 C234.3 249.5 239.5 258.1 241.2 260.9"/>
<path clip-path="url(#c10)" stroke="#fffdf0" stroke-width="1.7" fill="none" d="M239.4 279.6 C238.3 277.7 234.9 272.1 232.4 268.2 C230.0 264.4 227.5 260.9 224.8 256.6 C222.1 252.4 218.9 247.3 216.2 242.9 C213.5 238.5 211.0 234.2 208.6 230.1 C206.2 225.9 204.0 221.5 201.9 217.8 C199.7 214.2 197.8 210.3 195.8 208.1 C193.7 205.8 191.9 204.2 189.6 204.1 C187.3 203.9 183.9 205.4 182.0 207.1 C180.1 208.9 178.7 210.4 178.3 214.8 C177.9 219.1 178.4 225.0 179.6 233.1 C180.7 241.3 182.6 252.5 185.1 263.7 C187.5 274.9 191.3 289.1 194.2 300.3 C197.2 311.5 200.7 323.5 202.8 330.9 C204.8 338.3 205.8 342.3 206.4 344.6"/>
<path clip-path="url(#c10)" stroke="#000" stroke-width="1.5" fill="none" stroke-linejoin="round" d="M211.6 344.6 C211.0 341.3 209.2 331.7 208.0 324.8 C206.7 317.9 205.0 310.0 204.0 303.4 C203.0 296.8 202.3 290.1 201.9 285.1 C201.4 280.0 201.0 275.5 201.2 272.8 C201.5 270.1 201.2 269.6 203.4 268.9 C205.5 268.1 211.6 267.8 214.1 268.2 C216.5 268.7 216.3 268.5 218.1 271.3 C219.8 274.1 222.4 280.2 224.8 285.1 C227.2 289.9 229.6 295.0 232.4 300.3 C235.2 305.7 240.1 314.3 241.6 317.1"/>
<path clip-path="url(#c10)" stroke="#000" stroke-width="1.8" fill="none" d="M232.5 336.1L248.9 352.5M248.9 336.1L232.5 352.5"/>
<path clip-path="url(#c11)" stroke="#fffbe0" stroke-width="1.15" fill="none" d="M273.5 187.9 C274.8 186.6 277.3 186.8 279.2 187.9 C281.1 189.0 282.8 191.1 284.8 194.7 C286.9 198.3 289.4 203.5 291.6 209.4 C293.9 215.2 296.1 222.2 298.4 229.7 C300.6 237.2 303.5 246.6 305.2 254.5 C306.9 262.4 307.9 270.7 308.5 277.1 C309.2 283.5 309.4 289.3 309.2 292.9 C309.0 296.5 308.3 298.9 307.4 298.5 C306.6 298.2 305.7 295.3 304.0 290.6 C302.3 285.9 299.7 277.5 297.3 270.3 C294.8 263.2 292.0 255.3 289.4 247.7 C286.7 240.2 283.9 231.9 281.5 225.2 C279.0 218.4 276.3 212.0 274.7 207.1 C273.1 202.2 271.9 199.0 271.7 195.8 C271.6 192.6 272.3 189.2 273.5 187.9Z"/>
<path clip-path="url(#c11)" stroke="#fffdf0" stroke-width="1.7" fill="none" d="M275.4 196.9 C276.3 195.9 278.6 195.3 280.3 196.3 C282.1 197.2 283.9 198.9 286.0 202.6 C288.0 206.3 290.7 212.7 292.7 218.4 C294.8 224.0 296.9 230.4 298.4 236.5 C299.9 242.5 301.3 249.8 301.8 254.5 C302.2 259.2 301.6 262.5 301.1 264.7 C300.6 266.9 299.9 267.8 298.8 267.6 C297.8 267.4 296.6 266.9 295.0 263.5 C293.4 260.2 291.4 253.4 289.4 247.7 C287.3 242.1 284.7 235.3 282.6 229.7 C280.5 224.0 278.3 218.4 276.9 213.9 C275.6 209.4 274.9 205.4 274.7 202.6 C274.4 199.8 274.4 198.0 275.4 196.9Z"/>
<path clip-path="url(#c11)" stroke="#000" stroke-width="1.5" fill="none" stroke-linejoin="round" d="M281.5 211.7 L284.9 211.2 L287.8 214.8 L289.3 220.3 L290.9 226.6 L292.4 232.0 L291.7 236.7 L289.3 237.5 L286.2 235.2 L284.3 229.7 L282.8 223.4 L281.5 217.2Z"/>
<path clip-path="url(#c11)" stroke="#000" stroke-width="1.5" fill="none" stroke-linejoin="round" d="M282.8 223.4 L287.0 221.9 L289.3 220.3"/>
<path clip-path="url(#c11)" stroke="#000" stroke-width="1.8" fill="none" d="M283.1 218.1L299.5 234.5M299.5 218.1L283.1 234.5"/>
<path clip-path="url(#c12)" stroke="#fffbe0" stroke-width="1.15" fill="none" d="M451.2 344.6 C450.8 341.5 449.5 332.3 448.6 326.4 C447.8 320.4 447.0 315.1 446.0 309.0 C445.1 302.9 443.7 295.7 442.9 289.9 C442.1 284.1 441.4 278.1 441.2 274.3 C440.9 270.5 441.0 268.9 441.3 267.4 C441.7 265.8 442.6 265.1 443.4 265.3 C444.2 265.4 444.7 266.1 446.0 268.2 C447.3 270.3 449.4 273.3 451.2 277.8 C453.1 282.2 455.4 289.3 457.3 295.1 C459.2 300.9 461.1 307.0 462.5 312.5 C464.0 318.0 464.9 322.7 466.0 328.1 C467.1 333.4 468.4 341.8 468.9 344.6"/>
<path clip-path="url(#c12)" stroke="#fffdf0" stroke-width="1.7" fill="none" d="M453.3 344.6 C453.0 341.5 452.0 332.3 451.2 326.4 C450.5 320.4 449.5 314.5 448.6 309.0 C447.8 303.5 446.5 297.4 446.0 293.4 C445.5 289.3 445.5 286.6 445.7 284.7 C445.9 282.8 446.6 282.0 447.4 282.1 C448.2 282.2 449.2 283.1 450.4 285.6 C451.6 288.0 453.3 292.4 454.7 296.9 C456.2 301.3 457.6 307.3 459.0 312.5 C460.5 317.7 462.2 322.7 463.4 328.1 C464.6 333.4 465.8 341.8 466.3 344.6"/>
<path clip-path="url(#c12)" stroke="#000" stroke-width="1.5" fill="none" stroke-linejoin="round" d="M454.7 344.6 C454.9 343.0 455.3 337.8 455.6 335.0 C455.9 332.3 456.1 330.0 456.4 328.1 C456.8 326.2 457.3 324.5 457.8 323.8 C458.4 323.0 459.2 323.0 459.6 323.8 C460.0 324.5 460.1 326.2 460.3 328.1 C460.5 330.0 460.3 332.3 460.8 335.0 C461.2 337.8 462.7 343.0 463.0 344.6"/>
<path clip-path="url(#c12)" stroke="#000" stroke-width="1.8" fill="none" d="M451.7 336.1L468.1 352.5M468.1 336.1L451.7 352.5"/>
<path clip-path="url(#c20)" stroke="#fffbe0" stroke-width="1.15" fill="none" d="M235.1 506.3 C234.3 505.3 232.3 504.2 230.2 500.6 C228.0 497.1 224.9 490.9 222.3 484.8 C219.6 478.8 216.8 471.3 214.4 464.5 C211.9 457.7 209.5 451.0 207.6 444.2 C205.7 437.4 203.9 429.1 203.1 423.9 C202.2 418.6 201.5 415.4 202.6 412.6 C203.7 409.8 207.9 407.5 209.8 406.9 C211.8 406.4 212.5 407.1 214.4 409.2 C216.2 411.3 218.9 415.0 221.1 419.4 C223.4 423.7 225.8 430.3 227.9 435.2 C230.0 440.1 232.1 445.1 233.5 448.7 C235.0 452.3 236.0 455.3 236.5 456.6"/>
<path clip-path="url(#c20)" stroke="#fffdf0" stroke-width="1.7" fill="none" d="M236.5 496.1 C235.4 494.6 232.5 491.6 230.2 487.1 C227.8 482.6 224.7 475.1 222.3 469.0 C219.8 463.0 217.4 456.6 215.5 451.0 C213.6 445.3 211.6 438.7 211.0 435.2 C210.3 431.6 210.3 431.0 211.6 429.5 C213.0 428.0 216.7 425.6 218.9 426.1 C221.0 426.7 222.4 429.5 224.5 432.9 C226.6 436.3 229.1 441.7 231.3 446.5 C233.4 451.2 236.4 458.7 237.4 461.1"/>
<path clip-path="url(#c20)" stroke="#000" stroke-width="1.8" fill="none" d="M232.5 504.8L248.9 521.2M248.9 504.8L232.5 521.2"/>
<path clip-path="url(#c21)" stroke="#fffbe0" stroke-width="1.15" fill="none" d="M278.2 359.0 C279.0 359.0 280.4 359.9 281.3 360.8 C282.1 361.7 282.3 362.6 283.1 364.4 C283.9 366.3 285.2 369.5 286.1 371.7 C287.0 373.9 288.1 376.0 288.5 377.8 C289.0 379.6 289.1 381.2 288.9 382.7 C288.7 384.1 288.0 386.1 287.3 386.3 C286.7 386.5 285.9 385.3 284.9 383.9 C283.9 382.4 282.4 380.0 281.3 377.8 C280.1 375.6 279.0 372.7 278.2 370.5 C277.5 368.3 277.1 366.1 276.8 364.4 C276.5 362.8 276.2 361.7 276.4 360.8 C276.6 359.9 277.4 359.0 278.2 359.0Z"/>
<path clip-path="url(#c21)" stroke="#fffbe0" stroke-width="1.15" fill="none" d="M279.4 366.9 C280.0 366.8 281.4 367.7 282.5 369.3 C283.6 370.9 285.3 374.4 286.1 376.6 C286.9 378.8 287.5 381.8 287.3 382.7 C287.1 383.5 285.9 382.7 284.9 381.4 C283.9 380.2 282.3 377.3 281.3 375.4 C280.2 373.4 279.1 371.3 278.8 369.9 C278.5 368.5 278.8 367.0 279.4 366.9Z"/>
<path clip-path="url(#c21)" stroke="#000" stroke-width="1.8" fill="none" d="M283.1 386.7L299.5 403.1M299.5 386.7L283.1 403.1"/>
<path clip-path="url(#c22)" fill="#fff7c0" fill-opacity="0.45" stroke="#fff" stroke-width="1" d="M458.4 500.5 L464.5 506.0 L459.9 511.5Z"/>
<path clip-path="url(#c22)" stroke="#000" stroke-width="1.8" fill="none" d="M451.7 504.8L468.1 521.2M468.1 504.8L451.7 521.2"/>
<g stroke="#000" stroke-width="1" fill="none" shape-rendering="crispEdges">
<path d="M72.5 7.5V513.5" stroke="#8c8c8c"/>
<path d="M240.5 7.5V513.5M409.5 7.5V513.5"/>
<path d="M72 7.5H578.5" stroke="#4a3a10"/>
<path d="M72 344.5H578.5" stroke-opacity="0.45"/>
<path d="M72 7.5h4.5M72 24.5h4.5M72 41.5h4.5M72 58.5h4.5M72 74.5h4.5M72 91.5h4.5M72 108.5h4.5M72 125.5h4.5M72 142.5h4.5M72 159.5h4.5M72 176.5h4.5M72 193.5h4.5M72 209.5h4.5M72 226.5h4.5M72 243.5h4.5M72 260.5h4.5M72 277.5h4.5M72 294.5h4.5M72 311.5h4.5M72 327.5h4.5M72 344.5h4.5M72 361.5h4.5M72 378.5h4.5M72 395.5h4.5M72 412.5h4.5M72 429.5h4.5M72 446.5h4.5M72 462.5h4.5M72 479.5h4.5M72 496.5h4.5M72 513.5h4.5" stroke="#555"/>
<path d="M240 7.5h4.5M240 24.5h4.5M240 41.5h4.5M240 58.5h4.5M240 74.5h4.5M240 91.5h4.5M240 108.5h4.5M240 125.5h4.5M240 142.5h4.5M240 159.5h4.5M240 176.5h4.5M240 193.5h4.5M240 209.5h4.5M240 226.5h4.5M240 243.5h4.5M240 260.5h4.5M240 277.5h4.5M240 294.5h4.5M240 311.5h4.5M240 327.5h4.5M240 344.5h4.5M240 361.5h4.5M240 378.5h4.5M240 395.5h4.5M240 412.5h4.5M240 429.5h4.5M240 446.5h4.5M240 462.5h4.5M240 479.5h4.5M240 496.5h4.5M240 513.5h4.5M409 7.5h4.5M409 24.5h4.5M409 41.5h4.5M409 58.5h4.5M409 74.5h4.5M409 91.5h4.5M409 108.5h4.5M409 125.5h4.5M409 142.5h4.5M409 159.5h4.5M409 176.5h4.5M409 193.5h4.5M409 209.5h4.5M409 226.5h4.5M409 243.5h4.5M409 260.5h4.5M409 277.5h4.5M409 294.5h4.5M409 311.5h4.5M409 327.5h4.5M409 344.5h4.5M409 361.5h4.5M409 378.5h4.5M409 395.5h4.5M409 412.5h4.5M409 429.5h4.5M409 446.5h4.5M409 462.5h4.5M409 479.5h4.5M409 496.5h4.5M409 513.5h4.5" stroke-opacity="0.8"/>
</g>
<g font-size="20.5" fill="#2a2a2a" stroke="#fff" stroke-width="0.5" paint-order="stroke">
<text x="49.5" y="14.6" textLength="7.0" lengthAdjust="spacingAndGlyphs">1</text>
<text x="28.5" y="99.6" textLength="30.5" lengthAdjust="spacingAndGlyphs">0.5</text>
<text x="48.0" y="183.3" textLength="11.5" lengthAdjust="spacingAndGlyphs">0</text>
<text x="28.5" y="267.2" textLength="30.5" lengthAdjust="spacingAndGlyphs">0.5</text>
<text x="48.0" y="352.0" textLength="11.5" lengthAdjust="spacingAndGlyphs">0</text>
<text x="28.5" y="436.0" textLength="30.5" lengthAdjust="spacingAndGlyphs">0.5</text>
<text x="48.0" y="520.5" textLength="11.5" lengthAdjust="spacingAndGlyphs">0</text>
<text x="66.5" y="538.6" textLength="11.5" lengthAdjust="spacingAndGlyphs">0</text>
<text x="141.5" y="538.6" textLength="30.5" lengthAdjust="spacingAndGlyphs">0.5</text>
<text x="235.0" y="538.6" textLength="11.5" lengthAdjust="spacingAndGlyphs">0</text>
<text x="309.7" y="538.6" textLength="30.5" lengthAdjust="spacingAndGlyphs">0.5</text>
<text x="403.8" y="538.6" textLength="11.5" lengthAdjust="spacingAndGlyphs">0</text>
<text x="478.5" y="538.6" textLength="30.5" lengthAdjust="spacingAndGlyphs">0.5</text>
<text x="575.0" y="538.6" textLength="7.0" lengthAdjust="spacingAndGlyphs">1</text>
</g>
<g font-size="18" fill="#2a2a2a" stroke="#fff" stroke-width="0.5" paint-order="stroke">
<text x="611.6" y="146.0" textLength="20" lengthAdjust="spacingAndGlyphs">10</text><text x="632.5" y="141.6" font-size="12" textLength="6.8" lengthAdjust="spacingAndGlyphs">4</text>
<text x="611.6" y="189.3" textLength="20" lengthAdjust="spacingAndGlyphs">10</text><text x="632.5" y="184.9" font-size="12" textLength="6.8" lengthAdjust="spacingAndGlyphs">3</text>
<text x="611.6" y="232.5" textLength="20" lengthAdjust="spacingAndGlyphs">10</text><text x="632.5" y="228.1" font-size="12" textLength="6.8" lengthAdjust="spacingAndGlyphs">2</text>
<text x="619" y="275.5" textLength="20" lengthAdjust="spacingAndGlyphs">10</text>
<text x="631.5" y="318.5" textLength="6.5" lengthAdjust="spacingAndGlyphs">1</text>
<text x="611.5" y="361.5" textLength="27" lengthAdjust="spacingAndGlyphs">0.1</text>
<text x="644" y="107" font-size="20" font-style="italic">χ</text><text x="655" y="101.5" font-size="11.5">2</text>
</g>
<g font-weight="bold" fill="#111">
<text x="314" y="569.3" font-size="20.5">Ω</text><text x="329.8" y="576" font-size="12.5">0</text>
<g transform="translate(14,270) rotate(-90)"><text x="0" y="0" font-size="21">λ</text><text x="15" y="7" font-size="12.5">0</text></g>
</g>
<g font-size="21" fill="#101800">
<text x="465.4" y="40.2" textLength="15.2" lengthAdjust="spacingAndGlyphs">N</text>
<text x="483" y="40.2" textLength="12.8" lengthAdjust="spacingAndGlyphs" fill="#fff" fill-opacity="0.55">=</text>
<text x="499.8" y="40.2" textLength="10.5" lengthAdjust="spacingAndGlyphs" fill="#000" stroke="#000" stroke-width="0.55">5</text><text x="514.5" y="42.8" font-size="25" textLength="13" lengthAdjust="spacingAndGlyphs" fill="#000" stroke="#000" stroke-width="0.4">×</text><text x="532.5" y="40.2" textLength="22.5" lengthAdjust="spacingAndGlyphs" fill="#000" stroke="#000" stroke-width="0.55">10</text>
<text x="557.8" y="34.0" font-size="11.5" textLength="8" lengthAdjust="spacingAndGlyphs" fill="#000" stroke="#000" stroke-width="0.5">3</text>
<text x="465.4" y="209.0" textLength="15.2" lengthAdjust="spacingAndGlyphs">N</text>
<text x="483" y="209.0" textLength="12.8" lengthAdjust="spacingAndGlyphs" fill="#fff" fill-opacity="0.55">=</text>
<text x="499.8" y="209.0" textLength="10.5" lengthAdjust="spacingAndGlyphs" fill="#000" stroke="#000" stroke-width="0.55">5</text><text x="514.5" y="211.6" font-size="25" textLength="13" lengthAdjust="spacingAndGlyphs" fill="#000" stroke="#000" stroke-width="0.4">×</text><text x="532.5" y="209.0" textLength="22.5" lengthAdjust="spacingAndGlyphs" fill="#000" stroke="#000" stroke-width="0.55">10</text>
<text x="557.8" y="202.8" font-size="11.5" textLength="8" lengthAdjust="spacingAndGlyphs" fill="#000" stroke="#000" stroke-width="0.5">4</text>
<text x="465.4" y="495.4" textLength="15.2" lengthAdjust="spacingAndGlyphs">N</text>
<text x="483" y="495.4" textLength="12.8" lengthAdjust="spacingAndGlyphs" fill="#fff" fill-opacity="0.55">=</text>
<text x="499.8" y="495.4" textLength="10.5" lengthAdjust="spacingAndGlyphs" fill="#000" stroke="#000" stroke-width="0.55">5</text><text x="514.5" y="498.0" font-size="25" textLength="13" lengthAdjust="spacingAndGlyphs" fill="#000" stroke="#000" stroke-width="0.4">×</text><text x="532.5" y="495.4" textLength="22.5" lengthAdjust="spacingAndGlyphs" fill="#000" stroke="#000" stroke-width="0.55">10</text>
<text x="557.8" y="489.2" font-size="11.5" textLength="8" lengthAdjust="spacingAndGlyphs" fill="#000" stroke="#000" stroke-width="0.5">5</text>
<text x="502.4" y="72.9" font-size="20" textLength="47.5" lengthAdjust="spacingAndGlyphs">True</text>
<text x="511.9" y="89.4" font-size="20" textLength="56.6" lengthAdjust="spacingAndGlyphs">Value</text>
<text x="538" y="115.4" font-size="19.5" textLength="10" lengthAdjust="spacingAndGlyphs">1</text><text x="548.5" y="115.4" font-size="19.5" font-style="italic" textLength="12" lengthAdjust="spacingAndGlyphs">σ</text>
<text x="538" y="132.0" font-size="19.5" textLength="10" lengthAdjust="spacingAndGlyphs">2</text><text x="548.5" y="132.0" font-size="19.5" font-style="italic" textLength="12" lengthAdjust="spacingAndGlyphs">σ</text>
<text x="538" y="148.3" font-size="19.5" textLength="10" lengthAdjust="spacingAndGlyphs">3</text><text x="548.5" y="148.3" font-size="19.5" font-style="italic" textLength="12" lengthAdjust="spacingAndGlyphs">σ</text>
</g>
<path d="M493 108.2H519" stroke="#000" stroke-width="2.2"/>
<path d="M493 125.7H519" stroke="#fffde0" stroke-width="2.2"/>
<path d="M493 142.3H519" stroke="#fffbb0" stroke-width="0.9"/>
<path d="M476.8 67.2L493 82.4M493 67.2L476.8 82.4" stroke="#000" stroke-width="1.8"/>
<g font-size="22" font-weight="bold" fill="#fff">
<text x="89.7" y="377.2" textLength="61.5" lengthAdjust="spacingAndGlyphs">SCDM</text>
<text x="335.4" y="377.2" textLength="59" lengthAdjust="spacingAndGlyphs">LCDM</text>
<text x="501.3" y="402.2" textLength="61" lengthAdjust="spacingAndGlyphs">OCDM</text>
</g>
<g font-size="21" fill="#fff" stroke="#fff" stroke-width="0.45">
<text x="427" y="374" textLength="11.5" lengthAdjust="spacingAndGlyphs">P</text><text x="440.5" y="379.3" font-size="12.5" font-weight="bold" stroke="none">0</text>
<text x="448.5" y="374" textLength="31" lengthAdjust="spacingAndGlyphs">&amp;P</text><text x="480.3" y="379.3" font-size="12.5" font-weight="bold" stroke="none">2</text>
<text x="487" y="374" textLength="47" lengthAdjust="spacingAndGlyphs">:Γ=Γ</text><text x="536" y="379.5" font-size="12.5" font-weight="bold" stroke="none" textLength="25" lengthAdjust="spacingAndGlyphs">sim</text>
</g>
<g fill="none" shape-rendering="crispEdges"><path d="M651 343.5h5M677 343.5h6M651 335.5h5M677 335.5h6M651 330.5h5M677 330.5h6M651 325.5h5M677 325.5h6M651 322.5h5M677 322.5h6M651 319.5h5M677 319.5h6M651 316.5h5M677 316.5h6M651 314.5h5M677 314.5h6M651 312.5h13M671 312.5h12M651 299.5h5M677 299.5h6M651 291.5h5M677 291.5h6M651 286.5h5M677 286.5h6M651 282.5h5M677 282.5h6M651 278.5h5M677 278.5h6M651 275.5h5M677 275.5h6M651 273.5h5M677 273.5h6M651 271.5h5M677 271.5h6M651 269.5h13M671 269.5h12M651 256.5h5M677 256.5h6M651 248.5h5M677 248.5h6M651 242.5h5M677 242.5h6M651 238.5h5M677 238.5h6M651 235.5h5M677 235.5h6M651 232.5h5M677 232.5h6M651 229.5h5M677 229.5h6M651 227.5h5M677 227.5h6M651 225.5h13M671 225.5h12M651 212.5h5M677 212.5h6M651 204.5h5M677 204.5h6M651 199.5h5M677 199.5h6M651 195.5h5M677 195.5h6M651 191.5h5M677 191.5h6M651 188.5h5M677 188.5h6M651 186.5h5M677 186.5h6M651 184.5h5M677 184.5h6M651 182.5h13M671 182.5h12M651 168.5h5M677 168.5h6M651 161.5h5M677 161.5h6M651 155.5h5M677 155.5h6M651 151.5h5M677 151.5h6M651 148.5h5M677 148.5h6M651 145.5h5M677 145.5h6M651 142.5h5M677 142.5h6M651 140.5h5M677 140.5h6" stroke="#fff" stroke-opacity="0.8" stroke-width="1"/>
<path d="M651.5 356V138.5H683.5V355.5H651.5" stroke="#fff" stroke-opacity="0.85"/>
<path d="M652 337.5H672" stroke="#500" stroke-opacity="0.7"/></g>
</svg></div></body></html>
